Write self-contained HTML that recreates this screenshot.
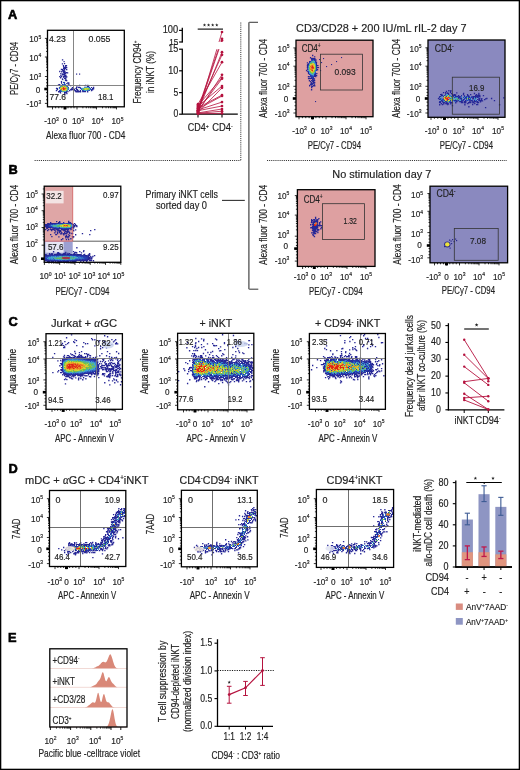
<!DOCTYPE html>
<html><head><meta charset="utf-8"><style>
html,body{margin:0;padding:0;background:#fff;overflow:hidden;width:520px;height:770px;}
svg{display:block;will-change:transform;}
</style></head><body>
<svg width="520" height="770" viewBox="0 0 520 770" font-family="'Liberation Sans', sans-serif" fill="#222">
<style>text{stroke:#222;stroke-width:0.15px;}</style>
<defs><filter id="bl" x="-50%" y="-50%" width="200%" height="200%"><feGaussianBlur stdDeviation="0.7"/></filter>
<filter id="pb" x="-5%" y="-5%" width="110%" height="110%"><feGaussianBlur stdDeviation="0.4"/></filter>
<filter id="bl2" x="-50%" y="-50%" width="200%" height="200%"><feGaussianBlur stdDeviation="1.2"/></filter></defs>
<rect width="520" height="770" fill="#fff"/>
<rect x="0.60" y="0.60" width="518.80" height="768.80" fill="none" stroke="#000" stroke-width="1.4"/>
<text x="8.00" y="18.80" font-size="12.8" font-weight="bold" fill="#000" style="stroke:#000;stroke-width:0.6px">A</text>
<text x="8.50" y="174.20" font-size="12.8" font-weight="bold" fill="#000" style="stroke:#000;stroke-width:0.6px">B</text>
<text x="8.50" y="325.60" font-size="12.8" font-weight="bold" fill="#000" style="stroke:#000;stroke-width:0.6px">C</text>
<text x="8.50" y="472.60" font-size="12.8" font-weight="bold" fill="#000" style="stroke:#000;stroke-width:0.6px">D</text>
<text x="8.00" y="641.60" font-size="12.8" font-weight="bold" fill="#000" style="stroke:#000;stroke-width:0.6px">E</text>
<g filter="url(#pb)"><path fill="#282896" d="M61.9 59.2h1.35v1.35h-1.35zM61.8 63.2h1.35v1.35h-1.35zM62.8 65.0h1.35v1.35h-1.35zM65.0 64.9h1.35v1.35h-1.35zM65.8 64.9h1.35v1.35h-1.35zM63.0 65.9h1.35v1.35h-1.35zM65.1 66.2h1.35v1.35h-1.35zM63.2 67.0h1.35v1.35h-1.35zM64.2 66.9h1.35v1.35h-1.35zM65.0 67.1h1.35v1.35h-1.35zM66.0 66.9h1.35v1.35h-1.35zM62.9 68.0h1.35v1.35h-1.35zM63.8 68.2h1.35v1.35h-1.35zM64.8 67.8h1.35v1.35h-1.35zM60.8 68.8h1.35v1.35h-1.35zM61.8 69.0h1.35v1.35h-1.35zM63.8 69.2h1.35v1.35h-1.35zM66.0 69.0h1.35v1.35h-1.35zM62.1 70.1h1.35v1.35h-1.35zM63.2 69.8h1.35v1.35h-1.35zM59.1 70.8h1.35v1.35h-1.35zM61.1 71.1h1.35v1.35h-1.35zM63.0 71.1h1.35v1.35h-1.35zM64.2 70.8h1.35v1.35h-1.35zM63.1 71.8h1.35v1.35h-1.35zM63.8 72.2h1.35v1.35h-1.35zM65.1 72.2h1.35v1.35h-1.35zM66.0 71.9h1.35v1.35h-1.35zM66.9 72.2h1.35v1.35h-1.35zM60.2 73.1h1.35v1.35h-1.35zM62.1 73.2h1.35v1.35h-1.35zM63.8 73.1h1.35v1.35h-1.35zM64.8 73.0h1.35v1.35h-1.35zM61.8 74.2h1.35v1.35h-1.35zM62.8 74.1h1.35v1.35h-1.35zM63.9 73.8h1.35v1.35h-1.35zM60.2 75.0h1.35v1.35h-1.35zM64.1 74.9h1.35v1.35h-1.35zM65.2 74.8h1.35v1.35h-1.35zM59.1 76.0h1.35v1.35h-1.35zM61.0 76.0h1.35v1.35h-1.35zM63.0 76.1h1.35v1.35h-1.35zM64.2 75.9h1.35v1.35h-1.35zM64.8 75.8h1.35v1.35h-1.35zM66.1 76.2h1.35v1.35h-1.35zM60.0 77.1h1.35v1.35h-1.35zM63.2 77.1h1.35v1.35h-1.35zM65.2 77.0h1.35v1.35h-1.35zM62.1 78.2h1.35v1.35h-1.35zM63.8 78.0h1.35v1.35h-1.35zM64.9 77.9h1.35v1.35h-1.35zM61.8 79.2h1.35v1.35h-1.35zM65.2 78.8h1.35v1.35h-1.35zM65.0 80.1h1.35v1.35h-1.35zM66.0 79.9h1.35v1.35h-1.35zM60.8 80.9h1.35v1.35h-1.35zM60.9 81.8h1.35v1.35h-1.35zM67.1 82.2h1.35v1.35h-1.35zM68.1 82.2h1.35v1.35h-1.35zM61.2 82.8h1.35v1.35h-1.35zM66.2 83.1h1.35v1.35h-1.35zM68.1 82.8h1.35v1.35h-1.35zM57.9 84.2h1.35v1.35h-1.35zM59.0 84.0h1.35v1.35h-1.35zM68.2 83.9h1.35v1.35h-1.35zM59.2 85.2h1.35v1.35h-1.35zM69.9 85.0h1.35v1.35h-1.35zM78.9 84.8h1.35v1.35h-1.35zM84.1 84.9h1.35v1.35h-1.35zM84.9 84.8h1.35v1.35h-1.35zM87.2 84.8h1.35v1.35h-1.35zM76.2 86.2h1.35v1.35h-1.35zM86.8 86.1h1.35v1.35h-1.35zM87.9 85.9h1.35v1.35h-1.35zM71.8 87.0h1.35v1.35h-1.35zM75.9 87.1h1.35v1.35h-1.35zM77.9 86.8h1.35v1.35h-1.35zM79.0 87.0h1.35v1.35h-1.35zM80.0 87.2h1.35v1.35h-1.35zM90.8 87.0h1.35v1.35h-1.35zM92.9 86.8h1.35v1.35h-1.35zM55.9 87.8h1.35v1.35h-1.35zM57.0 88.1h1.35v1.35h-1.35zM71.2 88.0h1.35v1.35h-1.35zM72.8 88.0h1.35v1.35h-1.35zM75.1 88.2h1.35v1.35h-1.35zM75.9 87.9h1.35v1.35h-1.35zM92.0 87.9h1.35v1.35h-1.35zM92.9 88.2h1.35v1.35h-1.35zM56.8 89.0h1.35v1.35h-1.35zM70.1 88.8h1.35v1.35h-1.35zM70.8 89.2h1.35v1.35h-1.35zM72.0 89.0h1.35v1.35h-1.35zM73.0 88.8h1.35v1.35h-1.35zM74.1 88.8h1.35v1.35h-1.35zM75.8 89.0h1.35v1.35h-1.35zM76.9 88.8h1.35v1.35h-1.35zM91.9 89.1h1.35v1.35h-1.35zM55.8 90.0h1.35v1.35h-1.35zM69.0 89.8h1.35v1.35h-1.35zM74.2 89.9h1.35v1.35h-1.35zM75.1 89.9h1.35v1.35h-1.35zM76.9 90.2h1.35v1.35h-1.35zM77.8 90.2h1.35v1.35h-1.35zM79.8 89.8h1.35v1.35h-1.35zM90.8 89.8h1.35v1.35h-1.35zM58.0 91.1h1.35v1.35h-1.35zM58.9 91.1h1.35v1.35h-1.35zM67.2 91.0h1.35v1.35h-1.35zM75.1 90.8h1.35v1.35h-1.35zM75.8 91.1h1.35v1.35h-1.35zM77.0 91.1h1.35v1.35h-1.35zM78.1 91.2h1.35v1.35h-1.35zM79.2 91.0h1.35v1.35h-1.35zM79.9 91.1h1.35v1.35h-1.35zM82.1 91.0h1.35v1.35h-1.35zM83.1 90.8h1.35v1.35h-1.35zM84.2 90.8h1.35v1.35h-1.35zM84.8 91.0h1.35v1.35h-1.35zM87.0 91.1h1.35v1.35h-1.35zM59.9 92.1h1.35v1.35h-1.35zM64.0 91.8h1.35v1.35h-1.35zM64.9 91.8h1.35v1.35h-1.35zM65.8 92.0h1.35v1.35h-1.35zM64.1 92.9h1.35v1.35h-1.35zM66.2 93.0h1.35v1.35h-1.35zM64.1 93.8h1.35v1.35h-1.35z"/><path fill="#e0e8f0" d="M63 78h1v1h-1zM64 79h1v1h-1zM62 80h3v1h-3zM62 81h4v1h-4zM62 82h1v1h-1zM65 82h1v1h-1zM62 83h2v1h-2zM65 83h1v1h-1zM61 84h1v1h-1zM66 84h1v1h-1zM60 85h1v1h-1zM67 85h1v1h-1zM59 86h1v1h-1zM68 86h1v1h-1zM58 87h1v1h-1zM81 87h3v1h-3zM90 87h1v1h-1zM58 88h1v1h-1zM69 88h2v1h-2zM77 88h3v1h-3zM91 88h1v1h-1zM58 89h2v1h-2zM69 89h1v1h-1zM75 89h1v1h-1zM78 89h3v1h-3zM68 90h1v1h-1zM81 90h1v1h-1zM90 90h1v1h-1zM61 92h3v1h-3z"/><path fill="#2840b0" d="M63 82h2v1h-2zM62 84h1v1h-1zM65 85h1v1h-1zM80 88h1v1h-1zM91 89h1v1h-1zM82 90h1v1h-1zM66 91h1v1h-1z"/><path fill="#3058b8" d="M64 83h1v1h-1zM90 88h1v1h-1zM89 90h1v1h-1z"/><path fill="#3880c8" d="M63 84h1v1h-1zM81 88h1v1h-1zM68 89h1v1h-1z"/><path fill="#2840b8" d="M64 84h1v1h-1zM60 91h1v1h-1z"/><path fill="#3878c8" d="M65 84h1v1h-1zM59 88h1v1h-1zM68 88h1v1h-1zM87 90h1v1h-1z"/><path fill="#3058c0" d="M61 85h1v1h-1zM67 86h1v1h-1zM81 89h1v1h-1z"/><path fill="#48a8d0" d="M62 85h1v1h-1z"/><path fill="#50b0a0" d="M63 85h2v1h-2zM61 90h1v1h-1z"/><path fill="#3060c0" d="M66 85h1v1h-1zM83 90h1v1h-1z"/><path fill="#3888d0" d="M60 86h1v1h-1z"/><path fill="#60b878" d="M61 86h1v1h-1zM60 89h1v1h-1z"/><path fill="#68b860" d="M62 86h1v1h-1z"/><path fill="#e0c830" d="M63 86h1v1h-1z"/><path fill="#80c048" d="M64 86h1v1h-1zM88 89h1v1h-1z"/><path fill="#c0d038" d="M65 86h1v1h-1zM86 89h1v1h-1zM63 90h1v1h-1z"/><path fill="#4090d0" d="M66 86h1v1h-1z"/><path fill="#2848b8" d="M59 87h1v1h-1zM68 87h1v1h-1zM89 87h1v1h-1zM60 90h1v1h-1z"/><path fill="#70c048" d="M60 87h1v1h-1z"/><path fill="#d8d838" d="M61 87h1v1h-1zM60 88h1v1h-1z"/><path fill="#e0b830" d="M62 87h1v1h-1zM64 87h1v1h-1z"/><path fill="#e04020" d="M63 87h1v1h-1zM64 88h1v1h-1z"/><path fill="#e8b028" d="M65 87h1v1h-1zM65 89h1v1h-1z"/><path fill="#b0d040" d="M66 87h1v1h-1zM86 88h1v1h-1z"/><path fill="#58b880" d="M67 87h1v1h-1z"/><path fill="#4098d0" d="M84 87h2v1h-2zM88 87h1v1h-1zM64 91h1v1h-1z"/><path fill="#50b0b0" d="M86 87h2v1h-2zM83 88h1v1h-1zM62 91h1v1h-1z"/><path fill="#e8a028" d="M61 88h1v1h-1z"/><path fill="#e87820" d="M62 88h1v1h-1z"/><path fill="#e02018" d="M63 88h1v1h-1zM63 89h1v1h-1z"/><path fill="#e86020" d="M65 88h1v1h-1zM61 89h1v1h-1z"/><path fill="#98c840" d="M66 88h1v1h-1zM84 89h1v1h-1z"/><path fill="#58b088" d="M67 88h1v1h-1z"/><path fill="#48a8c8" d="M82 88h1v1h-1z"/><path fill="#b8d038" d="M84 88h1v1h-1z"/><path fill="#d8d830" d="M85 88h1v1h-1zM87 88h1v1h-1z"/><path fill="#90c840" d="M88 88h1v1h-1z"/><path fill="#58b888" d="M89 88h1v1h-1zM63 91h1v1h-1z"/><path fill="#e0d830" d="M62 89h1v1h-1z"/><path fill="#e85820" d="M64 89h1v1h-1z"/><path fill="#e0d030" d="M66 89h1v1h-1zM65 90h1v1h-1z"/><path fill="#48a8b8" d="M67 89h1v1h-1zM67 90h1v1h-1z"/><path fill="#58b090" d="M82 89h1v1h-1zM89 89h1v1h-1z"/><path fill="#68c050" d="M83 89h1v1h-1z"/><path fill="#d0d838" d="M85 89h1v1h-1z"/><path fill="#88c848" d="M87 89h1v1h-1z"/><path fill="#3068c0" d="M90 89h1v1h-1zM61 91h1v1h-1z"/><path fill="#3050b8" d="M59 90h1v1h-1z"/><path fill="#e0b030" d="M62 90h1v1h-1z"/><path fill="#e0c030" d="M64 90h1v1h-1z"/><path fill="#60b870" d="M66 90h1v1h-1z"/><path fill="#40a8d0" d="M84 90h1v1h-1z"/><path fill="#40a0d8" d="M85 90h1v1h-1z"/><path fill="#58b098" d="M86 90h1v1h-1z"/><path fill="#3870c8" d="M88 90h1v1h-1z"/><path fill="#50b0a8" d="M65 91h1v1h-1z"/></g>
<rect x="76" y="73.5" width="1.2" height="1.2" fill="#2b2a8e"/><rect x="79" y="73.5" width="1.2" height="1.2" fill="#2b2a8e"/><rect x="63.5" y="61" width="1.2" height="1.2" fill="#2b2a8e"/><rect x="64" y="63" width="1.2" height="1.2" fill="#2b2a8e"/>
<line x1="73.50" y1="30.90" x2="73.50" y2="106.80" stroke="#777" stroke-width="0.9"/>
<line x1="47.50" y1="85.50" x2="124.30" y2="85.50" stroke="#777" stroke-width="0.9"/>
<line x1="46.00" y1="70.63" x2="47.50" y2="70.63" stroke="#000" stroke-width="0.8"/>
<line x1="46.00" y1="67.20" x2="47.50" y2="67.20" stroke="#000" stroke-width="0.8"/>
<line x1="46.00" y1="64.76" x2="47.50" y2="64.76" stroke="#000" stroke-width="0.8"/>
<line x1="46.00" y1="62.87" x2="47.50" y2="62.87" stroke="#000" stroke-width="0.8"/>
<line x1="46.00" y1="61.33" x2="47.50" y2="61.33" stroke="#000" stroke-width="0.8"/>
<line x1="46.00" y1="60.02" x2="47.50" y2="60.02" stroke="#000" stroke-width="0.8"/>
<line x1="46.00" y1="58.89" x2="47.50" y2="58.89" stroke="#000" stroke-width="0.8"/>
<line x1="46.00" y1="57.89" x2="47.50" y2="57.89" stroke="#000" stroke-width="0.8"/>
<line x1="46.00" y1="51.40" x2="47.50" y2="51.40" stroke="#000" stroke-width="0.8"/>
<line x1="46.00" y1="48.13" x2="47.50" y2="48.13" stroke="#000" stroke-width="0.8"/>
<line x1="46.00" y1="45.80" x2="47.50" y2="45.80" stroke="#000" stroke-width="0.8"/>
<line x1="46.00" y1="44.00" x2="47.50" y2="44.00" stroke="#000" stroke-width="0.8"/>
<line x1="46.00" y1="42.53" x2="47.50" y2="42.53" stroke="#000" stroke-width="0.8"/>
<line x1="46.00" y1="41.28" x2="47.50" y2="41.28" stroke="#000" stroke-width="0.8"/>
<line x1="46.00" y1="40.20" x2="47.50" y2="40.20" stroke="#000" stroke-width="0.8"/>
<line x1="46.00" y1="39.25" x2="47.50" y2="39.25" stroke="#000" stroke-width="0.8"/>
<line x1="46.00" y1="85.88" x2="47.50" y2="85.88" stroke="#000" stroke-width="0.8"/>
<line x1="46.00" y1="92.60" x2="47.50" y2="92.60" stroke="#000" stroke-width="0.8"/>
<line x1="46.00" y1="82.75" x2="47.50" y2="82.75" stroke="#000" stroke-width="0.8"/>
<line x1="46.00" y1="96.20" x2="47.50" y2="96.20" stroke="#000" stroke-width="0.8"/>
<line x1="46.00" y1="79.62" x2="47.50" y2="79.62" stroke="#000" stroke-width="0.8"/>
<line x1="46.00" y1="99.80" x2="47.50" y2="99.80" stroke="#000" stroke-width="0.8"/>
<line x1="44.90" y1="38.40" x2="47.50" y2="38.40" stroke="#000" stroke-width="0.8"/>
<line x1="44.90" y1="57.00" x2="47.50" y2="57.00" stroke="#000" stroke-width="0.8"/>
<line x1="44.90" y1="76.50" x2="47.50" y2="76.50" stroke="#000" stroke-width="0.8"/>
<line x1="44.90" y1="89.00" x2="47.50" y2="89.00" stroke="#000" stroke-width="0.8"/>
<line x1="44.90" y1="103.40" x2="47.50" y2="103.40" stroke="#000" stroke-width="0.8"/>
<line x1="82.87" y1="106.80" x2="82.87" y2="108.30" stroke="#000" stroke-width="0.8"/>
<line x1="86.30" y1="106.80" x2="86.30" y2="108.30" stroke="#000" stroke-width="0.8"/>
<line x1="88.74" y1="106.80" x2="88.74" y2="108.30" stroke="#000" stroke-width="0.8"/>
<line x1="90.63" y1="106.80" x2="90.63" y2="108.30" stroke="#000" stroke-width="0.8"/>
<line x1="92.17" y1="106.80" x2="92.17" y2="108.30" stroke="#000" stroke-width="0.8"/>
<line x1="93.48" y1="106.80" x2="93.48" y2="108.30" stroke="#000" stroke-width="0.8"/>
<line x1="94.61" y1="106.80" x2="94.61" y2="108.30" stroke="#000" stroke-width="0.8"/>
<line x1="95.61" y1="106.80" x2="95.61" y2="108.30" stroke="#000" stroke-width="0.8"/>
<line x1="102.52" y1="106.80" x2="102.52" y2="108.30" stroke="#000" stroke-width="0.8"/>
<line x1="106.04" y1="106.80" x2="106.04" y2="108.30" stroke="#000" stroke-width="0.8"/>
<line x1="108.54" y1="106.80" x2="108.54" y2="108.30" stroke="#000" stroke-width="0.8"/>
<line x1="110.48" y1="106.80" x2="110.48" y2="108.30" stroke="#000" stroke-width="0.8"/>
<line x1="112.06" y1="106.80" x2="112.06" y2="108.30" stroke="#000" stroke-width="0.8"/>
<line x1="113.40" y1="106.80" x2="113.40" y2="108.30" stroke="#000" stroke-width="0.8"/>
<line x1="114.56" y1="106.80" x2="114.56" y2="108.30" stroke="#000" stroke-width="0.8"/>
<line x1="115.58" y1="106.80" x2="115.58" y2="108.30" stroke="#000" stroke-width="0.8"/>
<line x1="68.00" y1="106.80" x2="68.00" y2="108.30" stroke="#000" stroke-width="0.8"/>
<line x1="61.88" y1="106.80" x2="61.88" y2="108.30" stroke="#000" stroke-width="0.8"/>
<line x1="71.00" y1="106.80" x2="71.00" y2="108.30" stroke="#000" stroke-width="0.8"/>
<line x1="58.75" y1="106.80" x2="58.75" y2="108.30" stroke="#000" stroke-width="0.8"/>
<line x1="74.00" y1="106.80" x2="74.00" y2="108.30" stroke="#000" stroke-width="0.8"/>
<line x1="55.62" y1="106.80" x2="55.62" y2="108.30" stroke="#000" stroke-width="0.8"/>
<line x1="52.50" y1="106.80" x2="52.50" y2="109.40" stroke="#000" stroke-width="0.8"/>
<line x1="65.00" y1="106.80" x2="65.00" y2="109.40" stroke="#000" stroke-width="0.8"/>
<line x1="77.00" y1="106.80" x2="77.00" y2="109.40" stroke="#000" stroke-width="0.8"/>
<line x1="96.50" y1="106.80" x2="96.50" y2="109.40" stroke="#000" stroke-width="0.8"/>
<line x1="116.50" y1="106.80" x2="116.50" y2="109.40" stroke="#000" stroke-width="0.8"/>
<rect x="44.30" y="87.70" width="3.20" height="2.60" fill="#000"/>
<rect x="63.50" y="106.80" width="3.00" height="2.60" fill="#000"/>
<rect x="47.50" y="30.30" width="76.80" height="76.50" fill="none" stroke="#000" stroke-width="1.3"/>
<text x="41.20" y="42.20" font-size="8.2" text-anchor="end" transform="translate(41.20 42.20) scale(1 1.18) translate(-41.20 -42.20)">10<tspan dy="-3" font-size="5">5</tspan></text>
<text x="41.20" y="60.80" font-size="8.2" text-anchor="end" transform="translate(41.20 60.80) scale(1 1.18) translate(-41.20 -60.80)">10<tspan dy="-3" font-size="5">4</tspan></text>
<text x="41.20" y="80.30" font-size="8.2" text-anchor="end" transform="translate(41.20 80.30) scale(1 1.18) translate(-41.20 -80.30)">10<tspan dy="-3" font-size="5">3</tspan></text>
<text x="40.20" y="92.80" font-size="8.2" text-anchor="end" transform="translate(40.20 92.80) scale(1 1.18) translate(-40.20 -92.80)">0</text>
<text x="41.20" y="107.20" font-size="8.2" text-anchor="end" transform="translate(41.20 107.20) scale(1 1.18) translate(-41.20 -107.20)">-10<tspan dy="-3" font-size="5">3</tspan></text>
<text x="78.00" y="124.40" font-size="8.2" text-anchor="middle" transform="translate(78.00 124.40) scale(1 1.18) translate(-78.00 -124.40)">10<tspan dy="-3" font-size="5">3</tspan></text>
<text x="97.50" y="124.40" font-size="8.2" text-anchor="middle" transform="translate(97.50 124.40) scale(1 1.18) translate(-97.50 -124.40)">10<tspan dy="-3" font-size="5">4</tspan></text>
<text x="117.50" y="124.40" font-size="8.2" text-anchor="middle" transform="translate(117.50 124.40) scale(1 1.18) translate(-117.50 -124.40)">10<tspan dy="-3" font-size="5">5</tspan></text>
<text x="65.00" y="124.40" font-size="8.2" text-anchor="middle" transform="translate(65.00 124.40) scale(1 1.18) translate(-65.00 -124.40)">0</text>
<text x="51.50" y="124.40" font-size="8.2" text-anchor="middle" transform="translate(51.50 124.40) scale(1 1.18) translate(-51.50 -124.40)">-10<tspan dy="-3" font-size="5">3</tspan></text>
<text x="17.60" y="68.50" font-size="9.0" text-anchor="middle" textLength="53.00" lengthAdjust="spacingAndGlyphs" transform="rotate(-90 17.60 68.50) translate(17.60 68.50) scale(1 1.18) translate(-17.60 -68.50)">PE/Cy7 - CD94</text>
<text x="46.00" y="138.60" font-size="9.0" textLength="79.50" lengthAdjust="spacingAndGlyphs" transform="translate(46.00 138.60) scale(1 1.18) translate(-46.00 -138.60)">Alexa fluor 700 - CD4</text>
<text x="49.00" y="41.60" font-size="8.2" textLength="16.80" lengthAdjust="spacingAndGlyphs" transform="translate(49.00 41.60) scale(1 1.18) translate(-49.00 -41.60)">4.23</text>
<text x="88.50" y="41.60" font-size="8.2" textLength="22.00" lengthAdjust="spacingAndGlyphs" transform="translate(88.50 41.60) scale(1 1.18) translate(-88.50 -41.60)">0.055</text>
<text x="49.50" y="100.40" font-size="8.2" textLength="16.50" lengthAdjust="spacingAndGlyphs" transform="translate(49.50 100.40) scale(1 1.18) translate(-49.50 -100.40)">77.6</text>
<text x="98.00" y="100.40" font-size="8.2" textLength="15.40" lengthAdjust="spacingAndGlyphs" transform="translate(98.00 100.40) scale(1 1.18) translate(-98.00 -100.40)">18.1</text>
<line x1="182.30" y1="49.20" x2="182.30" y2="114.60" stroke="#000" stroke-width="1.3"/>
<line x1="182.30" y1="27.80" x2="182.30" y2="42.20" stroke="#000" stroke-width="1.3"/>
<line x1="179.10" y1="114.20" x2="182.30" y2="114.20" stroke="#000" stroke-width="1.2"/>
<line x1="179.10" y1="92.60" x2="182.30" y2="92.60" stroke="#000" stroke-width="1.2"/>
<line x1="179.10" y1="70.80" x2="182.30" y2="70.80" stroke="#000" stroke-width="1.2"/>
<line x1="179.10" y1="49.20" x2="182.90" y2="49.20" stroke="#000" stroke-width="1.2"/>
<line x1="179.10" y1="42.00" x2="182.90" y2="42.00" stroke="#000" stroke-width="1.2"/>
<line x1="179.10" y1="30.40" x2="182.30" y2="30.40" stroke="#000" stroke-width="1.2"/>
<line x1="182.30" y1="114.20" x2="237.80" y2="114.20" stroke="#000" stroke-width="1.3"/>
<line x1="198.00" y1="114.20" x2="198.00" y2="117.60" stroke="#000" stroke-width="1.1"/>
<line x1="222.00" y1="114.20" x2="222.00" y2="117.60" stroke="#000" stroke-width="1.1"/>
<text x="178.20" y="117.40" font-size="8.8" text-anchor="end" textLength="4.80" lengthAdjust="spacingAndGlyphs" transform="translate(178.20 117.40) scale(1 1.18) translate(-178.20 -117.40)">0</text>
<text x="178.20" y="95.80" font-size="8.8" text-anchor="end" textLength="4.80" lengthAdjust="spacingAndGlyphs" transform="translate(178.20 95.80) scale(1 1.18) translate(-178.20 -95.80)">5</text>
<text x="178.20" y="74.00" font-size="8.8" text-anchor="end" textLength="10.00" lengthAdjust="spacingAndGlyphs" transform="translate(178.20 74.00) scale(1 1.18) translate(-178.20 -74.00)">10</text>
<text x="178.20" y="52.40" font-size="8.8" text-anchor="end" textLength="10.00" lengthAdjust="spacingAndGlyphs" transform="translate(178.20 52.40) scale(1 1.18) translate(-178.20 -52.40)">15</text>
<text x="178.20" y="44.80" font-size="8.2" text-anchor="end" textLength="9.00" lengthAdjust="spacingAndGlyphs" transform="translate(178.20 44.80) scale(1 1.18) translate(-178.20 -44.80)">15</text>
<text x="178.20" y="33.40" font-size="8.8" text-anchor="end" textLength="15.50" lengthAdjust="spacingAndGlyphs" transform="translate(178.20 33.40) scale(1 1.18) translate(-178.20 -33.40)">100</text>
<path d="M198 113.8L222 113.3M198 112.9L222 109.0M198 110.7L222 106.0M198 109.9L222 102.1M198 109.0L222 96.0M198 107.7L222 95.1M198 112.5L222 87.8M198 106.4L222 86.0M198 110.3L222 78.7M198 105.5L222 77.8M198 111.6L222 74.8M198 104.2L222 62.2M198 108.1L222 54.8M198 111.2L222 52.2M198 113.3L222 111.2M198 112.9L216.9 49.2M219.0 42L222 32.0M198 108.6L218.4 49.2M220.9 42L222 38.8M198 110.7L219.0 49.2M221.5 42L222 40.4" stroke="#b5123e" stroke-width="0.8" fill="none"/>
<g fill="#b5123e"><circle cx="198.0" cy="113.8" r="1.35"/><circle cx="222.0" cy="113.3" r="1.35"/><circle cx="198.0" cy="112.9" r="1.35"/><circle cx="222.0" cy="109.0" r="1.35"/><circle cx="198.0" cy="110.7" r="1.35"/><circle cx="222.0" cy="106.0" r="1.35"/><circle cx="198.0" cy="109.9" r="1.35"/><circle cx="222.0" cy="102.1" r="1.35"/><circle cx="198.0" cy="109.0" r="1.35"/><circle cx="222.0" cy="96.0" r="1.35"/><circle cx="198.0" cy="107.7" r="1.35"/><circle cx="222.0" cy="95.1" r="1.35"/><circle cx="198.0" cy="112.5" r="1.35"/><circle cx="222.0" cy="87.8" r="1.35"/><circle cx="198.0" cy="106.4" r="1.35"/><circle cx="222.0" cy="86.0" r="1.35"/><circle cx="198.0" cy="110.3" r="1.35"/><circle cx="222.0" cy="78.7" r="1.35"/><circle cx="198.0" cy="105.5" r="1.35"/><circle cx="222.0" cy="77.8" r="1.35"/><circle cx="198.0" cy="111.6" r="1.35"/><circle cx="222.0" cy="74.8" r="1.35"/><circle cx="198.0" cy="104.2" r="1.35"/><circle cx="222.0" cy="62.2" r="1.35"/><circle cx="198.0" cy="108.1" r="1.35"/><circle cx="222.0" cy="54.8" r="1.35"/><circle cx="198.0" cy="111.2" r="1.35"/><circle cx="222.0" cy="52.2" r="1.35"/><circle cx="198.0" cy="113.3" r="1.35"/><circle cx="222.0" cy="111.2" r="1.35"/><circle cx="198.0" cy="112.9" r="1.35"/><circle cx="222.0" cy="32.0" r="1.35"/><circle cx="198.0" cy="108.6" r="1.35"/><circle cx="222.0" cy="38.8" r="1.35"/><circle cx="198.0" cy="110.7" r="1.35"/><circle cx="222.0" cy="40.4" r="1.35"/></g>
<line x1="197.70" y1="29.10" x2="223.00" y2="29.10" stroke="#000" stroke-width="1.1"/>
<polygon points="204.50,23.30 204.94,24.39 206.12,24.47 205.21,25.23 205.50,26.38 204.50,25.75 203.50,26.38 203.79,25.23 202.88,24.47 204.06,24.39" fill="#222"/>
<polygon points="208.60,23.30 209.04,24.39 210.22,24.47 209.31,25.23 209.60,26.38 208.60,25.75 207.60,26.38 207.89,25.23 206.98,24.47 208.16,24.39" fill="#222"/>
<polygon points="212.70,23.30 213.14,24.39 214.32,24.47 213.41,25.23 213.70,26.38 212.70,25.75 211.70,26.38 211.99,25.23 211.08,24.47 212.26,24.39" fill="#222"/>
<polygon points="216.80,23.30 217.24,24.39 218.42,24.47 217.51,25.23 217.80,26.38 216.80,25.75 215.80,26.38 216.09,25.23 215.18,24.47 216.36,24.39" fill="#222"/>
<text x="141.00" y="72.00" font-size="9.0" text-anchor="middle" textLength="63.00" lengthAdjust="spacingAndGlyphs" transform="rotate(-90 141.00 72.00) translate(141.00 72.00) scale(1 1.18) translate(-141.00 -72.00)">Frequency CD94<tspan dy="-3.2" font-size="5.2">+</tspan><tspan dy="3.2"></tspan></text>
<text x="154.00" y="72.00" font-size="9.0" text-anchor="middle" textLength="42.00" lengthAdjust="spacingAndGlyphs" transform="rotate(-90 154.00 72.00) translate(154.00 72.00) scale(1 1.18) translate(-154.00 -72.00)">in iNKT (%)</text>
<text x="187.70" y="131.50" font-size="8.8" textLength="21.00" lengthAdjust="spacingAndGlyphs" transform="translate(187.70 131.50) scale(1 1.18) translate(-187.70 -131.50)">CD4<tspan dy="-3.2" font-size="5">+</tspan></text>
<text x="212.30" y="131.50" font-size="8.8" textLength="20.50" lengthAdjust="spacingAndGlyphs" transform="translate(212.30 131.50) scale(1 1.18) translate(-212.30 -131.50)">CD4<tspan dy="-3.2" font-size="5">-</tspan></text>
<line x1="240.80" y1="22.50" x2="240.80" y2="160.50" stroke="#222" stroke-width="0.9" stroke-dasharray="1.1 1"/>
<line x1="34.60" y1="160.50" x2="240.80" y2="160.50" stroke="#222" stroke-width="0.9" stroke-dasharray="1.1 1"/>
<line x1="267.00" y1="160.50" x2="507.00" y2="160.50" stroke="#222" stroke-width="0.9" stroke-dasharray="1.1 1"/>
<line x1="248.90" y1="22.30" x2="248.90" y2="289.20" stroke="#444" stroke-width="1.2"/>
<line x1="249.20" y1="22.30" x2="258.00" y2="22.30" stroke="#444" stroke-width="1.1"/>
<line x1="249.20" y1="289.20" x2="258.30" y2="289.20" stroke="#444" stroke-width="1.1"/>
<line x1="222.00" y1="200.40" x2="244.80" y2="200.40" stroke="#333" stroke-width="1.1"/>
<text x="296.00" y="32.30" font-size="10.0" textLength="170.50" lengthAdjust="spacingAndGlyphs" transform="translate(296.00 32.30) scale(1 1.18) translate(-296.00 -32.30)">CD3/CD28 + 200 IU/mL rIL-2 day 7</text>
<text x="332.30" y="178.20" font-size="10.0" textLength="99.00" lengthAdjust="spacingAndGlyphs" transform="translate(332.30 178.20) scale(1 1.18) translate(-332.30 -178.20)">No stimulation day 7</text>
<rect x="296.00" y="40.20" width="77.00" height="76.50" fill="#dea0a1"/>
<g filter="url(#pb)"><path fill="#282896" d="M312.0 54.8h1.35v1.35h-1.35zM314.0 56.2h1.35v1.35h-1.35zM309.9 57.1h1.35v1.35h-1.35zM311.0 58.1h1.35v1.35h-1.35zM312.2 57.8h1.35v1.35h-1.35zM313.1 58.1h1.35v1.35h-1.35zM314.2 57.9h1.35v1.35h-1.35zM313.9 59.0h1.35v1.35h-1.35zM315.2 59.2h1.35v1.35h-1.35zM315.1 60.2h1.35v1.35h-1.35zM306.8 62.2h1.35v1.35h-1.35zM315.8 61.8h1.35v1.35h-1.35zM307.9 63.2h1.35v1.35h-1.35zM307.1 64.0h1.35v1.35h-1.35zM308.1 63.8h1.35v1.35h-1.35zM306.8 64.8h1.35v1.35h-1.35zM315.9 64.8h1.35v1.35h-1.35zM317.2 65.0h1.35v1.35h-1.35zM306.9 65.8h1.35v1.35h-1.35zM306.8 67.0h1.35v1.35h-1.35zM316.8 66.9h1.35v1.35h-1.35zM307.2 68.0h1.35v1.35h-1.35zM307.1 68.9h1.35v1.35h-1.35zM316.9 69.1h1.35v1.35h-1.35zM305.9 69.8h1.35v1.35h-1.35zM307.2 71.0h1.35v1.35h-1.35zM307.9 72.8h1.35v1.35h-1.35zM316.1 73.0h1.35v1.35h-1.35zM314.8 74.0h1.35v1.35h-1.35zM313.8 74.9h1.35v1.35h-1.35zM314.8 75.1h1.35v1.35h-1.35zM315.9 75.0h1.35v1.35h-1.35zM307.8 76.1h1.35v1.35h-1.35zM308.9 76.2h1.35v1.35h-1.35zM315.0 76.0h1.35v1.35h-1.35zM307.9 78.0h1.35v1.35h-1.35zM309.0 78.0h1.35v1.35h-1.35zM310.2 77.8h1.35v1.35h-1.35zM313.8 78.2h1.35v1.35h-1.35zM313.2 79.0h1.35v1.35h-1.35zM308.8 80.1h1.35v1.35h-1.35zM312.1 79.8h1.35v1.35h-1.35zM313.9 79.9h1.35v1.35h-1.35zM310.0 81.1h1.35v1.35h-1.35zM313.0 80.9h1.35v1.35h-1.35zM311.2 82.0h1.35v1.35h-1.35zM313.0 81.9h1.35v1.35h-1.35zM314.0 82.1h1.35v1.35h-1.35zM310.2 83.2h1.35v1.35h-1.35zM311.0 82.8h1.35v1.35h-1.35zM313.1 82.8h1.35v1.35h-1.35zM309.8 83.9h1.35v1.35h-1.35zM311.1 84.1h1.35v1.35h-1.35zM313.8 84.2h1.35v1.35h-1.35zM309.0 85.1h1.35v1.35h-1.35zM312.9 85.1h1.35v1.35h-1.35zM314.1 85.2h1.35v1.35h-1.35zM311.1 85.8h1.35v1.35h-1.35zM311.0 86.9h1.35v1.35h-1.35zM310.9 89.1h1.35v1.35h-1.35z"/><path fill="#2830a0" d="M311 59h2v1h-2zM315 61h1v1h-1zM315 73h1v1h-1zM309 74h1v1h-1zM311 77h1v1h-1zM311 80h1v1h-1zM312 81h1v1h-1zM312 83h1v1h-1z"/><path fill="#2838a8" d="M313 59h1v1h-1zM310 61h1v1h-1zM309 62h1v1h-1zM314 74h1v1h-1zM310 76h2v1h-2zM312 78h1v1h-1zM312 84h1v1h-1z"/><path fill="#3050b8" d="M311 60h1v1h-1z"/><path fill="#2848b8" d="M312 60h1v1h-1zM308 65h1v1h-1zM308 71h1v1h-1zM311 75h1v1h-1z"/><path fill="#3878c8" d="M313 60h1v1h-1zM309 63h1v1h-1zM315 63h1v1h-1zM308 66h1v1h-1zM308 67h1v1h-1zM308 69h1v1h-1zM309 73h1v1h-1z"/><path fill="#2838b0" d="M314 60h1v1h-1zM310 75h1v1h-1z"/><path fill="#282898" d="M309 61h1v1h-1zM316 63h1v1h-1zM316 64h1v1h-1zM314 76h1v1h-1zM311 78h1v1h-1zM313 78h1v1h-1zM312 79h1v1h-1zM312 86h1v1h-1z"/><path fill="#3880c8" d="M311 61h1v1h-1zM310 62h1v1h-1zM315 71h1v1h-1zM314 73h1v1h-1zM313 75h1v1h-1z"/><path fill="#58b880" d="M312 61h1v1h-1zM315 68h1v1h-1z"/><path fill="#58b098" d="M313 61h1v1h-1z"/><path fill="#48a8c8" d="M314 61h1v1h-1zM309 72h1v1h-1z"/><path fill="#68c058" d="M311 62h1v1h-1zM310 72h1v1h-1z"/><path fill="#48a8c0" d="M312 62h1v1h-1z"/><path fill="#50b0a8" d="M313 62h1v1h-1zM314 63h1v1h-1z"/><path fill="#4090d0" d="M314 62h1v1h-1zM309 71h1v1h-1zM311 74h1v1h-1z"/><path fill="#2840b0" d="M315 62h1v1h-1zM316 66h1v1h-1zM316 67h1v1h-1zM316 68h1v1h-1zM316 69h1v1h-1zM316 70h1v1h-1zM312 77h1v1h-1z"/><path fill="#70c048" d="M310 63h1v1h-1zM312 73h1v1h-1z"/><path fill="#78c048" d="M311 63h1v1h-1zM314 70h1v1h-1z"/><path fill="#e0c030" d="M312 63h1v1h-1zM311 64h1v1h-1zM310 65h1v1h-1zM314 67h1v1h-1z"/><path fill="#d0d838" d="M313 63h1v1h-1zM314 65h1v1h-1z"/><path fill="#50b0b0" d="M309 64h1v1h-1zM313 74h1v1h-1z"/><path fill="#d8d830" d="M310 64h1v1h-1z"/><path fill="#e0b830" d="M312 64h2v1h-2zM313 65h1v1h-1zM314 68h1v1h-1z"/><path fill="#c8d038" d="M314 64h1v1h-1z"/><path fill="#3890d0" d="M315 64h1v1h-1z"/><path fill="#80c048" d="M309 65h1v1h-1zM309 67h1v1h-1zM310 71h1v1h-1z"/><path fill="#e88020" d="M311 65h1v1h-1zM311 68h1v1h-1zM310 69h1v1h-1zM312 69h1v1h-1z"/><path fill="#e85820" d="M312 65h1v1h-1z"/><path fill="#50b098" d="M315 65h1v1h-1z"/><path fill="#a8d040" d="M309 66h1v1h-1zM312 72h1v1h-1z"/><path fill="#e86820" d="M310 66h1v1h-1z"/><path fill="#e87820" d="M311 66h1v1h-1zM311 69h1v1h-1z"/><path fill="#e02018" d="M312 66h1v1h-1zM312 67h1v1h-1z"/><path fill="#e89028" d="M313 66h1v1h-1z"/><path fill="#e0d030" d="M314 66h1v1h-1zM310 70h1v1h-1zM311 71h1v1h-1z"/><path fill="#60b860" d="M315 66h1v1h-1z"/><path fill="#e8a828" d="M310 67h1v1h-1zM313 71h1v1h-1z"/><path fill="#e04020" d="M311 67h1v1h-1z"/><path fill="#e03820" d="M313 67h1v1h-1z"/><path fill="#68c050" d="M315 67h1v1h-1z"/><path fill="#4098d0" d="M308 68h1v1h-1zM314 72h1v1h-1z"/><path fill="#60b870" d="M309 68h1v1h-1zM315 69h1v1h-1z"/><path fill="#e89828" d="M310 68h1v1h-1z"/><path fill="#e05020" d="M312 68h1v1h-1z"/><path fill="#e85020" d="M313 68h1v1h-1z"/><path fill="#88c848" d="M309 69h1v1h-1zM309 70h1v1h-1z"/><path fill="#e0d830" d="M313 69h1v1h-1zM313 70h1v1h-1z"/><path fill="#e0c830" d="M314 69h1v1h-1z"/><path fill="#40a0d8" d="M308 70h1v1h-1zM310 73h1v1h-1z"/><path fill="#e87020" d="M311 70h1v1h-1z"/><path fill="#e03018" d="M312 70h1v1h-1z"/><path fill="#3870c8" d="M315 70h1v1h-1z"/><path fill="#e8a028" d="M312 71h1v1h-1z"/><path fill="#68c048" d="M314 71h1v1h-1z"/><path fill="#282890" d="M308 72h1v1h-1zM313 80h1v1h-1z"/><path fill="#98c840" d="M311 72h1v1h-1z"/><path fill="#a0c840" d="M313 72h1v1h-1z"/><path fill="#3058b8" d="M315 72h1v1h-1z"/><path fill="#58b888" d="M311 73h1v1h-1z"/><path fill="#40a8d0" d="M313 73h1v1h-1z"/><path fill="#3068c0" d="M310 74h1v1h-1z"/><path fill="#50b0b8" d="M312 74h1v1h-1z"/><path fill="#3058c0" d="M312 75h1v1h-1z"/><path fill="#2840b8" d="M312 76h2v1h-2z"/><path fill="#2830a8" d="M313 77h1v1h-1z"/></g>
<rect x="319" y="59" width="1.1" height="1.1" fill="#2b2a8e"/><rect x="321" y="62" width="1.1" height="1.1" fill="#2b2a8e"/><rect x="323" y="58" width="1.1" height="1.1" fill="#2b2a8e"/><rect x="326" y="66" width="1.1" height="1.1" fill="#2b2a8e"/><rect x="331" y="64" width="1.1" height="1.1" fill="#2b2a8e"/><rect x="336" y="61" width="1.1" height="1.1" fill="#2b2a8e"/><rect x="341" y="57" width="1.1" height="1.1" fill="#2b2a8e"/><rect x="318" y="67" width="1.1" height="1.1" fill="#2b2a8e"/><rect x="320" y="70" width="1.1" height="1.1" fill="#2b2a8e"/><rect x="315" y="101" width="1.1" height="1.1" fill="#2b2a8e"/>
<rect x="320.40" y="54.20" width="42.10" height="35.80" fill="none" stroke="#333" stroke-width="0.8"/>
<line x1="294.50" y1="80.25" x2="296.00" y2="80.25" stroke="#000" stroke-width="0.8"/>
<line x1="294.50" y1="76.71" x2="296.00" y2="76.71" stroke="#000" stroke-width="0.8"/>
<line x1="294.50" y1="74.20" x2="296.00" y2="74.20" stroke="#000" stroke-width="0.8"/>
<line x1="294.50" y1="72.25" x2="296.00" y2="72.25" stroke="#000" stroke-width="0.8"/>
<line x1="294.50" y1="70.66" x2="296.00" y2="70.66" stroke="#000" stroke-width="0.8"/>
<line x1="294.50" y1="69.31" x2="296.00" y2="69.31" stroke="#000" stroke-width="0.8"/>
<line x1="294.50" y1="68.15" x2="296.00" y2="68.15" stroke="#000" stroke-width="0.8"/>
<line x1="294.50" y1="67.12" x2="296.00" y2="67.12" stroke="#000" stroke-width="0.8"/>
<line x1="294.50" y1="60.69" x2="296.00" y2="60.69" stroke="#000" stroke-width="0.8"/>
<line x1="294.50" y1="57.47" x2="296.00" y2="57.47" stroke="#000" stroke-width="0.8"/>
<line x1="294.50" y1="55.18" x2="296.00" y2="55.18" stroke="#000" stroke-width="0.8"/>
<line x1="294.50" y1="53.41" x2="296.00" y2="53.41" stroke="#000" stroke-width="0.8"/>
<line x1="294.50" y1="51.96" x2="296.00" y2="51.96" stroke="#000" stroke-width="0.8"/>
<line x1="294.50" y1="50.73" x2="296.00" y2="50.73" stroke="#000" stroke-width="0.8"/>
<line x1="294.50" y1="49.67" x2="296.00" y2="49.67" stroke="#000" stroke-width="0.8"/>
<line x1="294.50" y1="48.74" x2="296.00" y2="48.74" stroke="#000" stroke-width="0.8"/>
<line x1="294.50" y1="95.45" x2="296.00" y2="95.45" stroke="#000" stroke-width="0.8"/>
<line x1="294.50" y1="102.12" x2="296.00" y2="102.12" stroke="#000" stroke-width="0.8"/>
<line x1="294.50" y1="92.40" x2="296.00" y2="92.40" stroke="#000" stroke-width="0.8"/>
<line x1="294.50" y1="105.75" x2="296.00" y2="105.75" stroke="#000" stroke-width="0.8"/>
<line x1="294.50" y1="89.35" x2="296.00" y2="89.35" stroke="#000" stroke-width="0.8"/>
<line x1="294.50" y1="109.38" x2="296.00" y2="109.38" stroke="#000" stroke-width="0.8"/>
<line x1="293.40" y1="47.90" x2="296.00" y2="47.90" stroke="#000" stroke-width="0.8"/>
<line x1="293.40" y1="66.20" x2="296.00" y2="66.20" stroke="#000" stroke-width="0.8"/>
<line x1="293.40" y1="86.30" x2="296.00" y2="86.30" stroke="#000" stroke-width="0.8"/>
<line x1="293.40" y1="98.50" x2="296.00" y2="98.50" stroke="#000" stroke-width="0.8"/>
<line x1="293.40" y1="113.00" x2="296.00" y2="113.00" stroke="#000" stroke-width="0.8"/>
<line x1="332.02" y1="116.70" x2="332.02" y2="118.20" stroke="#000" stroke-width="0.8"/>
<line x1="335.54" y1="116.70" x2="335.54" y2="118.20" stroke="#000" stroke-width="0.8"/>
<line x1="338.04" y1="116.70" x2="338.04" y2="118.20" stroke="#000" stroke-width="0.8"/>
<line x1="339.98" y1="116.70" x2="339.98" y2="118.20" stroke="#000" stroke-width="0.8"/>
<line x1="341.56" y1="116.70" x2="341.56" y2="118.20" stroke="#000" stroke-width="0.8"/>
<line x1="342.90" y1="116.70" x2="342.90" y2="118.20" stroke="#000" stroke-width="0.8"/>
<line x1="344.06" y1="116.70" x2="344.06" y2="118.20" stroke="#000" stroke-width="0.8"/>
<line x1="345.08" y1="116.70" x2="345.08" y2="118.20" stroke="#000" stroke-width="0.8"/>
<line x1="352.02" y1="116.70" x2="352.02" y2="118.20" stroke="#000" stroke-width="0.8"/>
<line x1="355.54" y1="116.70" x2="355.54" y2="118.20" stroke="#000" stroke-width="0.8"/>
<line x1="358.04" y1="116.70" x2="358.04" y2="118.20" stroke="#000" stroke-width="0.8"/>
<line x1="359.98" y1="116.70" x2="359.98" y2="118.20" stroke="#000" stroke-width="0.8"/>
<line x1="361.56" y1="116.70" x2="361.56" y2="118.20" stroke="#000" stroke-width="0.8"/>
<line x1="362.90" y1="116.70" x2="362.90" y2="118.20" stroke="#000" stroke-width="0.8"/>
<line x1="364.06" y1="116.70" x2="364.06" y2="118.20" stroke="#000" stroke-width="0.8"/>
<line x1="365.08" y1="116.70" x2="365.08" y2="118.20" stroke="#000" stroke-width="0.8"/>
<line x1="315.88" y1="116.70" x2="315.88" y2="118.20" stroke="#000" stroke-width="0.8"/>
<line x1="309.12" y1="116.70" x2="309.12" y2="118.20" stroke="#000" stroke-width="0.8"/>
<line x1="319.25" y1="116.70" x2="319.25" y2="118.20" stroke="#000" stroke-width="0.8"/>
<line x1="305.75" y1="116.70" x2="305.75" y2="118.20" stroke="#000" stroke-width="0.8"/>
<line x1="322.62" y1="116.70" x2="322.62" y2="118.20" stroke="#000" stroke-width="0.8"/>
<line x1="302.38" y1="116.70" x2="302.38" y2="118.20" stroke="#000" stroke-width="0.8"/>
<line x1="299.00" y1="116.70" x2="299.00" y2="119.30" stroke="#000" stroke-width="0.8"/>
<line x1="312.50" y1="116.70" x2="312.50" y2="119.30" stroke="#000" stroke-width="0.8"/>
<line x1="326.00" y1="116.70" x2="326.00" y2="119.30" stroke="#000" stroke-width="0.8"/>
<line x1="346.00" y1="116.70" x2="346.00" y2="119.30" stroke="#000" stroke-width="0.8"/>
<line x1="366.00" y1="116.70" x2="366.00" y2="119.30" stroke="#000" stroke-width="0.8"/>
<rect x="292.80" y="97.20" width="3.20" height="2.60" fill="#000"/>
<rect x="311.00" y="116.70" width="3.00" height="2.60" fill="#000"/>
<rect x="296.00" y="40.20" width="77.00" height="76.50" fill="none" stroke="#000" stroke-width="1.3"/>
<text x="267.20" y="78.40" font-size="9.0" text-anchor="middle" textLength="79.30" lengthAdjust="spacingAndGlyphs" transform="rotate(-90 267.20 78.40) translate(267.20 78.40) scale(1 1.18) translate(-267.20 -78.40)">Alexa fluor 700 - CD4</text>
<text x="307.70" y="149.40" font-size="9.0" textLength="53.30" lengthAdjust="spacingAndGlyphs" transform="translate(307.70 149.40) scale(1 1.18) translate(-307.70 -149.40)">PE/Cy7 - CD94</text>
<text x="301.70" y="52.30" font-size="9.2" textLength="19.00" lengthAdjust="spacingAndGlyphs" transform="translate(301.70 52.30) scale(1 1.18) translate(-301.70 -52.30)">CD4<tspan dy="-3.4" font-size="5.5">+</tspan></text>
<text x="334.60" y="75.40" font-size="8.0" textLength="21.00" lengthAdjust="spacingAndGlyphs" transform="translate(334.60 75.40) scale(1 1.18) translate(-334.60 -75.40)">0.093</text>
<text x="289.50" y="51.70" font-size="8.2" text-anchor="end" transform="translate(289.50 51.70) scale(1 1.18) translate(-289.50 -51.70)">10<tspan dy="-3" font-size="5">5</tspan></text>
<text x="289.50" y="70.00" font-size="8.2" text-anchor="end" transform="translate(289.50 70.00) scale(1 1.18) translate(-289.50 -70.00)">10<tspan dy="-3" font-size="5">4</tspan></text>
<text x="289.50" y="90.20" font-size="8.2" text-anchor="end" transform="translate(289.50 90.20) scale(1 1.18) translate(-289.50 -90.20)">10<tspan dy="-3" font-size="5">3</tspan></text>
<text x="288.30" y="102.40" font-size="8.2" text-anchor="end" transform="translate(288.30 102.40) scale(1 1.18) translate(-288.30 -102.40)">0</text>
<text x="289.50" y="117.00" font-size="8.2" text-anchor="end" transform="translate(289.50 117.00) scale(1 1.18) translate(-289.50 -117.00)">-10<tspan dy="-3" font-size="5">3</tspan></text>
<text x="299.50" y="134.00" font-size="8.2" text-anchor="middle" transform="translate(299.50 134.00) scale(1 1.18) translate(-299.50 -134.00)">-10<tspan dy="-3" font-size="5">3</tspan></text>
<text x="313.00" y="134.00" font-size="8.2" text-anchor="middle" transform="translate(313.00 134.00) scale(1 1.18) translate(-313.00 -134.00)">0</text>
<text x="326.50" y="134.00" font-size="8.2" text-anchor="middle" transform="translate(326.50 134.00) scale(1 1.18) translate(-326.50 -134.00)">10<tspan dy="-3" font-size="5">3</tspan></text>
<text x="346.00" y="134.00" font-size="8.2" text-anchor="middle" transform="translate(346.00 134.00) scale(1 1.18) translate(-346.00 -134.00)">10<tspan dy="-3" font-size="5">4</tspan></text>
<text x="366.00" y="134.00" font-size="8.2" text-anchor="middle" transform="translate(366.00 134.00) scale(1 1.18) translate(-366.00 -134.00)">10<tspan dy="-3" font-size="5">5</tspan></text>
<rect x="428.00" y="40.00" width="77.00" height="77.30" fill="#8a89bf"/>
<g filter="url(#pb)"><path fill="#282896" d="M448.2 90.1h1.35v1.35h-1.35zM450.2 89.9h1.35v1.35h-1.35zM445.8 90.8h1.35v1.35h-1.35zM450.0 90.9h1.35v1.35h-1.35zM442.9 92.0h1.35v1.35h-1.35zM445.0 92.0h1.35v1.35h-1.35zM447.1 92.2h1.35v1.35h-1.35zM449.8 92.0h1.35v1.35h-1.35zM456.1 92.2h1.35v1.35h-1.35zM445.2 93.1h1.35v1.35h-1.35zM447.0 93.2h1.35v1.35h-1.35zM447.8 92.9h1.35v1.35h-1.35zM451.0 93.0h1.35v1.35h-1.35zM462.9 92.8h1.35v1.35h-1.35zM473.8 92.8h1.35v1.35h-1.35zM478.2 92.8h1.35v1.35h-1.35zM440.0 93.9h1.35v1.35h-1.35zM441.2 93.8h1.35v1.35h-1.35zM445.2 94.1h1.35v1.35h-1.35zM448.0 93.9h1.35v1.35h-1.35zM452.1 94.0h1.35v1.35h-1.35zM453.8 94.0h1.35v1.35h-1.35zM454.9 94.2h1.35v1.35h-1.35zM462.8 93.8h1.35v1.35h-1.35zM466.9 93.9h1.35v1.35h-1.35zM470.0 93.9h1.35v1.35h-1.35zM475.9 94.1h1.35v1.35h-1.35zM478.1 94.2h1.35v1.35h-1.35zM441.0 95.1h1.35v1.35h-1.35zM452.9 95.1h1.35v1.35h-1.35zM454.2 94.8h1.35v1.35h-1.35zM454.9 95.1h1.35v1.35h-1.35zM457.9 94.9h1.35v1.35h-1.35zM463.8 95.2h1.35v1.35h-1.35zM467.0 95.1h1.35v1.35h-1.35zM468.0 95.2h1.35v1.35h-1.35zM475.0 94.8h1.35v1.35h-1.35zM477.2 94.9h1.35v1.35h-1.35zM477.8 95.1h1.35v1.35h-1.35zM479.1 94.8h1.35v1.35h-1.35zM482.8 95.0h1.35v1.35h-1.35zM439.8 96.1h1.35v1.35h-1.35zM446.2 95.8h1.35v1.35h-1.35zM453.2 95.8h1.35v1.35h-1.35zM456.1 96.0h1.35v1.35h-1.35zM457.1 96.0h1.35v1.35h-1.35zM458.8 95.9h1.35v1.35h-1.35zM460.1 96.2h1.35v1.35h-1.35zM464.1 96.2h1.35v1.35h-1.35zM467.8 96.1h1.35v1.35h-1.35zM472.2 96.1h1.35v1.35h-1.35zM473.2 95.9h1.35v1.35h-1.35zM473.8 96.0h1.35v1.35h-1.35zM475.2 96.1h1.35v1.35h-1.35zM476.2 95.8h1.35v1.35h-1.35zM478.1 95.9h1.35v1.35h-1.35zM479.2 96.1h1.35v1.35h-1.35zM439.1 97.0h1.35v1.35h-1.35zM457.8 96.9h1.35v1.35h-1.35zM459.1 97.2h1.35v1.35h-1.35zM464.9 96.8h1.35v1.35h-1.35zM472.2 97.0h1.35v1.35h-1.35zM472.8 97.1h1.35v1.35h-1.35zM475.0 97.0h1.35v1.35h-1.35zM503.0 97.2h1.35v1.35h-1.35zM437.9 97.8h1.35v1.35h-1.35zM459.8 98.0h1.35v1.35h-1.35zM461.1 98.1h1.35v1.35h-1.35zM472.2 98.1h1.35v1.35h-1.35zM473.2 98.0h1.35v1.35h-1.35zM478.2 98.2h1.35v1.35h-1.35zM479.1 97.9h1.35v1.35h-1.35zM481.1 98.0h1.35v1.35h-1.35zM485.0 98.2h1.35v1.35h-1.35zM486.2 97.8h1.35v1.35h-1.35zM490.9 97.8h1.35v1.35h-1.35zM440.2 98.8h1.35v1.35h-1.35zM462.9 99.0h1.35v1.35h-1.35zM466.1 99.2h1.35v1.35h-1.35zM478.2 99.1h1.35v1.35h-1.35zM478.8 99.2h1.35v1.35h-1.35zM480.9 99.2h1.35v1.35h-1.35zM483.9 99.0h1.35v1.35h-1.35zM441.0 100.1h1.35v1.35h-1.35zM444.2 100.0h1.35v1.35h-1.35zM455.0 100.0h1.35v1.35h-1.35zM457.1 100.2h1.35v1.35h-1.35zM461.1 100.1h1.35v1.35h-1.35zM469.2 100.0h1.35v1.35h-1.35zM470.1 100.2h1.35v1.35h-1.35zM471.1 100.1h1.35v1.35h-1.35zM473.9 100.0h1.35v1.35h-1.35zM478.9 99.9h1.35v1.35h-1.35zM479.9 100.1h1.35v1.35h-1.35zM480.9 100.1h1.35v1.35h-1.35zM481.8 100.2h1.35v1.35h-1.35zM493.8 99.9h1.35v1.35h-1.35zM439.8 101.0h1.35v1.35h-1.35zM442.0 101.1h1.35v1.35h-1.35zM456.0 100.9h1.35v1.35h-1.35zM459.1 100.9h1.35v1.35h-1.35zM460.2 100.9h1.35v1.35h-1.35zM460.8 101.2h1.35v1.35h-1.35zM462.1 101.2h1.35v1.35h-1.35zM464.0 100.9h1.35v1.35h-1.35zM465.2 101.0h1.35v1.35h-1.35zM469.2 100.9h1.35v1.35h-1.35zM472.2 100.8h1.35v1.35h-1.35zM473.8 100.8h1.35v1.35h-1.35zM474.8 100.9h1.35v1.35h-1.35zM475.8 101.2h1.35v1.35h-1.35zM477.0 101.0h1.35v1.35h-1.35zM479.8 101.1h1.35v1.35h-1.35zM438.9 101.9h1.35v1.35h-1.35zM439.8 101.9h1.35v1.35h-1.35zM442.8 102.0h1.35v1.35h-1.35zM444.2 102.0h1.35v1.35h-1.35zM446.9 102.2h1.35v1.35h-1.35zM449.9 102.0h1.35v1.35h-1.35zM451.1 101.9h1.35v1.35h-1.35zM455.1 102.1h1.35v1.35h-1.35zM460.8 101.9h1.35v1.35h-1.35zM461.9 102.0h1.35v1.35h-1.35zM463.8 102.2h1.35v1.35h-1.35zM465.0 102.1h1.35v1.35h-1.35zM467.9 102.1h1.35v1.35h-1.35zM468.9 101.9h1.35v1.35h-1.35zM470.1 101.9h1.35v1.35h-1.35zM472.2 102.2h1.35v1.35h-1.35zM473.2 101.9h1.35v1.35h-1.35zM476.9 102.2h1.35v1.35h-1.35zM477.8 101.9h1.35v1.35h-1.35zM440.8 102.9h1.35v1.35h-1.35zM443.1 103.2h1.35v1.35h-1.35zM445.2 102.9h1.35v1.35h-1.35zM445.9 103.1h1.35v1.35h-1.35zM446.8 103.1h1.35v1.35h-1.35zM447.8 103.2h1.35v1.35h-1.35zM450.1 103.1h1.35v1.35h-1.35zM467.1 103.0h1.35v1.35h-1.35zM474.1 103.0h1.35v1.35h-1.35zM439.0 104.1h1.35v1.35h-1.35zM441.8 103.9h1.35v1.35h-1.35zM447.1 104.0h1.35v1.35h-1.35zM464.2 104.1h1.35v1.35h-1.35zM472.0 103.9h1.35v1.35h-1.35zM476.0 103.9h1.35v1.35h-1.35zM477.0 103.9h1.35v1.35h-1.35zM498.9 104.1h1.35v1.35h-1.35zM451.8 104.9h1.35v1.35h-1.35zM468.2 106.1h1.35v1.35h-1.35zM484.9 106.9h1.35v1.35h-1.35z"/><path fill="#4098d0" d="M446 94h1v1h-1zM449 96h1v1h-1zM454 96h1v1h-1zM440 100h1v1h-1zM459 100h1v1h-1z"/><path fill="#40a8d8" d="M447 94h1v1h-1zM467 97h1v1h-1zM455 98h1v1h-1z"/><path fill="#282898" d="M442 95h1v1h-1zM477 96h1v1h-1zM469 97h1v1h-1zM469 99h1v1h-1zM465 100h1v1h-1z"/><path fill="#3890d0" d="M443 95h1v1h-1zM464 97h1v1h-1z"/><path fill="#2838b0" d="M444 95h1v1h-1zM458 98h1v1h-1zM464 98h1v1h-1zM472 100h1v1h-1z"/><path fill="#58b888" d="M446 95h1v1h-1z"/><path fill="#3888d0" d="M447 95h1v1h-1zM465 96h1v1h-1z"/><path fill="#c8d038" d="M448 95h1v1h-1z"/><path fill="#3870c8" d="M449 95h1v1h-1zM461 97h1v1h-1zM455 99h1v1h-1zM457 99h1v1h-1zM468 100h1v1h-1z"/><path fill="#3880c8" d="M450 95h1v1h-1zM456 97h2v1h-2zM441 98h1v1h-1zM474 99h1v1h-1zM452 100h1v1h-1zM475 100h1v1h-1zM454 101h1v1h-1z"/><path fill="#2830a0" d="M452 95h1v1h-1zM461 95h1v1h-1zM455 96h1v1h-1zM477 97h1v1h-1zM468 98h1v1h-1zM439 99h1v1h-1zM477 99h1v1h-1zM445 101h1v1h-1zM446 102h1v1h-1z"/><path fill="#2838a8" d="M439 96h1v1h-1zM458 96h1v1h-1zM466 96h1v1h-1zM471 97h1v1h-1zM466 98h1v1h-1zM461 99h1v1h-1zM450 100h1v1h-1zM456 100h1v1h-1zM458 100h1v1h-1zM462 100h1v1h-1zM439 101h1v1h-1z"/><path fill="#3878c8" d="M441 96h1v1h-1zM474 97h1v1h-1zM441 99h1v1h-1zM459 99h2v1h-2z"/><path fill="#2840b0" d="M443 96h1v1h-1zM451 96h1v1h-1zM469 96h1v1h-1zM454 97h1v1h-1zM466 97h1v1h-1zM442 100h1v1h-1zM463 100h1v1h-1zM476 100h1v1h-1z"/><path fill="#e0d030" d="M444 96h1v1h-1zM448 100h1v1h-1z"/><path fill="#60b870" d="M445 96h1v1h-1z"/><path fill="#d8d830" d="M447 96h1v1h-1z"/><path fill="#88c848" d="M448 96h1v1h-1zM444 97h1v1h-1z"/><path fill="#4090d0" d="M450 96h1v1h-1zM442 98h1v1h-1zM475 99h1v1h-1z"/><path fill="#60b878" d="M452 96h1v1h-1z"/><path fill="#3068c0" d="M461 96h1v1h-1zM450 98h1v1h-1zM443 100h1v1h-1zM443 101h1v1h-1z"/><path fill="#3050b8" d="M471 96h1v1h-1zM475 98h1v1h-1zM447 100h1v1h-1zM449 101h2v1h-2z"/><path fill="#50b0b0" d="M440 97h1v1h-1z"/><path fill="#e02018" d="M445 97h1v1h-1zM447 98h1v1h-1zM447 99h2v1h-2z"/><path fill="#e88820" d="M446 97h1v1h-1z"/><path fill="#e87020" d="M447 97h1v1h-1z"/><path fill="#e03820" d="M448 97h1v1h-1zM443 98h1v1h-1z"/><path fill="#e86020" d="M449 97h1v1h-1zM446 99h1v1h-1z"/><path fill="#a8d040" d="M450 97h1v1h-1z"/><path fill="#58b098" d="M451 97h1v1h-1zM454 98h1v1h-1zM467 99h1v1h-1z"/><path fill="#78c048" d="M452 97h1v1h-1zM452 98h1v1h-1zM450 99h1v1h-1z"/><path fill="#3060c0" d="M455 97h1v1h-1zM453 100h1v1h-1zM455 101h1v1h-1z"/><path fill="#2848b8" d="M463 97h1v1h-1zM440 98h1v1h-1zM470 98h1v1h-1zM442 99h2v1h-2zM478 100h1v1h-1z"/><path fill="#2840b8" d="M468 97h1v1h-1zM478 97h1v1h-1zM468 99h1v1h-1zM467 100h1v1h-1zM446 101h1v1h-1z"/><path fill="#3070c8" d="M470 97h1v1h-1z"/><path fill="#e0d830" d="M444 98h1v1h-1z"/><path fill="#e04020" d="M445 98h1v1h-1z"/><path fill="#e03018" d="M446 98h1v1h-1z"/><path fill="#e87820" d="M449 98h1v1h-1z"/><path fill="#50b0a0" d="M451 98h1v1h-1zM453 99h1v1h-1zM456 99h1v1h-1z"/><path fill="#40a0d8" d="M453 98h1v1h-1zM449 99h1v1h-1z"/><path fill="#50b098" d="M456 98h1v1h-1z"/><path fill="#60b868" d="M457 98h1v1h-1z"/><path fill="#48a8b8" d="M462 98h1v1h-1zM474 98h1v1h-1z"/><path fill="#3058b8" d="M465 98h1v1h-1z"/><path fill="#98c840" d="M467 98h1v1h-1z"/><path fill="#68c060" d="M469 98h1v1h-1z"/><path fill="#48a8c8" d="M476 98h1v1h-1zM460 100h1v1h-1z"/><path fill="#90c840" d="M444 99h1v1h-1z"/><path fill="#e0b830" d="M445 99h1v1h-1z"/><path fill="#90c848" d="M451 99h1v1h-1z"/><path fill="#e0c030" d="M452 99h1v1h-1z"/><path fill="#70c048" d="M458 99h1v1h-1z"/><path fill="#2850b8" d="M464 99h1v1h-1zM470 99h1v1h-1z"/><path fill="#48a8d0" d="M471 99h1v1h-1z"/><path fill="#e0c830" d="M445 100h1v1h-1z"/><path fill="#e89828" d="M446 100h1v1h-1z"/><path fill="#c0d038" d="M449 100h1v1h-1z"/><path fill="#b0d040" d="M451 100h1v1h-1z"/><path fill="#283098" d="M454 100h1v1h-1z"/><path fill="#3058c0" d="M466 100h1v1h-1zM449 102h1v1h-1z"/><path fill="#58b090" d="M444 101h1v1h-1z"/><path fill="#68b860" d="M447 101h1v1h-1z"/><path fill="#58b880" d="M448 101h1v1h-1z"/></g>
<rect x="452.30" y="77.20" width="47.10" height="37.00" fill="none" stroke="#333" stroke-width="0.8"/>
<line x1="426.50" y1="80.25" x2="428.00" y2="80.25" stroke="#000" stroke-width="0.8"/>
<line x1="426.50" y1="76.71" x2="428.00" y2="76.71" stroke="#000" stroke-width="0.8"/>
<line x1="426.50" y1="74.20" x2="428.00" y2="74.20" stroke="#000" stroke-width="0.8"/>
<line x1="426.50" y1="72.25" x2="428.00" y2="72.25" stroke="#000" stroke-width="0.8"/>
<line x1="426.50" y1="70.66" x2="428.00" y2="70.66" stroke="#000" stroke-width="0.8"/>
<line x1="426.50" y1="69.31" x2="428.00" y2="69.31" stroke="#000" stroke-width="0.8"/>
<line x1="426.50" y1="68.15" x2="428.00" y2="68.15" stroke="#000" stroke-width="0.8"/>
<line x1="426.50" y1="67.12" x2="428.00" y2="67.12" stroke="#000" stroke-width="0.8"/>
<line x1="426.50" y1="60.66" x2="428.00" y2="60.66" stroke="#000" stroke-width="0.8"/>
<line x1="426.50" y1="57.42" x2="428.00" y2="57.42" stroke="#000" stroke-width="0.8"/>
<line x1="426.50" y1="55.12" x2="428.00" y2="55.12" stroke="#000" stroke-width="0.8"/>
<line x1="426.50" y1="53.34" x2="428.00" y2="53.34" stroke="#000" stroke-width="0.8"/>
<line x1="426.50" y1="51.88" x2="428.00" y2="51.88" stroke="#000" stroke-width="0.8"/>
<line x1="426.50" y1="50.65" x2="428.00" y2="50.65" stroke="#000" stroke-width="0.8"/>
<line x1="426.50" y1="49.58" x2="428.00" y2="49.58" stroke="#000" stroke-width="0.8"/>
<line x1="426.50" y1="48.64" x2="428.00" y2="48.64" stroke="#000" stroke-width="0.8"/>
<line x1="426.50" y1="95.45" x2="428.00" y2="95.45" stroke="#000" stroke-width="0.8"/>
<line x1="426.50" y1="102.12" x2="428.00" y2="102.12" stroke="#000" stroke-width="0.8"/>
<line x1="426.50" y1="92.40" x2="428.00" y2="92.40" stroke="#000" stroke-width="0.8"/>
<line x1="426.50" y1="105.75" x2="428.00" y2="105.75" stroke="#000" stroke-width="0.8"/>
<line x1="426.50" y1="89.35" x2="428.00" y2="89.35" stroke="#000" stroke-width="0.8"/>
<line x1="426.50" y1="109.38" x2="428.00" y2="109.38" stroke="#000" stroke-width="0.8"/>
<line x1="425.40" y1="47.80" x2="428.00" y2="47.80" stroke="#000" stroke-width="0.8"/>
<line x1="425.40" y1="66.20" x2="428.00" y2="66.20" stroke="#000" stroke-width="0.8"/>
<line x1="425.40" y1="86.30" x2="428.00" y2="86.30" stroke="#000" stroke-width="0.8"/>
<line x1="425.40" y1="98.50" x2="428.00" y2="98.50" stroke="#000" stroke-width="0.8"/>
<line x1="425.40" y1="113.00" x2="428.00" y2="113.00" stroke="#000" stroke-width="0.8"/>
<line x1="464.02" y1="117.30" x2="464.02" y2="118.80" stroke="#000" stroke-width="0.8"/>
<line x1="467.54" y1="117.30" x2="467.54" y2="118.80" stroke="#000" stroke-width="0.8"/>
<line x1="470.04" y1="117.30" x2="470.04" y2="118.80" stroke="#000" stroke-width="0.8"/>
<line x1="471.98" y1="117.30" x2="471.98" y2="118.80" stroke="#000" stroke-width="0.8"/>
<line x1="473.56" y1="117.30" x2="473.56" y2="118.80" stroke="#000" stroke-width="0.8"/>
<line x1="474.90" y1="117.30" x2="474.90" y2="118.80" stroke="#000" stroke-width="0.8"/>
<line x1="476.06" y1="117.30" x2="476.06" y2="118.80" stroke="#000" stroke-width="0.8"/>
<line x1="477.08" y1="117.30" x2="477.08" y2="118.80" stroke="#000" stroke-width="0.8"/>
<line x1="484.02" y1="117.30" x2="484.02" y2="118.80" stroke="#000" stroke-width="0.8"/>
<line x1="487.54" y1="117.30" x2="487.54" y2="118.80" stroke="#000" stroke-width="0.8"/>
<line x1="490.04" y1="117.30" x2="490.04" y2="118.80" stroke="#000" stroke-width="0.8"/>
<line x1="491.98" y1="117.30" x2="491.98" y2="118.80" stroke="#000" stroke-width="0.8"/>
<line x1="493.56" y1="117.30" x2="493.56" y2="118.80" stroke="#000" stroke-width="0.8"/>
<line x1="494.90" y1="117.30" x2="494.90" y2="118.80" stroke="#000" stroke-width="0.8"/>
<line x1="496.06" y1="117.30" x2="496.06" y2="118.80" stroke="#000" stroke-width="0.8"/>
<line x1="497.08" y1="117.30" x2="497.08" y2="118.80" stroke="#000" stroke-width="0.8"/>
<line x1="447.88" y1="117.30" x2="447.88" y2="118.80" stroke="#000" stroke-width="0.8"/>
<line x1="441.12" y1="117.30" x2="441.12" y2="118.80" stroke="#000" stroke-width="0.8"/>
<line x1="451.25" y1="117.30" x2="451.25" y2="118.80" stroke="#000" stroke-width="0.8"/>
<line x1="437.75" y1="117.30" x2="437.75" y2="118.80" stroke="#000" stroke-width="0.8"/>
<line x1="454.62" y1="117.30" x2="454.62" y2="118.80" stroke="#000" stroke-width="0.8"/>
<line x1="434.38" y1="117.30" x2="434.38" y2="118.80" stroke="#000" stroke-width="0.8"/>
<line x1="431.00" y1="117.30" x2="431.00" y2="119.90" stroke="#000" stroke-width="0.8"/>
<line x1="444.50" y1="117.30" x2="444.50" y2="119.90" stroke="#000" stroke-width="0.8"/>
<line x1="458.00" y1="117.30" x2="458.00" y2="119.90" stroke="#000" stroke-width="0.8"/>
<line x1="478.00" y1="117.30" x2="478.00" y2="119.90" stroke="#000" stroke-width="0.8"/>
<line x1="498.00" y1="117.30" x2="498.00" y2="119.90" stroke="#000" stroke-width="0.8"/>
<rect x="424.80" y="97.20" width="3.20" height="2.60" fill="#000"/>
<rect x="443.00" y="117.30" width="3.00" height="2.60" fill="#000"/>
<rect x="428.00" y="40.00" width="77.00" height="77.30" fill="none" stroke="#000" stroke-width="1.3"/>
<text x="400.00" y="78.40" font-size="9.0" text-anchor="middle" textLength="79.30" lengthAdjust="spacingAndGlyphs" transform="rotate(-90 400.00 78.40) translate(400.00 78.40) scale(1 1.18) translate(-400.00 -78.40)">Alexa fluor 700 - CD4</text>
<text x="439.70" y="149.40" font-size="9.0" textLength="53.30" lengthAdjust="spacingAndGlyphs" transform="translate(439.70 149.40) scale(1 1.18) translate(-439.70 -149.40)">PE/Cy7 - CD94</text>
<text x="434.80" y="52.00" font-size="9.2" textLength="19.00" lengthAdjust="spacingAndGlyphs" transform="translate(434.80 52.00) scale(1 1.18) translate(-434.80 -52.00)">CD4<tspan dy="-3.4" font-size="5.5">-</tspan></text>
<text x="469.00" y="90.80" font-size="8.0" textLength="15.40" lengthAdjust="spacingAndGlyphs" transform="translate(469.00 90.80) scale(1 1.18) translate(-469.00 -90.80)">16.9</text>
<text x="421.50" y="51.70" font-size="8.2" text-anchor="end" transform="translate(421.50 51.70) scale(1 1.18) translate(-421.50 -51.70)">10<tspan dy="-3" font-size="5">5</tspan></text>
<text x="421.50" y="70.00" font-size="8.2" text-anchor="end" transform="translate(421.50 70.00) scale(1 1.18) translate(-421.50 -70.00)">10<tspan dy="-3" font-size="5">4</tspan></text>
<text x="421.50" y="90.20" font-size="8.2" text-anchor="end" transform="translate(421.50 90.20) scale(1 1.18) translate(-421.50 -90.20)">10<tspan dy="-3" font-size="5">3</tspan></text>
<text x="420.30" y="102.40" font-size="8.2" text-anchor="end" transform="translate(420.30 102.40) scale(1 1.18) translate(-420.30 -102.40)">0</text>
<text x="421.50" y="117.00" font-size="8.2" text-anchor="end" transform="translate(421.50 117.00) scale(1 1.18) translate(-421.50 -117.00)">-10<tspan dy="-3" font-size="5">3</tspan></text>
<text x="432.00" y="134.00" font-size="8.2" text-anchor="middle" transform="translate(432.00 134.00) scale(1 1.18) translate(-432.00 -134.00)">-10<tspan dy="-3" font-size="5">3</tspan></text>
<text x="445.00" y="134.00" font-size="8.2" text-anchor="middle" transform="translate(445.00 134.00) scale(1 1.18) translate(-445.00 -134.00)">0</text>
<text x="458.50" y="134.00" font-size="8.2" text-anchor="middle" transform="translate(458.50 134.00) scale(1 1.18) translate(-458.50 -134.00)">10<tspan dy="-3" font-size="5">3</tspan></text>
<text x="478.00" y="134.00" font-size="8.2" text-anchor="middle" transform="translate(478.00 134.00) scale(1 1.18) translate(-478.00 -134.00)">10<tspan dy="-3" font-size="5">4</tspan></text>
<text x="498.00" y="134.00" font-size="8.2" text-anchor="middle" transform="translate(498.00 134.00) scale(1 1.18) translate(-498.00 -134.00)">10<tspan dy="-3" font-size="5">5</tspan></text>
<rect x="297.40" y="189.70" width="77.60" height="76.70" fill="#dea0a1"/>
<g filter="url(#pb)"><path fill="#282896" d="M314.9 216.8h1.35v1.35h-1.35zM315.0 218.2h1.35v1.35h-1.35zM318.2 218.0h1.35v1.35h-1.35zM311.0 219.0h1.35v1.35h-1.35zM313.1 219.0h1.35v1.35h-1.35zM313.8 218.9h1.35v1.35h-1.35zM316.1 219.2h1.35v1.35h-1.35zM317.2 218.9h1.35v1.35h-1.35zM311.0 219.9h1.35v1.35h-1.35zM312.2 220.1h1.35v1.35h-1.35zM314.1 220.2h1.35v1.35h-1.35zM315.1 220.2h1.35v1.35h-1.35zM316.2 220.1h1.35v1.35h-1.35zM316.8 220.0h1.35v1.35h-1.35zM311.0 221.0h1.35v1.35h-1.35zM313.2 221.0h1.35v1.35h-1.35zM313.8 221.1h1.35v1.35h-1.35zM314.9 221.1h1.35v1.35h-1.35zM315.9 221.2h1.35v1.35h-1.35zM316.9 221.1h1.35v1.35h-1.35zM320.0 221.2h1.35v1.35h-1.35zM310.8 222.0h1.35v1.35h-1.35zM312.0 222.2h1.35v1.35h-1.35zM313.0 222.0h1.35v1.35h-1.35zM313.8 222.1h1.35v1.35h-1.35zM314.9 222.0h1.35v1.35h-1.35zM316.0 222.0h1.35v1.35h-1.35zM316.9 222.2h1.35v1.35h-1.35zM319.0 222.1h1.35v1.35h-1.35zM312.8 223.0h1.35v1.35h-1.35zM316.2 222.9h1.35v1.35h-1.35zM316.9 223.0h1.35v1.35h-1.35zM319.0 223.1h1.35v1.35h-1.35zM310.0 224.1h1.35v1.35h-1.35zM311.9 224.1h1.35v1.35h-1.35zM313.0 224.1h1.35v1.35h-1.35zM315.8 224.0h1.35v1.35h-1.35zM317.1 224.2h1.35v1.35h-1.35zM319.1 223.9h1.35v1.35h-1.35zM312.8 225.1h1.35v1.35h-1.35zM316.2 225.2h1.35v1.35h-1.35zM316.8 225.1h1.35v1.35h-1.35zM317.8 224.9h1.35v1.35h-1.35zM318.9 225.1h1.35v1.35h-1.35zM319.8 224.9h1.35v1.35h-1.35zM320.9 224.9h1.35v1.35h-1.35zM311.9 225.9h1.35v1.35h-1.35zM313.0 226.1h1.35v1.35h-1.35zM314.0 226.0h1.35v1.35h-1.35zM314.9 225.8h1.35v1.35h-1.35zM315.8 226.0h1.35v1.35h-1.35zM316.9 225.8h1.35v1.35h-1.35zM310.2 227.1h1.35v1.35h-1.35zM310.8 226.9h1.35v1.35h-1.35zM312.0 226.9h1.35v1.35h-1.35zM313.1 227.2h1.35v1.35h-1.35zM313.9 226.9h1.35v1.35h-1.35zM314.8 227.1h1.35v1.35h-1.35zM315.9 226.8h1.35v1.35h-1.35zM317.0 227.1h1.35v1.35h-1.35zM320.8 226.8h1.35v1.35h-1.35zM311.9 228.1h1.35v1.35h-1.35zM312.8 227.8h1.35v1.35h-1.35zM314.0 228.2h1.35v1.35h-1.35zM315.2 228.0h1.35v1.35h-1.35zM316.2 227.8h1.35v1.35h-1.35zM320.2 228.1h1.35v1.35h-1.35zM313.1 229.2h1.35v1.35h-1.35zM314.2 229.0h1.35v1.35h-1.35zM315.2 229.0h1.35v1.35h-1.35zM317.0 228.9h1.35v1.35h-1.35zM318.1 229.1h1.35v1.35h-1.35zM311.9 229.8h1.35v1.35h-1.35zM313.1 229.9h1.35v1.35h-1.35zM314.0 230.0h1.35v1.35h-1.35zM314.8 229.9h1.35v1.35h-1.35zM317.2 229.9h1.35v1.35h-1.35zM313.1 231.2h1.35v1.35h-1.35zM313.9 230.8h1.35v1.35h-1.35zM315.1 231.2h1.35v1.35h-1.35zM315.9 230.8h1.35v1.35h-1.35zM311.0 232.2h1.35v1.35h-1.35zM311.8 232.2h1.35v1.35h-1.35zM313.1 232.2h1.35v1.35h-1.35zM313.9 232.0h1.35v1.35h-1.35zM317.2 231.8h1.35v1.35h-1.35zM313.2 233.2h1.35v1.35h-1.35zM313.8 232.9h1.35v1.35h-1.35zM314.9 232.9h1.35v1.35h-1.35zM312.2 234.1h1.35v1.35h-1.35zM312.9 235.0h1.35v1.35h-1.35zM313.8 236.0h1.35v1.35h-1.35z"/><path fill="#40a8d8" d="M314 223h1v1h-1z"/><path fill="#e02018" d="M315 223h1v1h-1zM314 224h2v1h-2zM314 225h2v1h-2z"/></g>
<ellipse cx="316.00" cy="223.50" rx="1.30" ry="1.30" fill="#e86a30" opacity="1" filter="url(#bl)"/>
<rect x="322.40" y="203.70" width="42.00" height="35.70" fill="none" stroke="#333" stroke-width="0.8"/>
<line x1="295.90" y1="229.85" x2="297.40" y2="229.85" stroke="#000" stroke-width="0.8"/>
<line x1="295.90" y1="226.13" x2="297.40" y2="226.13" stroke="#000" stroke-width="0.8"/>
<line x1="295.90" y1="223.50" x2="297.40" y2="223.50" stroke="#000" stroke-width="0.8"/>
<line x1="295.90" y1="221.45" x2="297.40" y2="221.45" stroke="#000" stroke-width="0.8"/>
<line x1="295.90" y1="219.78" x2="297.40" y2="219.78" stroke="#000" stroke-width="0.8"/>
<line x1="295.90" y1="218.37" x2="297.40" y2="218.37" stroke="#000" stroke-width="0.8"/>
<line x1="295.90" y1="217.14" x2="297.40" y2="217.14" stroke="#000" stroke-width="0.8"/>
<line x1="295.90" y1="216.07" x2="297.40" y2="216.07" stroke="#000" stroke-width="0.8"/>
<line x1="295.90" y1="209.23" x2="297.40" y2="209.23" stroke="#000" stroke-width="0.8"/>
<line x1="295.90" y1="205.80" x2="297.40" y2="205.80" stroke="#000" stroke-width="0.8"/>
<line x1="295.90" y1="203.36" x2="297.40" y2="203.36" stroke="#000" stroke-width="0.8"/>
<line x1="295.90" y1="201.47" x2="297.40" y2="201.47" stroke="#000" stroke-width="0.8"/>
<line x1="295.90" y1="199.93" x2="297.40" y2="199.93" stroke="#000" stroke-width="0.8"/>
<line x1="295.90" y1="198.62" x2="297.40" y2="198.62" stroke="#000" stroke-width="0.8"/>
<line x1="295.90" y1="197.49" x2="297.40" y2="197.49" stroke="#000" stroke-width="0.8"/>
<line x1="295.90" y1="196.49" x2="297.40" y2="196.49" stroke="#000" stroke-width="0.8"/>
<line x1="295.90" y1="245.50" x2="297.40" y2="245.50" stroke="#000" stroke-width="0.8"/>
<line x1="295.90" y1="251.72" x2="297.40" y2="251.72" stroke="#000" stroke-width="0.8"/>
<line x1="295.90" y1="242.40" x2="297.40" y2="242.40" stroke="#000" stroke-width="0.8"/>
<line x1="295.90" y1="254.85" x2="297.40" y2="254.85" stroke="#000" stroke-width="0.8"/>
<line x1="295.90" y1="239.30" x2="297.40" y2="239.30" stroke="#000" stroke-width="0.8"/>
<line x1="295.90" y1="257.98" x2="297.40" y2="257.98" stroke="#000" stroke-width="0.8"/>
<line x1="294.80" y1="195.60" x2="297.40" y2="195.60" stroke="#000" stroke-width="0.8"/>
<line x1="294.80" y1="215.10" x2="297.40" y2="215.10" stroke="#000" stroke-width="0.8"/>
<line x1="294.80" y1="236.20" x2="297.40" y2="236.20" stroke="#000" stroke-width="0.8"/>
<line x1="294.80" y1="248.60" x2="297.40" y2="248.60" stroke="#000" stroke-width="0.8"/>
<line x1="294.80" y1="261.10" x2="297.40" y2="261.10" stroke="#000" stroke-width="0.8"/>
<line x1="333.37" y1="266.40" x2="333.37" y2="267.90" stroke="#000" stroke-width="0.8"/>
<line x1="336.80" y1="266.40" x2="336.80" y2="267.90" stroke="#000" stroke-width="0.8"/>
<line x1="339.24" y1="266.40" x2="339.24" y2="267.90" stroke="#000" stroke-width="0.8"/>
<line x1="341.13" y1="266.40" x2="341.13" y2="267.90" stroke="#000" stroke-width="0.8"/>
<line x1="342.67" y1="266.40" x2="342.67" y2="267.90" stroke="#000" stroke-width="0.8"/>
<line x1="343.98" y1="266.40" x2="343.98" y2="267.90" stroke="#000" stroke-width="0.8"/>
<line x1="345.11" y1="266.40" x2="345.11" y2="267.90" stroke="#000" stroke-width="0.8"/>
<line x1="346.11" y1="266.40" x2="346.11" y2="267.90" stroke="#000" stroke-width="0.8"/>
<line x1="352.72" y1="266.40" x2="352.72" y2="267.90" stroke="#000" stroke-width="0.8"/>
<line x1="356.07" y1="266.40" x2="356.07" y2="267.90" stroke="#000" stroke-width="0.8"/>
<line x1="358.44" y1="266.40" x2="358.44" y2="267.90" stroke="#000" stroke-width="0.8"/>
<line x1="360.28" y1="266.40" x2="360.28" y2="267.90" stroke="#000" stroke-width="0.8"/>
<line x1="361.78" y1="266.40" x2="361.78" y2="267.90" stroke="#000" stroke-width="0.8"/>
<line x1="363.06" y1="266.40" x2="363.06" y2="267.90" stroke="#000" stroke-width="0.8"/>
<line x1="364.16" y1="266.40" x2="364.16" y2="267.90" stroke="#000" stroke-width="0.8"/>
<line x1="365.13" y1="266.40" x2="365.13" y2="267.90" stroke="#000" stroke-width="0.8"/>
<line x1="317.60" y1="266.40" x2="317.60" y2="267.90" stroke="#000" stroke-width="0.8"/>
<line x1="311.38" y1="266.40" x2="311.38" y2="267.90" stroke="#000" stroke-width="0.8"/>
<line x1="320.90" y1="266.40" x2="320.90" y2="267.90" stroke="#000" stroke-width="0.8"/>
<line x1="308.45" y1="266.40" x2="308.45" y2="267.90" stroke="#000" stroke-width="0.8"/>
<line x1="324.20" y1="266.40" x2="324.20" y2="267.90" stroke="#000" stroke-width="0.8"/>
<line x1="305.53" y1="266.40" x2="305.53" y2="267.90" stroke="#000" stroke-width="0.8"/>
<line x1="302.60" y1="266.40" x2="302.60" y2="269.00" stroke="#000" stroke-width="0.8"/>
<line x1="314.30" y1="266.40" x2="314.30" y2="269.00" stroke="#000" stroke-width="0.8"/>
<line x1="327.50" y1="266.40" x2="327.50" y2="269.00" stroke="#000" stroke-width="0.8"/>
<line x1="347.00" y1="266.40" x2="347.00" y2="269.00" stroke="#000" stroke-width="0.8"/>
<line x1="366.00" y1="266.40" x2="366.00" y2="269.00" stroke="#000" stroke-width="0.8"/>
<rect x="294.20" y="247.30" width="3.20" height="2.60" fill="#000"/>
<rect x="312.80" y="266.40" width="3.00" height="2.60" fill="#000"/>
<rect x="297.40" y="189.70" width="77.60" height="76.70" fill="none" stroke="#000" stroke-width="1.3"/>
<text x="266.70" y="224.90" font-size="9.0" text-anchor="middle" textLength="80.30" lengthAdjust="spacingAndGlyphs" transform="rotate(-90 266.70 224.90) translate(266.70 224.90) scale(1 1.18) translate(-266.70 -224.90)">Alexa fluor 700 - CD4</text>
<text x="309.00" y="294.70" font-size="9.0" textLength="53.50" lengthAdjust="spacingAndGlyphs" transform="translate(309.00 294.70) scale(1 1.18) translate(-309.00 -294.70)">PE/Cy7 - CD94</text>
<text x="303.70" y="202.60" font-size="9.2" textLength="19.00" lengthAdjust="spacingAndGlyphs" transform="translate(303.70 202.60) scale(1 1.18) translate(-303.70 -202.60)">CD4<tspan dy="-3.4" font-size="5.5">+</tspan></text>
<text x="343.50" y="224.40" font-size="8.0" textLength="13.20" lengthAdjust="spacingAndGlyphs" transform="translate(343.50 224.40) scale(1 1.18) translate(-343.50 -224.40)">1.32</text>
<text x="289.30" y="199.00" font-size="8.2" text-anchor="end" transform="translate(289.30 199.00) scale(1 1.18) translate(-289.30 -199.00)">10<tspan dy="-3" font-size="5">5</tspan></text>
<text x="289.30" y="218.20" font-size="8.2" text-anchor="end" transform="translate(289.30 218.20) scale(1 1.18) translate(-289.30 -218.20)">10<tspan dy="-3" font-size="5">4</tspan></text>
<text x="289.30" y="238.00" font-size="8.2" text-anchor="end" transform="translate(289.30 238.00) scale(1 1.18) translate(-289.30 -238.00)">10<tspan dy="-3" font-size="5">3</tspan></text>
<text x="288.10" y="248.90" font-size="8.2" text-anchor="end" transform="translate(288.10 248.90) scale(1 1.18) translate(-288.10 -248.90)">0</text>
<text x="289.30" y="263.80" font-size="8.2" text-anchor="end" transform="translate(289.30 263.80) scale(1 1.18) translate(-289.30 -263.80)">-10<tspan dy="-3" font-size="5">3</tspan></text>
<text x="301.00" y="279.80" font-size="8.2" text-anchor="middle" transform="translate(301.00 279.80) scale(1 1.18) translate(-301.00 -279.80)">-10<tspan dy="-3" font-size="5">3</tspan></text>
<text x="313.20" y="279.80" font-size="8.2" text-anchor="middle" transform="translate(313.20 279.80) scale(1 1.18) translate(-313.20 -279.80)">0</text>
<text x="326.00" y="279.80" font-size="8.2" text-anchor="middle" transform="translate(326.00 279.80) scale(1 1.18) translate(-326.00 -279.80)">10<tspan dy="-3" font-size="5">3</tspan></text>
<text x="346.00" y="279.80" font-size="8.2" text-anchor="middle" transform="translate(346.00 279.80) scale(1 1.18) translate(-346.00 -279.80)">10<tspan dy="-3" font-size="5">4</tspan></text>
<text x="366.00" y="279.80" font-size="8.2" text-anchor="middle" transform="translate(366.00 279.80) scale(1 1.18) translate(-366.00 -279.80)">10<tspan dy="-3" font-size="5">5</tspan></text>
<rect x="430.00" y="186.20" width="77.60" height="76.60" fill="#8a89bf"/>
<ellipse cx="447.3" cy="244.6" rx="3.2" ry="3.0" fill="#2a2a8e" filter="url(#bl)"/>
<ellipse cx="447.3" cy="244.4" rx="2.3" ry="2.1" fill="#ece23a" filter="url(#bl)"/>
<rect x="450.5" y="240.5" width="1.2" height="1.2" fill="#2a2a8e"/><rect x="452" y="239" width="1.2" height="1.2" fill="#2a2a8e"/><rect x="453.5" y="241" width="1.2" height="1.2" fill="#2a2a8e"/><rect x="455" y="238.5" width="1.2" height="1.2" fill="#2a2a8e"/><rect x="451" y="243" width="1.2" height="1.2" fill="#2a2a8e"/><rect x="449" y="239.5" width="1.2" height="1.2" fill="#2a2a8e"/><rect x="456" y="240" width="1.2" height="1.2" fill="#2a2a8e"/><rect x="444" y="246" width="1.2" height="1.2" fill="#2a2a8e"/><rect x="449.5" y="247.5" width="1.2" height="1.2" fill="#2a2a8e"/>
<rect x="454.30" y="228.50" width="43.90" height="31.80" fill="none" stroke="#333" stroke-width="0.8"/>
<line x1="428.50" y1="226.19" x2="430.00" y2="226.19" stroke="#000" stroke-width="0.8"/>
<line x1="428.50" y1="222.44" x2="430.00" y2="222.44" stroke="#000" stroke-width="0.8"/>
<line x1="428.50" y1="219.78" x2="430.00" y2="219.78" stroke="#000" stroke-width="0.8"/>
<line x1="428.50" y1="217.71" x2="430.00" y2="217.71" stroke="#000" stroke-width="0.8"/>
<line x1="428.50" y1="216.03" x2="430.00" y2="216.03" stroke="#000" stroke-width="0.8"/>
<line x1="428.50" y1="214.60" x2="430.00" y2="214.60" stroke="#000" stroke-width="0.8"/>
<line x1="428.50" y1="213.36" x2="430.00" y2="213.36" stroke="#000" stroke-width="0.8"/>
<line x1="428.50" y1="212.27" x2="430.00" y2="212.27" stroke="#000" stroke-width="0.8"/>
<line x1="428.50" y1="205.94" x2="430.00" y2="205.94" stroke="#000" stroke-width="0.8"/>
<line x1="428.50" y1="202.81" x2="430.00" y2="202.81" stroke="#000" stroke-width="0.8"/>
<line x1="428.50" y1="200.58" x2="430.00" y2="200.58" stroke="#000" stroke-width="0.8"/>
<line x1="428.50" y1="198.86" x2="430.00" y2="198.86" stroke="#000" stroke-width="0.8"/>
<line x1="428.50" y1="197.45" x2="430.00" y2="197.45" stroke="#000" stroke-width="0.8"/>
<line x1="428.50" y1="196.26" x2="430.00" y2="196.26" stroke="#000" stroke-width="0.8"/>
<line x1="428.50" y1="195.22" x2="430.00" y2="195.22" stroke="#000" stroke-width="0.8"/>
<line x1="428.50" y1="194.31" x2="430.00" y2="194.31" stroke="#000" stroke-width="0.8"/>
<line x1="428.50" y1="242.28" x2="430.00" y2="242.28" stroke="#000" stroke-width="0.8"/>
<line x1="428.50" y1="248.57" x2="430.00" y2="248.57" stroke="#000" stroke-width="0.8"/>
<line x1="428.50" y1="239.05" x2="430.00" y2="239.05" stroke="#000" stroke-width="0.8"/>
<line x1="428.50" y1="251.65" x2="430.00" y2="251.65" stroke="#000" stroke-width="0.8"/>
<line x1="428.50" y1="235.82" x2="430.00" y2="235.82" stroke="#000" stroke-width="0.8"/>
<line x1="428.50" y1="254.73" x2="430.00" y2="254.73" stroke="#000" stroke-width="0.8"/>
<line x1="427.40" y1="193.50" x2="430.00" y2="193.50" stroke="#000" stroke-width="0.8"/>
<line x1="427.40" y1="211.30" x2="430.00" y2="211.30" stroke="#000" stroke-width="0.8"/>
<line x1="427.40" y1="232.60" x2="430.00" y2="232.60" stroke="#000" stroke-width="0.8"/>
<line x1="427.40" y1="245.50" x2="430.00" y2="245.50" stroke="#000" stroke-width="0.8"/>
<line x1="427.40" y1="257.80" x2="430.00" y2="257.80" stroke="#000" stroke-width="0.8"/>
<line x1="465.37" y1="262.80" x2="465.37" y2="264.30" stroke="#000" stroke-width="0.8"/>
<line x1="468.80" y1="262.80" x2="468.80" y2="264.30" stroke="#000" stroke-width="0.8"/>
<line x1="471.24" y1="262.80" x2="471.24" y2="264.30" stroke="#000" stroke-width="0.8"/>
<line x1="473.13" y1="262.80" x2="473.13" y2="264.30" stroke="#000" stroke-width="0.8"/>
<line x1="474.67" y1="262.80" x2="474.67" y2="264.30" stroke="#000" stroke-width="0.8"/>
<line x1="475.98" y1="262.80" x2="475.98" y2="264.30" stroke="#000" stroke-width="0.8"/>
<line x1="477.11" y1="262.80" x2="477.11" y2="264.30" stroke="#000" stroke-width="0.8"/>
<line x1="478.11" y1="262.80" x2="478.11" y2="264.30" stroke="#000" stroke-width="0.8"/>
<line x1="485.02" y1="262.80" x2="485.02" y2="264.30" stroke="#000" stroke-width="0.8"/>
<line x1="488.54" y1="262.80" x2="488.54" y2="264.30" stroke="#000" stroke-width="0.8"/>
<line x1="491.04" y1="262.80" x2="491.04" y2="264.30" stroke="#000" stroke-width="0.8"/>
<line x1="492.98" y1="262.80" x2="492.98" y2="264.30" stroke="#000" stroke-width="0.8"/>
<line x1="494.56" y1="262.80" x2="494.56" y2="264.30" stroke="#000" stroke-width="0.8"/>
<line x1="495.90" y1="262.80" x2="495.90" y2="264.30" stroke="#000" stroke-width="0.8"/>
<line x1="497.06" y1="262.80" x2="497.06" y2="264.30" stroke="#000" stroke-width="0.8"/>
<line x1="498.08" y1="262.80" x2="498.08" y2="264.30" stroke="#000" stroke-width="0.8"/>
<line x1="449.75" y1="262.80" x2="449.75" y2="264.30" stroke="#000" stroke-width="0.8"/>
<line x1="443.50" y1="262.80" x2="443.50" y2="264.30" stroke="#000" stroke-width="0.8"/>
<line x1="453.00" y1="262.80" x2="453.00" y2="264.30" stroke="#000" stroke-width="0.8"/>
<line x1="440.50" y1="262.80" x2="440.50" y2="264.30" stroke="#000" stroke-width="0.8"/>
<line x1="456.25" y1="262.80" x2="456.25" y2="264.30" stroke="#000" stroke-width="0.8"/>
<line x1="437.50" y1="262.80" x2="437.50" y2="264.30" stroke="#000" stroke-width="0.8"/>
<line x1="434.50" y1="262.80" x2="434.50" y2="265.40" stroke="#000" stroke-width="0.8"/>
<line x1="446.50" y1="262.80" x2="446.50" y2="265.40" stroke="#000" stroke-width="0.8"/>
<line x1="459.50" y1="262.80" x2="459.50" y2="265.40" stroke="#000" stroke-width="0.8"/>
<line x1="479.00" y1="262.80" x2="479.00" y2="265.40" stroke="#000" stroke-width="0.8"/>
<line x1="499.00" y1="262.80" x2="499.00" y2="265.40" stroke="#000" stroke-width="0.8"/>
<rect x="426.80" y="244.20" width="3.20" height="2.60" fill="#000"/>
<rect x="445.00" y="262.80" width="3.00" height="2.60" fill="#000"/>
<rect x="430.00" y="186.20" width="77.60" height="76.60" fill="none" stroke="#000" stroke-width="1.3"/>
<text x="401.20" y="224.50" font-size="9.0" text-anchor="middle" textLength="80.30" lengthAdjust="spacingAndGlyphs" transform="rotate(-90 401.20 224.50) translate(401.20 224.50) scale(1 1.18) translate(-401.20 -224.50)">Alexa fluor 700 - CD4</text>
<text x="441.80" y="294.00" font-size="9.0" textLength="53.20" lengthAdjust="spacingAndGlyphs" transform="translate(441.80 294.00) scale(1 1.18) translate(-441.80 -294.00)">PE/Cy7 - CD94</text>
<text x="436.50" y="197.00" font-size="9.2" textLength="19.00" lengthAdjust="spacingAndGlyphs" transform="translate(436.50 197.00) scale(1 1.18) translate(-436.50 -197.00)">CD4<tspan dy="-3.4" font-size="5.5">-</tspan></text>
<text x="470.00" y="243.80" font-size="8.0" textLength="16.00" lengthAdjust="spacingAndGlyphs" transform="translate(470.00 243.80) scale(1 1.18) translate(-470.00 -243.80)">7.08</text>
<text x="423.00" y="198.10" font-size="8.2" text-anchor="end" transform="translate(423.00 198.10) scale(1 1.18) translate(-423.00 -198.10)">10<tspan dy="-3" font-size="5">5</tspan></text>
<text x="423.00" y="217.40" font-size="8.2" text-anchor="end" transform="translate(423.00 217.40) scale(1 1.18) translate(-423.00 -217.40)">10<tspan dy="-3" font-size="5">4</tspan></text>
<text x="423.00" y="236.70" font-size="8.2" text-anchor="end" transform="translate(423.00 236.70) scale(1 1.18) translate(-423.00 -236.70)">10<tspan dy="-3" font-size="5">3</tspan></text>
<text x="421.80" y="248.40" font-size="8.2" text-anchor="end" transform="translate(421.80 248.40) scale(1 1.18) translate(-421.80 -248.40)">0</text>
<text x="423.00" y="263.00" font-size="8.2" text-anchor="end" transform="translate(423.00 263.00) scale(1 1.18) translate(-423.00 -263.00)">-10<tspan dy="-3" font-size="5">3</tspan></text>
<text x="433.50" y="280.00" font-size="8.2" text-anchor="middle" transform="translate(433.50 280.00) scale(1 1.18) translate(-433.50 -280.00)">-10<tspan dy="-3" font-size="5">3</tspan></text>
<text x="446.50" y="280.00" font-size="8.2" text-anchor="middle" transform="translate(446.50 280.00) scale(1 1.18) translate(-446.50 -280.00)">0</text>
<text x="459.50" y="280.00" font-size="8.2" text-anchor="middle" transform="translate(459.50 280.00) scale(1 1.18) translate(-459.50 -280.00)">10<tspan dy="-3" font-size="5">3</tspan></text>
<text x="479.00" y="280.00" font-size="8.2" text-anchor="middle" transform="translate(479.00 280.00) scale(1 1.18) translate(-479.00 -280.00)">10<tspan dy="-3" font-size="5">4</tspan></text>
<text x="499.00" y="280.00" font-size="8.2" text-anchor="middle" transform="translate(499.00 280.00) scale(1 1.18) translate(-499.00 -280.00)">10<tspan dy="-3" font-size="5">5</tspan></text>
<rect x="44.20" y="186.20" width="28.50" height="55.00" fill="#dfa6a6"/>
<rect x="44.20" y="241.20" width="28.50" height="21.10" fill="#9ca0d2"/>
<rect x="45.50" y="241.80" width="18.10" height="10.90" fill="#e6e6f4"/>
<rect x="45.60" y="190.80" width="18.00" height="12.60" fill="#f3e3e3"/>
<g filter="url(#pb)"><path fill="#282896" d="M56.0 220.9h1.35v1.35h-1.35zM59.0 220.9h1.35v1.35h-1.35zM68.0 220.8h1.35v1.35h-1.35zM50.0 221.9h1.35v1.35h-1.35zM58.0 222.1h1.35v1.35h-1.35zM59.2 222.0h1.35v1.35h-1.35zM63.0 222.0h1.35v1.35h-1.35zM68.0 221.8h1.35v1.35h-1.35zM68.9 221.9h1.35v1.35h-1.35zM69.8 221.9h1.35v1.35h-1.35zM47.1 223.0h1.35v1.35h-1.35zM47.8 223.1h1.35v1.35h-1.35zM48.8 223.2h1.35v1.35h-1.35zM49.9 223.0h1.35v1.35h-1.35zM52.8 222.9h1.35v1.35h-1.35zM71.9 223.2h1.35v1.35h-1.35zM74.0 223.0h1.35v1.35h-1.35zM44.8 223.9h1.35v1.35h-1.35zM74.8 224.1h1.35v1.35h-1.35zM75.2 224.9h1.35v1.35h-1.35zM76.0 225.1h1.35v1.35h-1.35zM44.9 225.8h1.35v1.35h-1.35zM73.9 226.1h1.35v1.35h-1.35zM76.2 225.9h1.35v1.35h-1.35zM45.8 227.1h1.35v1.35h-1.35zM46.9 226.9h1.35v1.35h-1.35zM46.2 227.8h1.35v1.35h-1.35zM46.9 228.0h1.35v1.35h-1.35zM49.8 228.2h1.35v1.35h-1.35zM51.8 228.2h1.35v1.35h-1.35zM53.2 227.9h1.35v1.35h-1.35zM70.9 228.2h1.35v1.35h-1.35zM72.9 228.2h1.35v1.35h-1.35zM44.8 229.0h1.35v1.35h-1.35zM48.0 229.0h1.35v1.35h-1.35zM50.1 229.0h1.35v1.35h-1.35zM50.8 229.0h1.35v1.35h-1.35zM51.8 228.8h1.35v1.35h-1.35zM53.0 229.0h1.35v1.35h-1.35zM54.0 229.2h1.35v1.35h-1.35zM54.9 229.2h1.35v1.35h-1.35zM56.2 228.9h1.35v1.35h-1.35zM56.8 229.0h1.35v1.35h-1.35zM58.2 228.8h1.35v1.35h-1.35zM60.8 229.0h1.35v1.35h-1.35zM62.1 229.1h1.35v1.35h-1.35zM63.0 228.8h1.35v1.35h-1.35zM63.9 229.1h1.35v1.35h-1.35zM65.9 228.8h1.35v1.35h-1.35zM66.9 229.1h1.35v1.35h-1.35zM68.0 228.8h1.35v1.35h-1.35zM70.2 229.0h1.35v1.35h-1.35zM75.0 229.2h1.35v1.35h-1.35zM94.1 229.0h1.35v1.35h-1.35zM47.0 230.0h1.35v1.35h-1.35zM51.0 230.0h1.35v1.35h-1.35zM54.2 229.8h1.35v1.35h-1.35zM57.1 230.1h1.35v1.35h-1.35zM58.0 230.1h1.35v1.35h-1.35zM59.2 230.1h1.35v1.35h-1.35zM59.8 229.9h1.35v1.35h-1.35zM63.2 230.0h1.35v1.35h-1.35zM63.8 230.1h1.35v1.35h-1.35zM64.8 230.2h1.35v1.35h-1.35zM67.0 229.8h1.35v1.35h-1.35zM73.0 230.1h1.35v1.35h-1.35zM90.0 229.9h1.35v1.35h-1.35zM55.1 231.2h1.35v1.35h-1.35zM59.0 231.1h1.35v1.35h-1.35zM60.2 230.8h1.35v1.35h-1.35zM64.8 230.9h1.35v1.35h-1.35zM66.2 231.1h1.35v1.35h-1.35zM67.2 230.8h1.35v1.35h-1.35zM68.2 230.8h1.35v1.35h-1.35zM53.9 232.2h1.35v1.35h-1.35zM57.0 231.8h1.35v1.35h-1.35zM58.9 232.0h1.35v1.35h-1.35zM61.1 232.0h1.35v1.35h-1.35zM64.0 231.9h1.35v1.35h-1.35zM66.2 231.8h1.35v1.35h-1.35zM67.2 232.0h1.35v1.35h-1.35zM69.0 231.9h1.35v1.35h-1.35zM56.9 233.0h1.35v1.35h-1.35zM59.9 233.2h1.35v1.35h-1.35zM61.0 233.1h1.35v1.35h-1.35zM62.8 233.1h1.35v1.35h-1.35zM64.2 233.1h1.35v1.35h-1.35zM64.9 232.9h1.35v1.35h-1.35zM66.0 233.1h1.35v1.35h-1.35zM69.1 232.8h1.35v1.35h-1.35zM71.2 232.8h1.35v1.35h-1.35zM71.9 232.8h1.35v1.35h-1.35zM81.8 233.0h1.35v1.35h-1.35zM50.0 233.9h1.35v1.35h-1.35zM55.1 233.8h1.35v1.35h-1.35zM55.8 234.0h1.35v1.35h-1.35zM63.1 234.1h1.35v1.35h-1.35zM67.9 234.2h1.35v1.35h-1.35zM75.0 234.1h1.35v1.35h-1.35zM89.1 233.9h1.35v1.35h-1.35zM65.8 235.1h1.35v1.35h-1.35zM68.9 235.0h1.35v1.35h-1.35zM51.2 235.9h1.35v1.35h-1.35zM58.2 236.2h1.35v1.35h-1.35zM64.9 235.8h1.35v1.35h-1.35zM66.1 235.9h1.35v1.35h-1.35zM67.1 236.2h1.35v1.35h-1.35zM68.1 236.1h1.35v1.35h-1.35zM71.8 236.0h1.35v1.35h-1.35zM73.0 236.1h1.35v1.35h-1.35zM65.2 237.2h1.35v1.35h-1.35zM67.2 237.2h1.35v1.35h-1.35zM72.2 237.0h1.35v1.35h-1.35zM62.1 238.1h1.35v1.35h-1.35zM70.2 238.1h1.35v1.35h-1.35zM60.8 239.1h1.35v1.35h-1.35zM65.8 238.9h1.35v1.35h-1.35zM68.0 238.8h1.35v1.35h-1.35z"/><path fill="#282898" d="M51 223h1v1h-1zM54 223h2v1h-2zM57 223h2v1h-2zM46 224h4v1h-4zM45 225h3v1h-3zM46 226h2v1h-2zM49 227h2v1h-2zM54 228h1v1h-1zM70 228h1v1h-1z"/><path fill="#282890" d="M52 223h1v1h-1zM74 225h1v1h-1zM48 227h1v1h-1zM73 227h1v1h-1zM65 229h1v1h-1z"/><path fill="#2830a0" d="M56 223h1v1h-1zM70 223h2v1h-2zM73 224h1v1h-1zM48 225h1v1h-1zM48 226h1v1h-1zM73 226h1v1h-1zM56 228h4v1h-4z"/><path fill="#2838a8" d="M59 223h2v1h-2zM72 224h1v1h-1zM73 225h1v1h-1zM61 228h1v1h-1zM66 228h1v1h-1zM68 228h2v1h-2z"/><path fill="#2838b0" d="M61 223h2v1h-2zM67 223h1v1h-1zM69 223h1v1h-1zM50 224h1v1h-1zM67 228h1v1h-1z"/><path fill="#2848b8" d="M63 223h2v1h-2zM51 224h1v1h-1zM49 225h1v1h-1zM50 226h2v1h-2zM53 227h1v1h-1zM71 227h1v1h-1zM63 228h1v1h-1z"/><path fill="#3060c0" d="M65 223h1v1h-1zM55 224h1v1h-1z"/><path fill="#2840b0" d="M66 223h1v1h-1zM68 223h1v1h-1zM52 224h1v1h-1zM49 226h1v1h-1zM52 227h1v1h-1zM59 227h1v1h-1zM60 228h1v1h-1zM62 228h1v1h-1zM64 228h2v1h-2z"/><path fill="#3068c0" d="M53 224h1v1h-1zM56 227h1v1h-1z"/><path fill="#3050b8" d="M54 224h1v1h-1zM50 225h1v1h-1zM55 227h1v1h-1z"/><path fill="#3880c8" d="M56 224h1v1h-1zM57 227h2v1h-2zM70 227h1v1h-1z"/><path fill="#48a8b8" d="M57 224h1v1h-1z"/><path fill="#48a8c8" d="M58 224h1v1h-1z"/><path fill="#3888d0" d="M59 224h1v1h-1z"/><path fill="#58b090" d="M60 224h1v1h-1zM70 224h1v1h-1zM53 226h1v1h-1z"/><path fill="#48a8c0" d="M61 224h1v1h-1zM55 226h1v1h-1zM67 227h1v1h-1z"/><path fill="#78c048" d="M62 224h1v1h-1z"/><path fill="#98c840" d="M63 224h1v1h-1z"/><path fill="#e0d030" d="M64 224h1v1h-1zM69 226h1v1h-1z"/><path fill="#e0c030" d="M65 224h1v1h-1zM68 226h1v1h-1z"/><path fill="#d0d838" d="M66 224h1v1h-1z"/><path fill="#90c848" d="M67 224h1v1h-1z"/><path fill="#70c048" d="M68 224h1v1h-1z"/><path fill="#50b0b0" d="M69 224h1v1h-1zM56 225h1v1h-1z"/><path fill="#3878c8" d="M71 224h1v1h-1zM52 226h1v1h-1zM72 226h1v1h-1z"/><path fill="#4098d8" d="M51 225h1v1h-1z"/><path fill="#4090d0" d="M52 225h1v1h-1zM71 226h1v1h-1z"/><path fill="#50b0a8" d="M53 225h1v1h-1zM62 227h1v1h-1zM69 227h1v1h-1z"/><path fill="#58b888" d="M54 225h1v1h-1zM57 225h1v1h-1zM59 226h1v1h-1zM64 227h1v1h-1z"/><path fill="#58b098" d="M55 225h1v1h-1z"/><path fill="#60b878" d="M58 225h1v1h-1zM70 226h1v1h-1z"/><path fill="#80c048" d="M59 225h1v1h-1z"/><path fill="#b0d040" d="M60 225h1v1h-1z"/><path fill="#c8d038" d="M61 225h1v1h-1z"/><path fill="#d8d838" d="M62 225h1v1h-1z"/><path fill="#e89828" d="M63 225h1v1h-1z"/><path fill="#e03820" d="M64 225h1v1h-1z"/><path fill="#e88828" d="M65 225h1v1h-1z"/><path fill="#e04020" d="M66 225h1v1h-1z"/><path fill="#e85820" d="M67 225h1v1h-1z"/><path fill="#e0b830" d="M68 225h1v1h-1z"/><path fill="#c0d038" d="M69 225h1v1h-1zM60 226h1v1h-1z"/><path fill="#80c848" d="M70 225h1v1h-1z"/><path fill="#40a8d0" d="M71 225h1v1h-1zM54 226h1v1h-1z"/><path fill="#40a8d8" d="M72 225h1v1h-1z"/><path fill="#50b0a0" d="M56 226h1v1h-1zM68 227h1v1h-1z"/><path fill="#60b868" d="M57 226h1v1h-1z"/><path fill="#68b860" d="M58 226h1v1h-1zM67 226h1v1h-1z"/><path fill="#88c848" d="M61 226h1v1h-1zM63 226h1v1h-1z"/><path fill="#e0d830" d="M62 226h1v1h-1z"/><path fill="#e8a828" d="M64 226h1v1h-1z"/><path fill="#e8a028" d="M65 226h1v1h-1z"/><path fill="#e8b028" d="M66 226h1v1h-1z"/><path fill="#2830a8" d="M51 227h1v1h-1z"/><path fill="#3058c0" d="M54 227h1v1h-1z"/><path fill="#4098d0" d="M60 227h2v1h-2z"/><path fill="#58b880" d="M63 227h1v1h-1z"/><path fill="#48a8d0" d="M65 227h1v1h-1z"/><path fill="#68c050" d="M66 227h1v1h-1z"/><path fill="#283098" d="M72 227h1v1h-1zM55 228h1v1h-1z"/></g>
<g filter="url(#pb)"><path fill="#282896" d="M76.2 247.1h1.35v1.35h-1.35zM83.2 249.9h1.35v1.35h-1.35zM52.9 251.1h1.35v1.35h-1.35zM72.9 250.9h1.35v1.35h-1.35zM79.1 251.0h1.35v1.35h-1.35zM82.9 250.8h1.35v1.35h-1.35zM57.2 251.9h1.35v1.35h-1.35zM57.9 252.0h1.35v1.35h-1.35zM65.1 251.8h1.35v1.35h-1.35zM74.1 251.9h1.35v1.35h-1.35zM75.0 251.8h1.35v1.35h-1.35zM76.0 252.1h1.35v1.35h-1.35zM80.8 252.2h1.35v1.35h-1.35zM49.0 252.9h1.35v1.35h-1.35zM51.1 253.1h1.35v1.35h-1.35zM51.8 253.2h1.35v1.35h-1.35zM56.9 252.8h1.35v1.35h-1.35zM57.9 252.9h1.35v1.35h-1.35zM59.1 252.9h1.35v1.35h-1.35zM63.1 253.0h1.35v1.35h-1.35zM63.8 252.8h1.35v1.35h-1.35zM65.2 253.0h1.35v1.35h-1.35zM67.2 252.8h1.35v1.35h-1.35zM68.8 253.0h1.35v1.35h-1.35zM73.1 253.2h1.35v1.35h-1.35zM74.1 252.9h1.35v1.35h-1.35zM89.0 253.0h1.35v1.35h-1.35zM44.8 254.0h1.35v1.35h-1.35zM45.8 254.2h1.35v1.35h-1.35zM48.8 254.1h1.35v1.35h-1.35zM49.8 254.2h1.35v1.35h-1.35zM50.8 254.1h1.35v1.35h-1.35zM51.8 254.1h1.35v1.35h-1.35zM53.8 254.0h1.35v1.35h-1.35zM55.1 253.9h1.35v1.35h-1.35zM55.9 253.8h1.35v1.35h-1.35zM57.2 253.8h1.35v1.35h-1.35zM58.0 254.2h1.35v1.35h-1.35zM58.9 254.2h1.35v1.35h-1.35zM60.2 253.8h1.35v1.35h-1.35zM61.0 254.2h1.35v1.35h-1.35zM62.0 253.8h1.35v1.35h-1.35zM66.2 254.0h1.35v1.35h-1.35zM66.8 254.1h1.35v1.35h-1.35zM69.2 253.8h1.35v1.35h-1.35zM71.0 254.1h1.35v1.35h-1.35zM72.2 254.2h1.35v1.35h-1.35zM74.8 254.1h1.35v1.35h-1.35zM76.2 253.8h1.35v1.35h-1.35zM77.0 254.0h1.35v1.35h-1.35zM78.0 254.1h1.35v1.35h-1.35zM78.9 254.0h1.35v1.35h-1.35zM79.9 254.1h1.35v1.35h-1.35zM80.8 254.2h1.35v1.35h-1.35zM83.0 254.2h1.35v1.35h-1.35zM84.0 253.8h1.35v1.35h-1.35zM88.2 253.8h1.35v1.35h-1.35zM89.0 254.2h1.35v1.35h-1.35zM87.1 254.8h1.35v1.35h-1.35zM88.0 255.0h1.35v1.35h-1.35zM89.0 255.1h1.35v1.35h-1.35zM93.9 255.0h1.35v1.35h-1.35zM90.1 256.1h1.35v1.35h-1.35zM92.2 255.8h1.35v1.35h-1.35zM90.2 257.1h1.35v1.35h-1.35zM91.2 257.2h1.35v1.35h-1.35zM90.1 258.1h1.35v1.35h-1.35zM91.0 258.1h1.35v1.35h-1.35zM89.1 259.1h1.35v1.35h-1.35zM87.0 259.9h1.35v1.35h-1.35zM89.0 259.9h1.35v1.35h-1.35zM89.8 259.9h1.35v1.35h-1.35zM90.8 259.8h1.35v1.35h-1.35zM92.8 260.1h1.35v1.35h-1.35zM46.9 260.6h1.35v1.35h-1.35zM47.9 260.6h1.35v1.35h-1.35zM48.9 260.6h1.35v1.35h-1.35zM50.8 260.6h1.35v1.35h-1.35zM52.1 260.6h1.35v1.35h-1.35zM52.9 260.6h1.35v1.35h-1.35zM55.0 260.6h1.35v1.35h-1.35zM57.1 260.6h1.35v1.35h-1.35zM57.9 260.6h1.35v1.35h-1.35zM58.8 260.6h1.35v1.35h-1.35zM59.9 260.6h1.35v1.35h-1.35zM62.2 260.6h1.35v1.35h-1.35zM64.1 260.6h1.35v1.35h-1.35zM65.8 260.6h1.35v1.35h-1.35zM68.0 260.6h1.35v1.35h-1.35zM70.1 260.6h1.35v1.35h-1.35zM71.8 260.6h1.35v1.35h-1.35zM73.0 260.6h1.35v1.35h-1.35zM74.2 260.6h1.35v1.35h-1.35zM75.2 260.6h1.35v1.35h-1.35zM80.1 260.6h1.35v1.35h-1.35zM82.8 260.6h1.35v1.35h-1.35zM85.9 260.6h1.35v1.35h-1.35z"/><path fill="#282890" d="M63 254h1v1h-1zM65 254h1v1h-1zM68 254h1v1h-1zM70 254h1v1h-1zM73 254h2v1h-2zM45 255h1v1h-1zM85 255h1v1h-1zM89 258h1v1h-1zM45 260h1v1h-1zM84 260h1v1h-1zM86 260h1v1h-1zM61 261h1v1h-1zM63 261h1v1h-1zM67 261h1v1h-1z"/><path fill="#282898" d="M64 254h1v1h-1zM46 255h1v1h-1zM86 255h1v1h-1zM88 256h1v1h-1zM88 257h2v1h-2zM88 258h1v1h-1zM87 259h2v1h-2zM46 260h1v1h-1zM48 260h1v1h-1zM76 260h1v1h-1zM79 260h1v1h-1zM81 260h3v1h-3zM85 260h1v1h-1zM65 261h1v1h-1z"/><path fill="#2830a0" d="M47 255h4v1h-4zM52 255h1v1h-1zM56 255h2v1h-2zM76 255h2v1h-2zM79 255h6v1h-6zM45 256h1v1h-1zM86 256h2v1h-2zM82 259h1v1h-1zM85 259h2v1h-2zM47 260h1v1h-1zM49 260h3v1h-3zM54 260h1v1h-1zM74 260h1v1h-1zM77 260h2v1h-2z"/><path fill="#2838a8" d="M51 255h1v1h-1zM53 255h2v1h-2zM58 255h1v1h-1zM62 255h1v1h-1zM74 255h1v1h-1zM46 256h1v1h-1zM85 256h1v1h-1zM87 257h1v1h-1zM87 258h1v1h-1zM45 259h2v1h-2zM79 259h1v1h-1zM52 260h2v1h-2zM55 260h1v1h-1zM57 260h1v1h-1zM67 260h1v1h-1zM71 260h3v1h-3z"/><path fill="#2840b0" d="M55 255h1v1h-1zM59 255h3v1h-3zM63 255h1v1h-1zM66 255h2v1h-2zM70 255h3v1h-3zM75 255h1v1h-1zM47 256h1v1h-1zM81 256h2v1h-2zM84 257h2v1h-2zM85 258h2v1h-2zM80 259h1v1h-1zM58 260h1v1h-1zM60 260h1v1h-1zM62 260h2v1h-2zM68 260h3v1h-3z"/><path fill="#2840b8" d="M64 255h1v1h-1zM68 255h1v1h-1zM80 256h1v1h-1zM46 258h1v1h-1zM47 259h1v1h-1zM77 259h1v1h-1z"/><path fill="#2848b8" d="M65 255h1v1h-1zM48 256h1v1h-1zM77 256h1v1h-1zM45 257h1v1h-1zM83 257h1v1h-1zM84 258h1v1h-1zM76 259h1v1h-1zM66 260h1v1h-1z"/><path fill="#2838b0" d="M69 255h1v1h-1zM73 255h1v1h-1zM83 256h2v1h-2zM86 257h1v1h-1zM45 258h1v1h-1zM83 259h2v1h-2zM56 260h1v1h-1zM64 260h1v1h-1z"/><path fill="#283098" d="M78 255h1v1h-1zM75 260h1v1h-1zM80 260h1v1h-1z"/><path fill="#3058c0" d="M49 256h1v1h-1zM46 257h1v1h-1zM50 259h1v1h-1zM54 259h1v1h-1z"/><path fill="#3058b8" d="M50 256h1v1h-1zM47 257h1v1h-1zM75 259h1v1h-1zM65 260h1v1h-1z"/><path fill="#4090d0" d="M51 256h1v1h-1zM73 256h1v1h-1zM48 257h1v1h-1zM57 259h1v1h-1zM61 259h1v1h-1z"/><path fill="#3880c8" d="M52 256h1v1h-1zM69 256h1v1h-1zM80 257h1v1h-1zM76 258h2v1h-2zM51 259h1v1h-1zM53 259h1v1h-1zM69 259h1v1h-1z"/><path fill="#3880d0" d="M53 256h1v1h-1z"/><path fill="#3878c8" d="M54 256h1v1h-1zM58 256h1v1h-1zM79 257h1v1h-1zM78 258h1v1h-1zM80 258h1v1h-1zM49 259h1v1h-1zM72 259h1v1h-1zM74 259h1v1h-1z"/><path fill="#4098d8" d="M55 256h1v1h-1zM72 256h1v1h-1zM56 259h1v1h-1z"/><path fill="#3068c0" d="M56 256h1v1h-1zM76 256h1v1h-1zM78 257h1v1h-1zM82 257h1v1h-1zM53 258h1v1h-1zM82 258h1v1h-1z"/><path fill="#3888d0" d="M57 256h1v1h-1zM62 256h1v1h-1zM75 256h1v1h-1zM73 257h1v1h-1zM48 258h1v1h-1zM50 258h1v1h-1zM75 258h1v1h-1zM59 259h1v1h-1zM68 259h1v1h-1z"/><path fill="#48b0b8" d="M59 256h1v1h-1z"/><path fill="#48a8d0" d="M60 256h1v1h-1zM67 256h1v1h-1zM77 257h1v1h-1z"/><path fill="#58b090" d="M61 256h1v1h-1zM54 257h1v1h-1zM61 257h1v1h-1zM65 259h1v1h-1z"/><path fill="#50b0b0" d="M63 256h1v1h-1zM74 258h1v1h-1zM71 259h1v1h-1z"/><path fill="#50b0a0" d="M64 256h1v1h-1zM66 256h1v1h-1zM59 257h1v1h-1zM66 257h1v1h-1zM55 258h1v1h-1zM66 259h1v1h-1z"/><path fill="#40a8d8" d="M65 256h1v1h-1zM51 257h1v1h-1z"/><path fill="#40a0d8" d="M68 256h1v1h-1zM74 256h1v1h-1zM70 259h1v1h-1z"/><path fill="#50b0a8" d="M70 256h1v1h-1zM75 257h1v1h-1zM49 258h1v1h-1zM70 258h2v1h-2z"/><path fill="#58b098" d="M71 256h1v1h-1zM58 257h1v1h-1zM54 258h1v1h-1zM63 258h1v1h-1zM63 259h1v1h-1zM67 259h1v1h-1z"/><path fill="#3060c0" d="M78 256h2v1h-2zM81 257h1v1h-1zM83 258h1v1h-1zM48 259h1v1h-1zM61 260h1v1h-1z"/><path fill="#48a8b8" d="M49 257h1v1h-1zM55 257h1v1h-1z"/><path fill="#4098d0" d="M50 257h1v1h-1zM52 257h1v1h-1zM56 257h1v1h-1zM71 257h1v1h-1zM47 258h1v1h-1zM51 258h1v1h-1zM55 259h1v1h-1zM60 259h1v1h-1zM64 259h1v1h-1z"/><path fill="#48a8c0" d="M53 257h1v1h-1zM76 257h1v1h-1z"/><path fill="#60b880" d="M57 257h1v1h-1z"/><path fill="#58b088" d="M60 257h1v1h-1zM62 257h1v1h-1zM69 258h1v1h-1z"/><path fill="#c0d038" d="M63 257h1v1h-1z"/><path fill="#58b880" d="M64 257h1v1h-1zM74 257h1v1h-1z"/><path fill="#70c048" d="M65 257h1v1h-1zM59 258h1v1h-1zM61 258h1v1h-1zM68 258h1v1h-1z"/><path fill="#88c848" d="M67 257h1v1h-1zM66 258h1v1h-1z"/><path fill="#90c840" d="M68 257h1v1h-1z"/><path fill="#68c048" d="M69 257h1v1h-1z"/><path fill="#58b888" d="M70 257h1v1h-1zM72 257h1v1h-1zM60 258h1v1h-1zM62 259h1v1h-1z"/><path fill="#48a8c8" d="M52 258h1v1h-1zM58 259h1v1h-1z"/><path fill="#60b860" d="M56 258h2v1h-2z"/><path fill="#60b868" d="M58 258h1v1h-1z"/><path fill="#a0c840" d="M62 258h1v1h-1z"/><path fill="#68c050" d="M64 258h1v1h-1z"/><path fill="#78c048" d="M65 258h1v1h-1z"/><path fill="#60b878" d="M67 258h1v1h-1zM72 258h2v1h-2z"/><path fill="#3870c8" d="M79 258h1v1h-1zM81 258h1v1h-1z"/><path fill="#3070c8" d="M52 259h1v1h-1z"/><path fill="#3890d0" d="M73 259h1v1h-1z"/><path fill="#3050b8" d="M78 259h1v1h-1zM59 260h1v1h-1z"/><path fill="#2850b8" d="M81 259h1v1h-1z"/></g>
<ellipse cx="66.00" cy="258.00" rx="4.20" ry="1.20" fill="#a82848" opacity="0.9" filter="url(#bl)"/>
<line x1="72.70" y1="186.20" x2="72.70" y2="241.20" stroke="#d05a5a" stroke-width="0.8"/>
<line x1="44.20" y1="241.20" x2="72.70" y2="241.20" stroke="#d05a5a" stroke-width="0.8"/>
<line x1="72.70" y1="241.20" x2="120.80" y2="241.20" stroke="#333" stroke-width="0.8"/>
<line x1="41.60" y1="194.00" x2="44.20" y2="194.00" stroke="#000" stroke-width="0.8"/>
<line x1="42.80" y1="205.67" x2="44.20" y2="205.67" stroke="#000" stroke-width="0.7"/>
<line x1="42.80" y1="202.73" x2="44.20" y2="202.73" stroke="#000" stroke-width="0.7"/>
<line x1="42.80" y1="200.65" x2="44.20" y2="200.65" stroke="#000" stroke-width="0.7"/>
<line x1="42.80" y1="199.03" x2="44.20" y2="199.03" stroke="#000" stroke-width="0.7"/>
<line x1="42.80" y1="197.70" x2="44.20" y2="197.70" stroke="#000" stroke-width="0.7"/>
<line x1="42.80" y1="196.59" x2="44.20" y2="196.59" stroke="#000" stroke-width="0.7"/>
<line x1="42.80" y1="195.62" x2="44.20" y2="195.62" stroke="#000" stroke-width="0.7"/>
<line x1="42.80" y1="194.76" x2="44.20" y2="194.76" stroke="#000" stroke-width="0.7"/>
<line x1="41.60" y1="210.70" x2="44.20" y2="210.70" stroke="#000" stroke-width="0.8"/>
<line x1="42.80" y1="222.44" x2="44.20" y2="222.44" stroke="#000" stroke-width="0.7"/>
<line x1="42.80" y1="219.48" x2="44.20" y2="219.48" stroke="#000" stroke-width="0.7"/>
<line x1="42.80" y1="217.39" x2="44.20" y2="217.39" stroke="#000" stroke-width="0.7"/>
<line x1="42.80" y1="215.76" x2="44.20" y2="215.76" stroke="#000" stroke-width="0.7"/>
<line x1="42.80" y1="214.43" x2="44.20" y2="214.43" stroke="#000" stroke-width="0.7"/>
<line x1="42.80" y1="213.30" x2="44.20" y2="213.30" stroke="#000" stroke-width="0.7"/>
<line x1="42.80" y1="212.33" x2="44.20" y2="212.33" stroke="#000" stroke-width="0.7"/>
<line x1="42.80" y1="211.47" x2="44.20" y2="211.47" stroke="#000" stroke-width="0.7"/>
<line x1="41.60" y1="227.50" x2="44.20" y2="227.50" stroke="#000" stroke-width="0.8"/>
<line x1="42.80" y1="239.87" x2="44.20" y2="239.87" stroke="#000" stroke-width="0.7"/>
<line x1="42.80" y1="236.75" x2="44.20" y2="236.75" stroke="#000" stroke-width="0.7"/>
<line x1="42.80" y1="234.54" x2="44.20" y2="234.54" stroke="#000" stroke-width="0.7"/>
<line x1="42.80" y1="232.83" x2="44.20" y2="232.83" stroke="#000" stroke-width="0.7"/>
<line x1="42.80" y1="231.43" x2="44.20" y2="231.43" stroke="#000" stroke-width="0.7"/>
<line x1="42.80" y1="230.24" x2="44.20" y2="230.24" stroke="#000" stroke-width="0.7"/>
<line x1="42.80" y1="229.22" x2="44.20" y2="229.22" stroke="#000" stroke-width="0.7"/>
<line x1="42.80" y1="228.31" x2="44.20" y2="228.31" stroke="#000" stroke-width="0.7"/>
<line x1="41.60" y1="245.20" x2="44.20" y2="245.20" stroke="#000" stroke-width="0.8"/>
<line x1="42.80" y1="188.97" x2="44.20" y2="188.97" stroke="#000" stroke-width="0.7"/>
<rect x="41.00" y="257.40" width="3.20" height="2.60" fill="#000"/>
<line x1="44.40" y1="262.30" x2="44.40" y2="264.90" stroke="#000" stroke-width="0.8"/>
<line x1="49.00" y1="262.30" x2="49.00" y2="263.70" stroke="#000" stroke-width="0.7"/>
<line x1="51.69" y1="262.30" x2="51.69" y2="263.70" stroke="#000" stroke-width="0.7"/>
<line x1="53.60" y1="262.30" x2="53.60" y2="263.70" stroke="#000" stroke-width="0.7"/>
<line x1="55.08" y1="262.30" x2="55.08" y2="263.70" stroke="#000" stroke-width="0.7"/>
<line x1="56.29" y1="262.30" x2="56.29" y2="263.70" stroke="#000" stroke-width="0.7"/>
<line x1="57.31" y1="262.30" x2="57.31" y2="263.70" stroke="#000" stroke-width="0.7"/>
<line x1="58.20" y1="262.30" x2="58.20" y2="263.70" stroke="#000" stroke-width="0.7"/>
<line x1="58.98" y1="262.30" x2="58.98" y2="263.70" stroke="#000" stroke-width="0.7"/>
<line x1="59.68" y1="262.30" x2="59.68" y2="264.90" stroke="#000" stroke-width="0.8"/>
<line x1="64.28" y1="262.30" x2="64.28" y2="263.70" stroke="#000" stroke-width="0.7"/>
<line x1="66.97" y1="262.30" x2="66.97" y2="263.70" stroke="#000" stroke-width="0.7"/>
<line x1="68.88" y1="262.30" x2="68.88" y2="263.70" stroke="#000" stroke-width="0.7"/>
<line x1="70.36" y1="262.30" x2="70.36" y2="263.70" stroke="#000" stroke-width="0.7"/>
<line x1="71.57" y1="262.30" x2="71.57" y2="263.70" stroke="#000" stroke-width="0.7"/>
<line x1="72.59" y1="262.30" x2="72.59" y2="263.70" stroke="#000" stroke-width="0.7"/>
<line x1="73.48" y1="262.30" x2="73.48" y2="263.70" stroke="#000" stroke-width="0.7"/>
<line x1="74.26" y1="262.30" x2="74.26" y2="263.70" stroke="#000" stroke-width="0.7"/>
<line x1="74.96" y1="262.30" x2="74.96" y2="264.90" stroke="#000" stroke-width="0.8"/>
<line x1="79.56" y1="262.30" x2="79.56" y2="263.70" stroke="#000" stroke-width="0.7"/>
<line x1="82.25" y1="262.30" x2="82.25" y2="263.70" stroke="#000" stroke-width="0.7"/>
<line x1="84.16" y1="262.30" x2="84.16" y2="263.70" stroke="#000" stroke-width="0.7"/>
<line x1="85.64" y1="262.30" x2="85.64" y2="263.70" stroke="#000" stroke-width="0.7"/>
<line x1="86.85" y1="262.30" x2="86.85" y2="263.70" stroke="#000" stroke-width="0.7"/>
<line x1="87.87" y1="262.30" x2="87.87" y2="263.70" stroke="#000" stroke-width="0.7"/>
<line x1="88.76" y1="262.30" x2="88.76" y2="263.70" stroke="#000" stroke-width="0.7"/>
<line x1="89.54" y1="262.30" x2="89.54" y2="263.70" stroke="#000" stroke-width="0.7"/>
<line x1="90.24" y1="262.30" x2="90.24" y2="264.90" stroke="#000" stroke-width="0.8"/>
<line x1="94.84" y1="262.30" x2="94.84" y2="263.70" stroke="#000" stroke-width="0.7"/>
<line x1="97.53" y1="262.30" x2="97.53" y2="263.70" stroke="#000" stroke-width="0.7"/>
<line x1="99.44" y1="262.30" x2="99.44" y2="263.70" stroke="#000" stroke-width="0.7"/>
<line x1="100.92" y1="262.30" x2="100.92" y2="263.70" stroke="#000" stroke-width="0.7"/>
<line x1="102.13" y1="262.30" x2="102.13" y2="263.70" stroke="#000" stroke-width="0.7"/>
<line x1="103.15" y1="262.30" x2="103.15" y2="263.70" stroke="#000" stroke-width="0.7"/>
<line x1="104.04" y1="262.30" x2="104.04" y2="263.70" stroke="#000" stroke-width="0.7"/>
<line x1="104.82" y1="262.30" x2="104.82" y2="263.70" stroke="#000" stroke-width="0.7"/>
<line x1="105.52" y1="262.30" x2="105.52" y2="264.90" stroke="#000" stroke-width="0.8"/>
<line x1="110.12" y1="262.30" x2="110.12" y2="263.70" stroke="#000" stroke-width="0.7"/>
<line x1="112.81" y1="262.30" x2="112.81" y2="263.70" stroke="#000" stroke-width="0.7"/>
<line x1="114.72" y1="262.30" x2="114.72" y2="263.70" stroke="#000" stroke-width="0.7"/>
<line x1="116.20" y1="262.30" x2="116.20" y2="263.70" stroke="#000" stroke-width="0.7"/>
<line x1="117.41" y1="262.30" x2="117.41" y2="263.70" stroke="#000" stroke-width="0.7"/>
<line x1="118.43" y1="262.30" x2="118.43" y2="263.70" stroke="#000" stroke-width="0.7"/>
<line x1="119.32" y1="262.30" x2="119.32" y2="263.70" stroke="#000" stroke-width="0.7"/>
<line x1="120.10" y1="262.30" x2="120.10" y2="263.70" stroke="#000" stroke-width="0.7"/>
<line x1="120.80" y1="262.30" x2="120.80" y2="264.90" stroke="#000" stroke-width="0.8"/>
<rect x="44.20" y="186.20" width="76.60" height="76.10" fill="none" stroke="#000" stroke-width="1.3"/>
<text x="37.90" y="197.70" font-size="8.2" text-anchor="end" transform="translate(37.90 197.70) scale(1 1.18) translate(-37.90 -197.70)">10<tspan dy="-3" font-size="5">5</tspan></text>
<text x="37.90" y="213.30" font-size="8.2" text-anchor="end" transform="translate(37.90 213.30) scale(1 1.18) translate(-37.90 -213.30)">10<tspan dy="-3" font-size="5">4</tspan></text>
<text x="37.90" y="230.40" font-size="8.2" text-anchor="end" transform="translate(37.90 230.40) scale(1 1.18) translate(-37.90 -230.40)">10<tspan dy="-3" font-size="5">3</tspan></text>
<text x="37.90" y="246.80" font-size="8.2" text-anchor="end" transform="translate(37.90 246.80) scale(1 1.18) translate(-37.90 -246.80)">10<tspan dy="-3" font-size="5">2</tspan></text>
<text x="36.90" y="261.60" font-size="8.2" text-anchor="end" transform="translate(36.90 261.60) scale(1 1.18) translate(-36.90 -261.60)">0</text>
<text x="45.50" y="279.20" font-size="8.2" text-anchor="middle" textLength="12.20" lengthAdjust="spacingAndGlyphs" transform="translate(45.50 279.20) scale(1 1.18) translate(-45.50 -279.20)">10<tspan dy="-3" font-size="5">0</tspan></text>
<text x="60.05" y="279.20" font-size="8.2" text-anchor="middle" textLength="12.20" lengthAdjust="spacingAndGlyphs" transform="translate(60.05 279.20) scale(1 1.18) translate(-60.05 -279.20)">10<tspan dy="-3" font-size="5">1</tspan></text>
<text x="74.60" y="279.20" font-size="8.2" text-anchor="middle" textLength="12.20" lengthAdjust="spacingAndGlyphs" transform="translate(74.60 279.20) scale(1 1.18) translate(-74.60 -279.20)">10<tspan dy="-3" font-size="5">2</tspan></text>
<text x="89.15" y="279.20" font-size="8.2" text-anchor="middle" textLength="12.20" lengthAdjust="spacingAndGlyphs" transform="translate(89.15 279.20) scale(1 1.18) translate(-89.15 -279.20)">10<tspan dy="-3" font-size="5">3</tspan></text>
<text x="103.70" y="279.20" font-size="8.2" text-anchor="middle" textLength="12.20" lengthAdjust="spacingAndGlyphs" transform="translate(103.70 279.20) scale(1 1.18) translate(-103.70 -279.20)">10<tspan dy="-3" font-size="5">4</tspan></text>
<text x="118.25" y="279.20" font-size="8.2" text-anchor="middle" textLength="12.20" lengthAdjust="spacingAndGlyphs" transform="translate(118.25 279.20) scale(1 1.18) translate(-118.25 -279.20)">10<tspan dy="-3" font-size="5">5</tspan></text>
<text x="18.20" y="224.50" font-size="9.0" text-anchor="middle" textLength="79.50" lengthAdjust="spacingAndGlyphs" transform="rotate(-90 18.20 224.50) translate(18.20 224.50) scale(1 1.18) translate(-18.20 -224.50)">Alexa fluor 700 - CD4</text>
<text x="55.50" y="295.00" font-size="9.0" textLength="54.00" lengthAdjust="spacingAndGlyphs" transform="translate(55.50 295.00) scale(1 1.18) translate(-55.50 -295.00)">PE/Cy7 - CD94</text>
<text x="46.30" y="198.70" font-size="8.0" textLength="15.50" lengthAdjust="spacingAndGlyphs" transform="translate(46.30 198.70) scale(1 1.18) translate(-46.30 -198.70)">32.2</text>
<text x="47.90" y="249.60" font-size="8.0" textLength="15.50" lengthAdjust="spacingAndGlyphs" transform="translate(47.90 249.60) scale(1 1.18) translate(-47.90 -249.60)">57.6</text>
<text x="118.60" y="198.30" font-size="8.0" text-anchor="end" textLength="15.50" lengthAdjust="spacingAndGlyphs" transform="translate(118.60 198.30) scale(1 1.18) translate(-118.60 -198.30)">0.97</text>
<text x="118.60" y="249.60" font-size="8.0" text-anchor="end" textLength="15.50" lengthAdjust="spacingAndGlyphs" transform="translate(118.60 249.60) scale(1 1.18) translate(-118.60 -249.60)">9.25</text>
<text x="145.50" y="198.00" font-size="9.0" textLength="72.50" lengthAdjust="spacingAndGlyphs" transform="translate(145.50 198.00) scale(1 1.18) translate(-145.50 -198.00)">Primary iNKT cells</text>
<text x="156.00" y="208.80" font-size="9.0" textLength="51.00" lengthAdjust="spacingAndGlyphs" transform="translate(156.00 208.80) scale(1 1.18) translate(-156.00 -208.80)">sorted day 0</text>
<g filter="url(#pb)"><path fill="#282896" d="M70.9 334.2h1.35v1.35h-1.35zM104.0 335.1h1.35v1.35h-1.35zM106.9 336.1h1.35v1.35h-1.35zM65.9 337.1h1.35v1.35h-1.35zM91.0 338.0h1.35v1.35h-1.35zM74.2 339.2h1.35v1.35h-1.35zM91.9 339.1h1.35v1.35h-1.35zM94.2 339.1h1.35v1.35h-1.35zM111.2 339.0h1.35v1.35h-1.35zM115.0 339.1h1.35v1.35h-1.35zM75.8 340.0h1.35v1.35h-1.35zM99.1 340.0h1.35v1.35h-1.35zM102.2 340.2h1.35v1.35h-1.35zM113.8 340.2h1.35v1.35h-1.35zM64.2 341.0h1.35v1.35h-1.35zM73.0 341.1h1.35v1.35h-1.35zM97.9 341.1h1.35v1.35h-1.35zM104.0 340.9h1.35v1.35h-1.35zM112.8 341.2h1.35v1.35h-1.35zM67.9 341.9h1.35v1.35h-1.35zM73.9 342.0h1.35v1.35h-1.35zM83.1 342.0h1.35v1.35h-1.35zM103.0 342.0h1.35v1.35h-1.35zM104.9 342.2h1.35v1.35h-1.35zM115.8 342.0h1.35v1.35h-1.35zM61.8 342.8h1.35v1.35h-1.35zM66.9 343.0h1.35v1.35h-1.35zM84.9 343.1h1.35v1.35h-1.35zM87.0 343.0h1.35v1.35h-1.35zM101.8 343.2h1.35v1.35h-1.35zM108.0 343.1h1.35v1.35h-1.35zM114.9 343.1h1.35v1.35h-1.35zM115.9 343.2h1.35v1.35h-1.35zM117.0 343.2h1.35v1.35h-1.35zM61.0 344.0h1.35v1.35h-1.35zM65.2 344.0h1.35v1.35h-1.35zM107.8 343.9h1.35v1.35h-1.35zM108.8 343.9h1.35v1.35h-1.35zM111.2 343.9h1.35v1.35h-1.35zM63.0 344.9h1.35v1.35h-1.35zM76.1 345.0h1.35v1.35h-1.35zM94.2 345.2h1.35v1.35h-1.35zM64.0 346.2h1.35v1.35h-1.35zM82.2 346.1h1.35v1.35h-1.35zM100.0 345.9h1.35v1.35h-1.35zM63.0 346.9h1.35v1.35h-1.35zM64.0 346.9h1.35v1.35h-1.35zM102.0 347.0h1.35v1.35h-1.35zM105.8 347.2h1.35v1.35h-1.35zM99.9 348.1h1.35v1.35h-1.35zM74.1 350.8h1.35v1.35h-1.35zM80.9 351.0h1.35v1.35h-1.35zM106.8 350.9h1.35v1.35h-1.35zM115.9 351.1h1.35v1.35h-1.35zM78.8 352.0h1.35v1.35h-1.35zM53.9 352.9h1.35v1.35h-1.35zM70.0 353.2h1.35v1.35h-1.35zM74.8 352.8h1.35v1.35h-1.35zM84.0 352.9h1.35v1.35h-1.35zM85.8 353.1h1.35v1.35h-1.35zM101.2 353.0h1.35v1.35h-1.35zM109.1 353.0h1.35v1.35h-1.35zM118.0 352.8h1.35v1.35h-1.35zM71.1 354.2h1.35v1.35h-1.35zM71.9 354.1h1.35v1.35h-1.35zM78.8 354.1h1.35v1.35h-1.35zM87.0 353.8h1.35v1.35h-1.35zM88.0 353.8h1.35v1.35h-1.35zM63.8 354.8h1.35v1.35h-1.35zM66.8 354.9h1.35v1.35h-1.35zM68.0 354.9h1.35v1.35h-1.35zM73.2 354.9h1.35v1.35h-1.35zM74.0 355.2h1.35v1.35h-1.35zM78.0 355.2h1.35v1.35h-1.35zM80.1 354.9h1.35v1.35h-1.35zM80.8 354.8h1.35v1.35h-1.35zM86.9 354.9h1.35v1.35h-1.35zM89.2 354.9h1.35v1.35h-1.35zM89.8 355.1h1.35v1.35h-1.35zM99.1 355.1h1.35v1.35h-1.35zM105.9 355.1h1.35v1.35h-1.35zM62.9 356.2h1.35v1.35h-1.35zM69.1 356.0h1.35v1.35h-1.35zM74.2 356.1h1.35v1.35h-1.35zM75.0 356.1h1.35v1.35h-1.35zM76.9 355.9h1.35v1.35h-1.35zM78.0 356.1h1.35v1.35h-1.35zM79.2 356.1h1.35v1.35h-1.35zM80.8 356.1h1.35v1.35h-1.35zM82.1 356.2h1.35v1.35h-1.35zM84.8 356.1h1.35v1.35h-1.35zM86.8 356.2h1.35v1.35h-1.35zM95.9 355.9h1.35v1.35h-1.35zM108.8 356.1h1.35v1.35h-1.35zM52.1 356.8h1.35v1.35h-1.35zM63.8 356.8h1.35v1.35h-1.35zM65.8 356.8h1.35v1.35h-1.35zM67.1 357.1h1.35v1.35h-1.35zM67.9 356.8h1.35v1.35h-1.35zM69.0 357.0h1.35v1.35h-1.35zM70.2 357.0h1.35v1.35h-1.35zM72.2 356.8h1.35v1.35h-1.35zM72.9 357.1h1.35v1.35h-1.35zM73.8 357.2h1.35v1.35h-1.35zM75.9 357.2h1.35v1.35h-1.35zM76.9 356.8h1.35v1.35h-1.35zM77.9 356.9h1.35v1.35h-1.35zM79.1 357.1h1.35v1.35h-1.35zM80.0 357.2h1.35v1.35h-1.35zM81.2 356.9h1.35v1.35h-1.35zM82.0 357.0h1.35v1.35h-1.35zM83.2 357.1h1.35v1.35h-1.35zM83.9 357.0h1.35v1.35h-1.35zM85.1 357.0h1.35v1.35h-1.35zM89.1 357.2h1.35v1.35h-1.35zM89.8 357.2h1.35v1.35h-1.35zM92.8 357.0h1.35v1.35h-1.35zM94.9 356.8h1.35v1.35h-1.35zM111.0 356.8h1.35v1.35h-1.35zM114.1 357.0h1.35v1.35h-1.35zM115.8 356.8h1.35v1.35h-1.35zM62.2 358.1h1.35v1.35h-1.35zM63.9 358.1h1.35v1.35h-1.35zM65.1 357.9h1.35v1.35h-1.35zM84.9 357.8h1.35v1.35h-1.35zM86.0 358.2h1.35v1.35h-1.35zM87.0 358.1h1.35v1.35h-1.35zM88.0 357.9h1.35v1.35h-1.35zM89.2 357.9h1.35v1.35h-1.35zM90.0 358.0h1.35v1.35h-1.35zM90.9 357.9h1.35v1.35h-1.35zM91.8 357.8h1.35v1.35h-1.35zM93.1 358.1h1.35v1.35h-1.35zM94.1 357.9h1.35v1.35h-1.35zM95.1 358.0h1.35v1.35h-1.35zM103.8 358.0h1.35v1.35h-1.35zM109.1 358.1h1.35v1.35h-1.35zM111.0 357.9h1.35v1.35h-1.35zM112.2 357.8h1.35v1.35h-1.35zM115.2 358.2h1.35v1.35h-1.35zM116.9 358.0h1.35v1.35h-1.35zM62.0 359.0h1.35v1.35h-1.35zM94.9 359.0h1.35v1.35h-1.35zM95.8 358.9h1.35v1.35h-1.35zM97.0 359.1h1.35v1.35h-1.35zM102.1 358.8h1.35v1.35h-1.35zM102.8 359.0h1.35v1.35h-1.35zM110.8 359.0h1.35v1.35h-1.35zM117.1 359.2h1.35v1.35h-1.35zM120.0 359.0h1.35v1.35h-1.35zM57.2 360.2h1.35v1.35h-1.35zM60.1 359.8h1.35v1.35h-1.35zM62.0 360.2h1.35v1.35h-1.35zM96.0 360.1h1.35v1.35h-1.35zM102.9 360.0h1.35v1.35h-1.35zM107.9 360.2h1.35v1.35h-1.35zM110.0 359.8h1.35v1.35h-1.35zM112.1 359.8h1.35v1.35h-1.35zM116.9 360.0h1.35v1.35h-1.35zM119.2 360.0h1.35v1.35h-1.35zM61.8 361.1h1.35v1.35h-1.35zM97.1 361.2h1.35v1.35h-1.35zM99.8 360.8h1.35v1.35h-1.35zM101.8 361.0h1.35v1.35h-1.35zM104.8 361.0h1.35v1.35h-1.35zM117.8 361.1h1.35v1.35h-1.35zM61.9 362.1h1.35v1.35h-1.35zM97.0 362.0h1.35v1.35h-1.35zM104.1 362.1h1.35v1.35h-1.35zM109.2 362.2h1.35v1.35h-1.35zM110.8 361.9h1.35v1.35h-1.35zM117.1 362.1h1.35v1.35h-1.35zM59.9 363.0h1.35v1.35h-1.35zM61.2 362.9h1.35v1.35h-1.35zM98.9 362.9h1.35v1.35h-1.35zM100.8 363.2h1.35v1.35h-1.35zM105.2 362.9h1.35v1.35h-1.35zM105.8 363.1h1.35v1.35h-1.35zM108.1 363.0h1.35v1.35h-1.35zM109.8 362.8h1.35v1.35h-1.35zM112.1 362.8h1.35v1.35h-1.35zM113.2 362.9h1.35v1.35h-1.35zM113.9 362.8h1.35v1.35h-1.35zM117.0 362.9h1.35v1.35h-1.35zM118.0 362.8h1.35v1.35h-1.35zM60.9 364.1h1.35v1.35h-1.35zM98.1 363.9h1.35v1.35h-1.35zM104.8 364.0h1.35v1.35h-1.35zM106.1 364.1h1.35v1.35h-1.35zM108.1 364.0h1.35v1.35h-1.35zM110.1 364.1h1.35v1.35h-1.35zM114.9 363.9h1.35v1.35h-1.35zM117.2 364.1h1.35v1.35h-1.35zM119.2 363.9h1.35v1.35h-1.35zM59.2 365.1h1.35v1.35h-1.35zM97.9 364.8h1.35v1.35h-1.35zM101.1 365.1h1.35v1.35h-1.35zM102.0 364.8h1.35v1.35h-1.35zM103.0 365.0h1.35v1.35h-1.35zM103.9 364.9h1.35v1.35h-1.35zM106.0 365.2h1.35v1.35h-1.35zM107.2 365.0h1.35v1.35h-1.35zM108.1 364.8h1.35v1.35h-1.35zM108.9 364.9h1.35v1.35h-1.35zM110.9 364.9h1.35v1.35h-1.35zM114.0 365.2h1.35v1.35h-1.35zM115.9 365.0h1.35v1.35h-1.35zM116.9 364.8h1.35v1.35h-1.35zM117.8 365.2h1.35v1.35h-1.35zM119.0 364.9h1.35v1.35h-1.35zM97.9 365.9h1.35v1.35h-1.35zM100.0 366.1h1.35v1.35h-1.35zM106.2 366.1h1.35v1.35h-1.35zM106.9 366.0h1.35v1.35h-1.35zM111.0 366.0h1.35v1.35h-1.35zM112.2 365.9h1.35v1.35h-1.35zM112.9 366.2h1.35v1.35h-1.35zM115.1 366.1h1.35v1.35h-1.35zM116.0 366.0h1.35v1.35h-1.35zM117.1 365.9h1.35v1.35h-1.35zM118.0 365.9h1.35v1.35h-1.35zM60.9 366.9h1.35v1.35h-1.35zM101.0 366.8h1.35v1.35h-1.35zM102.0 366.9h1.35v1.35h-1.35zM102.8 367.2h1.35v1.35h-1.35zM103.9 367.2h1.35v1.35h-1.35zM104.8 367.1h1.35v1.35h-1.35zM107.1 367.2h1.35v1.35h-1.35zM112.2 367.1h1.35v1.35h-1.35zM113.2 367.1h1.35v1.35h-1.35zM115.2 367.0h1.35v1.35h-1.35zM115.9 366.9h1.35v1.35h-1.35zM118.9 367.0h1.35v1.35h-1.35zM98.2 368.1h1.35v1.35h-1.35zM99.2 367.9h1.35v1.35h-1.35zM101.1 368.0h1.35v1.35h-1.35zM105.1 368.1h1.35v1.35h-1.35zM105.9 367.9h1.35v1.35h-1.35zM107.2 368.1h1.35v1.35h-1.35zM108.8 368.0h1.35v1.35h-1.35zM110.0 368.2h1.35v1.35h-1.35zM111.1 368.0h1.35v1.35h-1.35zM112.0 368.0h1.35v1.35h-1.35zM113.0 367.9h1.35v1.35h-1.35zM117.1 367.8h1.35v1.35h-1.35zM118.0 367.9h1.35v1.35h-1.35zM120.0 367.9h1.35v1.35h-1.35zM60.2 369.1h1.35v1.35h-1.35zM61.1 369.0h1.35v1.35h-1.35zM98.0 369.1h1.35v1.35h-1.35zM102.0 369.1h1.35v1.35h-1.35zM103.2 368.9h1.35v1.35h-1.35zM104.9 369.1h1.35v1.35h-1.35zM106.2 369.0h1.35v1.35h-1.35zM108.1 368.8h1.35v1.35h-1.35zM108.9 369.2h1.35v1.35h-1.35zM109.9 369.2h1.35v1.35h-1.35zM110.8 368.9h1.35v1.35h-1.35zM111.9 369.0h1.35v1.35h-1.35zM112.8 369.0h1.35v1.35h-1.35zM114.9 369.2h1.35v1.35h-1.35zM116.0 368.9h1.35v1.35h-1.35zM119.0 368.8h1.35v1.35h-1.35zM58.0 369.9h1.35v1.35h-1.35zM60.8 369.9h1.35v1.35h-1.35zM62.0 370.0h1.35v1.35h-1.35zM97.1 370.1h1.35v1.35h-1.35zM98.1 370.2h1.35v1.35h-1.35zM105.9 370.2h1.35v1.35h-1.35zM108.0 369.9h1.35v1.35h-1.35zM110.2 370.0h1.35v1.35h-1.35zM112.9 370.0h1.35v1.35h-1.35zM113.8 369.9h1.35v1.35h-1.35zM115.2 369.9h1.35v1.35h-1.35zM116.0 369.9h1.35v1.35h-1.35zM117.8 370.2h1.35v1.35h-1.35zM57.1 371.2h1.35v1.35h-1.35zM62.1 371.1h1.35v1.35h-1.35zM96.2 370.9h1.35v1.35h-1.35zM96.8 371.2h1.35v1.35h-1.35zM98.1 371.0h1.35v1.35h-1.35zM105.8 370.9h1.35v1.35h-1.35zM107.0 370.9h1.35v1.35h-1.35zM109.2 370.9h1.35v1.35h-1.35zM109.8 370.8h1.35v1.35h-1.35zM112.1 370.9h1.35v1.35h-1.35zM115.0 371.2h1.35v1.35h-1.35zM117.1 371.1h1.35v1.35h-1.35zM118.2 371.1h1.35v1.35h-1.35zM120.1 371.2h1.35v1.35h-1.35zM52.2 371.9h1.35v1.35h-1.35zM60.0 372.0h1.35v1.35h-1.35zM60.8 372.0h1.35v1.35h-1.35zM62.9 372.2h1.35v1.35h-1.35zM94.9 371.9h1.35v1.35h-1.35zM96.9 371.9h1.35v1.35h-1.35zM112.1 372.0h1.35v1.35h-1.35zM114.9 371.9h1.35v1.35h-1.35zM115.9 371.9h1.35v1.35h-1.35zM117.2 372.0h1.35v1.35h-1.35zM118.0 371.9h1.35v1.35h-1.35zM63.0 373.2h1.35v1.35h-1.35zM88.0 373.1h1.35v1.35h-1.35zM89.8 372.9h1.35v1.35h-1.35zM90.8 373.0h1.35v1.35h-1.35zM91.9 373.2h1.35v1.35h-1.35zM93.0 372.8h1.35v1.35h-1.35zM93.8 372.8h1.35v1.35h-1.35zM95.1 373.1h1.35v1.35h-1.35zM96.0 373.0h1.35v1.35h-1.35zM96.8 373.1h1.35v1.35h-1.35zM97.8 372.8h1.35v1.35h-1.35zM102.0 373.0h1.35v1.35h-1.35zM103.2 373.0h1.35v1.35h-1.35zM104.1 373.2h1.35v1.35h-1.35zM109.2 372.8h1.35v1.35h-1.35zM110.0 372.8h1.35v1.35h-1.35zM112.2 373.0h1.35v1.35h-1.35zM115.1 373.1h1.35v1.35h-1.35zM119.2 373.2h1.35v1.35h-1.35zM62.1 374.1h1.35v1.35h-1.35zM64.1 373.9h1.35v1.35h-1.35zM64.8 374.0h1.35v1.35h-1.35zM65.9 374.1h1.35v1.35h-1.35zM80.8 373.9h1.35v1.35h-1.35zM81.9 373.9h1.35v1.35h-1.35zM82.9 374.2h1.35v1.35h-1.35zM87.8 374.2h1.35v1.35h-1.35zM90.9 374.1h1.35v1.35h-1.35zM94.2 373.9h1.35v1.35h-1.35zM97.2 374.1h1.35v1.35h-1.35zM101.8 374.0h1.35v1.35h-1.35zM102.8 373.8h1.35v1.35h-1.35zM108.0 374.0h1.35v1.35h-1.35zM109.2 374.1h1.35v1.35h-1.35zM115.1 373.9h1.35v1.35h-1.35zM117.0 374.0h1.35v1.35h-1.35zM118.8 374.1h1.35v1.35h-1.35zM120.2 374.2h1.35v1.35h-1.35zM64.0 375.0h1.35v1.35h-1.35zM66.2 375.0h1.35v1.35h-1.35zM66.8 374.9h1.35v1.35h-1.35zM67.9 374.9h1.35v1.35h-1.35zM68.8 375.2h1.35v1.35h-1.35zM70.2 374.8h1.35v1.35h-1.35zM72.0 375.1h1.35v1.35h-1.35zM73.1 374.8h1.35v1.35h-1.35zM74.0 374.8h1.35v1.35h-1.35zM74.8 374.8h1.35v1.35h-1.35zM77.1 375.0h1.35v1.35h-1.35zM77.9 374.8h1.35v1.35h-1.35zM79.2 375.0h1.35v1.35h-1.35zM79.9 375.0h1.35v1.35h-1.35zM81.0 374.8h1.35v1.35h-1.35zM82.0 375.2h1.35v1.35h-1.35zM84.2 374.8h1.35v1.35h-1.35zM84.8 375.2h1.35v1.35h-1.35zM86.2 375.1h1.35v1.35h-1.35zM96.0 375.1h1.35v1.35h-1.35zM103.8 375.2h1.35v1.35h-1.35zM107.2 375.2h1.35v1.35h-1.35zM108.2 375.1h1.35v1.35h-1.35zM110.0 375.2h1.35v1.35h-1.35zM111.9 374.9h1.35v1.35h-1.35zM114.1 375.2h1.35v1.35h-1.35zM114.9 375.0h1.35v1.35h-1.35zM116.9 375.2h1.35v1.35h-1.35zM120.1 374.8h1.35v1.35h-1.35zM65.2 375.9h1.35v1.35h-1.35zM66.0 376.0h1.35v1.35h-1.35zM67.2 376.0h1.35v1.35h-1.35zM68.0 376.0h1.35v1.35h-1.35zM71.1 376.2h1.35v1.35h-1.35zM73.1 376.2h1.35v1.35h-1.35zM80.1 376.1h1.35v1.35h-1.35zM88.8 376.0h1.35v1.35h-1.35zM90.0 376.1h1.35v1.35h-1.35zM93.8 375.9h1.35v1.35h-1.35zM106.1 375.8h1.35v1.35h-1.35zM107.2 376.1h1.35v1.35h-1.35zM108.2 376.1h1.35v1.35h-1.35zM108.9 375.8h1.35v1.35h-1.35zM115.8 376.0h1.35v1.35h-1.35zM117.1 375.8h1.35v1.35h-1.35zM68.9 376.9h1.35v1.35h-1.35zM69.9 377.2h1.35v1.35h-1.35zM75.1 377.2h1.35v1.35h-1.35zM78.2 377.2h1.35v1.35h-1.35zM82.9 377.1h1.35v1.35h-1.35zM98.1 377.0h1.35v1.35h-1.35zM109.1 376.8h1.35v1.35h-1.35zM120.8 377.2h1.35v1.35h-1.35zM64.9 378.2h1.35v1.35h-1.35zM71.0 377.9h1.35v1.35h-1.35zM71.9 378.2h1.35v1.35h-1.35zM77.9 377.9h1.35v1.35h-1.35zM80.2 377.9h1.35v1.35h-1.35zM85.2 378.1h1.35v1.35h-1.35zM113.0 378.2h1.35v1.35h-1.35zM63.9 379.0h1.35v1.35h-1.35zM66.2 379.0h1.35v1.35h-1.35zM77.9 379.2h1.35v1.35h-1.35zM82.1 379.1h1.35v1.35h-1.35zM113.8 379.2h1.35v1.35h-1.35zM115.8 379.2h1.35v1.35h-1.35zM108.2 379.8h1.35v1.35h-1.35zM111.9 380.2h1.35v1.35h-1.35zM115.8 379.9h1.35v1.35h-1.35zM117.2 381.2h1.35v1.35h-1.35zM120.8 381.1h1.35v1.35h-1.35zM104.1 382.1h1.35v1.35h-1.35zM114.1 382.1h1.35v1.35h-1.35zM64.8 383.2h1.35v1.35h-1.35zM109.1 384.2h1.35v1.35h-1.35zM119.9 384.1h1.35v1.35h-1.35z"/><path fill="#282898" d="M71 357h1v1h-1zM77 358h2v1h-2zM83 358h2v1h-2zM88 359h2v1h-2zM91 359h2v1h-2zM94 360h2v1h-2zM96 361h1v1h-1zM62 364h1v1h-1zM98 367h1v1h-1zM62 369h1v1h-1zM95 371h1v1h-1zM93 372h1v1h-1zM64 373h1v1h-1zM84 373h1v1h-1zM86 373h1v1h-1zM89 373h1v1h-1zM75 374h3v1h-3zM80 374h1v1h-1z"/><path fill="#2830a0" d="M66 358h1v1h-1zM74 358h1v1h-1zM79 358h1v1h-1zM81 358h2v1h-2zM63 359h2v1h-2zM84 359h1v1h-1zM86 359h2v1h-2zM90 359h1v1h-1zM93 359h1v1h-1zM63 360h1v1h-1zM62 367h1v1h-1zM97 368h1v1h-1zM96 370h1v1h-1zM89 372h4v1h-4zM65 373h1v1h-1zM83 373h1v1h-1zM67 374h2v1h-2zM71 374h1v1h-1zM74 374h1v1h-1zM78 374h2v1h-2z"/><path fill="#2838b0" d="M67 358h1v1h-1zM65 359h1v1h-1zM62 365h1v1h-1zM97 366h1v1h-1zM97 367h1v1h-1zM63 371h1v1h-1zM87 372h1v1h-1zM71 373h1v1h-1zM70 374h1v1h-1z"/><path fill="#2840b0" d="M68 358h3v1h-3zM72 358h1v1h-1zM75 358h1v1h-1zM85 359h1v1h-1zM89 360h2v1h-2zM94 361h1v1h-1zM96 362h1v1h-1zM95 370h1v1h-1zM90 371h1v1h-1zM85 372h1v1h-1zM88 372h1v1h-1zM67 373h2v1h-2zM75 373h1v1h-1zM77 373h1v1h-1zM80 373h2v1h-2z"/><path fill="#2838a8" d="M71 358h1v1h-1zM66 359h1v1h-1zM93 360h1v1h-1zM62 363h1v1h-1zM97 363h1v1h-1zM97 364h1v1h-1zM97 365h1v1h-1zM62 366h1v1h-1zM62 368h1v1h-1zM96 369h1v1h-1zM92 371h1v1h-1zM94 371h1v1h-1zM66 373h1v1h-1zM82 373h1v1h-1zM85 373h1v1h-1z"/><path fill="#2840b8" d="M73 358h1v1h-1zM91 360h1v1h-1z"/><path fill="#282890" d="M76 358h1v1h-1zM69 374h1v1h-1z"/><path fill="#283098" d="M80 358h1v1h-1zM94 359h1v1h-1zM97 369h1v1h-1zM87 373h1v1h-1zM73 374h1v1h-1z"/><path fill="#3050b8" d="M67 359h1v1h-1zM64 360h1v1h-1zM96 368h1v1h-1zM92 370h1v1h-1zM86 372h1v1h-1zM70 373h1v1h-1zM76 373h1v1h-1zM78 373h1v1h-1z"/><path fill="#3878c8" d="M68 359h1v1h-1zM71 359h1v1h-1zM75 359h2v1h-2zM82 360h1v1h-1zM95 362h1v1h-1zM63 369h1v1h-1zM83 372h1v1h-1z"/><path fill="#3870c8" d="M69 359h1v1h-1zM74 359h1v1h-1zM96 367h1v1h-1zM95 369h1v1h-1zM90 370h2v1h-2z"/><path fill="#3880c8" d="M70 359h1v1h-1zM77 359h1v1h-1zM65 360h1v1h-1zM89 369h1v1h-1zM88 370h1v1h-1zM86 371h1v1h-1zM74 372h1v1h-1zM81 372h1v1h-1z"/><path fill="#40a0d8" d="M72 359h1v1h-1zM66 361h1v1h-1zM63 362h1v1h-1zM95 365h1v1h-1zM63 368h1v1h-1zM93 368h1v1h-1zM85 370h2v1h-2zM64 371h1v1h-1zM84 371h1v1h-1zM70 372h1v1h-1zM79 372h1v1h-1z"/><path fill="#3888d0" d="M73 359h1v1h-1zM78 360h1v1h-1zM80 360h1v1h-1zM84 360h1v1h-1zM64 361h1v1h-1zM94 362h1v1h-1zM95 363h1v1h-1zM93 369h1v1h-1zM85 371h1v1h-1zM80 372h1v1h-1zM72 373h1v1h-1z"/><path fill="#3068c0" d="M78 359h1v1h-1zM85 360h1v1h-1zM93 361h1v1h-1zM96 366h1v1h-1zM64 370h1v1h-1zM93 370h2v1h-2zM88 371h2v1h-2zM79 373h1v1h-1z"/><path fill="#3060c0" d="M79 359h2v1h-2zM82 359h1v1h-1zM92 361h1v1h-1zM96 363h1v1h-1zM96 365h1v1h-1zM95 368h1v1h-1zM91 371h1v1h-1zM74 373h1v1h-1z"/><path fill="#3058c0" d="M81 359h1v1h-1zM86 360h1v1h-1zM63 361h1v1h-1zM95 361h1v1h-1zM87 371h1v1h-1zM65 372h1v1h-1zM82 372h1v1h-1zM69 373h1v1h-1z"/><path fill="#2848b8" d="M83 359h1v1h-1zM87 360h2v1h-2zM92 360h1v1h-1zM96 364h1v1h-1zM93 371h1v1h-1zM64 372h1v1h-1zM73 373h1v1h-1z"/><path fill="#40a8d8" d="M66 360h1v1h-1zM89 362h1v1h-1zM94 364h1v1h-1zM87 370h1v1h-1zM71 372h1v1h-1z"/><path fill="#50b0a0" d="M67 360h1v1h-1zM79 360h1v1h-1zM82 361h1v1h-1zM92 363h1v1h-1zM87 369h1v1h-1zM81 371h1v1h-1zM83 371h1v1h-1z"/><path fill="#60b868" d="M68 360h1v1h-1zM71 361h1v1h-1zM88 367h1v1h-1zM90 367h1v1h-1zM65 369h1v1h-1z"/><path fill="#50b0b8" d="M69 360h1v1h-1zM82 371h1v1h-1z"/><path fill="#50b0a8" d="M70 360h1v1h-1zM88 362h1v1h-1zM92 365h1v1h-1zM92 368h1v1h-1zM64 369h1v1h-1zM69 372h1v1h-1zM72 372h1v1h-1z"/><path fill="#50b0b0" d="M71 360h1v1h-1zM73 360h1v1h-1zM86 361h1v1h-1zM89 363h1v1h-1zM91 363h1v1h-1zM92 366h1v1h-1zM90 369h1v1h-1zM79 371h1v1h-1z"/><path fill="#48a8c0" d="M72 360h1v1h-1zM74 360h1v1h-1zM90 362h1v1h-1zM92 362h1v1h-1zM92 369h1v1h-1zM67 372h1v1h-1z"/><path fill="#58b888" d="M75 360h1v1h-1zM84 362h1v1h-1zM93 364h1v1h-1zM63 365h1v1h-1zM94 365h1v1h-1zM86 369h1v1h-1z"/><path fill="#40a8d0" d="M76 360h1v1h-1zM63 364h1v1h-1zM94 368h1v1h-1zM91 369h1v1h-1zM89 370h1v1h-1z"/><path fill="#68c058" d="M77 360h1v1h-1zM88 364h1v1h-1zM75 371h1v1h-1z"/><path fill="#4098d8" d="M81 360h1v1h-1z"/><path fill="#3890d0" d="M83 360h1v1h-1zM95 367h1v1h-1zM66 372h1v1h-1z"/><path fill="#60b878" d="M65 361h1v1h-1zM83 361h1v1h-1zM85 362h1v1h-1zM87 362h1v1h-1zM91 365h1v1h-1zM63 366h1v1h-1zM92 367h1v1h-1zM84 370h1v1h-1zM66 371h1v1h-1z"/><path fill="#a8d040" d="M67 361h1v1h-1zM81 362h1v1h-1zM83 363h1v1h-1zM86 364h1v1h-1zM65 365h1v1h-1zM81 369h1v1h-1zM66 370h1v1h-1zM71 370h1v1h-1zM79 370h1v1h-1zM82 370h1v1h-1z"/><path fill="#c0d038" d="M68 361h1v1h-1zM72 361h1v1h-1zM69 362h1v1h-1zM85 365h1v1h-1zM88 366h1v1h-1zM84 367h1v1h-1zM85 368h1v1h-1z"/><path fill="#78c048" d="M69 361h1v1h-1zM78 361h1v1h-1zM92 364h1v1h-1zM64 365h1v1h-1zM89 365h1v1h-1zM89 366h2v1h-2zM93 366h1v1h-1zM87 367h1v1h-1zM90 368h1v1h-1zM85 369h1v1h-1zM69 371h3v1h-3zM76 371h1v1h-1z"/><path fill="#d0d838" d="M70 361h1v1h-1zM86 365h1v1h-1zM85 366h1v1h-1zM84 368h1v1h-1zM68 370h1v1h-1zM77 370h1v1h-1z"/><path fill="#88c848" d="M73 361h3v1h-3zM86 363h1v1h-1z"/><path fill="#70c048" d="M76 361h1v1h-1zM79 361h1v1h-1zM84 363h2v1h-2zM90 364h1v1h-1zM64 367h1v1h-1zM86 367h1v1h-1zM91 367h1v1h-1zM87 368h1v1h-1zM73 370h1v1h-1z"/><path fill="#98c840" d="M77 361h1v1h-1zM82 362h1v1h-1zM90 365h1v1h-1zM83 366h1v1h-1zM88 368h1v1h-1zM67 371h1v1h-1z"/><path fill="#68c048" d="M80 361h1v1h-1zM68 371h1v1h-1z"/><path fill="#60b870" d="M81 361h1v1h-1zM83 362h1v1h-1zM90 363h1v1h-1zM93 367h1v1h-1zM65 370h1v1h-1zM77 371h1v1h-1z"/><path fill="#58b088" d="M84 361h1v1h-1zM91 364h1v1h-1z"/><path fill="#4098d0" d="M85 361h1v1h-1zM88 361h1v1h-1zM91 361h1v1h-1zM93 362h1v1h-1zM77 372h1v1h-1z"/><path fill="#48a8b8" d="M87 361h1v1h-1zM91 362h1v1h-1zM93 365h1v1h-1zM95 366h1v1h-1zM94 367h1v1h-1z"/><path fill="#48a8d0" d="M89 361h1v1h-1zM63 363h1v1h-1zM94 363h1v1h-1zM65 371h1v1h-1z"/><path fill="#2850b8" d="M90 361h1v1h-1zM84 372h1v1h-1z"/><path fill="#58b880" d="M64 362h1v1h-1zM87 363h1v1h-1zM93 363h1v1h-1zM86 368h1v1h-1zM73 371h1v1h-1z"/><path fill="#68c050" d="M65 362h1v1h-1zM83 369h1v1h-1zM74 371h1v1h-1z"/><path fill="#d8d830" d="M66 362h1v1h-1zM84 364h1v1h-1z"/><path fill="#d8d838" d="M67 362h1v1h-1zM74 362h1v1h-1zM87 364h1v1h-1zM64 368h1v1h-1zM69 370h2v1h-2z"/><path fill="#a0c840" d="M68 362h1v1h-1zM85 364h1v1h-1zM87 365h1v1h-1z"/><path fill="#e0c030" d="M70 362h1v1h-1zM80 362h1v1h-1zM79 363h1v1h-1zM65 366h1v1h-1zM86 366h1v1h-1zM83 367h1v1h-1zM82 368h1v1h-1zM66 369h1v1h-1zM78 369h1v1h-1z"/><path fill="#e89828" d="M71 362h1v1h-1zM68 363h1v1h-1zM84 366h1v1h-1zM79 369h1v1h-1z"/><path fill="#e8b028" d="M72 362h1v1h-1zM78 363h1v1h-1zM74 369h1v1h-1zM80 369h1v1h-1zM74 370h1v1h-1z"/><path fill="#e8a028" d="M73 362h1v1h-1zM83 365h1v1h-1zM66 368h1v1h-1zM70 369h1v1h-1zM73 369h1v1h-1zM77 369h1v1h-1z"/><path fill="#b8d038" d="M75 362h1v1h-1zM83 368h1v1h-1zM67 370h1v1h-1zM72 370h1v1h-1z"/><path fill="#e0d030" d="M76 362h1v1h-1zM78 362h2v1h-2zM81 363h1v1h-1z"/><path fill="#c8d038" d="M77 362h1v1h-1zM66 363h1v1h-1zM65 364h1v1h-1zM75 370h2v1h-2zM78 370h1v1h-1z"/><path fill="#58b090" d="M86 362h1v1h-1zM89 364h1v1h-1zM91 368h1v1h-1zM73 372h1v1h-1zM75 372h1v1h-1z"/><path fill="#80c048" d="M64 363h1v1h-1zM64 364h1v1h-1zM88 365h1v1h-1zM89 367h1v1h-1z"/><path fill="#b0d038" d="M65 363h1v1h-1z"/><path fill="#e0b830" d="M67 363h1v1h-1zM76 363h1v1h-1zM81 366h1v1h-1zM75 368h1v1h-1zM72 369h1v1h-1zM75 369h2v1h-2z"/><path fill="#e88820" d="M69 363h1v1h-1zM81 364h1v1h-1zM68 365h1v1h-1zM81 367h2v1h-2zM71 368h1v1h-1z"/><path fill="#e8a828" d="M70 363h1v1h-1zM66 364h1v1h-1zM82 364h2v1h-2zM84 365h1v1h-1zM82 366h1v1h-1zM65 368h1v1h-1zM81 368h1v1h-1zM71 369h1v1h-1z"/><path fill="#e89028" d="M71 363h2v1h-2zM79 364h1v1h-1zM78 367h2v1h-2zM85 367h1v1h-1z"/><path fill="#e87020" d="M73 363h1v1h-1zM75 363h1v1h-1zM67 364h1v1h-1zM80 364h1v1h-1zM81 365h2v1h-2zM69 369h1v1h-1z"/><path fill="#e87820" d="M74 363h1v1h-1zM76 364h1v1h-1zM78 364h1v1h-1zM66 365h1v1h-1zM80 365h1v1h-1zM66 366h1v1h-1zM66 367h1v1h-1zM74 367h1v1h-1zM76 368h1v1h-1z"/><path fill="#e88020" d="M77 363h1v1h-1zM74 365h1v1h-1zM77 366h1v1h-1zM72 368h1v1h-1zM78 368h1v1h-1z"/><path fill="#e0c830" d="M80 363h1v1h-1zM87 366h1v1h-1zM67 369h2v1h-2z"/><path fill="#e0d830" d="M82 363h1v1h-1zM64 366h1v1h-1z"/><path fill="#b0d040" d="M88 363h1v1h-1zM65 367h1v1h-1zM72 371h1v1h-1z"/><path fill="#e04020" d="M68 364h1v1h-1zM73 364h1v1h-1zM75 366h1v1h-1zM79 366h1v1h-1zM67 368h1v1h-1z"/><path fill="#e02018" d="M69 364h1v1h-1zM71 364h2v1h-2zM69 365h1v1h-1zM72 365h1v1h-1zM69 366h1v1h-1zM74 366h1v1h-1zM68 367h3v1h-3zM75 367h1v1h-1zM77 367h1v1h-1zM73 368h1v1h-1z"/><path fill="#e03820" d="M70 364h1v1h-1zM67 365h1v1h-1zM76 365h1v1h-1zM79 365h1v1h-1zM71 366h1v1h-1zM73 366h1v1h-1zM78 366h1v1h-1zM69 368h1v1h-1z"/><path fill="#e86020" d="M74 364h1v1h-1zM73 367h1v1h-1zM68 368h1v1h-1z"/><path fill="#e02818" d="M75 364h1v1h-1zM68 366h1v1h-1zM72 366h1v1h-1z"/><path fill="#e04820" d="M77 364h1v1h-1zM71 365h1v1h-1zM77 365h1v1h-1zM67 366h1v1h-1zM80 366h1v1h-1z"/><path fill="#4090d0" d="M95 364h1v1h-1zM94 369h1v1h-1zM76 372h1v1h-1zM78 372h1v1h-1z"/><path fill="#e86820" d="M70 365h1v1h-1zM75 365h1v1h-1zM78 365h1v1h-1zM76 367h1v1h-1zM70 368h1v1h-1zM77 368h1v1h-1z"/><path fill="#e03018" d="M73 365h1v1h-1zM70 366h1v1h-1zM76 366h1v1h-1zM72 367h1v1h-1z"/><path fill="#90c848" d="M91 366h1v1h-1z"/><path fill="#68b860" d="M94 366h1v1h-1zM84 369h1v1h-1zM83 370h1v1h-1z"/><path fill="#48a8c8" d="M63 367h1v1h-1z"/><path fill="#e85820" d="M67 367h1v1h-1zM80 368h1v1h-1z"/><path fill="#e85020" d="M71 367h1v1h-1zM80 367h1v1h-1zM74 368h1v1h-1z"/><path fill="#e88828" d="M79 368h1v1h-1z"/><path fill="#58b098" d="M89 368h1v1h-1zM78 371h1v1h-1zM80 371h1v1h-1z"/><path fill="#90c840" d="M82 369h1v1h-1z"/><path fill="#50b098" d="M88 369h1v1h-1z"/><path fill="#3070c8" d="M63 370h1v1h-1z"/><path fill="#68c060" d="M80 370h1v1h-1z"/><path fill="#60b860" d="M81 370h1v1h-1z"/><path fill="#60b880" d="M68 372h1v1h-1z"/><path fill="#2830a8" d="M72 374h1v1h-1z"/></g>
<ellipse cx="108.00" cy="345.00" rx="6.00" ry="3.50" fill="#c9d3ef" opacity="0.8" filter="url(#bl)"/>
<line x1="96.50" y1="333.70" x2="96.50" y2="409.30" stroke="#777" stroke-width="0.9"/>
<line x1="46.00" y1="358.50" x2="122.40" y2="358.50" stroke="#777" stroke-width="0.9"/>
<line x1="44.50" y1="373.61" x2="46.00" y2="373.61" stroke="#000" stroke-width="0.8"/>
<line x1="44.50" y1="369.93" x2="46.00" y2="369.93" stroke="#000" stroke-width="0.8"/>
<line x1="44.50" y1="367.32" x2="46.00" y2="367.32" stroke="#000" stroke-width="0.8"/>
<line x1="44.50" y1="365.29" x2="46.00" y2="365.29" stroke="#000" stroke-width="0.8"/>
<line x1="44.50" y1="363.64" x2="46.00" y2="363.64" stroke="#000" stroke-width="0.8"/>
<line x1="44.50" y1="362.24" x2="46.00" y2="362.24" stroke="#000" stroke-width="0.8"/>
<line x1="44.50" y1="361.03" x2="46.00" y2="361.03" stroke="#000" stroke-width="0.8"/>
<line x1="44.50" y1="359.96" x2="46.00" y2="359.96" stroke="#000" stroke-width="0.8"/>
<line x1="44.50" y1="353.79" x2="46.00" y2="353.79" stroke="#000" stroke-width="0.8"/>
<line x1="44.50" y1="350.75" x2="46.00" y2="350.75" stroke="#000" stroke-width="0.8"/>
<line x1="44.50" y1="348.58" x2="46.00" y2="348.58" stroke="#000" stroke-width="0.8"/>
<line x1="44.50" y1="346.91" x2="46.00" y2="346.91" stroke="#000" stroke-width="0.8"/>
<line x1="44.50" y1="345.54" x2="46.00" y2="345.54" stroke="#000" stroke-width="0.8"/>
<line x1="44.50" y1="344.38" x2="46.00" y2="344.38" stroke="#000" stroke-width="0.8"/>
<line x1="44.50" y1="343.38" x2="46.00" y2="343.38" stroke="#000" stroke-width="0.8"/>
<line x1="44.50" y1="342.49" x2="46.00" y2="342.49" stroke="#000" stroke-width="0.8"/>
<line x1="44.50" y1="389.12" x2="46.00" y2="389.12" stroke="#000" stroke-width="0.8"/>
<line x1="44.50" y1="395.48" x2="46.00" y2="395.48" stroke="#000" stroke-width="0.8"/>
<line x1="44.50" y1="386.05" x2="46.00" y2="386.05" stroke="#000" stroke-width="0.8"/>
<line x1="44.50" y1="398.75" x2="46.00" y2="398.75" stroke="#000" stroke-width="0.8"/>
<line x1="44.50" y1="382.97" x2="46.00" y2="382.97" stroke="#000" stroke-width="0.8"/>
<line x1="44.50" y1="402.02" x2="46.00" y2="402.02" stroke="#000" stroke-width="0.8"/>
<line x1="43.40" y1="341.70" x2="46.00" y2="341.70" stroke="#000" stroke-width="0.8"/>
<line x1="43.40" y1="359.00" x2="46.00" y2="359.00" stroke="#000" stroke-width="0.8"/>
<line x1="43.40" y1="379.90" x2="46.00" y2="379.90" stroke="#000" stroke-width="0.8"/>
<line x1="43.40" y1="392.20" x2="46.00" y2="392.20" stroke="#000" stroke-width="0.8"/>
<line x1="43.40" y1="405.30" x2="46.00" y2="405.30" stroke="#000" stroke-width="0.8"/>
<line x1="82.08" y1="409.30" x2="82.08" y2="410.80" stroke="#000" stroke-width="0.8"/>
<line x1="85.64" y1="409.30" x2="85.64" y2="410.80" stroke="#000" stroke-width="0.8"/>
<line x1="88.16" y1="409.30" x2="88.16" y2="410.80" stroke="#000" stroke-width="0.8"/>
<line x1="90.12" y1="409.30" x2="90.12" y2="410.80" stroke="#000" stroke-width="0.8"/>
<line x1="91.72" y1="409.30" x2="91.72" y2="410.80" stroke="#000" stroke-width="0.8"/>
<line x1="93.07" y1="409.30" x2="93.07" y2="410.80" stroke="#000" stroke-width="0.8"/>
<line x1="94.24" y1="409.30" x2="94.24" y2="410.80" stroke="#000" stroke-width="0.8"/>
<line x1="95.28" y1="409.30" x2="95.28" y2="410.80" stroke="#000" stroke-width="0.8"/>
<line x1="101.92" y1="409.30" x2="101.92" y2="410.80" stroke="#000" stroke-width="0.8"/>
<line x1="105.27" y1="409.30" x2="105.27" y2="410.80" stroke="#000" stroke-width="0.8"/>
<line x1="107.64" y1="409.30" x2="107.64" y2="410.80" stroke="#000" stroke-width="0.8"/>
<line x1="109.48" y1="409.30" x2="109.48" y2="410.80" stroke="#000" stroke-width="0.8"/>
<line x1="110.98" y1="409.30" x2="110.98" y2="410.80" stroke="#000" stroke-width="0.8"/>
<line x1="112.26" y1="409.30" x2="112.26" y2="410.80" stroke="#000" stroke-width="0.8"/>
<line x1="113.36" y1="409.30" x2="113.36" y2="410.80" stroke="#000" stroke-width="0.8"/>
<line x1="114.33" y1="409.30" x2="114.33" y2="410.80" stroke="#000" stroke-width="0.8"/>
<line x1="66.40" y1="409.30" x2="66.40" y2="410.80" stroke="#000" stroke-width="0.8"/>
<line x1="60.40" y1="409.30" x2="60.40" y2="410.80" stroke="#000" stroke-width="0.8"/>
<line x1="69.60" y1="409.30" x2="69.60" y2="410.80" stroke="#000" stroke-width="0.8"/>
<line x1="57.60" y1="409.30" x2="57.60" y2="410.80" stroke="#000" stroke-width="0.8"/>
<line x1="72.80" y1="409.30" x2="72.80" y2="410.80" stroke="#000" stroke-width="0.8"/>
<line x1="54.80" y1="409.30" x2="54.80" y2="410.80" stroke="#000" stroke-width="0.8"/>
<line x1="52.00" y1="409.30" x2="52.00" y2="411.90" stroke="#000" stroke-width="0.8"/>
<line x1="63.20" y1="409.30" x2="63.20" y2="411.90" stroke="#000" stroke-width="0.8"/>
<line x1="76.00" y1="409.30" x2="76.00" y2="411.90" stroke="#000" stroke-width="0.8"/>
<line x1="96.20" y1="409.30" x2="96.20" y2="411.90" stroke="#000" stroke-width="0.8"/>
<line x1="115.20" y1="409.30" x2="115.20" y2="411.90" stroke="#000" stroke-width="0.8"/>
<rect x="42.80" y="390.90" width="3.20" height="2.60" fill="#000"/>
<rect x="61.70" y="409.30" width="3.00" height="2.60" fill="#000"/>
<rect x="46.00" y="333.70" width="76.40" height="75.60" fill="none" stroke="#000" stroke-width="1.3"/>
<text x="15.60" y="371.60" font-size="9.4" text-anchor="middle" textLength="45.50" lengthAdjust="spacingAndGlyphs" transform="rotate(-90 15.60 371.60) translate(15.60 371.60) scale(1 1.18) translate(-15.60 -371.60)">Aqua amine</text>
<text x="51.00" y="327.40" font-size="10.0" textLength="66.00" lengthAdjust="spacingAndGlyphs" transform="translate(51.00 327.40) scale(1 1.18) translate(-51.00 -327.40)">Jurkat + <tspan font-family="Liberation Serif" font-style="italic">α</tspan>GC</text>
<text x="48.30" y="345.90" font-size="8.2" textLength="14.50" lengthAdjust="spacingAndGlyphs" transform="translate(48.30 345.90) scale(1 1.18) translate(-48.30 -345.90)">1.21</text>
<text x="95.20" y="345.90" font-size="8.2" textLength="15.50" lengthAdjust="spacingAndGlyphs" transform="translate(95.20 345.90) scale(1 1.18) translate(-95.20 -345.90)">0.82</text>
<text x="48.00" y="402.90" font-size="8.2" textLength="15.50" lengthAdjust="spacingAndGlyphs" transform="translate(48.00 402.90) scale(1 1.18) translate(-48.00 -402.90)">94.5</text>
<text x="95.20" y="402.90" font-size="8.2" textLength="15.50" lengthAdjust="spacingAndGlyphs" transform="translate(95.20 402.90) scale(1 1.18) translate(-95.20 -402.90)">3.46</text>
<text x="39.30" y="345.90" font-size="8.2" text-anchor="end" transform="translate(39.30 345.90) scale(1 1.18) translate(-39.30 -345.90)">10<tspan dy="-3" font-size="5">5</tspan></text>
<text x="39.30" y="363.20" font-size="8.2" text-anchor="end" transform="translate(39.30 363.20) scale(1 1.18) translate(-39.30 -363.20)">10<tspan dy="-3" font-size="5">4</tspan></text>
<text x="39.30" y="384.10" font-size="8.2" text-anchor="end" transform="translate(39.30 384.10) scale(1 1.18) translate(-39.30 -384.10)">10<tspan dy="-3" font-size="5">3</tspan></text>
<text x="38.10" y="395.40" font-size="8.2" text-anchor="end" transform="translate(38.10 395.40) scale(1 1.18) translate(-38.10 -395.40)">0</text>
<text x="39.30" y="409.50" font-size="8.2" text-anchor="end" transform="translate(39.30 409.50) scale(1 1.18) translate(-39.30 -409.50)">-10<tspan dy="-3" font-size="5">3</tspan></text>
<text x="51.80" y="426.90" font-size="8.2" text-anchor="middle" transform="translate(51.80 426.90) scale(1 1.18) translate(-51.80 -426.90)">-10<tspan dy="-3" font-size="5">3</tspan></text>
<text x="63.60" y="426.90" font-size="8.2" text-anchor="middle" transform="translate(63.60 426.90) scale(1 1.18) translate(-63.60 -426.90)">0</text>
<text x="76.00" y="426.90" font-size="8.2" text-anchor="middle" transform="translate(76.00 426.90) scale(1 1.18) translate(-76.00 -426.90)">10<tspan dy="-3" font-size="5">3</tspan></text>
<text x="96.00" y="426.90" font-size="8.2" text-anchor="middle" transform="translate(96.00 426.90) scale(1 1.18) translate(-96.00 -426.90)">10<tspan dy="-3" font-size="5">4</tspan></text>
<text x="115.20" y="426.90" font-size="8.2" text-anchor="middle" transform="translate(115.20 426.90) scale(1 1.18) translate(-115.20 -426.90)">10<tspan dy="-3" font-size="5">5</tspan></text>
<text x="55.00" y="441.90" font-size="9.6" textLength="59.00" lengthAdjust="spacingAndGlyphs" transform="translate(55.00 441.90) scale(1 1.18) translate(-55.00 -441.90)">APC - Annexin V</text>
<g filter="url(#pb)"><path fill="#282896" d="M221.9 334.1h1.35v1.35h-1.35zM232.8 334.8h1.35v1.35h-1.35zM195.1 337.8h1.35v1.35h-1.35zM200.9 338.2h1.35v1.35h-1.35zM214.9 338.2h1.35v1.35h-1.35zM203.2 338.8h1.35v1.35h-1.35zM216.0 339.1h1.35v1.35h-1.35zM234.9 339.0h1.35v1.35h-1.35zM203.0 340.1h1.35v1.35h-1.35zM248.2 339.9h1.35v1.35h-1.35zM248.8 340.0h1.35v1.35h-1.35zM198.0 340.8h1.35v1.35h-1.35zM236.8 341.1h1.35v1.35h-1.35zM238.9 341.1h1.35v1.35h-1.35zM186.8 342.1h1.35v1.35h-1.35zM195.2 342.1h1.35v1.35h-1.35zM223.8 341.9h1.35v1.35h-1.35zM239.8 342.0h1.35v1.35h-1.35zM194.9 343.2h1.35v1.35h-1.35zM206.8 343.2h1.35v1.35h-1.35zM212.0 342.9h1.35v1.35h-1.35zM223.8 343.0h1.35v1.35h-1.35zM244.2 342.8h1.35v1.35h-1.35zM245.9 343.2h1.35v1.35h-1.35zM200.8 343.9h1.35v1.35h-1.35zM248.2 344.2h1.35v1.35h-1.35zM251.2 344.0h1.35v1.35h-1.35zM194.8 345.1h1.35v1.35h-1.35zM213.0 344.8h1.35v1.35h-1.35zM214.2 345.1h1.35v1.35h-1.35zM215.8 345.0h1.35v1.35h-1.35zM227.1 344.8h1.35v1.35h-1.35zM235.2 345.2h1.35v1.35h-1.35zM238.2 344.9h1.35v1.35h-1.35zM191.9 345.9h1.35v1.35h-1.35zM194.9 345.9h1.35v1.35h-1.35zM203.2 345.9h1.35v1.35h-1.35zM219.9 346.2h1.35v1.35h-1.35zM235.0 345.8h1.35v1.35h-1.35zM186.2 347.1h1.35v1.35h-1.35zM194.0 346.8h1.35v1.35h-1.35zM197.9 346.8h1.35v1.35h-1.35zM201.1 346.8h1.35v1.35h-1.35zM232.2 346.8h1.35v1.35h-1.35zM247.9 346.9h1.35v1.35h-1.35zM196.2 347.8h1.35v1.35h-1.35zM218.0 347.9h1.35v1.35h-1.35zM237.1 347.8h1.35v1.35h-1.35zM204.8 349.1h1.35v1.35h-1.35zM224.1 348.9h1.35v1.35h-1.35zM188.9 350.1h1.35v1.35h-1.35zM193.2 349.9h1.35v1.35h-1.35zM195.1 349.8h1.35v1.35h-1.35zM196.8 350.0h1.35v1.35h-1.35zM218.9 350.2h1.35v1.35h-1.35zM220.1 350.0h1.35v1.35h-1.35zM238.0 350.2h1.35v1.35h-1.35zM211.9 350.8h1.35v1.35h-1.35zM235.1 351.0h1.35v1.35h-1.35zM207.2 351.8h1.35v1.35h-1.35zM210.2 351.8h1.35v1.35h-1.35zM238.8 351.8h1.35v1.35h-1.35zM242.0 352.2h1.35v1.35h-1.35zM191.9 352.9h1.35v1.35h-1.35zM193.8 353.1h1.35v1.35h-1.35zM202.8 352.8h1.35v1.35h-1.35zM222.1 353.1h1.35v1.35h-1.35zM243.2 353.0h1.35v1.35h-1.35zM193.9 353.9h1.35v1.35h-1.35zM208.9 354.0h1.35v1.35h-1.35zM223.1 353.9h1.35v1.35h-1.35zM232.2 354.0h1.35v1.35h-1.35zM191.0 355.2h1.35v1.35h-1.35zM193.0 355.2h1.35v1.35h-1.35zM194.2 355.1h1.35v1.35h-1.35zM195.2 354.9h1.35v1.35h-1.35zM200.0 354.9h1.35v1.35h-1.35zM200.9 355.1h1.35v1.35h-1.35zM205.0 355.2h1.35v1.35h-1.35zM212.2 355.0h1.35v1.35h-1.35zM215.8 354.9h1.35v1.35h-1.35zM221.1 355.1h1.35v1.35h-1.35zM235.1 355.2h1.35v1.35h-1.35zM192.8 356.2h1.35v1.35h-1.35zM195.9 356.0h1.35v1.35h-1.35zM198.1 355.8h1.35v1.35h-1.35zM200.2 356.0h1.35v1.35h-1.35zM201.1 355.8h1.35v1.35h-1.35zM216.8 355.9h1.35v1.35h-1.35zM194.9 356.9h1.35v1.35h-1.35zM199.8 356.8h1.35v1.35h-1.35zM200.8 357.1h1.35v1.35h-1.35zM201.8 357.0h1.35v1.35h-1.35zM207.9 356.8h1.35v1.35h-1.35zM209.8 357.2h1.35v1.35h-1.35zM211.9 356.9h1.35v1.35h-1.35zM213.1 356.8h1.35v1.35h-1.35zM218.0 357.1h1.35v1.35h-1.35zM225.9 357.1h1.35v1.35h-1.35zM231.1 356.8h1.35v1.35h-1.35zM234.9 357.2h1.35v1.35h-1.35zM250.9 357.2h1.35v1.35h-1.35zM194.8 358.1h1.35v1.35h-1.35zM196.2 358.2h1.35v1.35h-1.35zM197.0 357.8h1.35v1.35h-1.35zM197.8 357.8h1.35v1.35h-1.35zM199.0 357.8h1.35v1.35h-1.35zM201.2 358.0h1.35v1.35h-1.35zM201.8 357.9h1.35v1.35h-1.35zM203.2 358.1h1.35v1.35h-1.35zM204.2 358.0h1.35v1.35h-1.35zM204.9 358.0h1.35v1.35h-1.35zM206.9 358.0h1.35v1.35h-1.35zM208.1 358.2h1.35v1.35h-1.35zM212.1 357.8h1.35v1.35h-1.35zM212.8 358.0h1.35v1.35h-1.35zM216.1 357.9h1.35v1.35h-1.35zM219.9 358.1h1.35v1.35h-1.35zM220.8 358.2h1.35v1.35h-1.35zM221.8 358.2h1.35v1.35h-1.35zM225.2 358.1h1.35v1.35h-1.35zM234.1 358.1h1.35v1.35h-1.35zM192.2 359.2h1.35v1.35h-1.35zM193.1 358.9h1.35v1.35h-1.35zM208.2 359.1h1.35v1.35h-1.35zM209.9 359.1h1.35v1.35h-1.35zM211.0 358.9h1.35v1.35h-1.35zM214.0 358.8h1.35v1.35h-1.35zM215.0 358.8h1.35v1.35h-1.35zM217.0 359.2h1.35v1.35h-1.35zM218.1 358.8h1.35v1.35h-1.35zM219.8 358.9h1.35v1.35h-1.35zM222.1 358.9h1.35v1.35h-1.35zM223.0 359.2h1.35v1.35h-1.35zM226.0 359.1h1.35v1.35h-1.35zM232.2 358.8h1.35v1.35h-1.35zM233.1 358.9h1.35v1.35h-1.35zM236.2 358.9h1.35v1.35h-1.35zM238.1 359.2h1.35v1.35h-1.35zM241.0 359.2h1.35v1.35h-1.35zM242.1 358.9h1.35v1.35h-1.35zM248.1 359.0h1.35v1.35h-1.35zM189.0 360.1h1.35v1.35h-1.35zM192.2 360.2h1.35v1.35h-1.35zM210.8 359.8h1.35v1.35h-1.35zM211.8 359.9h1.35v1.35h-1.35zM215.8 359.8h1.35v1.35h-1.35zM216.8 360.2h1.35v1.35h-1.35zM217.9 360.1h1.35v1.35h-1.35zM218.8 359.9h1.35v1.35h-1.35zM220.2 360.1h1.35v1.35h-1.35zM221.2 360.1h1.35v1.35h-1.35zM223.2 359.9h1.35v1.35h-1.35zM224.1 359.8h1.35v1.35h-1.35zM225.2 360.0h1.35v1.35h-1.35zM226.0 360.1h1.35v1.35h-1.35zM227.1 359.9h1.35v1.35h-1.35zM231.2 360.1h1.35v1.35h-1.35zM236.2 359.8h1.35v1.35h-1.35zM237.2 360.2h1.35v1.35h-1.35zM239.1 359.8h1.35v1.35h-1.35zM242.2 359.9h1.35v1.35h-1.35zM242.9 360.0h1.35v1.35h-1.35zM243.8 360.2h1.35v1.35h-1.35zM245.0 360.1h1.35v1.35h-1.35zM247.2 360.1h1.35v1.35h-1.35zM202.0 361.2h1.35v1.35h-1.35zM207.9 360.9h1.35v1.35h-1.35zM211.2 360.8h1.35v1.35h-1.35zM212.0 361.0h1.35v1.35h-1.35zM216.2 361.1h1.35v1.35h-1.35zM220.1 361.0h1.35v1.35h-1.35zM221.8 360.9h1.35v1.35h-1.35zM224.0 360.9h1.35v1.35h-1.35zM224.9 360.9h1.35v1.35h-1.35zM228.0 361.1h1.35v1.35h-1.35zM228.8 360.9h1.35v1.35h-1.35zM230.1 361.2h1.35v1.35h-1.35zM231.0 361.0h1.35v1.35h-1.35zM235.2 361.2h1.35v1.35h-1.35zM235.8 361.2h1.35v1.35h-1.35zM238.0 360.9h1.35v1.35h-1.35zM241.0 361.0h1.35v1.35h-1.35zM242.8 361.0h1.35v1.35h-1.35zM244.0 360.9h1.35v1.35h-1.35zM245.1 360.9h1.35v1.35h-1.35zM247.8 361.1h1.35v1.35h-1.35zM249.2 361.0h1.35v1.35h-1.35zM251.2 360.9h1.35v1.35h-1.35zM185.1 362.0h1.35v1.35h-1.35zM192.0 362.0h1.35v1.35h-1.35zM225.9 362.2h1.35v1.35h-1.35zM229.0 362.1h1.35v1.35h-1.35zM231.1 361.9h1.35v1.35h-1.35zM233.1 362.0h1.35v1.35h-1.35zM236.0 362.1h1.35v1.35h-1.35zM236.9 362.2h1.35v1.35h-1.35zM241.1 362.1h1.35v1.35h-1.35zM243.9 361.8h1.35v1.35h-1.35zM245.1 362.2h1.35v1.35h-1.35zM246.0 362.0h1.35v1.35h-1.35zM247.2 361.9h1.35v1.35h-1.35zM247.9 362.0h1.35v1.35h-1.35zM250.0 362.1h1.35v1.35h-1.35zM251.2 362.1h1.35v1.35h-1.35zM252.0 361.9h1.35v1.35h-1.35zM187.0 362.9h1.35v1.35h-1.35zM226.9 363.2h1.35v1.35h-1.35zM229.0 363.2h1.35v1.35h-1.35zM230.2 363.1h1.35v1.35h-1.35zM231.0 362.9h1.35v1.35h-1.35zM233.9 363.2h1.35v1.35h-1.35zM239.0 363.2h1.35v1.35h-1.35zM245.9 363.2h1.35v1.35h-1.35zM248.1 363.2h1.35v1.35h-1.35zM251.1 363.2h1.35v1.35h-1.35zM192.1 363.9h1.35v1.35h-1.35zM238.9 363.9h1.35v1.35h-1.35zM246.1 364.0h1.35v1.35h-1.35zM247.0 364.2h1.35v1.35h-1.35zM248.2 364.1h1.35v1.35h-1.35zM249.2 364.2h1.35v1.35h-1.35zM250.8 364.2h1.35v1.35h-1.35zM212.2 364.9h1.35v1.35h-1.35zM213.2 365.1h1.35v1.35h-1.35zM232.0 365.1h1.35v1.35h-1.35zM238.8 365.2h1.35v1.35h-1.35zM243.8 364.9h1.35v1.35h-1.35zM248.2 364.9h1.35v1.35h-1.35zM249.8 364.9h1.35v1.35h-1.35zM251.2 365.1h1.35v1.35h-1.35zM192.0 366.2h1.35v1.35h-1.35zM245.9 366.1h1.35v1.35h-1.35zM250.0 365.9h1.35v1.35h-1.35zM251.0 366.0h1.35v1.35h-1.35zM189.0 367.1h1.35v1.35h-1.35zM190.1 366.8h1.35v1.35h-1.35zM191.2 367.1h1.35v1.35h-1.35zM251.1 367.2h1.35v1.35h-1.35zM251.9 367.1h1.35v1.35h-1.35zM183.2 368.1h1.35v1.35h-1.35zM189.0 368.1h1.35v1.35h-1.35zM251.8 368.0h1.35v1.35h-1.35zM188.0 368.8h1.35v1.35h-1.35zM251.0 368.9h1.35v1.35h-1.35zM184.1 369.8h1.35v1.35h-1.35zM189.9 369.9h1.35v1.35h-1.35zM191.1 370.1h1.35v1.35h-1.35zM191.8 370.2h1.35v1.35h-1.35zM251.0 370.1h1.35v1.35h-1.35zM252.1 370.0h1.35v1.35h-1.35zM178.0 370.9h1.35v1.35h-1.35zM188.0 371.0h1.35v1.35h-1.35zM192.1 371.1h1.35v1.35h-1.35zM249.8 371.1h1.35v1.35h-1.35zM250.9 371.0h1.35v1.35h-1.35zM192.1 372.2h1.35v1.35h-1.35zM251.1 372.0h1.35v1.35h-1.35zM186.9 373.1h1.35v1.35h-1.35zM195.8 373.2h1.35v1.35h-1.35zM251.1 372.9h1.35v1.35h-1.35zM191.8 373.8h1.35v1.35h-1.35zM193.1 374.1h1.35v1.35h-1.35zM237.2 374.0h1.35v1.35h-1.35zM248.9 374.0h1.35v1.35h-1.35zM192.2 374.9h1.35v1.35h-1.35zM209.9 375.1h1.35v1.35h-1.35zM210.9 375.0h1.35v1.35h-1.35zM213.9 375.0h1.35v1.35h-1.35zM215.8 374.8h1.35v1.35h-1.35zM222.9 375.1h1.35v1.35h-1.35zM232.8 375.0h1.35v1.35h-1.35zM237.0 375.0h1.35v1.35h-1.35zM242.1 375.0h1.35v1.35h-1.35zM243.9 375.2h1.35v1.35h-1.35zM250.9 375.1h1.35v1.35h-1.35zM251.8 375.1h1.35v1.35h-1.35zM193.1 376.0h1.35v1.35h-1.35zM194.2 376.1h1.35v1.35h-1.35zM197.9 375.8h1.35v1.35h-1.35zM199.1 376.1h1.35v1.35h-1.35zM216.8 375.9h1.35v1.35h-1.35zM226.2 375.9h1.35v1.35h-1.35zM230.0 376.2h1.35v1.35h-1.35zM235.0 375.9h1.35v1.35h-1.35zM245.9 376.0h1.35v1.35h-1.35zM246.9 376.0h1.35v1.35h-1.35zM249.1 376.0h1.35v1.35h-1.35zM193.8 376.8h1.35v1.35h-1.35zM194.8 376.9h1.35v1.35h-1.35zM196.1 377.1h1.35v1.35h-1.35zM198.9 376.9h1.35v1.35h-1.35zM200.8 377.1h1.35v1.35h-1.35zM203.8 377.2h1.35v1.35h-1.35zM205.0 377.0h1.35v1.35h-1.35zM206.1 376.8h1.35v1.35h-1.35zM209.2 376.9h1.35v1.35h-1.35zM209.8 377.2h1.35v1.35h-1.35zM210.8 376.9h1.35v1.35h-1.35zM212.2 377.1h1.35v1.35h-1.35zM213.0 377.0h1.35v1.35h-1.35zM215.2 377.1h1.35v1.35h-1.35zM218.2 377.1h1.35v1.35h-1.35zM219.2 376.8h1.35v1.35h-1.35zM220.2 377.1h1.35v1.35h-1.35zM221.1 376.9h1.35v1.35h-1.35zM222.8 376.9h1.35v1.35h-1.35zM226.0 377.2h1.35v1.35h-1.35zM227.8 376.8h1.35v1.35h-1.35zM230.9 376.9h1.35v1.35h-1.35zM236.1 377.0h1.35v1.35h-1.35zM236.8 377.1h1.35v1.35h-1.35zM238.2 377.1h1.35v1.35h-1.35zM239.2 376.9h1.35v1.35h-1.35zM240.8 376.9h1.35v1.35h-1.35zM242.1 376.9h1.35v1.35h-1.35zM245.2 376.8h1.35v1.35h-1.35zM246.2 376.8h1.35v1.35h-1.35zM247.0 376.8h1.35v1.35h-1.35zM248.2 377.0h1.35v1.35h-1.35zM250.8 376.8h1.35v1.35h-1.35zM193.9 378.2h1.35v1.35h-1.35zM195.1 378.2h1.35v1.35h-1.35zM195.9 377.9h1.35v1.35h-1.35zM199.0 377.9h1.35v1.35h-1.35zM202.9 377.9h1.35v1.35h-1.35zM206.0 378.1h1.35v1.35h-1.35zM209.9 377.9h1.35v1.35h-1.35zM211.1 377.8h1.35v1.35h-1.35zM211.9 378.2h1.35v1.35h-1.35zM213.0 378.2h1.35v1.35h-1.35zM214.1 378.1h1.35v1.35h-1.35zM215.9 377.8h1.35v1.35h-1.35zM216.8 378.1h1.35v1.35h-1.35zM219.1 377.8h1.35v1.35h-1.35zM223.1 378.0h1.35v1.35h-1.35zM224.1 378.1h1.35v1.35h-1.35zM225.2 377.9h1.35v1.35h-1.35zM226.0 377.9h1.35v1.35h-1.35zM227.1 377.8h1.35v1.35h-1.35zM229.1 378.0h1.35v1.35h-1.35zM231.2 377.9h1.35v1.35h-1.35zM233.2 378.1h1.35v1.35h-1.35zM233.8 378.1h1.35v1.35h-1.35zM236.8 378.1h1.35v1.35h-1.35zM239.1 377.9h1.35v1.35h-1.35zM240.1 377.8h1.35v1.35h-1.35zM243.1 378.2h1.35v1.35h-1.35zM245.2 377.9h1.35v1.35h-1.35zM248.8 377.8h1.35v1.35h-1.35zM189.1 379.1h1.35v1.35h-1.35zM197.8 379.2h1.35v1.35h-1.35zM199.0 379.1h1.35v1.35h-1.35zM200.9 378.9h1.35v1.35h-1.35zM204.8 379.1h1.35v1.35h-1.35zM211.1 379.1h1.35v1.35h-1.35zM216.0 379.0h1.35v1.35h-1.35zM216.8 378.8h1.35v1.35h-1.35zM217.8 378.9h1.35v1.35h-1.35zM219.8 378.9h1.35v1.35h-1.35zM221.1 379.2h1.35v1.35h-1.35zM221.8 378.9h1.35v1.35h-1.35zM224.0 379.2h1.35v1.35h-1.35zM226.2 379.0h1.35v1.35h-1.35zM230.9 379.0h1.35v1.35h-1.35zM232.2 379.1h1.35v1.35h-1.35zM236.1 379.1h1.35v1.35h-1.35zM238.2 379.1h1.35v1.35h-1.35zM243.1 379.2h1.35v1.35h-1.35zM252.0 378.8h1.35v1.35h-1.35zM177.9 379.9h1.35v1.35h-1.35zM196.1 380.0h1.35v1.35h-1.35zM197.8 380.2h1.35v1.35h-1.35zM212.0 379.9h1.35v1.35h-1.35zM215.1 379.8h1.35v1.35h-1.35zM220.2 380.0h1.35v1.35h-1.35zM221.9 379.8h1.35v1.35h-1.35zM225.2 380.2h1.35v1.35h-1.35zM235.8 380.0h1.35v1.35h-1.35zM236.8 379.8h1.35v1.35h-1.35zM238.1 380.2h1.35v1.35h-1.35zM241.8 380.2h1.35v1.35h-1.35zM249.9 380.2h1.35v1.35h-1.35zM195.8 381.0h1.35v1.35h-1.35zM207.9 381.1h1.35v1.35h-1.35zM214.2 381.0h1.35v1.35h-1.35zM226.2 380.9h1.35v1.35h-1.35zM230.1 381.0h1.35v1.35h-1.35zM233.8 380.9h1.35v1.35h-1.35zM238.0 381.1h1.35v1.35h-1.35zM245.8 380.9h1.35v1.35h-1.35zM249.2 380.8h1.35v1.35h-1.35zM221.9 381.9h1.35v1.35h-1.35zM227.1 382.1h1.35v1.35h-1.35zM229.1 381.8h1.35v1.35h-1.35zM186.9 382.8h1.35v1.35h-1.35zM218.1 383.0h1.35v1.35h-1.35zM227.9 384.2h1.35v1.35h-1.35zM204.1 386.1h1.35v1.35h-1.35zM250.0 386.2h1.35v1.35h-1.35z"/><path fill="#282898" d="M200 358h1v1h-1zM194 359h1v1h-1zM207 360h1v1h-1zM210 360h1v1h-1zM222 360h1v1h-1zM213 361h1v1h-1zM240 361h1v1h-1zM217 362h1v1h-1zM234 362h1v1h-1zM242 362h1v1h-1zM194 363h1v1h-1zM208 363h1v1h-1zM210 363h1v1h-1zM228 363h1v1h-1zM242 363h1v1h-1zM244 363h1v1h-1zM249 366h1v1h-1zM245 369h1v1h-1zM231 373h1v1h-1zM226 375h1v1h-1zM248 375h1v1h-1zM204 376h1v1h-1zM214 376h1v1h-1zM237 376h1v1h-1zM229 377h1v1h-1zM235 377h1v1h-1zM228 378h1v1h-1z"/><path fill="#2838a8" d="M195 359h1v1h-1zM197 359h1v1h-1zM203 359h1v1h-1zM206 359h1v1h-1zM204 360h1v1h-1zM207 361h1v1h-1zM214 361h1v1h-1zM202 362h1v1h-1zM209 362h1v1h-1zM220 362h1v1h-1zM223 362h1v1h-1zM228 362h1v1h-1zM232 362h1v1h-1zM239 362h1v1h-1zM217 363h1v1h-1zM222 363h1v1h-1zM232 363h1v1h-1zM227 364h1v1h-1zM246 365h1v1h-1zM219 366h1v1h-1zM230 366h1v1h-1zM245 366h1v1h-1zM248 366h1v1h-1zM250 368h1v1h-1zM249 369h1v1h-1zM231 372h1v1h-1zM232 373h1v1h-1zM240 373h1v1h-1zM210 374h2v1h-2zM248 374h1v1h-1zM215 375h1v1h-1zM230 375h1v1h-1zM216 376h1v1h-1zM229 376h1v1h-1zM233 376h1v1h-1zM239 376h1v1h-1zM244 376h1v1h-1zM225 377h1v1h-1zM232 377h1v1h-1z"/><path fill="#2838b0" d="M196 359h1v1h-1zM223 363h1v1h-1zM241 363h1v1h-1zM234 364h1v1h-1zM245 365h1v1h-1zM195 369h1v1h-1zM240 371h1v1h-1zM229 375h1v1h-1zM206 376h1v1h-1zM234 376h1v1h-1z"/><path fill="#4090d0" d="M198 359h1v1h-1zM195 360h1v1h-1zM195 364h1v1h-1zM200 364h1v1h-1zM224 364h1v1h-1zM224 367h1v1h-1zM195 368h1v1h-1zM228 371h1v1h-1zM239 371h1v1h-1zM228 373h1v1h-1zM207 374h1v1h-1zM218 374h1v1h-1zM203 375h1v1h-1zM246 375h1v1h-1z"/><path fill="#2830a0" d="M199 359h1v1h-1zM202 359h1v1h-1zM204 359h1v1h-1zM213 360h1v1h-1zM215 360h1v1h-1zM205 361h1v1h-1zM217 361h1v1h-1zM223 361h1v1h-1zM219 362h1v1h-1zM224 362h1v1h-1zM230 362h1v1h-1zM235 362h1v1h-1zM193 363h1v1h-1zM213 363h1v1h-1zM224 363h1v1h-1zM226 363h1v1h-1zM240 363h1v1h-1zM247 363h1v1h-1zM228 364h1v1h-1zM236 365h1v1h-1zM243 366h1v1h-1zM249 367h1v1h-1zM249 368h1v1h-1zM234 371h1v1h-1zM249 371h1v1h-1zM250 372h1v1h-1zM249 373h1v1h-1zM235 374h1v1h-1zM243 374h1v1h-1zM198 375h1v1h-1zM222 375h1v1h-1zM239 375h1v1h-1zM197 376h1v1h-1zM203 376h1v1h-1zM208 376h2v1h-2zM212 376h1v1h-1zM218 376h1v1h-1zM220 376h2v1h-2zM231 376h2v1h-2zM236 376h1v1h-1zM240 376h1v1h-1zM243 376h1v1h-1zM216 377h2v1h-2zM222 377h1v1h-1zM227 377h1v1h-1zM230 377h1v1h-1zM244 377h1v1h-1z"/><path fill="#2840b8" d="M200 359h1v1h-1zM194 362h1v1h-1zM238 364h1v1h-1zM243 365h1v1h-1zM247 365h1v1h-1zM240 374h1v1h-1zM227 376h1v1h-1z"/><path fill="#2840b0" d="M207 359h1v1h-1zM194 360h1v1h-1zM202 360h1v1h-1zM207 362h1v1h-1zM214 362h2v1h-2zM236 363h3v1h-3zM229 364h1v1h-1zM192 365h1v1h-1zM225 365h2v1h-2zM229 365h1v1h-1zM228 366h1v1h-1zM238 366h1v1h-1zM230 367h1v1h-1zM192 368h1v1h-1zM227 369h1v1h-1zM215 371h1v1h-1zM193 373h1v1h-1zM241 373h1v1h-1zM245 373h1v1h-1zM194 374h1v1h-1zM233 374h2v1h-2zM224 375h1v1h-1zM238 375h1v1h-1zM195 376h1v1h-1zM200 376h1v1h-1zM202 376h1v1h-1zM207 376h1v1h-1zM228 376h1v1h-1zM242 376h1v1h-1z"/><path fill="#3870c8" d="M196 360h1v1h-1zM201 360h1v1h-1zM199 361h1v1h-1zM209 361h1v1h-1zM232 364h1v1h-1zM243 364h1v1h-1zM193 365h1v1h-1zM238 365h1v1h-1zM193 366h1v1h-1zM227 367h1v1h-1zM232 367h1v1h-1zM234 367h1v1h-1zM209 373h1v1h-1zM203 374h1v1h-1zM206 375h1v1h-1z"/><path fill="#60b878" d="M197 360h1v1h-1zM206 363h2v1h-2zM223 364h1v1h-1zM232 366h1v1h-1zM219 367h1v1h-1zM243 368h1v1h-1zM194 371h1v1h-1zM223 371h1v1h-1zM237 372h1v1h-1zM202 373h1v1h-1zM218 373h1v1h-1zM239 373h1v1h-1zM224 374h1v1h-1z"/><path fill="#50b0b0" d="M198 360h1v1h-1zM193 364h2v1h-2zM212 364h1v1h-1zM237 365h1v1h-1zM235 367h1v1h-1zM223 373h1v1h-1zM245 375h1v1h-1z"/><path fill="#4098d0" d="M199 360h1v1h-1zM194 361h1v1h-1zM218 362h1v1h-1zM211 364h1v1h-1zM227 365h1v1h-1zM234 366h1v1h-1zM244 368h1v1h-1zM242 371h1v1h-1zM225 373h1v1h-1zM205 374h1v1h-1z"/><path fill="#3880c8" d="M200 360h1v1h-1zM195 361h1v1h-1zM211 362h1v1h-1zM211 363h1v1h-1zM215 363h1v1h-1zM230 365h1v1h-1zM234 368h1v1h-1zM193 369h1v1h-1zM241 369h1v1h-1zM247 371h1v1h-1zM193 372h1v1h-1zM233 372h1v1h-1zM235 372h1v1h-1zM195 373h1v1h-1zM222 374h1v1h-1zM196 375h1v1h-1zM200 375h1v1h-1zM212 375h1v1h-1zM222 376h1v1h-1z"/><path fill="#3058b8" d="M203 360h1v1h-1zM212 362h1v1h-1zM235 369h1v1h-1zM208 373h1v1h-1zM224 376h1v1h-1z"/><path fill="#4098d8" d="M206 360h1v1h-1zM242 366h1v1h-1z"/><path fill="#2830a8" d="M208 360h1v1h-1zM193 362h1v1h-1zM230 364h1v1h-1zM250 369h1v1h-1zM207 375h1v1h-1z"/><path fill="#282890" d="M193 361h1v1h-1zM221 361h1v1h-1zM227 362h1v1h-1zM243 363h1v1h-1zM192 369h1v1h-1zM219 375h1v1h-1zM225 375h1v1h-1zM247 375h1v1h-1zM215 376h1v1h-1zM245 376h1v1h-1zM207 378h1v1h-1z"/><path fill="#50b0a0" d="M196 361h1v1h-1zM242 365h1v1h-1zM244 366h1v1h-1zM244 367h1v1h-1zM233 368h1v1h-1zM247 368h1v1h-1zM228 370h1v1h-1zM222 371h1v1h-1zM204 374h1v1h-1zM230 374h1v1h-1zM236 374h1v1h-1z"/><path fill="#3888d0" d="M197 361h1v1h-1zM208 362h1v1h-1zM221 362h1v1h-1zM235 364h1v1h-1zM220 365h1v1h-1zM240 366h1v1h-1zM220 368h1v1h-1zM243 370h1v1h-1zM245 370h1v1h-1zM211 372h1v1h-1zM219 373h1v1h-1zM195 374h1v1h-1zM199 374h1v1h-1zM229 374h1v1h-1zM231 374h1v1h-1zM242 374h1v1h-1z"/><path fill="#2848b8" d="M198 361h1v1h-1zM218 361h2v1h-2zM244 364h2v1h-2zM224 365h1v1h-1zM240 365h1v1h-1zM248 372h1v1h-1zM198 373h1v1h-1zM236 373h1v1h-1zM204 375h1v1h-1zM218 375h1v1h-1zM227 375h1v1h-1zM232 375h1v1h-1zM236 375h1v1h-1zM196 376h1v1h-1zM213 376h1v1h-1zM223 376h1v1h-1z"/><path fill="#70c048" d="M200 361h1v1h-1zM198 364h1v1h-1zM206 364h1v1h-1zM235 366h1v1h-1zM206 367h1v1h-1zM239 369h1v1h-1zM248 369h1v1h-1zM217 371h1v1h-1zM236 371h1v1h-1zM221 373h1v1h-1zM226 373h1v1h-1z"/><path fill="#c8d038" d="M201 361h1v1h-1zM220 366h1v1h-1zM197 367h1v1h-1zM220 367h1v1h-1zM231 369h1v1h-1zM194 372h1v1h-1zM216 372h1v1h-1z"/><path fill="#68b860" d="M203 361h1v1h-1zM198 362h2v1h-2zM215 364h1v1h-1zM227 368h1v1h-1zM226 372h1v1h-1z"/><path fill="#3050b8" d="M204 361h1v1h-1zM210 361h1v1h-1zM201 363h1v1h-1zM210 364h1v1h-1zM224 366h1v1h-1zM222 369h1v1h-1zM225 369h1v1h-1zM247 372h1v1h-1zM225 374h1v1h-1zM199 375h1v1h-1zM234 375h1v1h-1zM197 377h1v1h-1z"/><path fill="#58b098" d="M206 361h1v1h-1zM239 368h1v1h-1zM246 369h1v1h-1zM212 373h1v1h-1zM208 374h1v1h-1z"/><path fill="#a8c840" d="M195 362h1v1h-1zM242 370h1v1h-1zM244 370h1v1h-1zM224 372h1v1h-1z"/><path fill="#3068c0" d="M196 362h1v1h-1zM237 364h1v1h-1zM216 365h1v1h-1zM231 366h1v1h-1zM245 367h1v1h-1zM246 368h1v1h-1zM232 369h1v1h-1zM246 372h1v1h-1zM246 373h1v1h-1zM217 374h1v1h-1zM205 375h1v1h-1zM209 375h1v1h-1zM220 375h1v1h-1zM211 376h1v1h-1zM225 376h1v1h-1z"/><path fill="#2850b8" d="M200 362h1v1h-1zM216 373h1v1h-1z"/><path fill="#40a0d8" d="M201 362h1v1h-1zM204 362h1v1h-1zM206 362h1v1h-1zM202 364h1v1h-1zM205 364h1v1h-1zM226 364h1v1h-1zM231 364h1v1h-1zM231 365h1v1h-1zM194 367h1v1h-1zM236 368h1v1h-1zM243 369h1v1h-1zM223 370h1v1h-1zM248 370h1v1h-1zM246 371h1v1h-1zM213 374h1v1h-1zM213 375h1v1h-1z"/><path fill="#e8a028" d="M203 362h1v1h-1zM196 370h1v1h-1zM202 370h1v1h-1zM237 370h1v1h-1zM204 371h1v1h-1zM197 372h1v1h-1z"/><path fill="#68c050" d="M205 362h1v1h-1zM203 364h1v1h-1zM225 367h1v1h-1zM214 368h1v1h-1zM195 371h1v1h-1zM205 373h1v1h-1zM210 373h1v1h-1zM213 373h2v1h-2zM230 373h1v1h-1zM233 373h1v1h-1z"/><path fill="#48a8b8" d="M210 362h1v1h-1zM220 363h1v1h-1zM210 366h1v1h-1z"/><path fill="#3060c0" d="M213 362h1v1h-1zM225 363h1v1h-1zM235 363h1v1h-1zM223 365h1v1h-1zM237 368h1v1h-1zM249 370h1v1h-1zM248 371h1v1h-1zM241 372h1v1h-1zM247 373h1v1h-1zM238 374h1v1h-1zM241 374h1v1h-1zM244 374h1v1h-1zM231 375h1v1h-1zM205 376h1v1h-1z"/><path fill="#3878c8" d="M216 362h1v1h-1zM222 362h1v1h-1zM212 363h1v1h-1zM225 364h1v1h-1zM240 364h1v1h-1zM242 364h1v1h-1zM214 366h1v1h-1zM209 372h1v1h-1zM237 373h1v1h-1zM198 374h1v1h-1zM216 374h1v1h-1zM221 374h1v1h-1zM194 375h1v1h-1zM228 375h1v1h-1zM235 375h1v1h-1zM240 375h1v1h-1zM210 376h1v1h-1z"/><path fill="#283098" d="M225 362h1v1h-1zM250 367h1v1h-1z"/><path fill="#58b090" d="M195 363h1v1h-1zM233 364h1v1h-1zM228 367h1v1h-1zM237 367h1v1h-1zM248 368h1v1h-1zM225 372h1v1h-1zM219 374h1v1h-1z"/><path fill="#b0d040" d="M196 363h1v1h-1zM221 366h1v1h-1zM223 367h1v1h-1zM226 367h1v1h-1zM226 368h1v1h-1zM228 369h1v1h-1zM240 369h1v1h-1zM213 371h1v1h-1zM219 372h1v1h-1z"/><path fill="#50b0a8" d="M197 363h1v1h-1zM218 364h1v1h-1zM236 366h1v1h-1zM193 368h1v1h-1zM235 368h1v1h-1zM241 368h1v1h-1zM218 370h1v1h-1zM229 370h1v1h-1zM241 371h1v1h-1zM204 373h1v1h-1zM211 373h1v1h-1zM220 374h1v1h-1z"/><path fill="#a0c840" d="M198 363h1v1h-1zM202 365h1v1h-1zM210 365h1v1h-1zM218 365h1v1h-1zM222 365h1v1h-1zM195 367h1v1h-1zM218 368h1v1h-1zM224 368h1v1h-1zM232 368h1v1h-1zM233 369h1v1h-1zM217 370h1v1h-1zM206 372h1v1h-1zM217 372h1v1h-1zM197 373h1v1h-1zM235 373h1v1h-1zM201 374h1v1h-1zM206 374h1v1h-1z"/><path fill="#e86820" d="M199 363h1v1h-1zM207 367h2v1h-2zM211 367h1v1h-1zM196 371h1v1h-1zM221 371h1v1h-1z"/><path fill="#e89828" d="M200 363h1v1h-1zM203 363h1v1h-1zM218 366h1v1h-1zM206 369h1v1h-1zM211 369h1v1h-1zM201 372h1v1h-1z"/><path fill="#e88020" d="M202 363h1v1h-1zM205 365h1v1h-1z"/><path fill="#e0d030" d="M204 363h1v1h-1zM195 365h1v1h-1zM198 365h1v1h-1zM231 368h1v1h-1zM220 369h1v1h-1zM237 369h1v1h-1zM232 370h1v1h-1zM195 372h1v1h-1z"/><path fill="#98c840" d="M205 363h1v1h-1zM197 364h1v1h-1zM208 366h1v1h-1zM246 367h1v1h-1zM222 368h1v1h-1zM229 368h1v1h-1zM229 371h1v1h-1zM200 372h1v1h-1zM222 372h1v1h-1zM242 372h1v1h-1z"/><path fill="#68c058" d="M209 363h1v1h-1zM218 363h1v1h-1zM210 369h1v1h-1zM214 369h1v1h-1zM229 369h1v1h-1zM212 370h1v1h-1zM227 370h1v1h-1zM230 370h2v1h-2zM233 370h1v1h-1zM214 371h1v1h-1zM228 372h1v1h-1zM229 373h1v1h-1zM202 374h1v1h-1z"/><path fill="#60b870" d="M214 363h1v1h-1zM221 365h1v1h-1zM237 366h1v1h-1zM229 367h1v1h-1zM224 369h1v1h-1zM230 369h1v1h-1zM208 371h1v1h-1zM243 371h1v1h-1zM243 372h2v1h-2zM206 373h1v1h-1zM221 375h1v1h-1z"/><path fill="#3058c0" d="M216 363h1v1h-1zM221 363h1v1h-1zM213 364h1v1h-1zM236 364h1v1h-1zM227 366h1v1h-1zM193 367h1v1h-1zM234 373h1v1h-1zM248 373h1v1h-1zM209 374h1v1h-1zM217 375h1v1h-1z"/><path fill="#90c840" d="M219 363h1v1h-1zM209 369h1v1h-1zM193 370h1v1h-1zM227 371h1v1h-1zM237 371h1v1h-1zM238 372h1v1h-1z"/><path fill="#58b880" d="M196 364h1v1h-1zM205 370h1v1h-1zM219 370h1v1h-1zM247 370h1v1h-1zM193 371h1v1h-1zM235 371h1v1h-1zM239 372h1v1h-1z"/><path fill="#e03820" d="M199 364h1v1h-1zM204 366h1v1h-1zM213 367h1v1h-1zM217 367h1v1h-1zM196 369h1v1h-1z"/><path fill="#e04020" d="M201 364h1v1h-1zM208 364h1v1h-1zM196 365h1v1h-1zM207 369h1v1h-1zM206 370h1v1h-1z"/><path fill="#e0d830" d="M204 364h1v1h-1zM217 364h1v1h-1zM206 366h1v1h-1zM209 367h1v1h-1zM206 368h1v1h-1zM223 369h1v1h-1zM239 370h1v1h-1zM210 371h1v1h-1zM214 372h1v1h-1z"/><path fill="#78c048" d="M207 364h1v1h-1zM209 364h1v1h-1zM239 367h1v1h-1zM231 371h1v1h-1zM245 372h1v1h-1zM196 374h1v1h-1z"/><path fill="#80c048" d="M214 364h1v1h-1zM212 367h1v1h-1zM238 367h1v1h-1zM230 368h1v1h-1zM205 371h1v1h-1zM212 371h1v1h-1zM240 372h1v1h-1zM220 373h1v1h-1z"/><path fill="#40a8d8" d="M216 364h1v1h-1zM220 364h1v1h-1zM228 365h1v1h-1zM235 365h1v1h-1zM241 365h1v1h-1zM226 366h1v1h-1zM241 366h1v1h-1zM241 367h1v1h-1zM245 371h1v1h-1zM208 375h1v1h-1zM243 375h1v1h-1z"/><path fill="#50b098" d="M219 364h1v1h-1zM215 365h1v1h-1zM222 366h1v1h-1zM247 369h1v1h-1zM207 373h1v1h-1zM227 374h1v1h-1z"/><path fill="#48a8c0" d="M221 364h1v1h-1zM247 366h1v1h-1zM238 368h1v1h-1zM215 372h1v1h-1zM227 372h1v1h-1zM194 373h1v1h-1zM200 374h1v1h-1zM232 374h1v1h-1zM245 374h1v1h-1zM201 375h1v1h-1z"/><path fill="#40a8d0" d="M222 364h1v1h-1zM245 368h1v1h-1zM218 369h1v1h-1zM238 370h1v1h-1zM223 372h1v1h-1zM239 374h1v1h-1z"/><path fill="#e0c830" d="M194 365h1v1h-1zM197 365h1v1h-1zM201 368h1v1h-1zM201 373h1v1h-1z"/><path fill="#e0c030" d="M199 365h1v1h-1zM214 365h1v1h-1zM200 367h1v1h-1zM194 368h1v1h-1zM225 368h1v1h-1zM212 369h1v1h-1zM215 369h2v1h-2zM221 369h1v1h-1zM194 370h2v1h-2zM199 370h1v1h-1zM213 372h1v1h-1z"/><path fill="#e87820" d="M200 365h1v1h-1zM202 366h2v1h-2zM216 366h1v1h-1zM209 368h1v1h-1zM226 369h1v1h-1zM214 370h1v1h-1zM200 371h1v1h-1zM207 371h1v1h-1zM204 372h1v1h-1z"/><path fill="#e02018" d="M201 365h1v1h-1zM198 366h4v1h-4zM205 366h1v1h-1zM199 367h1v1h-1zM198 368h1v1h-1zM200 368h1v1h-1zM204 368h1v1h-1zM197 369h2v1h-2zM201 369h2v1h-2zM204 369h1v1h-1zM197 370h2v1h-2zM200 370h1v1h-1zM203 370h2v1h-2zM216 370h1v1h-1zM198 371h2v1h-2zM201 371h1v1h-1z"/><path fill="#e8a828" d="M203 365h2v1h-2zM205 368h1v1h-1zM217 368h1v1h-1zM205 369h1v1h-1zM213 369h1v1h-1zM201 370h1v1h-1zM211 370h1v1h-1zM218 371h1v1h-1z"/><path fill="#e02818" d="M206 365h1v1h-1zM204 367h1v1h-1zM199 368h1v1h-1zM202 371h1v1h-1z"/><path fill="#a8d040" d="M207 365h1v1h-1zM236 370h1v1h-1zM225 371h1v1h-1z"/><path fill="#c8d838" d="M208 365h1v1h-1zM203 373h1v1h-1z"/><path fill="#60b868" d="M209 365h1v1h-1zM222 367h1v1h-1zM194 369h1v1h-1zM246 370h1v1h-1zM233 371h1v1h-1z"/><path fill="#d8d830" d="M211 365h1v1h-1zM198 367h1v1h-1zM221 370h1v1h-1zM203 372h1v1h-1z"/><path fill="#b8d038" d="M217 365h1v1h-1zM231 367h1v1h-1zM203 368h1v1h-1zM210 368h1v1h-1zM221 368h1v1h-1zM240 368h1v1h-1zM238 369h1v1h-1zM207 370h1v1h-1zM209 371h1v1h-1zM216 371h1v1h-1zM219 371h1v1h-1zM224 373h1v1h-1z"/><path fill="#3890d0" d="M219 365h1v1h-1zM242 368h1v1h-1zM244 369h1v1h-1zM229 372h1v1h-1zM242 373h1v1h-1zM197 374h1v1h-1z"/><path fill="#48a8c8" d="M233 365h1v1h-1zM243 367h1v1h-1zM248 367h1v1h-1zM238 373h1v1h-1zM223 374h1v1h-1zM226 374h1v1h-1zM228 374h1v1h-1zM197 375h1v1h-1z"/><path fill="#68c048" d="M234 365h1v1h-1zM223 366h1v1h-1z"/><path fill="#d0d838" d="M194 366h1v1h-1zM202 367h1v1h-1zM221 367h1v1h-1zM215 368h1v1h-1zM238 371h1v1h-1zM230 372h1v1h-1zM199 373h1v1h-1z"/><path fill="#60b860" d="M195 366h1v1h-1zM224 371h1v1h-1z"/><path fill="#e0b030" d="M196 366h1v1h-1zM217 366h1v1h-1zM196 368h1v1h-1zM216 368h1v1h-1zM208 369h1v1h-1zM206 371h1v1h-1zM220 372h1v1h-1z"/><path fill="#e88828" d="M197 366h1v1h-1zM200 369h1v1h-1zM235 370h1v1h-1z"/><path fill="#e0b830" d="M207 366h1v1h-1zM211 366h1v1h-1zM215 366h1v1h-1zM207 368h1v1h-1zM203 369h1v1h-1zM208 370h1v1h-1zM213 370h1v1h-1zM226 371h1v1h-1zM202 372h1v1h-1z"/><path fill="#e85020" d="M209 366h1v1h-1z"/><path fill="#88c848" d="M212 366h2v1h-2zM215 367h1v1h-1zM211 368h1v1h-1zM228 368h1v1h-1zM211 371h1v1h-1zM244 371h1v1h-1zM210 372h1v1h-1zM234 372h1v1h-1zM217 373h1v1h-1z"/><path fill="#58b888" d="M225 366h1v1h-1zM233 366h1v1h-1zM236 369h1v1h-1zM241 370h1v1h-1zM220 371h1v1h-1zM236 372h1v1h-1z"/><path fill="#68c060" d="M229 366h1v1h-1z"/><path fill="#48a8d0" d="M239 366h1v1h-1zM227 373h1v1h-1zM214 374h2v1h-2zM195 375h1v1h-1z"/><path fill="#e05020" d="M196 367h1v1h-1zM210 367h1v1h-1z"/><path fill="#c0d038" d="M201 367h1v1h-1zM214 367h1v1h-1zM216 367h1v1h-1zM233 367h1v1h-1zM236 367h1v1h-1zM242 367h1v1h-1zM219 368h1v1h-1zM242 369h1v1h-1zM215 370h1v1h-1zM226 370h1v1h-1zM234 370h1v1h-1zM230 371h1v1h-1zM198 372h1v1h-1zM218 372h1v1h-1zM232 372h1v1h-1zM200 373h1v1h-1zM243 373h1v1h-1z"/><path fill="#e85820" d="M203 367h1v1h-1zM210 370h1v1h-1zM203 371h1v1h-1z"/><path fill="#80c848" d="M218 367h1v1h-1zM199 369h1v1h-1zM212 372h1v1h-1zM215 373h1v1h-1z"/><path fill="#3070c0" d="M240 367h1v1h-1zM247 374h1v1h-1z"/><path fill="#90c848" d="M247 367h1v1h-1zM232 371h1v1h-1zM222 373h1v1h-1z"/><path fill="#e86020" d="M197 368h1v1h-1zM212 368h1v1h-1zM222 370h1v1h-1zM197 371h1v1h-1z"/><path fill="#e04820" d="M202 368h1v1h-1zM213 368h1v1h-1zM217 369h1v1h-1z"/><path fill="#e03018" d="M208 368h1v1h-1z"/><path fill="#d8d838" d="M223 368h1v1h-1zM234 369h1v1h-1zM220 370h1v1h-1zM224 370h1v1h-1zM196 372h1v1h-1z"/><path fill="#e8b028" d="M219 369h1v1h-1zM199 372h1v1h-1zM205 372h1v1h-1zM207 372h1v1h-1z"/><path fill="#e88820" d="M209 370h1v1h-1z"/><path fill="#3070c8" d="M225 370h1v1h-1z"/><path fill="#48b0b8" d="M208 372h1v1h-1z"/></g>
<ellipse cx="241.00" cy="344.00" rx="7.00" ry="3.00" fill="#c9d3ef" opacity="0.8" filter="url(#bl)"/>
<line x1="228.50" y1="333.30" x2="228.50" y2="409.80" stroke="#777" stroke-width="0.9"/>
<line x1="177.60" y1="358.50" x2="253.80" y2="358.50" stroke="#777" stroke-width="0.9"/>
<line x1="176.10" y1="373.61" x2="177.60" y2="373.61" stroke="#000" stroke-width="0.8"/>
<line x1="176.10" y1="369.93" x2="177.60" y2="369.93" stroke="#000" stroke-width="0.8"/>
<line x1="176.10" y1="367.32" x2="177.60" y2="367.32" stroke="#000" stroke-width="0.8"/>
<line x1="176.10" y1="365.29" x2="177.60" y2="365.29" stroke="#000" stroke-width="0.8"/>
<line x1="176.10" y1="363.64" x2="177.60" y2="363.64" stroke="#000" stroke-width="0.8"/>
<line x1="176.10" y1="362.24" x2="177.60" y2="362.24" stroke="#000" stroke-width="0.8"/>
<line x1="176.10" y1="361.03" x2="177.60" y2="361.03" stroke="#000" stroke-width="0.8"/>
<line x1="176.10" y1="359.96" x2="177.60" y2="359.96" stroke="#000" stroke-width="0.8"/>
<line x1="176.10" y1="353.79" x2="177.60" y2="353.79" stroke="#000" stroke-width="0.8"/>
<line x1="176.10" y1="350.75" x2="177.60" y2="350.75" stroke="#000" stroke-width="0.8"/>
<line x1="176.10" y1="348.58" x2="177.60" y2="348.58" stroke="#000" stroke-width="0.8"/>
<line x1="176.10" y1="346.91" x2="177.60" y2="346.91" stroke="#000" stroke-width="0.8"/>
<line x1="176.10" y1="345.54" x2="177.60" y2="345.54" stroke="#000" stroke-width="0.8"/>
<line x1="176.10" y1="344.38" x2="177.60" y2="344.38" stroke="#000" stroke-width="0.8"/>
<line x1="176.10" y1="343.38" x2="177.60" y2="343.38" stroke="#000" stroke-width="0.8"/>
<line x1="176.10" y1="342.49" x2="177.60" y2="342.49" stroke="#000" stroke-width="0.8"/>
<line x1="176.10" y1="389.12" x2="177.60" y2="389.12" stroke="#000" stroke-width="0.8"/>
<line x1="176.10" y1="395.48" x2="177.60" y2="395.48" stroke="#000" stroke-width="0.8"/>
<line x1="176.10" y1="386.05" x2="177.60" y2="386.05" stroke="#000" stroke-width="0.8"/>
<line x1="176.10" y1="398.75" x2="177.60" y2="398.75" stroke="#000" stroke-width="0.8"/>
<line x1="176.10" y1="382.97" x2="177.60" y2="382.97" stroke="#000" stroke-width="0.8"/>
<line x1="176.10" y1="402.02" x2="177.60" y2="402.02" stroke="#000" stroke-width="0.8"/>
<line x1="175.00" y1="341.70" x2="177.60" y2="341.70" stroke="#000" stroke-width="0.8"/>
<line x1="175.00" y1="359.00" x2="177.60" y2="359.00" stroke="#000" stroke-width="0.8"/>
<line x1="175.00" y1="379.90" x2="177.60" y2="379.90" stroke="#000" stroke-width="0.8"/>
<line x1="175.00" y1="392.20" x2="177.60" y2="392.20" stroke="#000" stroke-width="0.8"/>
<line x1="175.00" y1="405.30" x2="177.60" y2="405.30" stroke="#000" stroke-width="0.8"/>
<line x1="214.02" y1="409.80" x2="214.02" y2="411.30" stroke="#000" stroke-width="0.8"/>
<line x1="217.54" y1="409.80" x2="217.54" y2="411.30" stroke="#000" stroke-width="0.8"/>
<line x1="220.04" y1="409.80" x2="220.04" y2="411.30" stroke="#000" stroke-width="0.8"/>
<line x1="221.98" y1="409.80" x2="221.98" y2="411.30" stroke="#000" stroke-width="0.8"/>
<line x1="223.56" y1="409.80" x2="223.56" y2="411.30" stroke="#000" stroke-width="0.8"/>
<line x1="224.90" y1="409.80" x2="224.90" y2="411.30" stroke="#000" stroke-width="0.8"/>
<line x1="226.06" y1="409.80" x2="226.06" y2="411.30" stroke="#000" stroke-width="0.8"/>
<line x1="227.08" y1="409.80" x2="227.08" y2="411.30" stroke="#000" stroke-width="0.8"/>
<line x1="233.72" y1="409.80" x2="233.72" y2="411.30" stroke="#000" stroke-width="0.8"/>
<line x1="237.07" y1="409.80" x2="237.07" y2="411.30" stroke="#000" stroke-width="0.8"/>
<line x1="239.44" y1="409.80" x2="239.44" y2="411.30" stroke="#000" stroke-width="0.8"/>
<line x1="241.28" y1="409.80" x2="241.28" y2="411.30" stroke="#000" stroke-width="0.8"/>
<line x1="242.78" y1="409.80" x2="242.78" y2="411.30" stroke="#000" stroke-width="0.8"/>
<line x1="244.06" y1="409.80" x2="244.06" y2="411.30" stroke="#000" stroke-width="0.8"/>
<line x1="245.16" y1="409.80" x2="245.16" y2="411.30" stroke="#000" stroke-width="0.8"/>
<line x1="246.13" y1="409.80" x2="246.13" y2="411.30" stroke="#000" stroke-width="0.8"/>
<line x1="198.25" y1="409.80" x2="198.25" y2="411.30" stroke="#000" stroke-width="0.8"/>
<line x1="192.12" y1="409.80" x2="192.12" y2="411.30" stroke="#000" stroke-width="0.8"/>
<line x1="201.50" y1="409.80" x2="201.50" y2="411.30" stroke="#000" stroke-width="0.8"/>
<line x1="189.25" y1="409.80" x2="189.25" y2="411.30" stroke="#000" stroke-width="0.8"/>
<line x1="204.75" y1="409.80" x2="204.75" y2="411.30" stroke="#000" stroke-width="0.8"/>
<line x1="186.38" y1="409.80" x2="186.38" y2="411.30" stroke="#000" stroke-width="0.8"/>
<line x1="183.50" y1="409.80" x2="183.50" y2="412.40" stroke="#000" stroke-width="0.8"/>
<line x1="195.00" y1="409.80" x2="195.00" y2="412.40" stroke="#000" stroke-width="0.8"/>
<line x1="208.00" y1="409.80" x2="208.00" y2="412.40" stroke="#000" stroke-width="0.8"/>
<line x1="228.00" y1="409.80" x2="228.00" y2="412.40" stroke="#000" stroke-width="0.8"/>
<line x1="247.00" y1="409.80" x2="247.00" y2="412.40" stroke="#000" stroke-width="0.8"/>
<rect x="174.40" y="390.90" width="3.20" height="2.60" fill="#000"/>
<rect x="193.50" y="409.80" width="3.00" height="2.60" fill="#000"/>
<rect x="177.60" y="333.30" width="76.20" height="76.50" fill="none" stroke="#000" stroke-width="1.3"/>
<text x="147.60" y="371.60" font-size="9.4" text-anchor="middle" textLength="45.50" lengthAdjust="spacingAndGlyphs" transform="rotate(-90 147.60 371.60) translate(147.60 371.60) scale(1 1.18) translate(-147.60 -371.60)">Aqua amine</text>
<text x="199.50" y="327.40" font-size="10.0" textLength="32.80" lengthAdjust="spacingAndGlyphs" transform="translate(199.50 327.40) scale(1 1.18) translate(-199.50 -327.40)">+ iNKT</text>
<text x="178.80" y="344.60" font-size="8.2" textLength="14.50" lengthAdjust="spacingAndGlyphs" transform="translate(178.80 344.60) scale(1 1.18) translate(-178.80 -344.60)">1.32</text>
<text x="226.80" y="344.60" font-size="8.2" textLength="15.00" lengthAdjust="spacingAndGlyphs" transform="translate(226.80 344.60) scale(1 1.18) translate(-226.80 -344.60)">1.86</text>
<text x="178.30" y="402.30" font-size="8.2" textLength="15.00" lengthAdjust="spacingAndGlyphs" transform="translate(178.30 402.30) scale(1 1.18) translate(-178.30 -402.30)">77.6</text>
<text x="227.80" y="402.30" font-size="8.2" textLength="14.50" lengthAdjust="spacingAndGlyphs" transform="translate(227.80 402.30) scale(1 1.18) translate(-227.80 -402.30)">19.2</text>
<text x="170.80" y="345.90" font-size="8.2" text-anchor="end" transform="translate(170.80 345.90) scale(1 1.18) translate(-170.80 -345.90)">10<tspan dy="-3" font-size="5">5</tspan></text>
<text x="170.80" y="363.20" font-size="8.2" text-anchor="end" transform="translate(170.80 363.20) scale(1 1.18) translate(-170.80 -363.20)">10<tspan dy="-3" font-size="5">4</tspan></text>
<text x="170.80" y="384.10" font-size="8.2" text-anchor="end" transform="translate(170.80 384.10) scale(1 1.18) translate(-170.80 -384.10)">10<tspan dy="-3" font-size="5">3</tspan></text>
<text x="169.60" y="395.40" font-size="8.2" text-anchor="end" transform="translate(169.60 395.40) scale(1 1.18) translate(-169.60 -395.40)">0</text>
<text x="170.80" y="409.50" font-size="8.2" text-anchor="end" transform="translate(170.80 409.50) scale(1 1.18) translate(-170.80 -409.50)">-10<tspan dy="-3" font-size="5">3</tspan></text>
<text x="183.30" y="426.90" font-size="8.2" text-anchor="middle" transform="translate(183.30 426.90) scale(1 1.18) translate(-183.30 -426.90)">-10<tspan dy="-3" font-size="5">3</tspan></text>
<text x="195.00" y="426.90" font-size="8.2" text-anchor="middle" transform="translate(195.00 426.90) scale(1 1.18) translate(-195.00 -426.90)">0</text>
<text x="207.50" y="426.90" font-size="8.2" text-anchor="middle" transform="translate(207.50 426.90) scale(1 1.18) translate(-207.50 -426.90)">10<tspan dy="-3" font-size="5">3</tspan></text>
<text x="227.50" y="426.90" font-size="8.2" text-anchor="middle" transform="translate(227.50 426.90) scale(1 1.18) translate(-227.50 -426.90)">10<tspan dy="-3" font-size="5">4</tspan></text>
<text x="246.70" y="426.90" font-size="8.2" text-anchor="middle" transform="translate(246.70 426.90) scale(1 1.18) translate(-246.70 -426.90)">10<tspan dy="-3" font-size="5">5</tspan></text>
<text x="186.50" y="441.90" font-size="9.6" textLength="59.00" lengthAdjust="spacingAndGlyphs" transform="translate(186.50 441.90) scale(1 1.18) translate(-186.50 -441.90)">APC - Annexin V</text>
<g filter="url(#pb)"><path fill="#282896" d="M360.2 333.8h1.35v1.35h-1.35zM363.9 334.0h1.35v1.35h-1.35zM377.1 333.8h1.35v1.35h-1.35zM339.8 334.9h1.35v1.35h-1.35zM363.0 335.1h1.35v1.35h-1.35zM350.0 335.9h1.35v1.35h-1.35zM349.1 337.0h1.35v1.35h-1.35zM378.2 336.8h1.35v1.35h-1.35zM364.9 337.8h1.35v1.35h-1.35zM367.0 337.8h1.35v1.35h-1.35zM325.8 339.2h1.35v1.35h-1.35zM352.0 338.9h1.35v1.35h-1.35zM344.2 340.0h1.35v1.35h-1.35zM370.9 340.0h1.35v1.35h-1.35zM349.2 340.8h1.35v1.35h-1.35zM367.9 340.9h1.35v1.35h-1.35zM344.1 342.1h1.35v1.35h-1.35zM354.2 342.0h1.35v1.35h-1.35zM380.8 342.1h1.35v1.35h-1.35zM381.9 341.9h1.35v1.35h-1.35zM371.0 342.9h1.35v1.35h-1.35zM362.8 344.0h1.35v1.35h-1.35zM325.9 345.2h1.35v1.35h-1.35zM363.1 345.0h1.35v1.35h-1.35zM371.8 344.8h1.35v1.35h-1.35zM354.8 346.0h1.35v1.35h-1.35zM362.0 345.9h1.35v1.35h-1.35zM369.9 345.9h1.35v1.35h-1.35zM374.8 346.0h1.35v1.35h-1.35zM352.1 347.1h1.35v1.35h-1.35zM324.1 347.8h1.35v1.35h-1.35zM341.1 348.2h1.35v1.35h-1.35zM342.1 347.8h1.35v1.35h-1.35zM354.2 348.1h1.35v1.35h-1.35zM366.9 347.8h1.35v1.35h-1.35zM325.8 348.9h1.35v1.35h-1.35zM349.0 349.2h1.35v1.35h-1.35zM352.2 348.8h1.35v1.35h-1.35zM355.2 349.1h1.35v1.35h-1.35zM329.9 350.1h1.35v1.35h-1.35zM336.2 349.9h1.35v1.35h-1.35zM356.0 349.9h1.35v1.35h-1.35zM340.8 350.9h1.35v1.35h-1.35zM345.1 351.0h1.35v1.35h-1.35zM345.0 352.0h1.35v1.35h-1.35zM332.2 353.2h1.35v1.35h-1.35zM340.9 353.1h1.35v1.35h-1.35zM348.9 352.8h1.35v1.35h-1.35zM332.1 353.9h1.35v1.35h-1.35zM350.1 353.9h1.35v1.35h-1.35zM339.8 355.0h1.35v1.35h-1.35zM341.2 354.8h1.35v1.35h-1.35zM344.8 355.0h1.35v1.35h-1.35zM348.0 354.8h1.35v1.35h-1.35zM348.8 355.2h1.35v1.35h-1.35zM322.9 355.9h1.35v1.35h-1.35zM331.0 355.9h1.35v1.35h-1.35zM334.2 356.2h1.35v1.35h-1.35zM340.1 355.8h1.35v1.35h-1.35zM343.8 356.0h1.35v1.35h-1.35zM345.9 356.1h1.35v1.35h-1.35zM346.8 356.0h1.35v1.35h-1.35zM348.2 356.2h1.35v1.35h-1.35zM351.1 355.9h1.35v1.35h-1.35zM354.8 356.0h1.35v1.35h-1.35zM356.0 355.9h1.35v1.35h-1.35zM324.2 357.0h1.35v1.35h-1.35zM327.0 357.1h1.35v1.35h-1.35zM328.2 356.9h1.35v1.35h-1.35zM329.2 356.8h1.35v1.35h-1.35zM329.8 357.2h1.35v1.35h-1.35zM331.9 357.2h1.35v1.35h-1.35zM335.1 356.8h1.35v1.35h-1.35zM337.0 357.0h1.35v1.35h-1.35zM339.9 356.8h1.35v1.35h-1.35zM341.9 357.0h1.35v1.35h-1.35zM350.9 357.2h1.35v1.35h-1.35zM354.9 357.0h1.35v1.35h-1.35zM356.0 357.2h1.35v1.35h-1.35zM376.0 357.0h1.35v1.35h-1.35zM324.2 358.2h1.35v1.35h-1.35zM326.9 357.9h1.35v1.35h-1.35zM331.1 358.0h1.35v1.35h-1.35zM332.9 358.0h1.35v1.35h-1.35zM334.1 357.8h1.35v1.35h-1.35zM334.9 358.2h1.35v1.35h-1.35zM339.0 357.9h1.35v1.35h-1.35zM340.2 358.0h1.35v1.35h-1.35zM341.1 358.0h1.35v1.35h-1.35zM342.2 358.2h1.35v1.35h-1.35zM343.0 358.0h1.35v1.35h-1.35zM343.9 358.2h1.35v1.35h-1.35zM349.1 357.8h1.35v1.35h-1.35zM350.2 357.9h1.35v1.35h-1.35zM352.0 358.0h1.35v1.35h-1.35zM353.1 358.0h1.35v1.35h-1.35zM355.9 358.1h1.35v1.35h-1.35zM357.0 358.0h1.35v1.35h-1.35zM359.2 357.8h1.35v1.35h-1.35zM360.0 357.8h1.35v1.35h-1.35zM316.8 359.1h1.35v1.35h-1.35zM325.9 358.9h1.35v1.35h-1.35zM327.1 359.2h1.35v1.35h-1.35zM341.8 359.0h1.35v1.35h-1.35zM347.2 359.0h1.35v1.35h-1.35zM348.8 359.0h1.35v1.35h-1.35zM352.0 359.1h1.35v1.35h-1.35zM355.1 359.2h1.35v1.35h-1.35zM356.1 358.9h1.35v1.35h-1.35zM356.9 359.1h1.35v1.35h-1.35zM359.2 358.8h1.35v1.35h-1.35zM362.2 358.8h1.35v1.35h-1.35zM364.1 359.2h1.35v1.35h-1.35zM367.8 359.1h1.35v1.35h-1.35zM369.1 358.9h1.35v1.35h-1.35zM374.9 359.0h1.35v1.35h-1.35zM380.9 359.1h1.35v1.35h-1.35zM319.9 360.0h1.35v1.35h-1.35zM324.0 359.9h1.35v1.35h-1.35zM324.8 359.9h1.35v1.35h-1.35zM326.2 360.2h1.35v1.35h-1.35zM327.2 359.8h1.35v1.35h-1.35zM340.0 360.1h1.35v1.35h-1.35zM351.0 360.1h1.35v1.35h-1.35zM359.2 360.0h1.35v1.35h-1.35zM360.0 360.2h1.35v1.35h-1.35zM361.1 360.0h1.35v1.35h-1.35zM364.2 360.2h1.35v1.35h-1.35zM366.2 360.1h1.35v1.35h-1.35zM369.1 359.9h1.35v1.35h-1.35zM378.1 360.1h1.35v1.35h-1.35zM362.2 360.9h1.35v1.35h-1.35zM362.9 361.1h1.35v1.35h-1.35zM367.2 361.1h1.35v1.35h-1.35zM367.9 360.8h1.35v1.35h-1.35zM368.8 361.1h1.35v1.35h-1.35zM369.9 361.0h1.35v1.35h-1.35zM374.9 361.1h1.35v1.35h-1.35zM376.8 360.9h1.35v1.35h-1.35zM359.0 361.8h1.35v1.35h-1.35zM365.0 361.9h1.35v1.35h-1.35zM369.0 361.8h1.35v1.35h-1.35zM369.8 362.0h1.35v1.35h-1.35zM323.1 362.8h1.35v1.35h-1.35zM360.0 363.0h1.35v1.35h-1.35zM371.2 362.8h1.35v1.35h-1.35zM371.8 363.1h1.35v1.35h-1.35zM376.1 362.9h1.35v1.35h-1.35zM381.9 363.1h1.35v1.35h-1.35zM320.8 363.9h1.35v1.35h-1.35zM321.9 364.0h1.35v1.35h-1.35zM323.2 363.8h1.35v1.35h-1.35zM358.0 363.9h1.35v1.35h-1.35zM365.0 364.1h1.35v1.35h-1.35zM367.8 364.2h1.35v1.35h-1.35zM371.0 364.2h1.35v1.35h-1.35zM372.1 364.0h1.35v1.35h-1.35zM372.8 364.1h1.35v1.35h-1.35zM375.8 364.0h1.35v1.35h-1.35zM379.1 364.1h1.35v1.35h-1.35zM312.0 364.8h1.35v1.35h-1.35zM370.8 365.1h1.35v1.35h-1.35zM377.1 364.9h1.35v1.35h-1.35zM378.8 365.2h1.35v1.35h-1.35zM322.8 366.2h1.35v1.35h-1.35zM365.0 366.1h1.35v1.35h-1.35zM371.9 365.8h1.35v1.35h-1.35zM316.1 367.0h1.35v1.35h-1.35zM323.2 366.9h1.35v1.35h-1.35zM372.2 366.8h1.35v1.35h-1.35zM322.9 367.9h1.35v1.35h-1.35zM370.8 367.8h1.35v1.35h-1.35zM377.0 368.2h1.35v1.35h-1.35zM380.9 367.9h1.35v1.35h-1.35zM310.9 369.1h1.35v1.35h-1.35zM369.0 369.1h1.35v1.35h-1.35zM371.2 369.2h1.35v1.35h-1.35zM371.9 369.2h1.35v1.35h-1.35zM375.1 368.9h1.35v1.35h-1.35zM375.8 369.1h1.35v1.35h-1.35zM323.1 369.8h1.35v1.35h-1.35zM324.2 370.1h1.35v1.35h-1.35zM364.0 369.9h1.35v1.35h-1.35zM367.9 370.1h1.35v1.35h-1.35zM370.9 370.1h1.35v1.35h-1.35zM372.8 370.1h1.35v1.35h-1.35zM378.1 370.2h1.35v1.35h-1.35zM380.9 370.2h1.35v1.35h-1.35zM323.1 371.1h1.35v1.35h-1.35zM371.0 371.0h1.35v1.35h-1.35zM371.8 370.9h1.35v1.35h-1.35zM377.0 371.1h1.35v1.35h-1.35zM379.1 370.8h1.35v1.35h-1.35zM325.0 372.2h1.35v1.35h-1.35zM360.2 371.8h1.35v1.35h-1.35zM362.0 372.2h1.35v1.35h-1.35zM363.2 372.1h1.35v1.35h-1.35zM368.9 371.8h1.35v1.35h-1.35zM370.8 372.1h1.35v1.35h-1.35zM376.0 371.8h1.35v1.35h-1.35zM324.9 373.0h1.35v1.35h-1.35zM328.9 373.1h1.35v1.35h-1.35zM333.8 373.1h1.35v1.35h-1.35zM341.0 372.9h1.35v1.35h-1.35zM349.2 372.9h1.35v1.35h-1.35zM357.2 373.1h1.35v1.35h-1.35zM358.0 372.8h1.35v1.35h-1.35zM358.9 373.1h1.35v1.35h-1.35zM360.8 372.9h1.35v1.35h-1.35zM361.8 373.0h1.35v1.35h-1.35zM367.0 372.9h1.35v1.35h-1.35zM368.8 372.8h1.35v1.35h-1.35zM370.2 372.8h1.35v1.35h-1.35zM372.0 373.0h1.35v1.35h-1.35zM374.9 373.0h1.35v1.35h-1.35zM326.1 374.2h1.35v1.35h-1.35zM336.2 374.0h1.35v1.35h-1.35zM338.2 374.1h1.35v1.35h-1.35zM344.8 374.0h1.35v1.35h-1.35zM345.9 374.0h1.35v1.35h-1.35zM347.1 374.0h1.35v1.35h-1.35zM348.1 374.2h1.35v1.35h-1.35zM351.2 374.2h1.35v1.35h-1.35zM351.9 373.9h1.35v1.35h-1.35zM355.9 374.0h1.35v1.35h-1.35zM359.9 373.9h1.35v1.35h-1.35zM361.0 374.2h1.35v1.35h-1.35zM364.1 373.9h1.35v1.35h-1.35zM365.1 373.8h1.35v1.35h-1.35zM367.2 373.9h1.35v1.35h-1.35zM369.8 374.2h1.35v1.35h-1.35zM373.8 373.9h1.35v1.35h-1.35zM329.2 374.8h1.35v1.35h-1.35zM330.2 375.1h1.35v1.35h-1.35zM331.1 374.9h1.35v1.35h-1.35zM332.2 374.9h1.35v1.35h-1.35zM333.2 374.8h1.35v1.35h-1.35zM334.1 374.8h1.35v1.35h-1.35zM335.9 374.9h1.35v1.35h-1.35zM336.8 374.9h1.35v1.35h-1.35zM337.8 374.9h1.35v1.35h-1.35zM338.9 374.8h1.35v1.35h-1.35zM339.8 374.9h1.35v1.35h-1.35zM342.0 374.8h1.35v1.35h-1.35zM344.9 375.0h1.35v1.35h-1.35zM345.9 375.1h1.35v1.35h-1.35zM348.1 375.1h1.35v1.35h-1.35zM353.9 375.0h1.35v1.35h-1.35zM355.9 375.1h1.35v1.35h-1.35zM357.2 374.9h1.35v1.35h-1.35zM359.2 375.1h1.35v1.35h-1.35zM373.2 375.2h1.35v1.35h-1.35zM375.2 375.0h1.35v1.35h-1.35zM383.2 375.1h1.35v1.35h-1.35zM327.0 376.2h1.35v1.35h-1.35zM328.1 376.0h1.35v1.35h-1.35zM332.2 376.1h1.35v1.35h-1.35zM333.1 375.9h1.35v1.35h-1.35zM334.1 375.8h1.35v1.35h-1.35zM337.2 376.2h1.35v1.35h-1.35zM337.8 375.9h1.35v1.35h-1.35zM339.9 375.8h1.35v1.35h-1.35zM340.9 375.9h1.35v1.35h-1.35zM343.0 376.2h1.35v1.35h-1.35zM349.9 375.8h1.35v1.35h-1.35zM354.0 376.1h1.35v1.35h-1.35zM355.1 375.9h1.35v1.35h-1.35zM357.0 375.9h1.35v1.35h-1.35zM358.1 376.0h1.35v1.35h-1.35zM362.8 376.0h1.35v1.35h-1.35zM368.2 376.2h1.35v1.35h-1.35zM373.9 375.8h1.35v1.35h-1.35zM324.9 377.0h1.35v1.35h-1.35zM329.0 376.8h1.35v1.35h-1.35zM334.8 377.1h1.35v1.35h-1.35zM339.2 376.9h1.35v1.35h-1.35zM346.1 377.1h1.35v1.35h-1.35zM348.8 376.8h1.35v1.35h-1.35zM351.0 377.2h1.35v1.35h-1.35zM356.9 377.2h1.35v1.35h-1.35zM368.1 377.2h1.35v1.35h-1.35zM328.0 378.1h1.35v1.35h-1.35zM335.2 377.8h1.35v1.35h-1.35zM368.2 378.2h1.35v1.35h-1.35zM352.8 378.8h1.35v1.35h-1.35zM353.9 379.2h1.35v1.35h-1.35zM357.1 379.0h1.35v1.35h-1.35zM340.0 380.2h1.35v1.35h-1.35zM340.8 381.1h1.35v1.35h-1.35zM339.9 382.2h1.35v1.35h-1.35z"/><path fill="#282898" d="M336 358h1v1h-1zM328 359h1v1h-1zM331 359h1v1h-1zM333 359h1v1h-1zM336 359h1v1h-1zM340 359h2v1h-2zM345 359h1v1h-1zM330 360h1v1h-1zM358 360h1v1h-1zM350 361h1v1h-1zM352 361h1v1h-1zM360 362h1v1h-1zM366 362h1v1h-1zM324 363h1v1h-1zM324 366h1v1h-1zM362 368h1v1h-1zM324 369h1v1h-1zM370 369h1v1h-1zM365 370h1v1h-1zM369 370h1v1h-1zM367 371h2v1h-2zM370 371h1v1h-1zM346 372h1v1h-1zM354 372h1v1h-1zM361 372h1v1h-1zM326 373h1v1h-1zM330 373h1v1h-1zM352 373h2v1h-2zM330 374h1v1h-1zM332 374h1v1h-1zM335 374h1v1h-1zM343 374h2v1h-2zM349 374h2v1h-2zM354 374h2v1h-2z"/><path fill="#2830a0" d="M330 359h1v1h-1zM332 359h1v1h-1zM338 359h2v1h-2zM343 359h1v1h-1zM346 359h1v1h-1zM348 359h1v1h-1zM328 360h1v1h-1zM341 360h2v1h-2zM347 360h3v1h-3zM352 360h2v1h-2zM356 360h1v1h-1zM325 361h1v1h-1zM351 361h1v1h-1zM358 361h1v1h-1zM366 361h1v1h-1zM325 362h1v1h-1zM364 362h1v1h-1zM370 364h1v1h-1zM324 365h1v1h-1zM348 367h1v1h-1zM368 367h1v1h-1zM370 367h1v1h-1zM324 368h1v1h-1zM368 368h1v1h-1zM370 368h1v1h-1zM359 371h1v1h-1zM364 371h1v1h-1zM366 371h1v1h-1zM353 372h1v1h-1zM357 372h1v1h-1zM365 372h1v1h-1zM328 373h1v1h-1zM339 373h1v1h-1zM350 373h1v1h-1zM327 374h3v1h-3zM334 374h1v1h-1zM337 374h1v1h-1zM339 374h1v1h-1zM342 374h1v1h-1z"/><path fill="#2840b0" d="M334 359h1v1h-1zM339 360h1v1h-1zM354 360h1v1h-1zM326 361h1v1h-1zM334 361h1v1h-1zM349 361h1v1h-1zM357 361h1v1h-1zM340 362h1v1h-1zM352 362h1v1h-1zM363 363h1v1h-1zM352 365h1v1h-1zM366 365h1v1h-1zM364 366h1v1h-1zM363 368h1v1h-1zM367 368h1v1h-1zM325 369h1v1h-1zM356 369h1v1h-1zM366 369h1v1h-1zM325 370h1v1h-1zM370 370h1v1h-1zM345 371h1v1h-1zM362 371h1v1h-1zM369 371h1v1h-1zM341 372h1v1h-1zM344 373h1v1h-1zM347 373h1v1h-1z"/><path fill="#3878c8" d="M335 359h1v1h-1zM363 362h1v1h-1zM359 363h1v1h-1zM364 363h1v1h-1zM368 363h1v1h-1zM325 364h1v1h-1zM357 364h1v1h-1zM366 367h1v1h-1zM363 370h1v1h-1zM360 371h1v1h-1zM332 373h1v1h-1zM346 373h1v1h-1z"/><path fill="#282890" d="M344 359h1v1h-1zM361 362h1v1h-1zM366 368h1v1h-1z"/><path fill="#4090d0" d="M329 360h1v1h-1zM362 362h1v1h-1zM338 363h1v1h-1zM365 367h1v1h-1zM334 372h1v1h-1zM348 372h1v1h-1zM333 373h1v1h-1z"/><path fill="#2838a8" d="M331 360h1v1h-1zM343 360h1v1h-1zM350 360h1v1h-1zM337 361h1v1h-1zM346 361h1v1h-1zM355 361h2v1h-2zM360 361h2v1h-2zM364 361h2v1h-2zM325 363h1v1h-1zM357 363h1v1h-1zM367 363h1v1h-1zM370 366h2v1h-2zM324 367h1v1h-1zM331 370h1v1h-1zM366 370h2v1h-2zM327 372h1v1h-1zM347 372h1v1h-1zM356 372h1v1h-1zM364 372h1v1h-1zM367 372h1v1h-1zM342 373h1v1h-1zM345 373h1v1h-1zM348 373h1v1h-1zM354 373h1v1h-1zM356 373h1v1h-1zM341 374h1v1h-1z"/><path fill="#3070c8" d="M332 360h1v1h-1z"/><path fill="#2848b8" d="M333 360h2v1h-2zM335 361h1v1h-1zM354 361h1v1h-1zM351 362h1v1h-1zM362 363h1v1h-1zM369 364h1v1h-1zM366 366h1v1h-1zM364 367h1v1h-1zM359 369h1v1h-1zM356 371h1v1h-1zM361 371h1v1h-1zM333 374h1v1h-1z"/><path fill="#3068c0" d="M335 360h1v1h-1zM367 362h1v1h-1zM344 365h1v1h-1zM359 365h1v1h-1zM362 365h1v1h-1zM325 366h1v1h-1zM362 367h1v1h-1zM331 372h1v1h-1zM351 372h1v1h-1z"/><path fill="#48a8d0" d="M336 360h1v1h-1zM328 362h1v1h-1zM336 362h1v1h-1zM364 364h1v1h-1zM365 369h1v1h-1z"/><path fill="#3060c0" d="M338 360h1v1h-1zM363 364h1v1h-1zM365 371h1v1h-1zM326 372h1v1h-1zM328 372h1v1h-1zM338 372h1v1h-1zM349 372h1v1h-1zM327 373h1v1h-1z"/><path fill="#3050b8" d="M344 360h1v1h-1zM353 361h1v1h-1zM368 362h1v1h-1zM354 363h1v1h-1zM367 369h1v1h-1zM331 373h1v1h-1zM337 373h1v1h-1z"/><path fill="#3888d0" d="M345 360h1v1h-1zM329 361h1v1h-1zM366 363h1v1h-1zM365 365h1v1h-1zM369 367h1v1h-1zM355 368h1v1h-1zM369 368h1v1h-1zM347 370h1v1h-1zM357 371h1v1h-1z"/><path fill="#3870c8" d="M346 360h1v1h-1zM347 361h1v1h-1zM355 365h1v1h-1zM367 367h1v1h-1zM337 372h1v1h-1zM336 373h1v1h-1z"/><path fill="#2838b0" d="M355 360h1v1h-1zM329 362h1v1h-1zM355 362h1v1h-1zM370 363h1v1h-1zM369 365h1v1h-1zM349 366h1v1h-1zM367 366h1v1h-1zM369 366h1v1h-1zM344 372h1v1h-1zM351 373h1v1h-1zM340 374h1v1h-1z"/><path fill="#283098" d="M357 360h1v1h-1zM359 361h1v1h-1zM355 373h1v1h-1z"/><path fill="#50b0b0" d="M327 361h1v1h-1zM326 363h1v1h-1zM349 369h1v1h-1zM350 370h1v1h-1zM336 372h1v1h-1z"/><path fill="#60b870" d="M328 361h1v1h-1zM345 362h1v1h-1zM337 364h1v1h-1zM350 366h1v1h-1zM353 367h1v1h-1zM326 370h1v1h-1zM329 371h1v1h-1z"/><path fill="#2850b8" d="M330 361h1v1h-1zM358 372h1v1h-1zM343 373h1v1h-1z"/><path fill="#58b090" d="M331 361h1v1h-1zM349 362h1v1h-1zM352 363h1v1h-1zM358 367h1v1h-1zM353 369h1v1h-1zM341 371h1v1h-1z"/><path fill="#68b860" d="M332 361h1v1h-1zM356 364h1v1h-1zM351 365h1v1h-1zM359 366h1v1h-1zM360 367h1v1h-1z"/><path fill="#98c840" d="M333 361h1v1h-1zM342 361h1v1h-1zM348 363h1v1h-1zM352 364h1v1h-1zM353 365h1v1h-1z"/><path fill="#48a8c8" d="M336 361h1v1h-1zM344 363h1v1h-1zM361 363h1v1h-1zM345 364h1v1h-1zM361 369h1v1h-1zM363 369h1v1h-1zM356 370h1v1h-1zM359 370h1v1h-1zM363 371h1v1h-1zM332 372h1v1h-1z"/><path fill="#60b878" d="M338 361h1v1h-1zM326 362h1v1h-1zM368 366h1v1h-1z"/><path fill="#50b0b8" d="M339 361h1v1h-1zM356 362h1v1h-1zM355 363h1v1h-1z"/><path fill="#40a8d8" d="M340 361h2v1h-2zM345 369h1v1h-1zM340 372h1v1h-1z"/><path fill="#40a0d8" d="M343 361h1v1h-1zM350 363h1v1h-1zM356 363h1v1h-1zM345 367h1v1h-1zM359 367h1v1h-1zM353 368h1v1h-1zM351 371h1v1h-1zM345 372h1v1h-1z"/><path fill="#3890d0" d="M344 361h1v1h-1zM335 362h1v1h-1zM325 365h1v1h-1zM325 367h1v1h-1zM360 370h1v1h-1zM350 371h1v1h-1zM358 371h1v1h-1zM342 372h1v1h-1zM350 372h1v1h-1z"/><path fill="#3880c8" d="M345 361h1v1h-1zM332 362h1v1h-1zM357 362h2v1h-2zM349 363h1v1h-1zM366 364h1v1h-1zM367 365h1v1h-1zM351 366h1v1h-1zM359 368h1v1h-1zM355 370h1v1h-1zM325 371h1v1h-1zM343 371h1v1h-1zM348 371h1v1h-1z"/><path fill="#2840b8" d="M348 361h1v1h-1zM361 364h1v1h-1zM370 365h1v1h-1zM371 367h1v1h-1zM355 371h1v1h-1zM331 374h1v1h-1z"/><path fill="#58b098" d="M327 362h1v1h-1zM360 364h1v1h-1zM338 370h1v1h-1zM349 370h1v1h-1zM327 371h1v1h-1zM343 372h1v1h-1z"/><path fill="#d0d838" d="M330 362h1v1h-1zM339 366h1v1h-1zM346 368h1v1h-1zM326 369h1v1h-1zM358 369h1v1h-1z"/><path fill="#b8d038" d="M331 362h1v1h-1zM343 365h1v1h-1zM329 370h1v1h-1zM346 370h1v1h-1zM348 370h1v1h-1z"/><path fill="#e89028" d="M333 362h1v1h-1zM345 365h1v1h-1zM353 366h1v1h-1zM328 369h1v1h-1zM337 371h1v1h-1z"/><path fill="#78c048" d="M334 362h1v1h-1zM360 365h1v1h-1zM362 366h1v1h-1zM325 368h1v1h-1zM352 370h1v1h-1z"/><path fill="#3058c0" d="M337 362h1v1h-1zM329 368h1v1h-1zM361 370h1v1h-1zM354 371h1v1h-1zM355 372h1v1h-1zM359 372h1v1h-1zM338 373h1v1h-1z"/><path fill="#90c840" d="M338 362h1v1h-1zM331 363h1v1h-1zM365 368h1v1h-1zM352 369h1v1h-1zM344 370h1v1h-1z"/><path fill="#60b868" d="M339 362h1v1h-1zM347 362h1v1h-1zM363 367h1v1h-1zM353 370h1v1h-1zM339 372h1v1h-1z"/><path fill="#a8d040" d="M341 362h1v1h-1zM336 363h1v1h-1zM342 368h1v1h-1z"/><path fill="#c0d038" d="M342 362h1v1h-1zM327 363h1v1h-1zM353 364h1v1h-1zM349 365h1v1h-1zM328 366h1v1h-1zM355 366h1v1h-1zM357 369h1v1h-1zM340 370h1v1h-1zM342 371h1v1h-1z"/><path fill="#68c058" d="M343 362h1v1h-1zM332 364h1v1h-1zM357 365h1v1h-1zM361 367h1v1h-1zM347 371h1v1h-1z"/><path fill="#48a8b8" d="M344 362h1v1h-1zM364 369h1v1h-1z"/><path fill="#88c848" d="M346 362h1v1h-1zM333 363h1v1h-1zM326 365h1v1h-1zM354 365h1v1h-1zM351 368h1v1h-1zM334 369h1v1h-1zM354 369h1v1h-1zM343 370h1v1h-1z"/><path fill="#a0c840" d="M348 362h1v1h-1zM358 365h1v1h-1zM354 367h1v1h-1zM354 368h1v1h-1zM342 370h1v1h-1zM331 371h1v1h-1zM340 371h1v1h-1z"/><path fill="#80c048" d="M350 362h1v1h-1zM347 369h1v1h-1zM354 370h1v1h-1zM336 371h1v1h-1zM344 371h1v1h-1z"/><path fill="#3058b8" d="M353 362h1v1h-1zM365 363h1v1h-1zM354 364h1v1h-1zM349 371h1v1h-1z"/><path fill="#3070c0" d="M354 362h1v1h-1zM368 365h1v1h-1z"/><path fill="#e04820" d="M328 363h1v1h-1zM337 363h1v1h-1zM343 364h1v1h-1zM338 369h1v1h-1zM334 370h1v1h-1z"/><path fill="#90c848" d="M329 363h1v1h-1zM359 364h1v1h-1zM338 371h1v1h-1z"/><path fill="#e05020" d="M330 363h1v1h-1zM342 364h1v1h-1zM338 365h1v1h-1zM340 365h1v1h-1zM351 367h1v1h-1z"/><path fill="#e02018" d="M332 363h1v1h-1zM334 364h1v1h-1zM336 364h1v1h-1zM328 365h1v1h-1zM334 365h1v1h-1zM337 365h1v1h-1zM329 366h4v1h-4zM336 366h3v1h-3zM340 366h1v1h-1zM328 367h2v1h-2zM331 367h2v1h-2zM335 367h3v1h-3zM340 367h2v1h-2zM343 367h1v1h-1zM347 367h1v1h-1zM327 368h1v1h-1zM332 368h1v1h-1zM335 368h3v1h-3zM343 368h1v1h-1zM349 368h1v1h-1zM337 369h1v1h-1z"/><path fill="#e0c030" d="M334 363h1v1h-1zM348 364h1v1h-1zM355 364h1v1h-1zM349 367h1v1h-1zM356 367h1v1h-1zM333 368h1v1h-1zM339 368h1v1h-1zM358 368h1v1h-1zM336 369h1v1h-1zM342 369h1v1h-1z"/><path fill="#e8a828" d="M335 363h1v1h-1zM341 363h2v1h-2zM326 366h1v1h-1zM343 366h2v1h-2zM338 367h1v1h-1zM357 367h1v1h-1z"/><path fill="#e0b030" d="M339 363h1v1h-1zM330 371h1v1h-1z"/><path fill="#d8d830" d="M340 363h1v1h-1zM333 370h1v1h-1z"/><path fill="#48a8c0" d="M343 363h1v1h-1zM364 365h1v1h-1z"/><path fill="#80c848" d="M345 363h1v1h-1zM352 367h1v1h-1zM358 370h1v1h-1zM330 372h1v1h-1zM335 372h1v1h-1z"/><path fill="#e89828" d="M346 363h1v1h-1zM330 364h2v1h-2zM349 364h1v1h-1zM333 365h1v1h-1zM356 366h1v1h-1zM358 366h1v1h-1zM328 368h1v1h-1zM346 369h1v1h-1zM335 370h1v1h-1z"/><path fill="#70c048" d="M347 363h1v1h-1zM335 364h1v1h-1zM348 365h1v1h-1zM361 366h1v1h-1zM348 369h1v1h-1zM357 370h1v1h-1zM352 371h1v1h-1z"/><path fill="#e0c830" d="M351 363h1v1h-1zM341 366h1v1h-1zM330 368h1v1h-1zM331 369h1v1h-1zM340 369h1v1h-1zM355 369h1v1h-1z"/><path fill="#50b0a0" d="M353 363h1v1h-1zM358 363h1v1h-1zM333 364h1v1h-1zM351 364h1v1h-1zM362 364h1v1h-1zM335 371h1v1h-1zM353 371h1v1h-1z"/><path fill="#4098d0" d="M326 364h1v1h-1zM368 369h1v1h-1zM362 370h1v1h-1zM335 373h1v1h-1z"/><path fill="#e8b028" d="M327 364h1v1h-1zM339 364h1v1h-1zM334 366h1v1h-1zM326 367h1v1h-1zM345 370h1v1h-1zM332 371h1v1h-1z"/><path fill="#e0b830" d="M328 364h1v1h-1zM352 366h1v1h-1zM338 368h1v1h-1zM341 368h1v1h-1z"/><path fill="#e85820" d="M329 364h1v1h-1zM339 365h1v1h-1zM333 366h1v1h-1zM333 369h1v1h-1zM343 369h1v1h-1z"/><path fill="#e87820" d="M338 364h1v1h-1zM347 364h1v1h-1zM354 366h1v1h-1zM350 367h1v1h-1zM330 369h1v1h-1zM332 369h1v1h-1zM327 370h1v1h-1z"/><path fill="#e0d830" d="M340 364h1v1h-1zM344 364h1v1h-1zM345 366h1v1h-1zM356 368h1v1h-1z"/><path fill="#e8a028" d="M341 364h1v1h-1zM346 364h1v1h-1zM335 365h1v1h-1zM347 366h1v1h-1zM344 367h1v1h-1zM355 367h1v1h-1z"/><path fill="#e88020" d="M350 364h1v1h-1zM330 367h1v1h-1zM334 367h1v1h-1zM329 369h1v1h-1zM339 369h1v1h-1z"/><path fill="#40a8d0" d="M367 364h1v1h-1zM360 369h1v1h-1zM328 371h1v1h-1zM352 372h1v1h-1z"/><path fill="#e88820" d="M327 365h1v1h-1z"/><path fill="#e86020" d="M329 365h1v1h-1zM339 367h1v1h-1zM346 367h1v1h-1z"/><path fill="#e03820" d="M330 365h3v1h-3zM331 368h1v1h-1zM351 369h1v1h-1z"/><path fill="#e85020" d="M336 365h1v1h-1zM342 365h1v1h-1z"/><path fill="#e03018" d="M341 365h1v1h-1zM327 367h1v1h-1zM333 367h1v1h-1zM334 368h1v1h-1z"/><path fill="#e87020" d="M346 365h1v1h-1zM346 366h1v1h-1z"/><path fill="#b0d040" d="M347 365h1v1h-1zM341 370h1v1h-1z"/><path fill="#e88828" d="M350 365h1v1h-1zM327 369h1v1h-1zM332 370h1v1h-1z"/><path fill="#50b0a8" d="M356 365h1v1h-1zM363 365h1v1h-1zM363 366h1v1h-1z"/><path fill="#48b0b8" d="M361 365h1v1h-1z"/><path fill="#68c048" d="M327 366h1v1h-1zM333 371h1v1h-1z"/><path fill="#e86820" d="M335 366h1v1h-1z"/><path fill="#a8c840" d="M342 366h1v1h-1zM326 368h1v1h-1z"/><path fill="#50b098" d="M348 366h1v1h-1zM348 368h1v1h-1z"/><path fill="#e0d030" d="M357 366h1v1h-1zM360 366h1v1h-1zM344 368h1v1h-1zM341 369h1v1h-1zM344 369h1v1h-1zM328 370h1v1h-1zM337 370h1v1h-1z"/><path fill="#e02818" d="M342 367h1v1h-1z"/><path fill="#e04020" d="M340 368h1v1h-1zM335 369h1v1h-1z"/><path fill="#d8d838" d="M345 368h1v1h-1zM350 368h1v1h-1zM336 370h1v1h-1zM339 370h1v1h-1z"/><path fill="#c8d038" d="M347 368h1v1h-1zM357 368h1v1h-1zM330 370h1v1h-1z"/><path fill="#4098d8" d="M352 368h1v1h-1z"/><path fill="#b0d038" d="M360 368h1v1h-1z"/><path fill="#68c050" d="M361 368h1v1h-1zM364 368h1v1h-1zM350 369h1v1h-1zM339 371h1v1h-1z"/><path fill="#58b888" d="M362 369h1v1h-1zM351 370h1v1h-1z"/><path fill="#58b880" d="M326 371h1v1h-1zM334 371h1v1h-1zM333 372h1v1h-1z"/><path fill="#60b860" d="M329 372h1v1h-1z"/><path fill="#3880d0" d="M340 373h1v1h-1z"/></g>
<line x1="360.50" y1="333.50" x2="360.50" y2="409.30" stroke="#777" stroke-width="0.9"/>
<line x1="309.40" y1="358.50" x2="385.40" y2="358.50" stroke="#777" stroke-width="0.9"/>
<line x1="307.90" y1="373.61" x2="309.40" y2="373.61" stroke="#000" stroke-width="0.8"/>
<line x1="307.90" y1="369.93" x2="309.40" y2="369.93" stroke="#000" stroke-width="0.8"/>
<line x1="307.90" y1="367.32" x2="309.40" y2="367.32" stroke="#000" stroke-width="0.8"/>
<line x1="307.90" y1="365.29" x2="309.40" y2="365.29" stroke="#000" stroke-width="0.8"/>
<line x1="307.90" y1="363.64" x2="309.40" y2="363.64" stroke="#000" stroke-width="0.8"/>
<line x1="307.90" y1="362.24" x2="309.40" y2="362.24" stroke="#000" stroke-width="0.8"/>
<line x1="307.90" y1="361.03" x2="309.40" y2="361.03" stroke="#000" stroke-width="0.8"/>
<line x1="307.90" y1="359.96" x2="309.40" y2="359.96" stroke="#000" stroke-width="0.8"/>
<line x1="307.90" y1="353.79" x2="309.40" y2="353.79" stroke="#000" stroke-width="0.8"/>
<line x1="307.90" y1="350.75" x2="309.40" y2="350.75" stroke="#000" stroke-width="0.8"/>
<line x1="307.90" y1="348.58" x2="309.40" y2="348.58" stroke="#000" stroke-width="0.8"/>
<line x1="307.90" y1="346.91" x2="309.40" y2="346.91" stroke="#000" stroke-width="0.8"/>
<line x1="307.90" y1="345.54" x2="309.40" y2="345.54" stroke="#000" stroke-width="0.8"/>
<line x1="307.90" y1="344.38" x2="309.40" y2="344.38" stroke="#000" stroke-width="0.8"/>
<line x1="307.90" y1="343.38" x2="309.40" y2="343.38" stroke="#000" stroke-width="0.8"/>
<line x1="307.90" y1="342.49" x2="309.40" y2="342.49" stroke="#000" stroke-width="0.8"/>
<line x1="307.90" y1="389.12" x2="309.40" y2="389.12" stroke="#000" stroke-width="0.8"/>
<line x1="307.90" y1="395.48" x2="309.40" y2="395.48" stroke="#000" stroke-width="0.8"/>
<line x1="307.90" y1="386.05" x2="309.40" y2="386.05" stroke="#000" stroke-width="0.8"/>
<line x1="307.90" y1="398.75" x2="309.40" y2="398.75" stroke="#000" stroke-width="0.8"/>
<line x1="307.90" y1="382.97" x2="309.40" y2="382.97" stroke="#000" stroke-width="0.8"/>
<line x1="307.90" y1="402.02" x2="309.40" y2="402.02" stroke="#000" stroke-width="0.8"/>
<line x1="306.80" y1="341.70" x2="309.40" y2="341.70" stroke="#000" stroke-width="0.8"/>
<line x1="306.80" y1="359.00" x2="309.40" y2="359.00" stroke="#000" stroke-width="0.8"/>
<line x1="306.80" y1="379.90" x2="309.40" y2="379.90" stroke="#000" stroke-width="0.8"/>
<line x1="306.80" y1="392.20" x2="309.40" y2="392.20" stroke="#000" stroke-width="0.8"/>
<line x1="306.80" y1="405.30" x2="309.40" y2="405.30" stroke="#000" stroke-width="0.8"/>
<line x1="346.02" y1="409.30" x2="346.02" y2="410.80" stroke="#000" stroke-width="0.8"/>
<line x1="349.54" y1="409.30" x2="349.54" y2="410.80" stroke="#000" stroke-width="0.8"/>
<line x1="352.04" y1="409.30" x2="352.04" y2="410.80" stroke="#000" stroke-width="0.8"/>
<line x1="353.98" y1="409.30" x2="353.98" y2="410.80" stroke="#000" stroke-width="0.8"/>
<line x1="355.56" y1="409.30" x2="355.56" y2="410.80" stroke="#000" stroke-width="0.8"/>
<line x1="356.90" y1="409.30" x2="356.90" y2="410.80" stroke="#000" stroke-width="0.8"/>
<line x1="358.06" y1="409.30" x2="358.06" y2="410.80" stroke="#000" stroke-width="0.8"/>
<line x1="359.08" y1="409.30" x2="359.08" y2="410.80" stroke="#000" stroke-width="0.8"/>
<line x1="365.72" y1="409.30" x2="365.72" y2="410.80" stroke="#000" stroke-width="0.8"/>
<line x1="369.07" y1="409.30" x2="369.07" y2="410.80" stroke="#000" stroke-width="0.8"/>
<line x1="371.44" y1="409.30" x2="371.44" y2="410.80" stroke="#000" stroke-width="0.8"/>
<line x1="373.28" y1="409.30" x2="373.28" y2="410.80" stroke="#000" stroke-width="0.8"/>
<line x1="374.78" y1="409.30" x2="374.78" y2="410.80" stroke="#000" stroke-width="0.8"/>
<line x1="376.06" y1="409.30" x2="376.06" y2="410.80" stroke="#000" stroke-width="0.8"/>
<line x1="377.16" y1="409.30" x2="377.16" y2="410.80" stroke="#000" stroke-width="0.8"/>
<line x1="378.13" y1="409.30" x2="378.13" y2="410.80" stroke="#000" stroke-width="0.8"/>
<line x1="330.25" y1="409.30" x2="330.25" y2="410.80" stroke="#000" stroke-width="0.8"/>
<line x1="324.12" y1="409.30" x2="324.12" y2="410.80" stroke="#000" stroke-width="0.8"/>
<line x1="333.50" y1="409.30" x2="333.50" y2="410.80" stroke="#000" stroke-width="0.8"/>
<line x1="321.25" y1="409.30" x2="321.25" y2="410.80" stroke="#000" stroke-width="0.8"/>
<line x1="336.75" y1="409.30" x2="336.75" y2="410.80" stroke="#000" stroke-width="0.8"/>
<line x1="318.38" y1="409.30" x2="318.38" y2="410.80" stroke="#000" stroke-width="0.8"/>
<line x1="315.50" y1="409.30" x2="315.50" y2="411.90" stroke="#000" stroke-width="0.8"/>
<line x1="327.00" y1="409.30" x2="327.00" y2="411.90" stroke="#000" stroke-width="0.8"/>
<line x1="340.00" y1="409.30" x2="340.00" y2="411.90" stroke="#000" stroke-width="0.8"/>
<line x1="360.00" y1="409.30" x2="360.00" y2="411.90" stroke="#000" stroke-width="0.8"/>
<line x1="379.00" y1="409.30" x2="379.00" y2="411.90" stroke="#000" stroke-width="0.8"/>
<rect x="306.20" y="390.90" width="3.20" height="2.60" fill="#000"/>
<rect x="325.50" y="409.30" width="3.00" height="2.60" fill="#000"/>
<rect x="309.40" y="333.50" width="76.00" height="75.80" fill="none" stroke="#000" stroke-width="1.3"/>
<text x="279.40" y="371.60" font-size="9.4" text-anchor="middle" textLength="45.50" lengthAdjust="spacingAndGlyphs" transform="rotate(-90 279.40 371.60) translate(279.40 371.60) scale(1 1.18) translate(-279.40 -371.60)">Aqua amine</text>
<text x="315.00" y="327.40" font-size="10.0" textLength="65.30" lengthAdjust="spacingAndGlyphs" transform="translate(315.00 327.40) scale(1 1.18) translate(-315.00 -327.40)">+ CD94<tspan dy="-3.3" font-size="5.5">-</tspan><tspan dy="3.3"> iNKT</tspan></text>
<text x="312.00" y="344.60" font-size="8.2" textLength="15.50" lengthAdjust="spacingAndGlyphs" transform="translate(312.00 344.60) scale(1 1.18) translate(-312.00 -344.60)">2.35</text>
<text x="358.80" y="344.60" font-size="8.2" textLength="15.00" lengthAdjust="spacingAndGlyphs" transform="translate(358.80 344.60) scale(1 1.18) translate(-358.80 -344.60)">0.71</text>
<text x="311.50" y="402.30" font-size="8.2" textLength="15.50" lengthAdjust="spacingAndGlyphs" transform="translate(311.50 402.30) scale(1 1.18) translate(-311.50 -402.30)">93.5</text>
<text x="358.80" y="402.30" font-size="8.2" textLength="15.50" lengthAdjust="spacingAndGlyphs" transform="translate(358.80 402.30) scale(1 1.18) translate(-358.80 -402.30)">3.44</text>
<text x="302.40" y="345.90" font-size="8.2" text-anchor="end" transform="translate(302.40 345.90) scale(1 1.18) translate(-302.40 -345.90)">10<tspan dy="-3" font-size="5">5</tspan></text>
<text x="302.40" y="363.20" font-size="8.2" text-anchor="end" transform="translate(302.40 363.20) scale(1 1.18) translate(-302.40 -363.20)">10<tspan dy="-3" font-size="5">4</tspan></text>
<text x="302.40" y="384.10" font-size="8.2" text-anchor="end" transform="translate(302.40 384.10) scale(1 1.18) translate(-302.40 -384.10)">10<tspan dy="-3" font-size="5">3</tspan></text>
<text x="301.20" y="395.40" font-size="8.2" text-anchor="end" transform="translate(301.20 395.40) scale(1 1.18) translate(-301.20 -395.40)">0</text>
<text x="302.40" y="409.50" font-size="8.2" text-anchor="end" transform="translate(302.40 409.50) scale(1 1.18) translate(-302.40 -409.50)">-10<tspan dy="-3" font-size="5">3</tspan></text>
<text x="315.00" y="426.90" font-size="8.2" text-anchor="middle" transform="translate(315.00 426.90) scale(1 1.18) translate(-315.00 -426.90)">-10<tspan dy="-3" font-size="5">3</tspan></text>
<text x="327.00" y="426.90" font-size="8.2" text-anchor="middle" transform="translate(327.00 426.90) scale(1 1.18) translate(-327.00 -426.90)">0</text>
<text x="339.50" y="426.90" font-size="8.2" text-anchor="middle" transform="translate(339.50 426.90) scale(1 1.18) translate(-339.50 -426.90)">10<tspan dy="-3" font-size="5">3</tspan></text>
<text x="359.50" y="426.90" font-size="8.2" text-anchor="middle" transform="translate(359.50 426.90) scale(1 1.18) translate(-359.50 -426.90)">10<tspan dy="-3" font-size="5">4</tspan></text>
<text x="378.70" y="426.90" font-size="8.2" text-anchor="middle" transform="translate(378.70 426.90) scale(1 1.18) translate(-378.70 -426.90)">10<tspan dy="-3" font-size="5">5</tspan></text>
<text x="318.40" y="441.90" font-size="9.6" textLength="59.00" lengthAdjust="spacingAndGlyphs" transform="translate(318.40 441.90) scale(1 1.18) translate(-318.40 -441.90)">APC - Annexin V</text>
<line x1="448.40" y1="323.20" x2="448.40" y2="410.40" stroke="#000" stroke-width="1.3"/>
<line x1="447.80" y1="409.80" x2="504.40" y2="409.80" stroke="#000" stroke-width="1.3"/>
<line x1="445.40" y1="409.80" x2="448.40" y2="409.80" stroke="#000" stroke-width="1.1"/>
<text x="440.80" y="412.80" font-size="8.8" text-anchor="end" transform="translate(440.80 412.80) scale(1 1.18) translate(-440.80 -412.80)">0</text>
<line x1="445.40" y1="392.96" x2="448.40" y2="392.96" stroke="#000" stroke-width="1.1"/>
<text x="440.80" y="395.96" font-size="8.8" text-anchor="end" transform="translate(440.80 395.96) scale(1 1.18) translate(-440.80 -395.96)">10</text>
<line x1="445.40" y1="376.12" x2="448.40" y2="376.12" stroke="#000" stroke-width="1.1"/>
<text x="440.80" y="379.12" font-size="8.8" text-anchor="end" transform="translate(440.80 379.12) scale(1 1.18) translate(-440.80 -379.12)">20</text>
<line x1="445.40" y1="359.28" x2="448.40" y2="359.28" stroke="#000" stroke-width="1.1"/>
<text x="440.80" y="362.28" font-size="8.8" text-anchor="end" transform="translate(440.80 362.28) scale(1 1.18) translate(-440.80 -362.28)">30</text>
<line x1="445.40" y1="342.44" x2="448.40" y2="342.44" stroke="#000" stroke-width="1.1"/>
<text x="440.80" y="345.44" font-size="8.8" text-anchor="end" transform="translate(440.80 345.44) scale(1 1.18) translate(-440.80 -345.44)">40</text>
<line x1="445.40" y1="325.60" x2="448.40" y2="325.60" stroke="#000" stroke-width="1.1"/>
<text x="440.80" y="328.60" font-size="8.8" text-anchor="end" transform="translate(440.80 328.60) scale(1 1.18) translate(-440.80 -328.60)">50</text>
<line x1="464.20" y1="409.80" x2="464.20" y2="413.00" stroke="#000" stroke-width="1"/>
<line x1="488.30" y1="409.80" x2="488.30" y2="413.00" stroke="#000" stroke-width="1"/>
<path d="M464.2 339.7L488.3 378.2M464.2 354.8L488.3 378.6M464.2 366.6L488.3 384.9M464.2 381.7L488.3 378.4M464.2 382.8L488.3 401.2M464.2 393.8L488.3 409.5M464.2 397.9L488.3 396.2M464.2 400.0L488.3 409.5" stroke="#b5123e" stroke-width="0.9" fill="none"/>
<g fill="#b5123e"><circle cx="464.2" cy="339.7" r="1.2"/><circle cx="464.2" cy="354.8" r="1.2"/><circle cx="464.2" cy="366.6" r="1.2"/><circle cx="464.2" cy="381.7" r="1.2"/><circle cx="464.2" cy="382.8" r="1.2"/><circle cx="464.2" cy="393.8" r="1.2"/><circle cx="464.2" cy="397.9" r="1.2"/><circle cx="464.2" cy="400.0" r="1.2"/><circle cx="488.3" cy="378.2" r="1.2"/><circle cx="488.3" cy="378.6" r="1.2"/><circle cx="488.3" cy="384.9" r="1.2"/><circle cx="488.3" cy="378.4" r="1.2"/><circle cx="488.3" cy="401.2" r="1.2"/><circle cx="488.3" cy="409.5" r="1.2"/><circle cx="488.3" cy="396.2" r="1.2"/><circle cx="488.3" cy="409.5" r="1.2"/><circle cx="488.3" cy="381.3" r="1.2"/></g>
<line x1="464.20" y1="329.00" x2="488.80" y2="329.00" stroke="#000" stroke-width="1.1"/>
<polygon points="476.60,323.00 477.10,324.21 478.41,324.31 477.41,325.16 477.72,326.44 476.60,325.75 475.48,326.44 475.79,325.16 474.79,324.31 476.10,324.21" fill="#222"/>
<text x="413.00" y="366.00" font-size="9.4" text-anchor="middle" textLength="102.00" lengthAdjust="spacingAndGlyphs" transform="rotate(-90 413.00 366.00) translate(413.00 366.00) scale(1 1.18) translate(-413.00 -366.00)">Frequency dead jurkat cells</text>
<text x="424.60" y="365.50" font-size="9.4" text-anchor="middle" textLength="91.00" lengthAdjust="spacingAndGlyphs" transform="rotate(-90 424.60 365.50) translate(424.60 365.50) scale(1 1.18) translate(-424.60 -365.50)">after iNKT co-culture (%)</text>
<text x="454.60" y="424.20" font-size="9.0" textLength="19.50" lengthAdjust="spacingAndGlyphs" transform="translate(454.60 424.20) scale(1 1.18) translate(-454.60 -424.20)">iNKT</text>
<text x="475.60" y="424.20" font-size="9.0" textLength="25.00" lengthAdjust="spacingAndGlyphs" transform="translate(475.60 424.20) scale(1 1.18) translate(-475.60 -424.20)">CD94<tspan dy="-3.2" font-size="5">-</tspan></text>
<g filter="url(#pb)"><path fill="#282896" d="M118.2 507.9h1.35v1.35h-1.35zM121.0 508.0h1.35v1.35h-1.35zM123.2 508.1h1.35v1.35h-1.35zM123.9 508.0h1.35v1.35h-1.35zM120.0 509.0h1.35v1.35h-1.35zM120.9 509.2h1.35v1.35h-1.35zM123.8 508.9h1.35v1.35h-1.35zM118.0 509.8h1.35v1.35h-1.35zM123.0 510.0h1.35v1.35h-1.35zM117.0 510.9h1.35v1.35h-1.35zM118.0 511.2h1.35v1.35h-1.35zM118.9 510.9h1.35v1.35h-1.35zM124.0 511.0h1.35v1.35h-1.35zM115.8 511.8h1.35v1.35h-1.35zM116.8 511.8h1.35v1.35h-1.35zM118.2 511.8h1.35v1.35h-1.35zM119.1 512.0h1.35v1.35h-1.35zM121.9 511.9h1.35v1.35h-1.35zM124.0 512.2h1.35v1.35h-1.35zM115.8 513.0h1.35v1.35h-1.35zM112.9 513.9h1.35v1.35h-1.35zM115.0 513.8h1.35v1.35h-1.35zM119.2 514.0h1.35v1.35h-1.35zM121.9 513.8h1.35v1.35h-1.35zM115.0 515.2h1.35v1.35h-1.35zM116.0 515.2h1.35v1.35h-1.35zM123.9 515.1h1.35v1.35h-1.35zM114.0 516.2h1.35v1.35h-1.35zM115.1 515.9h1.35v1.35h-1.35zM121.2 516.1h1.35v1.35h-1.35zM123.1 515.8h1.35v1.35h-1.35zM124.1 515.8h1.35v1.35h-1.35zM112.0 517.0h1.35v1.35h-1.35zM113.2 516.9h1.35v1.35h-1.35zM114.0 516.8h1.35v1.35h-1.35zM120.2 517.0h1.35v1.35h-1.35zM112.2 517.9h1.35v1.35h-1.35zM115.8 518.2h1.35v1.35h-1.35zM119.1 517.8h1.35v1.35h-1.35zM122.9 517.9h1.35v1.35h-1.35zM110.9 518.9h1.35v1.35h-1.35zM113.1 518.9h1.35v1.35h-1.35zM115.2 518.9h1.35v1.35h-1.35zM119.1 518.9h1.35v1.35h-1.35zM120.1 519.0h1.35v1.35h-1.35zM121.2 519.2h1.35v1.35h-1.35zM116.0 519.9h1.35v1.35h-1.35zM118.9 519.8h1.35v1.35h-1.35zM121.8 520.1h1.35v1.35h-1.35zM110.8 521.2h1.35v1.35h-1.35zM111.9 521.1h1.35v1.35h-1.35zM112.8 520.9h1.35v1.35h-1.35zM115.0 521.2h1.35v1.35h-1.35zM116.9 520.9h1.35v1.35h-1.35zM117.9 520.8h1.35v1.35h-1.35zM119.2 520.8h1.35v1.35h-1.35zM111.0 522.0h1.35v1.35h-1.35zM111.8 521.8h1.35v1.35h-1.35zM114.9 522.0h1.35v1.35h-1.35zM118.1 521.8h1.35v1.35h-1.35zM119.2 522.2h1.35v1.35h-1.35zM114.8 523.0h1.35v1.35h-1.35zM116.0 523.2h1.35v1.35h-1.35zM110.9 524.1h1.35v1.35h-1.35zM117.2 524.0h1.35v1.35h-1.35zM118.2 523.9h1.35v1.35h-1.35zM113.9 525.1h1.35v1.35h-1.35zM116.2 524.9h1.35v1.35h-1.35zM118.1 525.1h1.35v1.35h-1.35zM114.1 526.2h1.35v1.35h-1.35zM114.9 526.1h1.35v1.35h-1.35zM117.2 526.2h1.35v1.35h-1.35zM110.2 526.9h1.35v1.35h-1.35zM115.2 526.8h1.35v1.35h-1.35zM116.2 526.8h1.35v1.35h-1.35zM103.2 527.8h1.35v1.35h-1.35zM106.9 528.1h1.35v1.35h-1.35zM108.0 528.0h1.35v1.35h-1.35zM108.9 527.8h1.35v1.35h-1.35zM109.9 528.2h1.35v1.35h-1.35zM114.8 528.2h1.35v1.35h-1.35zM107.9 529.2h1.35v1.35h-1.35zM110.2 529.1h1.35v1.35h-1.35zM111.0 529.0h1.35v1.35h-1.35zM113.0 529.1h1.35v1.35h-1.35zM114.0 529.0h1.35v1.35h-1.35zM114.9 529.0h1.35v1.35h-1.35zM118.1 529.2h1.35v1.35h-1.35zM119.9 528.9h1.35v1.35h-1.35zM107.2 530.1h1.35v1.35h-1.35zM108.8 530.2h1.35v1.35h-1.35zM111.0 530.0h1.35v1.35h-1.35zM111.8 530.0h1.35v1.35h-1.35zM115.0 530.2h1.35v1.35h-1.35zM116.2 529.8h1.35v1.35h-1.35zM105.9 531.1h1.35v1.35h-1.35zM107.1 531.1h1.35v1.35h-1.35zM108.9 531.2h1.35v1.35h-1.35zM109.9 531.2h1.35v1.35h-1.35zM114.2 531.1h1.35v1.35h-1.35zM116.8 531.0h1.35v1.35h-1.35zM107.2 532.1h1.35v1.35h-1.35zM112.0 532.0h1.35v1.35h-1.35zM114.0 532.0h1.35v1.35h-1.35zM116.2 532.2h1.35v1.35h-1.35zM107.2 533.1h1.35v1.35h-1.35zM105.0 533.9h1.35v1.35h-1.35zM112.8 534.2h1.35v1.35h-1.35zM114.0 533.8h1.35v1.35h-1.35zM114.9 533.8h1.35v1.35h-1.35zM104.8 535.1h1.35v1.35h-1.35zM108.9 534.9h1.35v1.35h-1.35zM111.8 535.2h1.35v1.35h-1.35zM103.1 536.1h1.35v1.35h-1.35zM104.0 536.2h1.35v1.35h-1.35zM106.9 536.2h1.35v1.35h-1.35zM112.9 536.0h1.35v1.35h-1.35zM115.1 535.8h1.35v1.35h-1.35zM105.0 536.9h1.35v1.35h-1.35zM105.9 536.9h1.35v1.35h-1.35zM107.0 537.1h1.35v1.35h-1.35zM111.9 536.9h1.35v1.35h-1.35zM114.9 537.1h1.35v1.35h-1.35zM122.2 537.1h1.35v1.35h-1.35zM100.8 538.2h1.35v1.35h-1.35zM103.1 537.8h1.35v1.35h-1.35zM103.8 537.8h1.35v1.35h-1.35zM105.2 538.0h1.35v1.35h-1.35zM105.8 538.0h1.35v1.35h-1.35zM109.0 537.8h1.35v1.35h-1.35zM111.8 537.9h1.35v1.35h-1.35zM117.8 538.1h1.35v1.35h-1.35zM101.9 539.2h1.35v1.35h-1.35zM103.0 538.8h1.35v1.35h-1.35zM105.1 539.0h1.35v1.35h-1.35zM107.0 538.8h1.35v1.35h-1.35zM108.0 539.0h1.35v1.35h-1.35zM112.2 538.9h1.35v1.35h-1.35zM101.0 540.0h1.35v1.35h-1.35zM101.9 539.8h1.35v1.35h-1.35zM103.8 539.9h1.35v1.35h-1.35zM104.9 539.9h1.35v1.35h-1.35zM107.0 540.1h1.35v1.35h-1.35zM109.9 539.9h1.35v1.35h-1.35zM111.1 539.9h1.35v1.35h-1.35zM101.9 541.2h1.35v1.35h-1.35zM104.1 541.1h1.35v1.35h-1.35zM110.0 541.2h1.35v1.35h-1.35zM111.0 541.1h1.35v1.35h-1.35zM68.8 542.0h1.35v1.35h-1.35zM73.9 541.9h1.35v1.35h-1.35zM75.8 542.2h1.35v1.35h-1.35zM80.1 542.2h1.35v1.35h-1.35zM84.9 542.0h1.35v1.35h-1.35zM86.0 542.0h1.35v1.35h-1.35zM90.1 541.9h1.35v1.35h-1.35zM92.0 541.8h1.35v1.35h-1.35zM95.1 542.1h1.35v1.35h-1.35zM100.2 541.8h1.35v1.35h-1.35zM100.8 541.8h1.35v1.35h-1.35zM104.8 541.8h1.35v1.35h-1.35zM106.2 541.8h1.35v1.35h-1.35zM111.2 542.2h1.35v1.35h-1.35zM112.9 541.8h1.35v1.35h-1.35zM68.1 543.0h1.35v1.35h-1.35zM69.1 542.8h1.35v1.35h-1.35zM71.2 543.0h1.35v1.35h-1.35zM74.0 542.8h1.35v1.35h-1.35zM79.0 543.2h1.35v1.35h-1.35zM83.2 543.2h1.35v1.35h-1.35zM89.0 543.1h1.35v1.35h-1.35zM91.1 543.1h1.35v1.35h-1.35zM95.1 543.2h1.35v1.35h-1.35zM96.2 543.2h1.35v1.35h-1.35zM97.9 543.0h1.35v1.35h-1.35zM100.1 542.9h1.35v1.35h-1.35zM101.2 543.0h1.35v1.35h-1.35zM103.0 543.2h1.35v1.35h-1.35zM106.9 543.0h1.35v1.35h-1.35zM112.2 542.9h1.35v1.35h-1.35zM68.1 543.8h1.35v1.35h-1.35zM69.9 543.8h1.35v1.35h-1.35zM70.9 544.2h1.35v1.35h-1.35zM71.8 544.0h1.35v1.35h-1.35zM73.1 543.9h1.35v1.35h-1.35zM74.0 544.0h1.35v1.35h-1.35zM79.0 544.0h1.35v1.35h-1.35zM79.8 543.8h1.35v1.35h-1.35zM80.8 544.1h1.35v1.35h-1.35zM82.1 543.9h1.35v1.35h-1.35zM84.1 543.9h1.35v1.35h-1.35zM85.1 544.1h1.35v1.35h-1.35zM86.0 543.9h1.35v1.35h-1.35zM86.9 544.0h1.35v1.35h-1.35zM88.2 543.9h1.35v1.35h-1.35zM88.8 543.8h1.35v1.35h-1.35zM91.2 543.9h1.35v1.35h-1.35zM96.1 544.2h1.35v1.35h-1.35zM97.8 543.8h1.35v1.35h-1.35zM100.8 544.0h1.35v1.35h-1.35zM102.1 544.1h1.35v1.35h-1.35zM108.0 544.2h1.35v1.35h-1.35zM109.1 544.1h1.35v1.35h-1.35zM111.0 544.2h1.35v1.35h-1.35zM111.9 543.9h1.35v1.35h-1.35zM68.1 544.9h1.35v1.35h-1.35zM68.8 545.2h1.35v1.35h-1.35zM69.9 545.0h1.35v1.35h-1.35zM73.2 544.9h1.35v1.35h-1.35zM73.8 545.1h1.35v1.35h-1.35zM78.2 545.1h1.35v1.35h-1.35zM79.1 545.2h1.35v1.35h-1.35zM81.1 545.1h1.35v1.35h-1.35zM86.0 544.9h1.35v1.35h-1.35zM88.2 545.2h1.35v1.35h-1.35zM89.2 545.0h1.35v1.35h-1.35zM91.1 545.0h1.35v1.35h-1.35zM94.2 544.9h1.35v1.35h-1.35zM95.9 545.1h1.35v1.35h-1.35zM99.8 544.9h1.35v1.35h-1.35zM103.2 545.0h1.35v1.35h-1.35zM107.8 545.1h1.35v1.35h-1.35zM109.2 545.1h1.35v1.35h-1.35zM68.8 546.1h1.35v1.35h-1.35zM69.8 546.0h1.35v1.35h-1.35zM71.0 545.8h1.35v1.35h-1.35zM73.2 546.2h1.35v1.35h-1.35zM78.2 545.9h1.35v1.35h-1.35zM82.1 546.2h1.35v1.35h-1.35zM83.8 546.1h1.35v1.35h-1.35zM94.8 546.0h1.35v1.35h-1.35zM95.8 546.2h1.35v1.35h-1.35zM99.0 545.8h1.35v1.35h-1.35zM101.2 545.9h1.35v1.35h-1.35zM105.1 546.2h1.35v1.35h-1.35zM63.0 546.8h1.35v1.35h-1.35zM66.0 547.2h1.35v1.35h-1.35zM67.1 547.0h1.35v1.35h-1.35zM69.2 546.8h1.35v1.35h-1.35zM80.2 547.2h1.35v1.35h-1.35zM93.8 547.2h1.35v1.35h-1.35zM99.2 546.8h1.35v1.35h-1.35zM105.0 546.9h1.35v1.35h-1.35zM107.0 547.0h1.35v1.35h-1.35zM58.1 547.9h1.35v1.35h-1.35zM65.8 547.8h1.35v1.35h-1.35zM68.1 548.2h1.35v1.35h-1.35zM76.2 548.0h1.35v1.35h-1.35zM94.2 548.0h1.35v1.35h-1.35zM97.8 548.2h1.35v1.35h-1.35zM100.9 548.0h1.35v1.35h-1.35zM102.9 548.2h1.35v1.35h-1.35zM104.8 548.0h1.35v1.35h-1.35zM106.2 548.2h1.35v1.35h-1.35zM61.0 549.2h1.35v1.35h-1.35zM65.0 549.0h1.35v1.35h-1.35zM66.1 549.0h1.35v1.35h-1.35zM66.9 548.9h1.35v1.35h-1.35zM81.9 549.2h1.35v1.35h-1.35zM86.1 548.9h1.35v1.35h-1.35zM94.1 549.2h1.35v1.35h-1.35zM100.1 549.0h1.35v1.35h-1.35zM100.9 548.9h1.35v1.35h-1.35zM101.8 548.8h1.35v1.35h-1.35zM63.8 549.9h1.35v1.35h-1.35zM66.9 550.1h1.35v1.35h-1.35zM68.0 550.1h1.35v1.35h-1.35zM69.1 550.2h1.35v1.35h-1.35zM72.8 550.0h1.35v1.35h-1.35zM84.9 550.0h1.35v1.35h-1.35zM88.9 549.9h1.35v1.35h-1.35zM90.0 550.2h1.35v1.35h-1.35zM92.1 550.2h1.35v1.35h-1.35zM93.1 549.9h1.35v1.35h-1.35zM95.2 550.0h1.35v1.35h-1.35zM98.8 550.0h1.35v1.35h-1.35zM101.9 549.9h1.35v1.35h-1.35zM104.2 549.9h1.35v1.35h-1.35zM67.2 550.9h1.35v1.35h-1.35zM68.1 550.8h1.35v1.35h-1.35zM68.8 551.1h1.35v1.35h-1.35zM72.1 551.0h1.35v1.35h-1.35zM76.9 551.1h1.35v1.35h-1.35zM78.1 551.0h1.35v1.35h-1.35zM78.9 550.9h1.35v1.35h-1.35zM81.1 551.0h1.35v1.35h-1.35zM81.9 551.1h1.35v1.35h-1.35zM83.2 550.9h1.35v1.35h-1.35zM84.0 551.2h1.35v1.35h-1.35zM85.1 551.2h1.35v1.35h-1.35zM86.9 551.2h1.35v1.35h-1.35zM64.0 551.8h1.35v1.35h-1.35zM67.2 552.1h1.35v1.35h-1.35zM70.1 552.0h1.35v1.35h-1.35zM74.1 552.2h1.35v1.35h-1.35zM74.9 551.8h1.35v1.35h-1.35zM76.2 552.2h1.35v1.35h-1.35zM77.1 552.0h1.35v1.35h-1.35zM77.9 552.1h1.35v1.35h-1.35zM84.1 551.9h1.35v1.35h-1.35zM85.1 551.9h1.35v1.35h-1.35zM86.1 552.2h1.35v1.35h-1.35zM88.9 551.9h1.35v1.35h-1.35zM91.2 552.0h1.35v1.35h-1.35zM92.8 551.9h1.35v1.35h-1.35zM94.1 551.8h1.35v1.35h-1.35zM68.1 553.0h1.35v1.35h-1.35zM73.2 553.1h1.35v1.35h-1.35zM73.8 553.2h1.35v1.35h-1.35zM75.1 553.1h1.35v1.35h-1.35zM82.1 552.8h1.35v1.35h-1.35zM101.8 553.2h1.35v1.35h-1.35zM65.9 554.0h1.35v1.35h-1.35zM74.8 554.2h1.35v1.35h-1.35zM92.2 556.9h1.35v1.35h-1.35z"/><path fill="#2840b0" d="M124 510h1v1h-1zM118 514h1v1h-1zM118 516h1v1h-1zM119 517h1v1h-1zM114 528h1v1h-1zM111 531h1v1h-1zM111 532h1v1h-1zM106 539h1v1h-1zM105 544h1v1h-1zM72 545h1v1h-1zM104 545h1v1h-1zM86 546h1v1h-1zM98 546h1v1h-1zM104 546h1v1h-1zM97 547h1v1h-1zM96 548h1v1h-1zM76 550h1v1h-1z"/><path fill="#2840b8" d="M120 511h1v1h-1zM121 514h1v1h-1zM68 546h1v1h-1zM95 548h1v1h-1zM88 549h1v1h-1zM91 550h1v1h-1z"/><path fill="#58b888" d="M121 511h1v1h-1z"/><path fill="#3058c0" d="M122 511h1v1h-1zM124 513h1v1h-1zM110 536h1v1h-1zM93 544h1v1h-1zM76 547h1v1h-1z"/><path fill="#3880c8" d="M120 512h1v1h-1zM120 515h1v1h-1zM117 519h1v1h-1zM111 534h1v1h-1zM109 536h1v1h-1zM80 545h1v1h-1zM99 545h1v1h-1zM74 546h1v1h-1zM89 546h1v1h-1z"/><path fill="#40a0d8" d="M121 512h1v1h-1zM118 515h1v1h-1zM109 537h1v1h-1zM95 545h1v1h-1zM80 546h1v1h-1zM75 548h1v1h-1zM95 549h1v1h-1z"/><path fill="#282898" d="M123 512h1v1h-1zM122 513h1v1h-1zM117 516h1v1h-1zM116 517h1v1h-1zM114 520h2v1h-2zM113 522h1v1h-1zM116 524h1v1h-1zM113 525h1v1h-1zM110 526h1v1h-1zM113 528h1v1h-1zM113 533h1v1h-1zM110 538h1v1h-1zM76 544h1v1h-1zM78 544h1v1h-1zM100 544h1v1h-1zM85 545h1v1h-1zM94 546h1v1h-1zM84 548h1v1h-1zM73 549h1v1h-1zM89 549h1v1h-1zM78 550h1v1h-1z"/><path fill="#3050b8" d="M118 513h1v1h-1zM110 533h1v1h-1zM110 537h1v1h-1zM93 545h1v1h-1z"/><path fill="#2838a8" d="M119 513h1v1h-1zM117 514h1v1h-1zM122 516h1v1h-1zM114 518h2v1h-2zM116 522h1v1h-1zM113 524h1v1h-1zM115 524h1v1h-1zM110 534h1v1h-1zM108 537h1v1h-1zM76 545h1v1h-1zM83 545h1v1h-1zM72 546h1v1h-1zM77 546h1v1h-1zM91 546h1v1h-1zM70 548h1v1h-1zM100 548h1v1h-1zM75 549h1v1h-1zM93 549h1v1h-1zM96 549h1v1h-1zM81 550h1v1h-1zM83 550h1v1h-1zM87 550h2v1h-2z"/><path fill="#2830a0" d="M120 513h1v1h-1zM117 517h1v1h-1zM121 517h1v1h-1zM120 518h1v1h-1zM118 520h1v1h-1zM112 525h1v1h-1zM112 526h1v1h-1zM114 527h1v1h-1zM111 533h1v1h-1zM108 534h1v1h-1zM108 538h1v1h-1zM109 539h1v1h-1zM107 541h1v1h-1zM108 542h1v1h-1zM104 543h1v1h-1zM95 544h1v1h-1zM99 544h1v1h-1zM84 545h1v1h-1zM75 546h2v1h-2zM88 546h1v1h-1zM69 548h1v1h-1zM86 548h1v1h-1zM68 549h1v1h-1zM81 549h1v1h-1zM86 550h1v1h-1zM96 550h1v1h-1zM88 551h1v1h-1z"/><path fill="#d0d838" d="M121 513h1v1h-1z"/><path fill="#3060c0" d="M123 513h1v1h-1zM114 521h1v1h-1zM87 546h1v1h-1zM103 547h1v1h-1zM77 548h1v1h-1z"/><path fill="#3068c0" d="M120 514h1v1h-1zM113 526h1v1h-1zM111 535h1v1h-1zM111 536h1v1h-1zM90 546h1v1h-1zM90 548h1v1h-1zM71 550h1v1h-1z"/><path fill="#40a8d8" d="M117 515h1v1h-1zM93 547h1v1h-1z"/><path fill="#68c048" d="M122 515h1v1h-1zM104 544h1v1h-1z"/><path fill="#2848b8" d="M120 516h1v1h-1zM113 531h1v1h-1zM68 547h1v1h-1z"/><path fill="#282890" d="M115 517h1v1h-1zM112 531h1v1h-1zM113 532h1v1h-1zM108 535h1v1h-1zM108 541h1v1h-1zM102 542h1v1h-1zM77 544h1v1h-1zM75 550h1v1h-1zM86 551h1v1h-1z"/><path fill="#68c050" d="M118 517h1v1h-1zM110 530h1v1h-1zM79 549h1v1h-1z"/><path fill="#48a8b8" d="M118 518h1v1h-1zM84 549h1v1h-1z"/><path fill="#3878c8" d="M116 519h1v1h-1zM112 523h1v1h-1zM113 530h1v1h-1zM108 540h1v1h-1zM91 549h1v1h-1z"/><path fill="#48a8c0" d="M118 519h1v1h-1zM74 549h1v1h-1zM87 549h1v1h-1zM98 549h1v1h-1z"/><path fill="#3870c8" d="M114 522h1v1h-1zM98 547h1v1h-1z"/><path fill="#60b880" d="M112 524h1v1h-1z"/><path fill="#e89828" d="M114 524h1v1h-1z"/><path fill="#50b0a0" d="M115 525h1v1h-1zM113 527h1v1h-1zM83 547h1v1h-1zM92 548h1v1h-1z"/><path fill="#3070c8" d="M111 526h1v1h-1z"/><path fill="#68c058" d="M111 528h1v1h-1zM82 547h1v1h-1zM79 550h1v1h-1z"/><path fill="#50b0b0" d="M112 528h1v1h-1zM77 547h1v1h-1zM84 547h1v1h-1z"/><path fill="#2850b8" d="M109 532h1v1h-1zM89 548h1v1h-1z"/><path fill="#2838b0" d="M107 534h1v1h-1zM105 543h1v1h-1zM90 549h1v1h-1z"/><path fill="#58b090" d="M106 541h1v1h-1zM70 549h1v1h-1z"/><path fill="#3888d0" d="M104 542h1v1h-1zM88 547h1v1h-1zM78 548h1v1h-1z"/><path fill="#4098d8" d="M107 542h1v1h-1z"/><path fill="#50b0a8" d="M106 543h1v1h-1zM90 545h1v1h-1zM81 546h1v1h-1z"/><path fill="#2830a8" d="M97 544h1v1h-1zM102 546h1v1h-1zM97 550h1v1h-1z"/><path fill="#60b870" d="M103 544h1v1h-1z"/><path fill="#48a8c8" d="M106 544h1v1h-1zM89 547h1v1h-1z"/><path fill="#88c848" d="M82 545h1v1h-1zM103 546h1v1h-1zM76 549h1v1h-1z"/><path fill="#58b880" d="M87 545h1v1h-1zM97 546h1v1h-1z"/><path fill="#4090d0" d="M92 545h1v1h-1zM102 545h1v1h-1z"/><path fill="#60b878" d="M101 545h1v1h-1zM74 548h1v1h-1z"/><path fill="#3058b8" d="M105 545h1v1h-1zM80 548h1v1h-1zM97 548h1v1h-1z"/><path fill="#b8d038" d="M79 546h1v1h-1zM85 547h1v1h-1zM72 548h1v1h-1z"/><path fill="#60b868" d="M83 546h1v1h-1z"/><path fill="#e0b830" d="M85 546h1v1h-1zM79 547h1v1h-1zM87 548h1v1h-1z"/><path fill="#48a8d0" d="M92 546h1v1h-1z"/><path fill="#4098d0" d="M93 546h1v1h-1zM95 547h1v1h-1zM69 549h1v1h-1z"/><path fill="#3890d0" d="M100 546h1v1h-1z"/><path fill="#e0d030" d="M73 547h1v1h-1zM84 550h1v1h-1z"/><path fill="#e02018" d="M74 547h1v1h-1zM79 548h1v1h-1zM82 548h1v1h-1zM85 548h1v1h-1zM88 548h1v1h-1zM85 549h1v1h-1z"/><path fill="#68b860" d="M75 547h1v1h-1z"/><path fill="#e0c830" d="M78 547h1v1h-1z"/><path fill="#b0d040" d="M81 547h1v1h-1z"/><path fill="#e0d830" d="M87 547h1v1h-1z"/><path fill="#e8a028" d="M91 547h1v1h-1zM72 549h1v1h-1z"/><path fill="#60b860" d="M92 547h1v1h-1z"/><path fill="#98c840" d="M96 547h1v1h-1zM71 549h1v1h-1zM92 549h1v1h-1z"/><path fill="#c0d038" d="M100 547h1v1h-1z"/><path fill="#80c048" d="M71 548h1v1h-1z"/><path fill="#70c048" d="M83 548h1v1h-1z"/><path fill="#e8a828" d="M91 548h1v1h-1z"/><path fill="#58b098" d="M93 548h1v1h-1z"/><path fill="#c8d038" d="M78 549h1v1h-1z"/><path fill="#78c048" d="M80 549h1v1h-1z"/><path fill="#40a8d0" d="M83 549h1v1h-1z"/></g>
<ellipse cx="70" cy="548.5" rx="5" ry="2.6" fill="#f2ebe0" opacity="0.85" filter="url(#bl)"/>
<ellipse cx="77.50" cy="548.50" rx="1.60" ry="1.10" fill="#e2301f" opacity="1" filter="url(#bl)"/>
<line x1="80.50" y1="490.50" x2="80.50" y2="566.50" stroke="#555" stroke-width="0.85"/>
<line x1="49.50" y1="527.50" x2="125.80" y2="527.50" stroke="#555" stroke-width="0.85"/>
<line x1="48.00" y1="531.48" x2="49.50" y2="531.48" stroke="#000" stroke-width="0.8"/>
<line x1="48.00" y1="527.96" x2="49.50" y2="527.96" stroke="#000" stroke-width="0.8"/>
<line x1="48.00" y1="525.46" x2="49.50" y2="525.46" stroke="#000" stroke-width="0.8"/>
<line x1="48.00" y1="523.52" x2="49.50" y2="523.52" stroke="#000" stroke-width="0.8"/>
<line x1="48.00" y1="521.94" x2="49.50" y2="521.94" stroke="#000" stroke-width="0.8"/>
<line x1="48.00" y1="520.60" x2="49.50" y2="520.60" stroke="#000" stroke-width="0.8"/>
<line x1="48.00" y1="519.44" x2="49.50" y2="519.44" stroke="#000" stroke-width="0.8"/>
<line x1="48.00" y1="518.42" x2="49.50" y2="518.42" stroke="#000" stroke-width="0.8"/>
<line x1="48.00" y1="511.84" x2="49.50" y2="511.84" stroke="#000" stroke-width="0.8"/>
<line x1="48.00" y1="508.53" x2="49.50" y2="508.53" stroke="#000" stroke-width="0.8"/>
<line x1="48.00" y1="506.18" x2="49.50" y2="506.18" stroke="#000" stroke-width="0.8"/>
<line x1="48.00" y1="504.36" x2="49.50" y2="504.36" stroke="#000" stroke-width="0.8"/>
<line x1="48.00" y1="502.87" x2="49.50" y2="502.87" stroke="#000" stroke-width="0.8"/>
<line x1="48.00" y1="501.61" x2="49.50" y2="501.61" stroke="#000" stroke-width="0.8"/>
<line x1="48.00" y1="500.52" x2="49.50" y2="500.52" stroke="#000" stroke-width="0.8"/>
<line x1="48.00" y1="499.56" x2="49.50" y2="499.56" stroke="#000" stroke-width="0.8"/>
<line x1="48.00" y1="545.97" x2="49.50" y2="545.97" stroke="#000" stroke-width="0.8"/>
<line x1="48.00" y1="552.50" x2="49.50" y2="552.50" stroke="#000" stroke-width="0.8"/>
<line x1="48.00" y1="543.15" x2="49.50" y2="543.15" stroke="#000" stroke-width="0.8"/>
<line x1="48.00" y1="556.20" x2="49.50" y2="556.20" stroke="#000" stroke-width="0.8"/>
<line x1="48.00" y1="540.33" x2="49.50" y2="540.33" stroke="#000" stroke-width="0.8"/>
<line x1="48.00" y1="559.90" x2="49.50" y2="559.90" stroke="#000" stroke-width="0.8"/>
<line x1="46.90" y1="498.70" x2="49.50" y2="498.70" stroke="#000" stroke-width="0.8"/>
<line x1="46.90" y1="517.50" x2="49.50" y2="517.50" stroke="#000" stroke-width="0.8"/>
<line x1="46.90" y1="537.50" x2="49.50" y2="537.50" stroke="#000" stroke-width="0.8"/>
<line x1="46.90" y1="548.80" x2="49.50" y2="548.80" stroke="#000" stroke-width="0.8"/>
<line x1="46.90" y1="563.60" x2="49.50" y2="563.60" stroke="#000" stroke-width="0.8"/>
<line x1="85.02" y1="566.50" x2="85.02" y2="568.00" stroke="#000" stroke-width="0.8"/>
<line x1="88.54" y1="566.50" x2="88.54" y2="568.00" stroke="#000" stroke-width="0.8"/>
<line x1="91.04" y1="566.50" x2="91.04" y2="568.00" stroke="#000" stroke-width="0.8"/>
<line x1="92.98" y1="566.50" x2="92.98" y2="568.00" stroke="#000" stroke-width="0.8"/>
<line x1="94.56" y1="566.50" x2="94.56" y2="568.00" stroke="#000" stroke-width="0.8"/>
<line x1="95.90" y1="566.50" x2="95.90" y2="568.00" stroke="#000" stroke-width="0.8"/>
<line x1="97.06" y1="566.50" x2="97.06" y2="568.00" stroke="#000" stroke-width="0.8"/>
<line x1="98.08" y1="566.50" x2="98.08" y2="568.00" stroke="#000" stroke-width="0.8"/>
<line x1="104.87" y1="566.50" x2="104.87" y2="568.00" stroke="#000" stroke-width="0.8"/>
<line x1="108.30" y1="566.50" x2="108.30" y2="568.00" stroke="#000" stroke-width="0.8"/>
<line x1="110.74" y1="566.50" x2="110.74" y2="568.00" stroke="#000" stroke-width="0.8"/>
<line x1="112.63" y1="566.50" x2="112.63" y2="568.00" stroke="#000" stroke-width="0.8"/>
<line x1="114.17" y1="566.50" x2="114.17" y2="568.00" stroke="#000" stroke-width="0.8"/>
<line x1="115.48" y1="566.50" x2="115.48" y2="568.00" stroke="#000" stroke-width="0.8"/>
<line x1="116.61" y1="566.50" x2="116.61" y2="568.00" stroke="#000" stroke-width="0.8"/>
<line x1="117.61" y1="566.50" x2="117.61" y2="568.00" stroke="#000" stroke-width="0.8"/>
<line x1="69.62" y1="566.50" x2="69.62" y2="568.00" stroke="#000" stroke-width="0.8"/>
<line x1="63.62" y1="566.50" x2="63.62" y2="568.00" stroke="#000" stroke-width="0.8"/>
<line x1="72.75" y1="566.50" x2="72.75" y2="568.00" stroke="#000" stroke-width="0.8"/>
<line x1="60.75" y1="566.50" x2="60.75" y2="568.00" stroke="#000" stroke-width="0.8"/>
<line x1="75.88" y1="566.50" x2="75.88" y2="568.00" stroke="#000" stroke-width="0.8"/>
<line x1="57.88" y1="566.50" x2="57.88" y2="568.00" stroke="#000" stroke-width="0.8"/>
<line x1="55.00" y1="566.50" x2="55.00" y2="569.10" stroke="#000" stroke-width="0.8"/>
<line x1="66.50" y1="566.50" x2="66.50" y2="569.10" stroke="#000" stroke-width="0.8"/>
<line x1="79.00" y1="566.50" x2="79.00" y2="569.10" stroke="#000" stroke-width="0.8"/>
<line x1="99.00" y1="566.50" x2="99.00" y2="569.10" stroke="#000" stroke-width="0.8"/>
<line x1="118.50" y1="566.50" x2="118.50" y2="569.10" stroke="#000" stroke-width="0.8"/>
<rect x="46.30" y="547.50" width="3.20" height="2.60" fill="#000"/>
<rect x="65.00" y="566.50" width="3.00" height="2.60" fill="#000"/>
<rect x="49.50" y="490.50" width="76.30" height="76.00" fill="none" stroke="#000" stroke-width="1.3"/>
<text x="20.00" y="528.70" font-size="9.4" text-anchor="middle" textLength="20.50" lengthAdjust="spacingAndGlyphs" transform="rotate(-90 20.00 528.70) translate(20.00 528.70) scale(1 1.18) translate(-20.00 -528.70)">7AAD</text>
<text x="25.00" y="483.70" font-size="10.0" textLength="123.50" lengthAdjust="spacingAndGlyphs" transform="translate(25.00 483.70) scale(1 1.18) translate(-25.00 -483.70)">mDC + <tspan font-family="Liberation Serif" font-style="italic">α</tspan>GC + CD4<tspan dy="-3.3" font-size="5.5">+</tspan><tspan dy="3.3">iNKT</tspan></text>
<text x="55.50" y="502.80" font-size="8.2" textLength="5.00" lengthAdjust="spacingAndGlyphs" transform="translate(55.50 502.80) scale(1 1.18) translate(-55.50 -502.80)">0</text>
<text x="120.30" y="502.80" font-size="8.2" text-anchor="end" textLength="15.50" lengthAdjust="spacingAndGlyphs" transform="translate(120.30 502.80) scale(1 1.18) translate(-120.30 -502.80)">10.9</text>
<text x="54.50" y="559.60" font-size="8.2" textLength="15.50" lengthAdjust="spacingAndGlyphs" transform="translate(54.50 559.60) scale(1 1.18) translate(-54.50 -559.60)">46.4</text>
<text x="120.30" y="559.60" font-size="8.2" text-anchor="end" textLength="15.50" lengthAdjust="spacingAndGlyphs" transform="translate(120.30 559.60) scale(1 1.18) translate(-120.30 -559.60)">42.7</text>
<text x="58.00" y="599.20" font-size="9.6" textLength="58.20" lengthAdjust="spacingAndGlyphs" transform="translate(58.00 599.20) scale(1 1.18) translate(-58.00 -599.20)">APC - Annexin V</text>
<text x="43.00" y="502.90" font-size="8.2" text-anchor="end" transform="translate(43.00 502.90) scale(1 1.18) translate(-43.00 -502.90)">10<tspan dy="-3" font-size="5">5</tspan></text>
<text x="43.00" y="521.70" font-size="8.2" text-anchor="end" transform="translate(43.00 521.70) scale(1 1.18) translate(-43.00 -521.70)">10<tspan dy="-3" font-size="5">4</tspan></text>
<text x="43.00" y="541.70" font-size="8.2" text-anchor="end" transform="translate(43.00 541.70) scale(1 1.18) translate(-43.00 -541.70)">10<tspan dy="-3" font-size="5">3</tspan></text>
<text x="41.80" y="553.00" font-size="8.2" text-anchor="end" transform="translate(41.80 553.00) scale(1 1.18) translate(-41.80 -553.00)">0</text>
<text x="43.00" y="567.80" font-size="8.2" text-anchor="end" transform="translate(43.00 567.80) scale(1 1.18) translate(-43.00 -567.80)">-10<tspan dy="-3" font-size="5">3</tspan></text>
<text x="54.80" y="584.70" font-size="8.2" text-anchor="middle" transform="translate(54.80 584.70) scale(1 1.18) translate(-54.80 -584.70)">-10<tspan dy="-3" font-size="5">3</tspan></text>
<text x="66.50" y="584.70" font-size="8.2" text-anchor="middle" transform="translate(66.50 584.70) scale(1 1.18) translate(-66.50 -584.70)">0</text>
<text x="79.20" y="584.70" font-size="8.2" text-anchor="middle" transform="translate(79.20 584.70) scale(1 1.18) translate(-79.20 -584.70)">10<tspan dy="-3" font-size="5">3</tspan></text>
<text x="99.20" y="584.70" font-size="8.2" text-anchor="middle" transform="translate(99.20 584.70) scale(1 1.18) translate(-99.20 -584.70)">10<tspan dy="-3" font-size="5">4</tspan></text>
<text x="118.40" y="584.70" font-size="8.2" text-anchor="middle" transform="translate(118.40 584.70) scale(1 1.18) translate(-118.40 -584.70)">10<tspan dy="-3" font-size="5">5</tspan></text>
<g filter="url(#pb)"><path fill="#282896" d="M253.2 506.9h1.35v1.35h-1.35zM252.0 507.9h1.35v1.35h-1.35zM250.8 509.0h1.35v1.35h-1.35zM252.8 509.1h1.35v1.35h-1.35zM253.9 509.2h1.35v1.35h-1.35zM255.1 508.9h1.35v1.35h-1.35zM244.9 510.1h1.35v1.35h-1.35zM251.2 509.9h1.35v1.35h-1.35zM252.9 510.1h1.35v1.35h-1.35zM247.2 511.0h1.35v1.35h-1.35zM246.9 512.0h1.35v1.35h-1.35zM250.1 512.1h1.35v1.35h-1.35zM251.1 511.8h1.35v1.35h-1.35zM253.1 512.0h1.35v1.35h-1.35zM255.1 512.0h1.35v1.35h-1.35zM244.2 512.8h1.35v1.35h-1.35zM246.9 512.9h1.35v1.35h-1.35zM253.9 513.1h1.35v1.35h-1.35zM244.9 514.1h1.35v1.35h-1.35zM251.1 514.0h1.35v1.35h-1.35zM238.8 515.1h1.35v1.35h-1.35zM245.8 515.1h1.35v1.35h-1.35zM247.9 514.9h1.35v1.35h-1.35zM250.1 515.0h1.35v1.35h-1.35zM255.1 514.9h1.35v1.35h-1.35zM255.7 515.1h1.35v1.35h-1.35zM241.9 515.8h1.35v1.35h-1.35zM244.0 515.8h1.35v1.35h-1.35zM246.2 516.2h1.35v1.35h-1.35zM248.1 517.1h1.35v1.35h-1.35zM253.2 517.0h1.35v1.35h-1.35zM253.8 516.9h1.35v1.35h-1.35zM242.9 518.0h1.35v1.35h-1.35zM244.1 517.9h1.35v1.35h-1.35zM246.9 518.1h1.35v1.35h-1.35zM248.2 517.9h1.35v1.35h-1.35zM250.9 517.9h1.35v1.35h-1.35zM254.2 517.8h1.35v1.35h-1.35zM235.2 519.2h1.35v1.35h-1.35zM238.0 518.9h1.35v1.35h-1.35zM253.1 519.1h1.35v1.35h-1.35zM254.8 519.0h1.35v1.35h-1.35zM242.2 519.8h1.35v1.35h-1.35zM244.0 520.2h1.35v1.35h-1.35zM245.9 520.1h1.35v1.35h-1.35zM252.0 520.2h1.35v1.35h-1.35zM254.9 520.2h1.35v1.35h-1.35zM246.1 521.0h1.35v1.35h-1.35zM251.8 521.2h1.35v1.35h-1.35zM249.1 521.8h1.35v1.35h-1.35zM250.0 522.1h1.35v1.35h-1.35zM251.2 522.2h1.35v1.35h-1.35zM241.0 523.0h1.35v1.35h-1.35zM243.0 523.0h1.35v1.35h-1.35zM244.1 523.1h1.35v1.35h-1.35zM238.1 524.0h1.35v1.35h-1.35zM240.1 523.9h1.35v1.35h-1.35zM242.0 523.8h1.35v1.35h-1.35zM242.8 524.0h1.35v1.35h-1.35zM241.8 525.0h1.35v1.35h-1.35zM244.1 525.0h1.35v1.35h-1.35zM249.0 526.2h1.35v1.35h-1.35zM240.2 527.1h1.35v1.35h-1.35zM241.8 527.0h1.35v1.35h-1.35zM244.8 527.2h1.35v1.35h-1.35zM246.0 526.8h1.35v1.35h-1.35zM246.8 527.1h1.35v1.35h-1.35zM239.0 528.1h1.35v1.35h-1.35zM246.9 528.2h1.35v1.35h-1.35zM249.2 528.1h1.35v1.35h-1.35zM246.1 529.0h1.35v1.35h-1.35zM247.2 528.9h1.35v1.35h-1.35zM246.2 529.8h1.35v1.35h-1.35zM246.8 530.1h1.35v1.35h-1.35zM249.8 530.1h1.35v1.35h-1.35zM242.9 531.0h1.35v1.35h-1.35zM249.1 531.1h1.35v1.35h-1.35zM237.8 531.9h1.35v1.35h-1.35zM239.2 532.2h1.35v1.35h-1.35zM247.2 532.1h1.35v1.35h-1.35zM247.8 532.1h1.35v1.35h-1.35zM239.1 533.0h1.35v1.35h-1.35zM239.8 533.1h1.35v1.35h-1.35zM241.2 533.1h1.35v1.35h-1.35zM242.2 533.1h1.35v1.35h-1.35zM245.9 532.9h1.35v1.35h-1.35zM237.2 533.8h1.35v1.35h-1.35zM245.1 535.2h1.35v1.35h-1.35zM239.1 536.1h1.35v1.35h-1.35zM243.0 536.1h1.35v1.35h-1.35zM243.8 536.1h1.35v1.35h-1.35zM246.9 536.1h1.35v1.35h-1.35zM236.1 536.9h1.35v1.35h-1.35zM243.2 536.9h1.35v1.35h-1.35zM243.8 536.8h1.35v1.35h-1.35zM244.8 536.9h1.35v1.35h-1.35zM241.8 537.8h1.35v1.35h-1.35zM243.0 538.1h1.35v1.35h-1.35zM244.1 538.2h1.35v1.35h-1.35zM225.0 539.1h1.35v1.35h-1.35zM236.8 538.9h1.35v1.35h-1.35zM238.1 539.2h1.35v1.35h-1.35zM239.8 539.2h1.35v1.35h-1.35zM241.8 538.9h1.35v1.35h-1.35zM243.0 539.1h1.35v1.35h-1.35zM243.8 539.2h1.35v1.35h-1.35zM247.2 539.2h1.35v1.35h-1.35zM237.1 540.1h1.35v1.35h-1.35zM238.0 540.0h1.35v1.35h-1.35zM239.2 539.8h1.35v1.35h-1.35zM245.1 540.2h1.35v1.35h-1.35zM228.0 540.9h1.35v1.35h-1.35zM230.8 540.8h1.35v1.35h-1.35zM233.1 541.1h1.35v1.35h-1.35zM233.8 541.1h1.35v1.35h-1.35zM235.1 541.2h1.35v1.35h-1.35zM237.8 541.1h1.35v1.35h-1.35zM242.2 540.9h1.35v1.35h-1.35zM243.1 540.9h1.35v1.35h-1.35zM216.2 541.8h1.35v1.35h-1.35zM231.9 542.2h1.35v1.35h-1.35zM235.0 541.9h1.35v1.35h-1.35zM242.1 542.0h1.35v1.35h-1.35zM202.1 543.0h1.35v1.35h-1.35zM207.8 543.1h1.35v1.35h-1.35zM216.1 542.8h1.35v1.35h-1.35zM219.1 543.2h1.35v1.35h-1.35zM225.8 543.0h1.35v1.35h-1.35zM228.1 543.2h1.35v1.35h-1.35zM233.2 543.2h1.35v1.35h-1.35zM233.8 543.2h1.35v1.35h-1.35zM235.0 543.1h1.35v1.35h-1.35zM236.0 543.2h1.35v1.35h-1.35zM240.8 542.8h1.35v1.35h-1.35zM204.2 544.2h1.35v1.35h-1.35zM206.1 544.2h1.35v1.35h-1.35zM210.2 544.0h1.35v1.35h-1.35zM216.0 543.9h1.35v1.35h-1.35zM229.1 543.9h1.35v1.35h-1.35zM229.9 544.1h1.35v1.35h-1.35zM232.1 544.2h1.35v1.35h-1.35zM243.9 544.0h1.35v1.35h-1.35zM195.9 544.8h1.35v1.35h-1.35zM204.0 545.1h1.35v1.35h-1.35zM205.9 544.8h1.35v1.35h-1.35zM208.2 545.2h1.35v1.35h-1.35zM208.9 544.9h1.35v1.35h-1.35zM212.2 545.0h1.35v1.35h-1.35zM212.9 545.0h1.35v1.35h-1.35zM214.1 545.2h1.35v1.35h-1.35zM216.2 545.1h1.35v1.35h-1.35zM218.8 545.1h1.35v1.35h-1.35zM221.0 544.8h1.35v1.35h-1.35zM221.9 545.2h1.35v1.35h-1.35zM222.8 544.9h1.35v1.35h-1.35zM225.2 544.8h1.35v1.35h-1.35zM229.1 545.2h1.35v1.35h-1.35zM236.8 545.0h1.35v1.35h-1.35zM240.1 545.2h1.35v1.35h-1.35zM196.9 545.8h1.35v1.35h-1.35zM205.2 546.1h1.35v1.35h-1.35zM209.1 545.9h1.35v1.35h-1.35zM209.8 546.2h1.35v1.35h-1.35zM223.2 545.8h1.35v1.35h-1.35zM227.2 545.8h1.35v1.35h-1.35zM242.8 546.0h1.35v1.35h-1.35zM193.8 546.8h1.35v1.35h-1.35zM196.8 547.2h1.35v1.35h-1.35zM197.8 547.0h1.35v1.35h-1.35zM203.9 547.2h1.35v1.35h-1.35zM211.1 547.2h1.35v1.35h-1.35zM229.0 547.1h1.35v1.35h-1.35zM239.9 547.1h1.35v1.35h-1.35zM196.2 547.8h1.35v1.35h-1.35zM200.8 547.8h1.35v1.35h-1.35zM202.9 548.2h1.35v1.35h-1.35zM206.9 547.8h1.35v1.35h-1.35zM209.9 547.8h1.35v1.35h-1.35zM217.0 548.0h1.35v1.35h-1.35zM218.8 547.8h1.35v1.35h-1.35zM220.1 547.8h1.35v1.35h-1.35zM221.0 548.2h1.35v1.35h-1.35zM222.2 547.8h1.35v1.35h-1.35zM224.2 547.9h1.35v1.35h-1.35zM225.8 547.8h1.35v1.35h-1.35zM229.2 548.2h1.35v1.35h-1.35zM232.0 548.0h1.35v1.35h-1.35zM234.2 547.9h1.35v1.35h-1.35zM237.8 548.2h1.35v1.35h-1.35zM238.9 548.1h1.35v1.35h-1.35zM195.2 549.2h1.35v1.35h-1.35zM195.8 549.0h1.35v1.35h-1.35zM200.0 548.9h1.35v1.35h-1.35zM202.2 548.8h1.35v1.35h-1.35zM211.2 548.8h1.35v1.35h-1.35zM211.8 549.1h1.35v1.35h-1.35zM219.8 549.1h1.35v1.35h-1.35zM221.8 549.0h1.35v1.35h-1.35zM224.9 549.2h1.35v1.35h-1.35zM226.9 549.2h1.35v1.35h-1.35zM227.9 548.8h1.35v1.35h-1.35zM236.0 549.2h1.35v1.35h-1.35zM237.1 549.2h1.35v1.35h-1.35zM196.8 549.9h1.35v1.35h-1.35zM197.9 550.0h1.35v1.35h-1.35zM199.2 550.0h1.35v1.35h-1.35zM200.1 550.2h1.35v1.35h-1.35zM201.9 549.9h1.35v1.35h-1.35zM204.8 550.0h1.35v1.35h-1.35zM208.2 549.9h1.35v1.35h-1.35zM209.2 550.2h1.35v1.35h-1.35zM210.8 550.0h1.35v1.35h-1.35zM212.1 550.2h1.35v1.35h-1.35zM215.1 549.8h1.35v1.35h-1.35zM216.0 550.0h1.35v1.35h-1.35zM219.1 550.0h1.35v1.35h-1.35zM220.1 550.1h1.35v1.35h-1.35zM223.0 549.8h1.35v1.35h-1.35zM225.0 549.8h1.35v1.35h-1.35zM234.2 549.8h1.35v1.35h-1.35zM197.1 551.2h1.35v1.35h-1.35zM198.1 551.2h1.35v1.35h-1.35zM199.8 551.2h1.35v1.35h-1.35zM204.8 551.0h1.35v1.35h-1.35zM206.1 551.2h1.35v1.35h-1.35zM206.9 551.1h1.35v1.35h-1.35zM216.0 551.0h1.35v1.35h-1.35zM218.0 550.9h1.35v1.35h-1.35zM219.8 551.2h1.35v1.35h-1.35zM221.1 550.9h1.35v1.35h-1.35zM222.8 550.8h1.35v1.35h-1.35zM224.2 551.2h1.35v1.35h-1.35zM227.8 551.0h1.35v1.35h-1.35zM204.8 552.2h1.35v1.35h-1.35zM211.9 552.1h1.35v1.35h-1.35zM212.8 551.9h1.35v1.35h-1.35zM237.9 552.2h1.35v1.35h-1.35zM201.0 553.1h1.35v1.35h-1.35zM220.9 553.1h1.35v1.35h-1.35zM211.2 554.2h1.35v1.35h-1.35z"/><path fill="#283098" d="M254 511h1v1h-1zM230 548h1v1h-1z"/><path fill="#2830a0" d="M255 511h1v1h-1zM252 512h1v1h-1zM253 514h1v1h-1zM251 519h1v1h-1zM247 523h2v1h-2zM244 524h1v1h-1zM240 535h1v1h-1zM241 537h1v1h-1zM226 544h1v1h-1zM217 545h1v1h-1zM241 545h1v1h-1zM204 546h1v1h-1zM211 546h1v1h-1zM217 546h1v1h-1zM221 546h1v1h-1zM229 546h1v1h-1zM199 547h1v1h-1zM219 547h1v1h-1zM199 548h1v1h-1zM217 549h1v1h-1z"/><path fill="#282890" d="M249 512h1v1h-1zM255 513h1v1h-1zM249 515h1v1h-1zM252 517h1v1h-1zM246 518h1v1h-1zM239 542h1v1h-1zM241 542h1v1h-1zM210 545h1v1h-1zM208 546h1v1h-1zM198 548h1v1h-1zM235 548h1v1h-1zM218 549h1v1h-1z"/><path fill="#60b878" d="M254 512h1v1h-1zM236 544h1v1h-1z"/><path fill="#2840b0" d="M248 513h1v1h-1zM250 518h1v1h-1zM245 521h1v1h-1zM246 528h1v1h-1zM240 542h1v1h-1zM224 545h1v1h-1zM214 546h1v1h-1zM216 546h1v1h-1zM216 547h1v1h-1zM208 549h1v1h-1zM213 549h1v1h-1z"/><path fill="#282898" d="M249 513h1v1h-1zM253 513h1v1h-1zM249 514h1v1h-1zM247 515h1v1h-1zM247 516h1v1h-1zM249 520h2v1h-2zM249 521h1v1h-1zM245 531h1v1h-1zM241 535h1v1h-1zM240 536h1v1h-1zM238 538h1v1h-1zM240 538h1v1h-1zM225 544h1v1h-1zM211 545h1v1h-1zM220 545h1v1h-1zM235 545h1v1h-1zM201 546h2v1h-2zM220 546h1v1h-1zM230 547h2v1h-2zM236 547h1v1h-1zM239 547h1v1h-1zM209 548h1v1h-1zM214 548h1v1h-1zM231 548h1v1h-1zM199 549h1v1h-1zM203 550h1v1h-1z"/><path fill="#58b888" d="M250 513h1v1h-1zM252 514h1v1h-1zM244 526h1v1h-1z"/><path fill="#3878c8" d="M252 513h1v1h-1zM245 524h1v1h-1zM242 534h1v1h-1zM238 542h1v1h-1zM209 547h1v1h-1zM200 548h1v1h-1zM212 548h1v1h-1z"/><path fill="#3888d0" d="M250 514h1v1h-1zM252 516h1v1h-1zM230 545h1v1h-1zM238 545h1v1h-1zM232 546h1v1h-1zM227 548h1v1h-1z"/><path fill="#2838a8" d="M255 514h1v1h-1zM246 517h1v1h-1zM245 519h2v1h-2zM246 522h1v1h-1zM247 526h1v1h-1zM242 528h1v1h-1zM242 529h1v1h-1zM244 534h1v1h-1zM200 546h1v1h-1zM218 546h1v1h-1zM230 546h1v1h-1zM233 546h1v1h-1zM236 546h1v1h-1zM200 547h1v1h-1zM227 547h1v1h-1zM235 547h1v1h-1zM215 548h1v1h-1zM219 549h1v1h-1zM201 550h1v1h-1z"/><path fill="#40a8d0" d="M254 515h1v1h-1zM249 517h1v1h-1zM239 539h1v1h-1zM210 547h1v1h-1z"/><path fill="#80c848" d="M248 516h1v1h-1z"/><path fill="#50b098" d="M249 516h1v1h-1zM234 545h1v1h-1z"/><path fill="#a0c840" d="M250 516h1v1h-1zM248 519h1v1h-1z"/><path fill="#4090d0" d="M247 517h1v1h-1zM243 526h1v1h-1zM246 526h1v1h-1zM242 530h1v1h-1zM239 541h1v1h-1zM206 547h1v1h-1z"/><path fill="#70c048" d="M250 517h1v1h-1z"/><path fill="#90c840" d="M251 517h1v1h-1zM245 528h1v1h-1z"/><path fill="#2850b8" d="M249 518h1v1h-1zM218 547h1v1h-1z"/><path fill="#d0d838" d="M247 519h1v1h-1z"/><path fill="#e0c030" d="M247 520h1v1h-1z"/><path fill="#48a8d0" d="M248 520h1v1h-1z"/><path fill="#d8d838" d="M247 521h1v1h-1z"/><path fill="#3058c0" d="M244 522h1v1h-1zM242 531h1v1h-1zM245 532h1v1h-1zM233 545h1v1h-1zM226 546h1v1h-1zM238 546h1v1h-1z"/><path fill="#3880c8" d="M248 522h1v1h-1zM245 529h1v1h-1zM242 537h1v1h-1zM222 546h1v1h-1zM205 547h1v1h-1zM208 547h1v1h-1zM205 548h1v1h-1zM218 548h1v1h-1z"/><path fill="#58b098" d="M246 524h1v1h-1zM217 547h1v1h-1z"/><path fill="#2848b8" d="M245 525h1v1h-1zM244 528h1v1h-1zM244 533h1v1h-1zM241 534h1v1h-1zM240 541h1v1h-1zM207 546h1v1h-1zM212 546h1v1h-1zM234 546h1v1h-1zM213 547h1v1h-1z"/><path fill="#2840b8" d="M246 525h1v1h-1zM240 534h1v1h-1zM240 544h1v1h-1zM228 548h1v1h-1z"/><path fill="#48a8b8" d="M245 526h1v1h-1zM215 547h1v1h-1z"/><path fill="#4098d0" d="M243 529h1v1h-1zM212 547h1v1h-1z"/><path fill="#58b088" d="M245 530h1v1h-1z"/><path fill="#48b0b8" d="M244 531h1v1h-1z"/><path fill="#40a0d8" d="M241 532h1v1h-1zM233 544h1v1h-1zM207 547h1v1h-1z"/><path fill="#2830a8" d="M242 532h1v1h-1z"/><path fill="#50b0b0" d="M243 532h1v1h-1z"/><path fill="#3050b8" d="M244 532h1v1h-1zM241 540h1v1h-1zM213 546h1v1h-1zM225 548h1v1h-1z"/><path fill="#48a8c8" d="M243 533h1v1h-1z"/><path fill="#2838b0" d="M242 535h1v1h-1zM225 547h1v1h-1zM206 549h1v1h-1z"/><path fill="#3060c0" d="M243 535h1v1h-1zM241 544h1v1h-1zM211 548h1v1h-1z"/><path fill="#98c840" d="M241 536h1v1h-1zM222 547h1v1h-1z"/><path fill="#a8c840" d="M242 536h1v1h-1z"/><path fill="#50b0a8" d="M241 539h1v1h-1z"/><path fill="#40a8d8" d="M240 540h1v1h-1zM203 547h1v1h-1z"/><path fill="#3870c8" d="M237 542h1v1h-1zM239 544h1v1h-1zM239 545h1v1h-1zM228 546h1v1h-1zM228 547h1v1h-1z"/><path fill="#60b860" d="M237 543h1v1h-1z"/><path fill="#e02018" d="M238 543h1v1h-1z"/><path fill="#78c048" d="M240 543h1v1h-1z"/><path fill="#80c048" d="M234 544h1v1h-1zM231 545h1v1h-1z"/><path fill="#e04820" d="M237 544h1v1h-1z"/><path fill="#e8a828" d="M238 544h1v1h-1z"/><path fill="#3068c0" d="M215 546h1v1h-1zM226 547h1v1h-1z"/><path fill="#3880d0" d="M224 546h1v1h-1z"/><path fill="#3058b8" d="M206 548h1v1h-1z"/><path fill="#a8d040" d="M213 548h1v1h-1z"/></g>
<ellipse cx="199" cy="549" rx="5" ry="2.5" fill="#f2ebe0" opacity="0.85" filter="url(#bl)"/>
<ellipse cx="209.50" cy="548.00" rx="1.60" ry="1.20" fill="#e89a30" opacity="1" filter="url(#bl)"/>
<ellipse cx="249.00" cy="517.00" rx="1.30" ry="1.20" fill="#e8802e" opacity="1" filter="url(#bl)"/>
<line x1="212.50" y1="490.30" x2="212.50" y2="566.80" stroke="#555" stroke-width="0.85"/>
<line x1="181.40" y1="527.50" x2="257.30" y2="527.50" stroke="#555" stroke-width="0.85"/>
<line x1="179.90" y1="531.48" x2="181.40" y2="531.48" stroke="#000" stroke-width="0.8"/>
<line x1="179.90" y1="527.96" x2="181.40" y2="527.96" stroke="#000" stroke-width="0.8"/>
<line x1="179.90" y1="525.46" x2="181.40" y2="525.46" stroke="#000" stroke-width="0.8"/>
<line x1="179.90" y1="523.52" x2="181.40" y2="523.52" stroke="#000" stroke-width="0.8"/>
<line x1="179.90" y1="521.94" x2="181.40" y2="521.94" stroke="#000" stroke-width="0.8"/>
<line x1="179.90" y1="520.60" x2="181.40" y2="520.60" stroke="#000" stroke-width="0.8"/>
<line x1="179.90" y1="519.44" x2="181.40" y2="519.44" stroke="#000" stroke-width="0.8"/>
<line x1="179.90" y1="518.42" x2="181.40" y2="518.42" stroke="#000" stroke-width="0.8"/>
<line x1="179.90" y1="511.84" x2="181.40" y2="511.84" stroke="#000" stroke-width="0.8"/>
<line x1="179.90" y1="508.53" x2="181.40" y2="508.53" stroke="#000" stroke-width="0.8"/>
<line x1="179.90" y1="506.18" x2="181.40" y2="506.18" stroke="#000" stroke-width="0.8"/>
<line x1="179.90" y1="504.36" x2="181.40" y2="504.36" stroke="#000" stroke-width="0.8"/>
<line x1="179.90" y1="502.87" x2="181.40" y2="502.87" stroke="#000" stroke-width="0.8"/>
<line x1="179.90" y1="501.61" x2="181.40" y2="501.61" stroke="#000" stroke-width="0.8"/>
<line x1="179.90" y1="500.52" x2="181.40" y2="500.52" stroke="#000" stroke-width="0.8"/>
<line x1="179.90" y1="499.56" x2="181.40" y2="499.56" stroke="#000" stroke-width="0.8"/>
<line x1="179.90" y1="545.97" x2="181.40" y2="545.97" stroke="#000" stroke-width="0.8"/>
<line x1="179.90" y1="552.50" x2="181.40" y2="552.50" stroke="#000" stroke-width="0.8"/>
<line x1="179.90" y1="543.15" x2="181.40" y2="543.15" stroke="#000" stroke-width="0.8"/>
<line x1="179.90" y1="556.20" x2="181.40" y2="556.20" stroke="#000" stroke-width="0.8"/>
<line x1="179.90" y1="540.33" x2="181.40" y2="540.33" stroke="#000" stroke-width="0.8"/>
<line x1="179.90" y1="559.90" x2="181.40" y2="559.90" stroke="#000" stroke-width="0.8"/>
<line x1="178.80" y1="498.70" x2="181.40" y2="498.70" stroke="#000" stroke-width="0.8"/>
<line x1="178.80" y1="517.50" x2="181.40" y2="517.50" stroke="#000" stroke-width="0.8"/>
<line x1="178.80" y1="537.50" x2="181.40" y2="537.50" stroke="#000" stroke-width="0.8"/>
<line x1="178.80" y1="548.80" x2="181.40" y2="548.80" stroke="#000" stroke-width="0.8"/>
<line x1="178.80" y1="563.60" x2="181.40" y2="563.60" stroke="#000" stroke-width="0.8"/>
<line x1="216.87" y1="566.80" x2="216.87" y2="568.30" stroke="#000" stroke-width="0.8"/>
<line x1="220.30" y1="566.80" x2="220.30" y2="568.30" stroke="#000" stroke-width="0.8"/>
<line x1="222.74" y1="566.80" x2="222.74" y2="568.30" stroke="#000" stroke-width="0.8"/>
<line x1="224.63" y1="566.80" x2="224.63" y2="568.30" stroke="#000" stroke-width="0.8"/>
<line x1="226.17" y1="566.80" x2="226.17" y2="568.30" stroke="#000" stroke-width="0.8"/>
<line x1="227.48" y1="566.80" x2="227.48" y2="568.30" stroke="#000" stroke-width="0.8"/>
<line x1="228.61" y1="566.80" x2="228.61" y2="568.30" stroke="#000" stroke-width="0.8"/>
<line x1="229.61" y1="566.80" x2="229.61" y2="568.30" stroke="#000" stroke-width="0.8"/>
<line x1="236.37" y1="566.80" x2="236.37" y2="568.30" stroke="#000" stroke-width="0.8"/>
<line x1="239.80" y1="566.80" x2="239.80" y2="568.30" stroke="#000" stroke-width="0.8"/>
<line x1="242.24" y1="566.80" x2="242.24" y2="568.30" stroke="#000" stroke-width="0.8"/>
<line x1="244.13" y1="566.80" x2="244.13" y2="568.30" stroke="#000" stroke-width="0.8"/>
<line x1="245.67" y1="566.80" x2="245.67" y2="568.30" stroke="#000" stroke-width="0.8"/>
<line x1="246.98" y1="566.80" x2="246.98" y2="568.30" stroke="#000" stroke-width="0.8"/>
<line x1="248.11" y1="566.80" x2="248.11" y2="568.30" stroke="#000" stroke-width="0.8"/>
<line x1="249.11" y1="566.80" x2="249.11" y2="568.30" stroke="#000" stroke-width="0.8"/>
<line x1="201.25" y1="566.80" x2="201.25" y2="568.30" stroke="#000" stroke-width="0.8"/>
<line x1="195.25" y1="566.80" x2="195.25" y2="568.30" stroke="#000" stroke-width="0.8"/>
<line x1="204.50" y1="566.80" x2="204.50" y2="568.30" stroke="#000" stroke-width="0.8"/>
<line x1="192.50" y1="566.80" x2="192.50" y2="568.30" stroke="#000" stroke-width="0.8"/>
<line x1="207.75" y1="566.80" x2="207.75" y2="568.30" stroke="#000" stroke-width="0.8"/>
<line x1="189.75" y1="566.80" x2="189.75" y2="568.30" stroke="#000" stroke-width="0.8"/>
<line x1="187.00" y1="566.80" x2="187.00" y2="569.40" stroke="#000" stroke-width="0.8"/>
<line x1="198.00" y1="566.80" x2="198.00" y2="569.40" stroke="#000" stroke-width="0.8"/>
<line x1="211.00" y1="566.80" x2="211.00" y2="569.40" stroke="#000" stroke-width="0.8"/>
<line x1="230.50" y1="566.80" x2="230.50" y2="569.40" stroke="#000" stroke-width="0.8"/>
<line x1="250.00" y1="566.80" x2="250.00" y2="569.40" stroke="#000" stroke-width="0.8"/>
<rect x="178.20" y="547.50" width="3.20" height="2.60" fill="#000"/>
<rect x="196.50" y="566.80" width="3.00" height="2.60" fill="#000"/>
<rect x="181.40" y="490.30" width="75.90" height="76.50" fill="none" stroke="#000" stroke-width="1.3"/>
<text x="153.60" y="524.00" font-size="9.4" text-anchor="middle" textLength="20.50" lengthAdjust="spacingAndGlyphs" transform="rotate(-90 153.60 524.00) translate(153.60 524.00) scale(1 1.18) translate(-153.60 -524.00)">7AAD</text>
<text x="179.50" y="483.70" font-size="10.0" textLength="79.00" lengthAdjust="spacingAndGlyphs" transform="translate(179.50 483.70) scale(1 1.18) translate(-179.50 -483.70)">CD4<tspan dy="-3.3" font-size="5.5">-</tspan><tspan dy="3.3">CD94</tspan><tspan dy="-3.3" font-size="5.5">-</tspan><tspan dy="3.3"> iNKT</tspan></text>
<text x="188.00" y="503.50" font-size="8.2" textLength="5.00" lengthAdjust="spacingAndGlyphs" transform="translate(188.00 503.50) scale(1 1.18) translate(-188.00 -503.50)">0</text>
<text x="252.70" y="503.50" font-size="8.2" text-anchor="end" textLength="15.50" lengthAdjust="spacingAndGlyphs" transform="translate(252.70 503.50) scale(1 1.18) translate(-252.70 -503.50)">13.1</text>
<text x="187.00" y="559.60" font-size="8.2" textLength="15.50" lengthAdjust="spacingAndGlyphs" transform="translate(187.00 559.60) scale(1 1.18) translate(-187.00 -559.60)">50.4</text>
<text x="252.70" y="559.60" font-size="8.2" text-anchor="end" textLength="15.50" lengthAdjust="spacingAndGlyphs" transform="translate(252.70 559.60) scale(1 1.18) translate(-252.70 -559.60)">36.5</text>
<text x="189.70" y="599.20" font-size="9.6" textLength="60.00" lengthAdjust="spacingAndGlyphs" transform="translate(189.70 599.20) scale(1 1.18) translate(-189.70 -599.20)">APC - Annexin V</text>
<text x="174.80" y="502.90" font-size="8.2" text-anchor="end" transform="translate(174.80 502.90) scale(1 1.18) translate(-174.80 -502.90)">10<tspan dy="-3" font-size="5">5</tspan></text>
<text x="174.80" y="521.70" font-size="8.2" text-anchor="end" transform="translate(174.80 521.70) scale(1 1.18) translate(-174.80 -521.70)">10<tspan dy="-3" font-size="5">4</tspan></text>
<text x="174.80" y="541.70" font-size="8.2" text-anchor="end" transform="translate(174.80 541.70) scale(1 1.18) translate(-174.80 -541.70)">10<tspan dy="-3" font-size="5">3</tspan></text>
<text x="173.60" y="553.00" font-size="8.2" text-anchor="end" transform="translate(173.60 553.00) scale(1 1.18) translate(-173.60 -553.00)">0</text>
<text x="174.80" y="567.80" font-size="8.2" text-anchor="end" transform="translate(174.80 567.80) scale(1 1.18) translate(-174.80 -567.80)">-10<tspan dy="-3" font-size="5">3</tspan></text>
<text x="187.00" y="584.70" font-size="8.2" text-anchor="middle" transform="translate(187.00 584.70) scale(1 1.18) translate(-187.00 -584.70)">-10<tspan dy="-3" font-size="5">3</tspan></text>
<text x="211.00" y="584.70" font-size="8.2" text-anchor="middle" transform="translate(211.00 584.70) scale(1 1.18) translate(-211.00 -584.70)">10<tspan dy="-3" font-size="5">3</tspan></text>
<text x="230.30" y="584.70" font-size="8.2" text-anchor="middle" transform="translate(230.30 584.70) scale(1 1.18) translate(-230.30 -584.70)">10<tspan dy="-3" font-size="5">4</tspan></text>
<text x="250.30" y="584.70" font-size="8.2" text-anchor="middle" transform="translate(250.30 584.70) scale(1 1.18) translate(-250.30 -584.70)">10<tspan dy="-3" font-size="5">5</tspan></text>
<g filter="url(#pb)"><path fill="#282896" d="M391.9 506.9h1.35v1.35h-1.35zM391.9 508.1h1.35v1.35h-1.35zM380.2 509.0h1.35v1.35h-1.35zM384.2 509.1h1.35v1.35h-1.35zM391.2 509.1h1.35v1.35h-1.35zM389.0 510.1h1.35v1.35h-1.35zM390.1 509.9h1.35v1.35h-1.35zM390.9 509.9h1.35v1.35h-1.35zM381.0 511.2h1.35v1.35h-1.35zM385.2 511.2h1.35v1.35h-1.35zM391.2 510.9h1.35v1.35h-1.35zM381.9 511.8h1.35v1.35h-1.35zM384.1 511.8h1.35v1.35h-1.35zM385.2 511.9h1.35v1.35h-1.35zM391.9 512.2h1.35v1.35h-1.35zM381.0 513.1h1.35v1.35h-1.35zM381.9 513.0h1.35v1.35h-1.35zM385.1 513.2h1.35v1.35h-1.35zM387.9 513.0h1.35v1.35h-1.35zM391.9 513.1h1.35v1.35h-1.35zM379.8 514.1h1.35v1.35h-1.35zM382.0 514.0h1.35v1.35h-1.35zM386.1 514.2h1.35v1.35h-1.35zM382.1 515.1h1.35v1.35h-1.35zM388.1 515.0h1.35v1.35h-1.35zM389.1 514.8h1.35v1.35h-1.35zM373.0 516.0h1.35v1.35h-1.35zM378.2 516.1h1.35v1.35h-1.35zM379.9 515.8h1.35v1.35h-1.35zM380.8 516.1h1.35v1.35h-1.35zM383.0 516.2h1.35v1.35h-1.35zM390.1 516.2h1.35v1.35h-1.35zM391.0 515.9h1.35v1.35h-1.35zM380.8 517.1h1.35v1.35h-1.35zM387.9 516.9h1.35v1.35h-1.35zM389.0 516.9h1.35v1.35h-1.35zM380.9 517.8h1.35v1.35h-1.35zM386.9 517.8h1.35v1.35h-1.35zM380.1 519.2h1.35v1.35h-1.35zM387.1 518.9h1.35v1.35h-1.35zM389.1 519.0h1.35v1.35h-1.35zM387.0 519.8h1.35v1.35h-1.35zM377.1 521.0h1.35v1.35h-1.35zM378.2 521.0h1.35v1.35h-1.35zM387.8 521.1h1.35v1.35h-1.35zM381.9 522.1h1.35v1.35h-1.35zM386.1 522.2h1.35v1.35h-1.35zM378.1 523.2h1.35v1.35h-1.35zM378.9 523.0h1.35v1.35h-1.35zM380.9 522.8h1.35v1.35h-1.35zM377.8 523.9h1.35v1.35h-1.35zM386.0 524.1h1.35v1.35h-1.35zM373.0 525.2h1.35v1.35h-1.35zM377.9 525.0h1.35v1.35h-1.35zM382.9 525.1h1.35v1.35h-1.35zM383.9 524.8h1.35v1.35h-1.35zM387.1 525.0h1.35v1.35h-1.35zM385.2 526.0h1.35v1.35h-1.35zM376.2 528.2h1.35v1.35h-1.35zM378.1 527.9h1.35v1.35h-1.35zM383.8 527.9h1.35v1.35h-1.35zM375.0 529.0h1.35v1.35h-1.35zM375.8 529.1h1.35v1.35h-1.35zM381.9 529.0h1.35v1.35h-1.35zM383.1 528.9h1.35v1.35h-1.35zM378.2 530.2h1.35v1.35h-1.35zM374.0 530.9h1.35v1.35h-1.35zM375.0 531.1h1.35v1.35h-1.35zM382.9 531.2h1.35v1.35h-1.35zM384.1 531.2h1.35v1.35h-1.35zM386.2 531.1h1.35v1.35h-1.35zM381.9 532.2h1.35v1.35h-1.35zM377.0 533.0h1.35v1.35h-1.35zM379.9 533.1h1.35v1.35h-1.35zM381.1 533.2h1.35v1.35h-1.35zM374.8 533.9h1.35v1.35h-1.35zM376.8 534.0h1.35v1.35h-1.35zM380.1 534.0h1.35v1.35h-1.35zM381.1 535.2h1.35v1.35h-1.35zM373.1 535.8h1.35v1.35h-1.35zM374.2 536.0h1.35v1.35h-1.35zM376.9 536.1h1.35v1.35h-1.35zM370.8 536.8h1.35v1.35h-1.35zM371.8 536.9h1.35v1.35h-1.35zM372.9 536.9h1.35v1.35h-1.35zM375.1 536.8h1.35v1.35h-1.35zM380.0 537.2h1.35v1.35h-1.35zM373.0 538.0h1.35v1.35h-1.35zM374.2 537.9h1.35v1.35h-1.35zM372.0 539.0h1.35v1.35h-1.35zM372.9 539.1h1.35v1.35h-1.35zM370.0 540.0h1.35v1.35h-1.35zM373.9 540.1h1.35v1.35h-1.35zM379.9 539.9h1.35v1.35h-1.35zM342.9 541.0h1.35v1.35h-1.35zM364.1 540.9h1.35v1.35h-1.35zM366.0 541.2h1.35v1.35h-1.35zM371.1 541.1h1.35v1.35h-1.35zM372.0 541.0h1.35v1.35h-1.35zM373.8 541.2h1.35v1.35h-1.35zM374.8 541.2h1.35v1.35h-1.35zM375.8 540.8h1.35v1.35h-1.35zM331.9 541.9h1.35v1.35h-1.35zM368.2 542.1h1.35v1.35h-1.35zM369.8 541.8h1.35v1.35h-1.35zM378.0 541.9h1.35v1.35h-1.35zM351.0 543.2h1.35v1.35h-1.35zM354.2 542.8h1.35v1.35h-1.35zM356.1 543.0h1.35v1.35h-1.35zM364.0 543.2h1.35v1.35h-1.35zM366.9 543.0h1.35v1.35h-1.35zM368.0 542.8h1.35v1.35h-1.35zM368.9 542.9h1.35v1.35h-1.35zM369.8 542.8h1.35v1.35h-1.35zM336.0 544.0h1.35v1.35h-1.35zM339.8 544.0h1.35v1.35h-1.35zM349.1 543.9h1.35v1.35h-1.35zM352.8 544.1h1.35v1.35h-1.35zM354.0 543.9h1.35v1.35h-1.35zM360.1 544.2h1.35v1.35h-1.35zM361.1 544.1h1.35v1.35h-1.35zM372.0 544.2h1.35v1.35h-1.35zM378.2 543.8h1.35v1.35h-1.35zM327.1 544.8h1.35v1.35h-1.35zM330.8 545.1h1.35v1.35h-1.35zM331.8 545.0h1.35v1.35h-1.35zM335.9 544.9h1.35v1.35h-1.35zM337.0 544.8h1.35v1.35h-1.35zM339.0 545.1h1.35v1.35h-1.35zM342.1 545.1h1.35v1.35h-1.35zM343.1 545.0h1.35v1.35h-1.35zM347.2 545.2h1.35v1.35h-1.35zM347.8 544.8h1.35v1.35h-1.35zM349.8 545.0h1.35v1.35h-1.35zM351.0 545.1h1.35v1.35h-1.35zM365.8 545.2h1.35v1.35h-1.35zM368.0 545.2h1.35v1.35h-1.35zM374.1 544.9h1.35v1.35h-1.35zM374.9 544.8h1.35v1.35h-1.35zM376.2 545.2h1.35v1.35h-1.35zM333.1 545.9h1.35v1.35h-1.35zM334.9 546.2h1.35v1.35h-1.35zM341.2 545.8h1.35v1.35h-1.35zM348.1 545.8h1.35v1.35h-1.35zM348.8 546.2h1.35v1.35h-1.35zM351.1 546.1h1.35v1.35h-1.35zM353.2 546.1h1.35v1.35h-1.35zM354.1 545.9h1.35v1.35h-1.35zM360.2 546.0h1.35v1.35h-1.35zM372.0 546.2h1.35v1.35h-1.35zM374.2 546.2h1.35v1.35h-1.35zM374.9 546.2h1.35v1.35h-1.35zM330.8 547.1h1.35v1.35h-1.35zM332.1 547.1h1.35v1.35h-1.35zM334.2 547.2h1.35v1.35h-1.35zM337.1 546.8h1.35v1.35h-1.35zM341.8 547.2h1.35v1.35h-1.35zM347.8 546.8h1.35v1.35h-1.35zM354.0 547.1h1.35v1.35h-1.35zM357.0 547.1h1.35v1.35h-1.35zM359.2 546.9h1.35v1.35h-1.35zM364.1 546.8h1.35v1.35h-1.35zM373.1 547.2h1.35v1.35h-1.35zM330.1 548.2h1.35v1.35h-1.35zM331.1 548.2h1.35v1.35h-1.35zM332.8 548.1h1.35v1.35h-1.35zM334.9 547.8h1.35v1.35h-1.35zM340.0 548.1h1.35v1.35h-1.35zM341.0 548.2h1.35v1.35h-1.35zM343.2 547.8h1.35v1.35h-1.35zM345.0 547.8h1.35v1.35h-1.35zM347.2 548.0h1.35v1.35h-1.35zM353.1 548.2h1.35v1.35h-1.35zM354.1 548.2h1.35v1.35h-1.35zM359.0 548.1h1.35v1.35h-1.35zM360.0 548.1h1.35v1.35h-1.35zM366.8 547.8h1.35v1.35h-1.35zM331.8 549.0h1.35v1.35h-1.35zM337.8 549.0h1.35v1.35h-1.35zM339.0 549.0h1.35v1.35h-1.35zM342.2 548.9h1.35v1.35h-1.35zM348.0 548.9h1.35v1.35h-1.35zM349.1 548.8h1.35v1.35h-1.35zM355.2 548.9h1.35v1.35h-1.35zM360.0 549.1h1.35v1.35h-1.35zM363.0 549.0h1.35v1.35h-1.35zM369.1 548.8h1.35v1.35h-1.35zM330.2 550.1h1.35v1.35h-1.35zM333.0 549.9h1.35v1.35h-1.35zM334.0 549.9h1.35v1.35h-1.35zM336.1 549.8h1.35v1.35h-1.35zM337.9 550.0h1.35v1.35h-1.35zM342.2 549.8h1.35v1.35h-1.35zM346.9 549.9h1.35v1.35h-1.35zM349.2 550.2h1.35v1.35h-1.35zM349.8 550.2h1.35v1.35h-1.35zM352.0 550.1h1.35v1.35h-1.35zM354.9 549.8h1.35v1.35h-1.35zM355.9 549.8h1.35v1.35h-1.35zM360.1 550.2h1.35v1.35h-1.35zM362.0 550.1h1.35v1.35h-1.35zM331.8 551.0h1.35v1.35h-1.35zM336.9 551.2h1.35v1.35h-1.35zM341.2 551.0h1.35v1.35h-1.35zM346.8 550.8h1.35v1.35h-1.35zM349.0 550.8h1.35v1.35h-1.35zM350.8 550.8h1.35v1.35h-1.35zM363.8 551.1h1.35v1.35h-1.35zM329.1 551.8h1.35v1.35h-1.35zM336.2 552.1h1.35v1.35h-1.35zM337.2 552.2h1.35v1.35h-1.35zM345.8 552.1h1.35v1.35h-1.35zM348.9 551.9h1.35v1.35h-1.35zM332.8 552.8h1.35v1.35h-1.35zM349.2 552.9h1.35v1.35h-1.35zM354.1 552.8h1.35v1.35h-1.35zM360.1 553.1h1.35v1.35h-1.35z"/><path fill="#282890" d="M388 510h1v1h-1zM388 516h1v1h-1zM375 536h1v1h-1zM375 542h1v1h-1zM356 545h1v1h-1zM332 548h1v1h-1zM357 549h1v1h-1z"/><path fill="#88c848" d="M389 511h1v1h-1z"/><path fill="#2840b0" d="M386 512h1v1h-1zM386 516h1v1h-1zM382 521h1v1h-1zM379 525h1v1h-1zM380 529h1v1h-1zM376 532h1v1h-1zM379 533h1v1h-1zM375 538h1v1h-1zM359 545h1v1h-1zM361 545h1v1h-1zM334 546h1v1h-1zM370 546h1v1h-1zM368 548h1v1h-1zM347 549h1v1h-1z"/><path fill="#2848b8" d="M388 512h1v1h-1zM382 518h1v1h-1zM385 519h1v1h-1zM379 527h1v1h-1zM379 530h1v1h-1zM338 546h1v1h-1zM341 547h1v1h-1zM371 547h1v1h-1zM338 548h1v1h-1zM343 549h1v1h-1z"/><path fill="#68c050" d="M389 512h1v1h-1z"/><path fill="#4090d0" d="M386 513h1v1h-1zM384 518h1v1h-1zM358 547h1v1h-1z"/><path fill="#60b878" d="M387 513h1v1h-1zM377 540h1v1h-1z"/><path fill="#40a8d8" d="M389 513h1v1h-1zM365 545h1v1h-1z"/><path fill="#283098" d="M390 513h1v1h-1zM382 517h1v1h-1z"/><path fill="#3880c8" d="M383 514h1v1h-1zM384 519h1v1h-1zM383 523h1v1h-1zM350 547h1v1h-1zM340 550h1v1h-1z"/><path fill="#3888d0" d="M385 514h1v1h-1zM361 547h1v1h-1z"/><path fill="#2838a8" d="M387 514h1v1h-1zM384 516h1v1h-1zM383 517h1v1h-1zM381 521h1v1h-1zM376 534h1v1h-1zM376 539h1v1h-1zM373 543h1v1h-1zM358 545h1v1h-1zM347 546h1v1h-1zM369 547h1v1h-1zM351 548h1v1h-1zM365 548h1v1h-1z"/><path fill="#2830a0" d="M389 514h1v1h-1zM391 514h2v1h-2zM386 515h1v1h-1zM385 521h1v1h-1zM379 524h1v1h-1zM383 526h1v1h-1zM376 531h1v1h-1zM379 531h1v1h-1zM378 532h1v1h-1zM375 535h1v1h-1zM379 535h1v1h-1zM376 537h1v1h-1zM378 539h1v1h-1zM374 543h1v1h-1zM369 544h1v1h-1zM374 544h1v1h-1zM373 545h1v1h-1zM364 546h1v1h-1zM373 546h1v1h-1zM353 547h1v1h-1zM346 548h1v1h-1zM351 549h1v1h-1zM354 549h1v1h-1zM343 550h1v1h-1zM348 550h1v1h-1z"/><path fill="#3060c0" d="M383 515h1v1h-1zM387 516h1v1h-1zM382 524h1v1h-1zM378 531h1v1h-1zM359 546h1v1h-1zM355 547h1v1h-1z"/><path fill="#3058b8" d="M385 515h1v1h-1z"/><path fill="#2830a8" d="M387 515h1v1h-1z"/><path fill="#282898" d="M391 515h1v1h-1zM387 517h1v1h-1zM380 520h1v1h-1zM381 522h1v1h-1zM381 526h1v1h-1zM381 527h1v1h-1zM380 531h1v1h-1zM377 532h1v1h-1zM379 532h1v1h-1zM381 534h1v1h-1zM367 545h1v1h-1zM369 545h1v1h-1zM337 546h1v1h-1zM346 546h1v1h-1zM339 547h1v1h-1zM345 547h1v1h-1zM372 547h1v1h-1zM364 548h1v1h-1zM341 549h1v1h-1zM352 549h1v1h-1zM335 550h1v1h-1z"/><path fill="#2840b8" d="M382 516h1v1h-1zM382 526h1v1h-1zM374 539h1v1h-1zM362 545h1v1h-1z"/><path fill="#3070c0" d="M385 516h1v1h-1z"/><path fill="#3068c0" d="M384 517h1v1h-1zM385 518h1v1h-1zM382 520h1v1h-1zM381 525h2v1h-2zM378 534h1v1h-1zM340 547h1v1h-1zM362 547h1v1h-1z"/><path fill="#3058c0" d="M381 519h1v1h-1zM380 525h1v1h-1zM342 548h1v1h-1z"/><path fill="#78c048" d="M382 519h1v1h-1z"/><path fill="#90c840" d="M383 519h1v1h-1zM356 547h1v1h-1z"/><path fill="#48a8c8" d="M381 520h1v1h-1zM337 549h1v1h-1zM345 549h1v1h-1z"/><path fill="#a0c840" d="M385 520h1v1h-1z"/><path fill="#2838b0" d="M379 522h1v1h-1zM377 535h1v1h-1zM376 536h1v1h-1zM371 543h1v1h-1zM370 545h1v1h-1zM357 546h1v1h-1zM346 547h1v1h-1zM369 548h1v1h-1z"/><path fill="#e0c830" d="M381 524h1v1h-1z"/><path fill="#4098d8" d="M380 526h1v1h-1z"/><path fill="#3050b8" d="M380 527h1v1h-1zM378 536h1v1h-1z"/><path fill="#b8d038" d="M379 528h1v1h-1z"/><path fill="#60b870" d="M379 529h1v1h-1zM357 548h1v1h-1z"/><path fill="#3870c8" d="M380 532h1v1h-1zM366 546h1v1h-1z"/><path fill="#40a8d0" d="M376 533h1v1h-1z"/><path fill="#48a8d0" d="M377 537h1v1h-1z"/><path fill="#50b0a8" d="M375 539h1v1h-1z"/><path fill="#68b860" d="M376 540h1v1h-1z"/><path fill="#40a0d8" d="M372 542h1v1h-1z"/><path fill="#58b888" d="M373 542h1v1h-1z"/><path fill="#50b0b8" d="M373 544h1v1h-1z"/><path fill="#48a8b8" d="M363 545h1v1h-1zM356 546h1v1h-1zM358 546h1v1h-1z"/><path fill="#58b090" d="M371 545h1v1h-1zM352 547h1v1h-1z"/><path fill="#48a8c0" d="M342 546h1v1h-1z"/><path fill="#2850b8" d="M344 546h1v1h-1zM361 546h1v1h-1zM356 548h1v1h-1z"/><path fill="#4098d0" d="M367 546h1v1h-1z"/><path fill="#50b0b0" d="M368 547h1v1h-1z"/><path fill="#3878c8" d="M336 548h1v1h-1zM348 548h1v1h-1z"/><path fill="#d0d838" d="M349 548h1v1h-1z"/><path fill="#60b868" d="M355 548h1v1h-1z"/><path fill="#50b098" d="M340 549h1v1h-1z"/></g>
<ellipse cx="330" cy="548.5" rx="4.5" ry="2.4" fill="#dfe2f2" opacity="0.85" filter="url(#bl)"/>
<ellipse cx="343.80" cy="548.00" rx="1.50" ry="1.10" fill="#e8802e" opacity="1" filter="url(#bl)"/>
<ellipse cx="349.60" cy="547.00" rx="1.30" ry="1.00" fill="#e8802e" opacity="1" filter="url(#bl)"/>
<ellipse cx="388.00" cy="514.50" rx="2.00" ry="1.20" fill="#e8802e" opacity="1" filter="url(#bl)"/>
<ellipse cx="379.00" cy="536.00" rx="1.00" ry="1.00" fill="#e8802e" opacity="1" filter="url(#bl)"/>
<line x1="348.50" y1="489.50" x2="348.50" y2="567.40" stroke="#555" stroke-width="0.85"/>
<line x1="316.40" y1="526.50" x2="393.60" y2="526.50" stroke="#555" stroke-width="0.85"/>
<line x1="314.90" y1="531.48" x2="316.40" y2="531.48" stroke="#000" stroke-width="0.8"/>
<line x1="314.90" y1="527.96" x2="316.40" y2="527.96" stroke="#000" stroke-width="0.8"/>
<line x1="314.90" y1="525.46" x2="316.40" y2="525.46" stroke="#000" stroke-width="0.8"/>
<line x1="314.90" y1="523.52" x2="316.40" y2="523.52" stroke="#000" stroke-width="0.8"/>
<line x1="314.90" y1="521.94" x2="316.40" y2="521.94" stroke="#000" stroke-width="0.8"/>
<line x1="314.90" y1="520.60" x2="316.40" y2="520.60" stroke="#000" stroke-width="0.8"/>
<line x1="314.90" y1="519.44" x2="316.40" y2="519.44" stroke="#000" stroke-width="0.8"/>
<line x1="314.90" y1="518.42" x2="316.40" y2="518.42" stroke="#000" stroke-width="0.8"/>
<line x1="314.90" y1="511.84" x2="316.40" y2="511.84" stroke="#000" stroke-width="0.8"/>
<line x1="314.90" y1="508.53" x2="316.40" y2="508.53" stroke="#000" stroke-width="0.8"/>
<line x1="314.90" y1="506.18" x2="316.40" y2="506.18" stroke="#000" stroke-width="0.8"/>
<line x1="314.90" y1="504.36" x2="316.40" y2="504.36" stroke="#000" stroke-width="0.8"/>
<line x1="314.90" y1="502.87" x2="316.40" y2="502.87" stroke="#000" stroke-width="0.8"/>
<line x1="314.90" y1="501.61" x2="316.40" y2="501.61" stroke="#000" stroke-width="0.8"/>
<line x1="314.90" y1="500.52" x2="316.40" y2="500.52" stroke="#000" stroke-width="0.8"/>
<line x1="314.90" y1="499.56" x2="316.40" y2="499.56" stroke="#000" stroke-width="0.8"/>
<line x1="314.90" y1="545.97" x2="316.40" y2="545.97" stroke="#000" stroke-width="0.8"/>
<line x1="314.90" y1="552.50" x2="316.40" y2="552.50" stroke="#000" stroke-width="0.8"/>
<line x1="314.90" y1="543.15" x2="316.40" y2="543.15" stroke="#000" stroke-width="0.8"/>
<line x1="314.90" y1="556.20" x2="316.40" y2="556.20" stroke="#000" stroke-width="0.8"/>
<line x1="314.90" y1="540.33" x2="316.40" y2="540.33" stroke="#000" stroke-width="0.8"/>
<line x1="314.90" y1="559.90" x2="316.40" y2="559.90" stroke="#000" stroke-width="0.8"/>
<line x1="313.80" y1="498.70" x2="316.40" y2="498.70" stroke="#000" stroke-width="0.8"/>
<line x1="313.80" y1="517.50" x2="316.40" y2="517.50" stroke="#000" stroke-width="0.8"/>
<line x1="313.80" y1="537.50" x2="316.40" y2="537.50" stroke="#000" stroke-width="0.8"/>
<line x1="313.80" y1="548.80" x2="316.40" y2="548.80" stroke="#000" stroke-width="0.8"/>
<line x1="313.80" y1="563.60" x2="316.40" y2="563.60" stroke="#000" stroke-width="0.8"/>
<line x1="352.72" y1="567.40" x2="352.72" y2="568.90" stroke="#000" stroke-width="0.8"/>
<line x1="356.07" y1="567.40" x2="356.07" y2="568.90" stroke="#000" stroke-width="0.8"/>
<line x1="358.44" y1="567.40" x2="358.44" y2="568.90" stroke="#000" stroke-width="0.8"/>
<line x1="360.28" y1="567.40" x2="360.28" y2="568.90" stroke="#000" stroke-width="0.8"/>
<line x1="361.78" y1="567.40" x2="361.78" y2="568.90" stroke="#000" stroke-width="0.8"/>
<line x1="363.06" y1="567.40" x2="363.06" y2="568.90" stroke="#000" stroke-width="0.8"/>
<line x1="364.16" y1="567.40" x2="364.16" y2="568.90" stroke="#000" stroke-width="0.8"/>
<line x1="365.13" y1="567.40" x2="365.13" y2="568.90" stroke="#000" stroke-width="0.8"/>
<line x1="371.87" y1="567.40" x2="371.87" y2="568.90" stroke="#000" stroke-width="0.8"/>
<line x1="375.30" y1="567.40" x2="375.30" y2="568.90" stroke="#000" stroke-width="0.8"/>
<line x1="377.74" y1="567.40" x2="377.74" y2="568.90" stroke="#000" stroke-width="0.8"/>
<line x1="379.63" y1="567.40" x2="379.63" y2="568.90" stroke="#000" stroke-width="0.8"/>
<line x1="381.17" y1="567.40" x2="381.17" y2="568.90" stroke="#000" stroke-width="0.8"/>
<line x1="382.48" y1="567.40" x2="382.48" y2="568.90" stroke="#000" stroke-width="0.8"/>
<line x1="383.61" y1="567.40" x2="383.61" y2="568.90" stroke="#000" stroke-width="0.8"/>
<line x1="384.61" y1="567.40" x2="384.61" y2="568.90" stroke="#000" stroke-width="0.8"/>
<line x1="336.50" y1="567.40" x2="336.50" y2="568.90" stroke="#000" stroke-width="0.8"/>
<line x1="330.00" y1="567.40" x2="330.00" y2="568.90" stroke="#000" stroke-width="0.8"/>
<line x1="340.00" y1="567.40" x2="340.00" y2="568.90" stroke="#000" stroke-width="0.8"/>
<line x1="327.00" y1="567.40" x2="327.00" y2="568.90" stroke="#000" stroke-width="0.8"/>
<line x1="343.50" y1="567.40" x2="343.50" y2="568.90" stroke="#000" stroke-width="0.8"/>
<line x1="324.00" y1="567.40" x2="324.00" y2="568.90" stroke="#000" stroke-width="0.8"/>
<line x1="321.00" y1="567.40" x2="321.00" y2="570.00" stroke="#000" stroke-width="0.8"/>
<line x1="333.00" y1="567.40" x2="333.00" y2="570.00" stroke="#000" stroke-width="0.8"/>
<line x1="347.00" y1="567.40" x2="347.00" y2="570.00" stroke="#000" stroke-width="0.8"/>
<line x1="366.00" y1="567.40" x2="366.00" y2="570.00" stroke="#000" stroke-width="0.8"/>
<line x1="385.50" y1="567.40" x2="385.50" y2="570.00" stroke="#000" stroke-width="0.8"/>
<rect x="313.20" y="547.50" width="3.20" height="2.60" fill="#000"/>
<rect x="331.50" y="567.40" width="3.00" height="2.60" fill="#000"/>
<rect x="316.40" y="489.50" width="77.20" height="77.90" fill="none" stroke="#000" stroke-width="1.3"/>
<text x="288.20" y="527.60" font-size="9.4" text-anchor="middle" textLength="20.50" lengthAdjust="spacingAndGlyphs" transform="rotate(-90 288.20 527.60) translate(288.20 527.60) scale(1 1.18) translate(-288.20 -527.60)">7AAD</text>
<text x="326.50" y="483.70" font-size="10.0" textLength="55.90" lengthAdjust="spacingAndGlyphs" transform="translate(326.50 483.70) scale(1 1.18) translate(-326.50 -483.70)">CD94<tspan dy="-3.3" font-size="5.5">+</tspan><tspan dy="3.3">iNKT</tspan></text>
<text x="322.60" y="503.50" font-size="8.2" textLength="5.00" lengthAdjust="spacingAndGlyphs" transform="translate(322.60 503.50) scale(1 1.18) translate(-322.60 -503.50)">0</text>
<text x="387.70" y="503.50" font-size="8.2" text-anchor="end" textLength="15.50" lengthAdjust="spacingAndGlyphs" transform="translate(387.70 503.50) scale(1 1.18) translate(-387.70 -503.50)">18.5</text>
<text x="320.80" y="559.60" font-size="8.2" textLength="15.50" lengthAdjust="spacingAndGlyphs" transform="translate(320.80 559.60) scale(1 1.18) translate(-320.80 -559.60)">46.9</text>
<text x="387.70" y="559.60" font-size="8.2" text-anchor="end" textLength="15.50" lengthAdjust="spacingAndGlyphs" transform="translate(387.70 559.60) scale(1 1.18) translate(-387.70 -559.60)">34.6</text>
<text x="325.40" y="599.20" font-size="9.6" textLength="58.80" lengthAdjust="spacingAndGlyphs" transform="translate(325.40 599.20) scale(1 1.18) translate(-325.40 -599.20)">APC - Annexin V</text>
<text x="309.50" y="502.90" font-size="8.2" text-anchor="end" transform="translate(309.50 502.90) scale(1 1.18) translate(-309.50 -502.90)">10<tspan dy="-3" font-size="5">5</tspan></text>
<text x="309.50" y="521.70" font-size="8.2" text-anchor="end" transform="translate(309.50 521.70) scale(1 1.18) translate(-309.50 -521.70)">10<tspan dy="-3" font-size="5">4</tspan></text>
<text x="309.50" y="541.70" font-size="8.2" text-anchor="end" transform="translate(309.50 541.70) scale(1 1.18) translate(-309.50 -541.70)">10<tspan dy="-3" font-size="5">3</tspan></text>
<text x="308.30" y="553.00" font-size="8.2" text-anchor="end" transform="translate(308.30 553.00) scale(1 1.18) translate(-308.30 -553.00)">0</text>
<text x="309.50" y="567.80" font-size="8.2" text-anchor="end" transform="translate(309.50 567.80) scale(1 1.18) translate(-309.50 -567.80)">-10<tspan dy="-3" font-size="5">3</tspan></text>
<text x="320.80" y="584.70" font-size="8.2" text-anchor="middle" transform="translate(320.80 584.70) scale(1 1.18) translate(-320.80 -584.70)">-10<tspan dy="-3" font-size="5">3</tspan></text>
<text x="333.40" y="584.70" font-size="8.2" text-anchor="middle" transform="translate(333.40 584.70) scale(1 1.18) translate(-333.40 -584.70)">0</text>
<text x="346.70" y="584.70" font-size="8.2" text-anchor="middle" transform="translate(346.70 584.70) scale(1 1.18) translate(-346.70 -584.70)">10<tspan dy="-3" font-size="5">3</tspan></text>
<text x="365.80" y="584.70" font-size="8.2" text-anchor="middle" transform="translate(365.80 584.70) scale(1 1.18) translate(-365.80 -584.70)">10<tspan dy="-3" font-size="5">4</tspan></text>
<text x="385.40" y="584.70" font-size="8.2" text-anchor="middle" transform="translate(385.40 584.70) scale(1 1.18) translate(-385.40 -584.70)">10<tspan dy="-3" font-size="5">5</tspan></text>
<line x1="455.80" y1="480.40" x2="455.80" y2="567.60" stroke="#000" stroke-width="1.3"/>
<line x1="455.20" y1="567.00" x2="512.00" y2="567.00" stroke="#000" stroke-width="1.3"/>
<line x1="452.80" y1="567.00" x2="455.80" y2="567.00" stroke="#000" stroke-width="1.1"/>
<text x="448.50" y="570.10" font-size="9.0" text-anchor="end" transform="translate(448.50 570.10) scale(1 1.18) translate(-448.50 -570.10)">0</text>
<line x1="452.80" y1="545.90" x2="455.80" y2="545.90" stroke="#000" stroke-width="1.1"/>
<text x="448.50" y="549.00" font-size="9.0" text-anchor="end" transform="translate(448.50 549.00) scale(1 1.18) translate(-448.50 -549.00)">20</text>
<line x1="452.80" y1="524.80" x2="455.80" y2="524.80" stroke="#000" stroke-width="1.1"/>
<text x="448.50" y="527.90" font-size="9.0" text-anchor="end" transform="translate(448.50 527.90) scale(1 1.18) translate(-448.50 -527.90)">40</text>
<line x1="452.80" y1="503.70" x2="455.80" y2="503.70" stroke="#000" stroke-width="1.1"/>
<text x="448.50" y="506.80" font-size="9.0" text-anchor="end" transform="translate(448.50 506.80) scale(1 1.18) translate(-448.50 -506.80)">60</text>
<line x1="452.80" y1="482.60" x2="455.80" y2="482.60" stroke="#000" stroke-width="1.1"/>
<text x="448.50" y="485.70" font-size="9.0" text-anchor="end" transform="translate(448.50 485.70) scale(1 1.18) translate(-448.50 -485.70)">80</text>
<rect x="461.80" y="519.52" width="11.10" height="47.48" fill="#8e95c3"/>
<rect x="461.80" y="552.23" width="11.10" height="14.77" fill="#e0957f"/>
<line x1="467.35" y1="524.80" x2="467.35" y2="513.20" stroke="#3c5a93" stroke-width="1.1"/>
<line x1="464.75" y1="524.80" x2="469.95" y2="524.80" stroke="#3c5a93" stroke-width="1.1"/>
<line x1="464.75" y1="513.20" x2="469.95" y2="513.20" stroke="#3c5a93" stroke-width="1.1"/>
<line x1="467.35" y1="559.62" x2="467.35" y2="545.90" stroke="#c0174a" stroke-width="1.3"/>
<line x1="464.75" y1="559.62" x2="469.95" y2="559.62" stroke="#c0174a" stroke-width="1.3"/>
<line x1="464.75" y1="545.90" x2="469.95" y2="545.90" stroke="#c0174a" stroke-width="1.3"/>
<line x1="467.35" y1="567.00" x2="467.35" y2="570.00" stroke="#000" stroke-width="1"/>
<rect x="478.50" y="494.20" width="11.10" height="72.80" fill="#8e95c3"/>
<rect x="478.50" y="552.23" width="11.10" height="14.77" fill="#e0957f"/>
<line x1="484.05" y1="501.59" x2="484.05" y2="485.76" stroke="#3c5a93" stroke-width="1.1"/>
<line x1="481.45" y1="501.59" x2="486.65" y2="501.59" stroke="#3c5a93" stroke-width="1.1"/>
<line x1="481.45" y1="485.76" x2="486.65" y2="485.76" stroke="#3c5a93" stroke-width="1.1"/>
<line x1="484.05" y1="556.45" x2="484.05" y2="546.96" stroke="#c0174a" stroke-width="1.3"/>
<line x1="481.45" y1="556.45" x2="486.65" y2="556.45" stroke="#c0174a" stroke-width="1.3"/>
<line x1="481.45" y1="546.96" x2="486.65" y2="546.96" stroke="#c0174a" stroke-width="1.3"/>
<line x1="484.05" y1="567.00" x2="484.05" y2="570.00" stroke="#000" stroke-width="1"/>
<rect x="495.30" y="506.87" width="11.10" height="60.13" fill="#8e95c3"/>
<rect x="495.30" y="554.34" width="11.10" height="12.66" fill="#e0957f"/>
<line x1="500.85" y1="515.30" x2="500.85" y2="497.37" stroke="#3c5a93" stroke-width="1.1"/>
<line x1="498.25" y1="515.30" x2="503.45" y2="515.30" stroke="#3c5a93" stroke-width="1.1"/>
<line x1="498.25" y1="497.37" x2="503.45" y2="497.37" stroke="#3c5a93" stroke-width="1.1"/>
<line x1="500.85" y1="558.56" x2="500.85" y2="551.17" stroke="#c0174a" stroke-width="1.3"/>
<line x1="498.25" y1="558.56" x2="503.45" y2="558.56" stroke="#c0174a" stroke-width="1.3"/>
<line x1="498.25" y1="551.17" x2="503.45" y2="551.17" stroke="#c0174a" stroke-width="1.3"/>
<line x1="500.85" y1="567.00" x2="500.85" y2="570.00" stroke="#000" stroke-width="1"/>
<line x1="455.80" y1="567.00" x2="512.00" y2="567.00" stroke="#000" stroke-width="1.3"/>
<line x1="466.30" y1="482.50" x2="501.80" y2="482.50" stroke="#000" stroke-width="1.1"/>
<line x1="484.20" y1="482.50" x2="484.20" y2="484.00" stroke="#000" stroke-width="1"/>
<polygon points="475.40,476.50 475.87,477.65 477.11,477.74 476.16,478.55 476.46,479.76 475.40,479.10 474.34,479.76 474.64,478.55 473.69,477.74 474.93,477.65" fill="#222"/>
<polygon points="493.00,476.50 493.47,477.65 494.71,477.74 493.76,478.55 494.06,479.76 493.00,479.10 491.94,479.76 492.24,478.55 491.29,477.74 492.53,477.65" fill="#222"/>
<text x="467.00" y="581.50" font-size="9.0" text-anchor="middle" transform="translate(467.00 581.50) scale(1 1.18) translate(-467.00 -581.50)">-</text>
<text x="467.00" y="594.60" font-size="9.0" text-anchor="middle" transform="translate(467.00 594.60) scale(1 1.18) translate(-467.00 -594.60)">+</text>
<text x="484.20" y="581.50" font-size="9.0" text-anchor="middle" transform="translate(484.20 581.50) scale(1 1.18) translate(-484.20 -581.50)">+</text>
<text x="484.20" y="594.60" font-size="9.0" text-anchor="middle" transform="translate(484.20 594.60) scale(1 1.18) translate(-484.20 -594.60)">-</text>
<text x="500.80" y="581.50" font-size="9.0" text-anchor="middle" transform="translate(500.80 581.50) scale(1 1.18) translate(-500.80 -581.50)">-</text>
<text x="500.80" y="594.60" font-size="9.0" text-anchor="middle" transform="translate(500.80 594.60) scale(1 1.18) translate(-500.80 -594.60)">-</text>
<text x="425.40" y="581.50" font-size="9.4" textLength="23.60" lengthAdjust="spacingAndGlyphs" transform="translate(425.40 581.50) scale(1 1.18) translate(-425.40 -581.50)">CD94</text>
<text x="431.00" y="594.60" font-size="9.4" textLength="18.00" lengthAdjust="spacingAndGlyphs" transform="translate(431.00 594.60) scale(1 1.18) translate(-431.00 -594.60)">CD4</text>
<text x="420.80" y="523.70" font-size="9.4" text-anchor="middle" textLength="56.00" lengthAdjust="spacingAndGlyphs" transform="rotate(-90 420.80 523.70) translate(420.80 523.70) scale(1 1.18) translate(-420.80 -523.70)">iNKT-mediated</text>
<text x="431.80" y="522.70" font-size="9.4" text-anchor="middle" textLength="87.50" lengthAdjust="spacingAndGlyphs" transform="rotate(-90 431.80 522.70) translate(431.80 522.70) scale(1 1.18) translate(-431.80 -522.70)">allo-mDC cell death (%)</text>
<rect x="455.80" y="603.50" width="7.00" height="6.40" fill="#d98c80"/>
<rect x="455.80" y="618.00" width="7.00" height="6.70" fill="#8e95c3"/>
<text x="466.00" y="610.40" font-size="8.6" textLength="42.00" lengthAdjust="spacingAndGlyphs" transform="translate(466.00 610.40) scale(1 1.02) translate(-466.00 -610.40)">AnV<tspan dy="-3.3" font-size="5.2">+</tspan><tspan dy="3.3">7AAD</tspan><tspan dy="-3.3" font-size="5.2">-</tspan></text>
<text x="466.00" y="625.00" font-size="8.6" textLength="42.00" lengthAdjust="spacingAndGlyphs" transform="translate(466.00 625.00) scale(1 1.02) translate(-466.00 -625.00)">AnV<tspan dy="-3.3" font-size="5.2">+</tspan><tspan dy="3.3">7AAD</tspan><tspan dy="-3.3" font-size="5.2">+</tspan></text>
<path d="M88.0 668.5L88.0 668.5L88.4 668.5L88.8 668.5L89.1 668.5L89.5 668.5L89.9 668.5L90.3 668.5L90.6 668.5L91.0 668.5L91.4 668.5L91.8 668.4L92.2 668.4L92.5 668.3L92.9 668.3L93.3 668.2L93.7 668.0L94.0 667.9L94.4 667.7L94.8 667.6L95.2 667.4L95.6 667.2L95.9 667.0L96.3 666.8L96.7 666.6L97.1 666.4L97.4 666.3L97.8 666.1L98.2 665.9L98.6 665.7L99.0 665.4L99.3 665.1L99.7 664.8L100.1 664.4L100.5 663.9L100.8 663.5L101.2 663.1L101.6 662.7L102.0 662.3L102.4 662.1L102.7 661.9L103.1 661.8L103.5 661.8L103.9 661.9L104.2 662.1L104.6 662.2L105.0 662.3L105.4 662.4L105.8 662.3L106.1 662.1L106.5 661.7L106.9 661.1L107.3 660.3L107.6 659.4L108.0 658.4L108.4 657.4L108.8 656.4L109.2 655.5L109.5 654.9L109.9 654.4L110.3 654.3L110.7 654.6L111.0 655.1L111.4 655.9L111.8 656.9L112.2 658.2L112.6 659.5L112.9 660.8L113.3 662.1L113.7 663.3L114.1 664.4L114.4 665.3L114.8 666.1L115.2 666.7L115.6 667.2L116.0 667.6L116.3 667.9L116.7 668.1L117.1 668.2L117.5 668.3L117.8 668.4L118.2 668.4L118.6 668.5L119.0 668.5L119.4 668.5L119.7 668.5L120.1 668.5L120.5 668.5L120.9 668.5L121.2 668.5L121.6 668.5L122.0 668.5L122.0 668.5Z" fill="#d98878"/>
<line x1="49.80" y1="668.50" x2="127.00" y2="668.50" stroke="#e8c0b8" stroke-width="0.6"/>
<path d="M88.0 687.3L88.0 687.3L88.4 687.3L88.7 687.3L89.1 687.3L89.5 687.2L89.8 687.2L90.2 687.2L90.6 687.1L90.9 687.0L91.3 686.8L91.7 686.7L92.0 686.5L92.4 686.3L92.8 686.0L93.1 685.8L93.5 685.7L93.9 685.5L94.2 685.3L94.6 685.2L95.0 685.0L95.3 684.8L95.7 684.6L96.1 684.2L96.4 683.8L96.8 683.4L97.2 682.8L97.5 682.3L97.9 681.8L98.3 681.3L98.6 680.8L99.0 680.4L99.4 680.0L99.7 679.4L100.1 678.8L100.5 678.0L100.8 677.0L101.2 675.8L101.6 674.6L101.9 673.5L102.3 672.6L102.7 672.2L103.0 672.2L103.4 672.9L103.8 673.9L104.1 675.4L104.5 677.0L104.9 678.5L105.2 679.8L105.6 680.7L106.0 681.2L106.3 681.2L106.7 680.8L107.1 680.1L107.4 679.2L107.8 678.4L108.2 677.7L108.5 677.2L108.9 677.1L109.3 677.3L109.6 677.8L110.0 678.5L110.4 679.4L110.7 680.2L111.1 681.0L111.5 681.7L111.8 682.3L112.2 682.8L112.6 683.2L112.9 683.5L113.3 683.8L113.7 684.2L114.0 684.6L114.4 685.0L114.8 685.4L115.1 685.8L115.5 686.2L115.9 686.5L116.2 686.7L116.6 686.9L117.0 687.1L117.3 687.2L117.7 687.2L118.1 687.3L118.4 687.3L118.8 687.3L119.2 687.3L119.5 687.3L119.9 687.3L120.3 687.3L120.6 687.3L121.0 687.3L121.0 687.3Z" fill="#d98878"/>
<line x1="49.80" y1="687.30" x2="127.00" y2="687.30" stroke="#e8c0b8" stroke-width="0.6"/>
<path d="M83.0 707.5L83.0 707.5L83.4 707.5L83.8 707.5L84.2 707.5L84.6 707.4L84.9 707.4L85.3 707.3L85.7 707.2L86.1 707.1L86.5 706.9L86.9 706.7L87.3 706.4L87.7 706.2L88.1 705.9L88.4 705.6L88.8 705.3L89.2 705.0L89.6 704.7L90.0 704.4L90.4 704.1L90.8 703.7L91.2 703.3L91.6 703.0L91.9 702.7L92.3 702.5L92.7 702.3L93.1 702.3L93.5 702.4L93.9 702.6L94.3 702.7L94.7 702.7L95.1 702.5L95.4 701.9L95.8 700.9L96.2 699.5L96.6 697.7L97.0 695.9L97.4 694.3L97.8 693.1L98.2 692.7L98.6 693.2L98.9 694.4L99.3 696.1L99.7 698.1L100.1 699.9L100.5 701.3L100.9 702.0L101.3 701.9L101.7 701.2L102.1 699.8L102.4 698.2L102.8 696.5L103.2 695.1L103.6 694.2L104.0 694.1L104.4 694.6L104.8 695.8L105.2 697.2L105.6 698.7L105.9 700.1L106.3 701.1L106.7 701.8L107.1 702.1L107.5 702.3L107.9 702.3L108.3 702.3L108.7 702.4L109.1 702.6L109.4 703.0L109.8 703.4L110.2 703.9L110.6 704.5L111.0 705.0L111.4 705.5L111.8 706.0L112.2 706.4L112.6 706.7L112.9 706.9L113.3 707.1L113.7 707.3L114.1 707.3L114.5 707.4L114.9 707.4L115.3 707.5L115.7 707.5L116.1 707.5L116.4 707.5L116.8 707.5L117.2 707.5L117.6 707.5L118.0 707.5L118.0 707.5Z" fill="#d98878"/>
<line x1="49.80" y1="707.50" x2="127.00" y2="707.50" stroke="#e8c0b8" stroke-width="0.6"/>
<path d="M103.0 727.0L103.0 727.0L103.2 727.0L103.4 727.0L103.6 727.0L103.8 727.0L104.0 727.0L104.2 727.0L104.4 727.0L104.6 727.0L104.8 727.0L105.0 727.0L105.2 727.0L105.4 727.0L105.6 726.9L105.8 726.9L106.0 726.9L106.2 726.8L106.4 726.8L106.6 726.7L106.8 726.6L107.0 726.4L107.2 726.3L107.4 726.1L107.6 725.8L107.8 725.5L108.0 725.2L108.2 724.8L108.4 724.3L108.6 723.8L108.8 723.3L109.0 722.7L109.2 722.0L109.4 721.2L109.6 720.4L109.8 719.6L110.0 718.7L110.2 717.7L110.4 716.7L110.6 715.7L110.8 714.7L111.0 713.7L111.2 712.7L111.4 711.8L111.6 711.0L111.8 710.3L112.0 709.8L112.2 709.4L112.4 709.3L112.6 709.3L112.8 709.6L113.0 710.1L113.2 710.8L113.4 711.6L113.6 712.6L113.8 713.6L114.0 714.8L114.2 716.0L114.4 717.2L114.6 718.4L114.8 719.5L115.0 720.6L115.2 721.5L115.4 722.4L115.6 723.2L115.8 723.9L116.0 724.5L116.2 725.0L116.4 725.5L116.6 725.8L116.8 726.1L117.0 726.3L117.2 726.5L117.4 726.6L117.6 726.7L117.8 726.8L118.0 726.9L118.2 726.9L118.4 726.9L118.6 727.0L118.8 727.0L119.0 727.0L119.2 727.0L119.4 727.0L119.6 727.0L119.8 727.0L120.0 727.0L120.2 727.0L120.4 727.0L120.6 727.0L120.8 727.0L121.0 727.0L121.0 727.0Z" fill="#d98878"/>
<line x1="49.80" y1="727.00" x2="127.00" y2="727.00" stroke="#e8c0b8" stroke-width="0.6"/>
<line x1="50.40" y1="727.00" x2="50.40" y2="730.00" stroke="#000" stroke-width="0.9"/>
<line x1="56.48" y1="727.00" x2="56.48" y2="728.70" stroke="#000" stroke-width="0.7"/>
<line x1="60.04" y1="727.00" x2="60.04" y2="728.70" stroke="#000" stroke-width="0.7"/>
<line x1="62.56" y1="727.00" x2="62.56" y2="728.70" stroke="#000" stroke-width="0.7"/>
<line x1="64.52" y1="727.00" x2="64.52" y2="728.70" stroke="#000" stroke-width="0.7"/>
<line x1="66.12" y1="727.00" x2="66.12" y2="728.70" stroke="#000" stroke-width="0.7"/>
<line x1="67.47" y1="727.00" x2="67.47" y2="728.70" stroke="#000" stroke-width="0.7"/>
<line x1="68.64" y1="727.00" x2="68.64" y2="728.70" stroke="#000" stroke-width="0.7"/>
<line x1="69.68" y1="727.00" x2="69.68" y2="728.70" stroke="#000" stroke-width="0.7"/>
<line x1="70.60" y1="727.00" x2="70.60" y2="730.00" stroke="#000" stroke-width="0.9"/>
<line x1="76.68" y1="727.00" x2="76.68" y2="728.70" stroke="#000" stroke-width="0.7"/>
<line x1="80.24" y1="727.00" x2="80.24" y2="728.70" stroke="#000" stroke-width="0.7"/>
<line x1="82.76" y1="727.00" x2="82.76" y2="728.70" stroke="#000" stroke-width="0.7"/>
<line x1="84.72" y1="727.00" x2="84.72" y2="728.70" stroke="#000" stroke-width="0.7"/>
<line x1="86.32" y1="727.00" x2="86.32" y2="728.70" stroke="#000" stroke-width="0.7"/>
<line x1="87.67" y1="727.00" x2="87.67" y2="728.70" stroke="#000" stroke-width="0.7"/>
<line x1="88.84" y1="727.00" x2="88.84" y2="728.70" stroke="#000" stroke-width="0.7"/>
<line x1="89.88" y1="727.00" x2="89.88" y2="728.70" stroke="#000" stroke-width="0.7"/>
<line x1="90.80" y1="727.00" x2="90.80" y2="730.00" stroke="#000" stroke-width="0.9"/>
<line x1="96.88" y1="727.00" x2="96.88" y2="728.70" stroke="#000" stroke-width="0.7"/>
<line x1="100.44" y1="727.00" x2="100.44" y2="728.70" stroke="#000" stroke-width="0.7"/>
<line x1="102.96" y1="727.00" x2="102.96" y2="728.70" stroke="#000" stroke-width="0.7"/>
<line x1="104.92" y1="727.00" x2="104.92" y2="728.70" stroke="#000" stroke-width="0.7"/>
<line x1="106.52" y1="727.00" x2="106.52" y2="728.70" stroke="#000" stroke-width="0.7"/>
<line x1="107.87" y1="727.00" x2="107.87" y2="728.70" stroke="#000" stroke-width="0.7"/>
<line x1="109.04" y1="727.00" x2="109.04" y2="728.70" stroke="#000" stroke-width="0.7"/>
<line x1="110.08" y1="727.00" x2="110.08" y2="728.70" stroke="#000" stroke-width="0.7"/>
<line x1="111.00" y1="727.00" x2="111.00" y2="730.00" stroke="#000" stroke-width="0.9"/>
<line x1="120.80" y1="727.00" x2="120.80" y2="730.00" stroke="#000" stroke-width="0.9"/>
<rect x="49.80" y="648.80" width="77.20" height="78.20" fill="none" stroke="#000" stroke-width="1.3"/>
<text x="52.50" y="663.90" font-size="9.0" textLength="27.00" lengthAdjust="spacingAndGlyphs" transform="translate(52.50 663.90) scale(1 1.18) translate(-52.50 -663.90)">+CD94<tspan dy="-3.2" font-size="5">-</tspan></text>
<text x="52.50" y="684.60" font-size="9.0" textLength="22.50" lengthAdjust="spacingAndGlyphs" transform="translate(52.50 684.60) scale(1 1.18) translate(-52.50 -684.60)">+iNKT</text>
<text x="52.50" y="703.50" font-size="9.0" textLength="33.00" lengthAdjust="spacingAndGlyphs" transform="translate(52.50 703.50) scale(1 1.18) translate(-52.50 -703.50)">+CD3/28</text>
<text x="52.50" y="723.70" font-size="9.0" textLength="19.00" lengthAdjust="spacingAndGlyphs" transform="translate(52.50 723.70) scale(1 1.18) translate(-52.50 -723.70)">CD3<tspan dy="-3.2" font-size="5">+</tspan></text>
<text x="50.40" y="743.90" font-size="8.4" text-anchor="middle" textLength="12.00" lengthAdjust="spacingAndGlyphs" transform="translate(50.40 743.90) scale(1 1.18) translate(-50.40 -743.90)">10<tspan dy="-3" font-size="5">2</tspan></text>
<text x="72.70" y="743.90" font-size="8.4" text-anchor="middle" textLength="12.00" lengthAdjust="spacingAndGlyphs" transform="translate(72.70 743.90) scale(1 1.18) translate(-72.70 -743.90)">10<tspan dy="-3" font-size="5">3</tspan></text>
<text x="95.00" y="743.90" font-size="8.4" text-anchor="middle" textLength="12.00" lengthAdjust="spacingAndGlyphs" transform="translate(95.00 743.90) scale(1 1.18) translate(-95.00 -743.90)">10<tspan dy="-3" font-size="5">4</tspan></text>
<text x="117.30" y="743.90" font-size="8.4" text-anchor="middle" textLength="12.00" lengthAdjust="spacingAndGlyphs" transform="translate(117.30 743.90) scale(1 1.18) translate(-117.30 -743.90)">10<tspan dy="-3" font-size="5">5</tspan></text>
<text x="38.50" y="756.80" font-size="9.4" textLength="101.50" lengthAdjust="spacingAndGlyphs" transform="translate(38.50 756.80) scale(1 1.18) translate(-38.50 -756.80)">Pacific blue -celltrace violet</text>
<line x1="217.50" y1="639.20" x2="217.50" y2="726.90" stroke="#000" stroke-width="1.3"/>
<line x1="216.90" y1="726.30" x2="273.00" y2="726.30" stroke="#000" stroke-width="1.3"/>
<line x1="214.50" y1="726.30" x2="217.50" y2="726.30" stroke="#000" stroke-width="1.1"/>
<text x="212.30" y="729.40" font-size="9.0" text-anchor="end" textLength="12.00" lengthAdjust="spacingAndGlyphs" transform="translate(212.30 729.40) scale(1 1.18) translate(-212.30 -729.40)">0.0</text>
<line x1="214.50" y1="698.60" x2="217.50" y2="698.60" stroke="#000" stroke-width="1.1"/>
<text x="212.30" y="701.70" font-size="9.0" text-anchor="end" textLength="12.00" lengthAdjust="spacingAndGlyphs" transform="translate(212.30 701.70) scale(1 1.18) translate(-212.30 -701.70)">0.5</text>
<line x1="214.50" y1="670.90" x2="217.50" y2="670.90" stroke="#000" stroke-width="1.1"/>
<text x="212.30" y="674.00" font-size="9.0" text-anchor="end" textLength="12.00" lengthAdjust="spacingAndGlyphs" transform="translate(212.30 674.00) scale(1 1.18) translate(-212.30 -674.00)">1.0</text>
<line x1="214.50" y1="643.20" x2="217.50" y2="643.20" stroke="#000" stroke-width="1.1"/>
<text x="212.30" y="646.30" font-size="9.0" text-anchor="end" textLength="12.00" lengthAdjust="spacingAndGlyphs" transform="translate(212.30 646.30) scale(1 1.18) translate(-212.30 -646.30)">1.5</text>
<line x1="217.50" y1="670.50" x2="273.80" y2="670.50" stroke="#000" stroke-width="0.9" stroke-dasharray="1.2 1.2"/>
<path d="M229.2 694.6L245.5 687.8L262.5 670.6" stroke="#b5123e" stroke-width="1.15" fill="none"/>
<line x1="229.20" y1="703.20" x2="229.20" y2="686.30" stroke="#b5123e" stroke-width="1.0"/>
<line x1="226.90" y1="703.20" x2="231.50" y2="703.20" stroke="#b5123e" stroke-width="1.0"/>
<line x1="226.90" y1="686.30" x2="231.50" y2="686.30" stroke="#b5123e" stroke-width="1.0"/>
<circle cx="229.2" cy="694.6" r="1.4" fill="#b5123e"/>
<line x1="229.20" y1="726.30" x2="229.20" y2="729.50" stroke="#000" stroke-width="1"/>
<line x1="245.50" y1="695.50" x2="245.50" y2="681.40" stroke="#b5123e" stroke-width="1.0"/>
<line x1="243.20" y1="695.50" x2="247.80" y2="695.50" stroke="#b5123e" stroke-width="1.0"/>
<line x1="243.20" y1="681.40" x2="247.80" y2="681.40" stroke="#b5123e" stroke-width="1.0"/>
<circle cx="245.5" cy="687.8" r="1.4" fill="#b5123e"/>
<line x1="245.50" y1="726.30" x2="245.50" y2="729.50" stroke="#000" stroke-width="1"/>
<line x1="262.50" y1="685.40" x2="262.50" y2="657.70" stroke="#b5123e" stroke-width="1.0"/>
<line x1="260.20" y1="685.40" x2="264.80" y2="685.40" stroke="#b5123e" stroke-width="1.0"/>
<line x1="260.20" y1="657.70" x2="264.80" y2="657.70" stroke="#b5123e" stroke-width="1.0"/>
<circle cx="262.5" cy="670.6" r="1.4" fill="#b5123e"/>
<line x1="262.50" y1="726.30" x2="262.50" y2="729.50" stroke="#000" stroke-width="1"/>
<polygon points="229.20,680.60 229.64,681.69 230.82,681.77 229.91,682.53 230.20,683.68 229.20,683.05 228.20,683.68 228.49,682.53 227.58,681.77 228.76,681.69" fill="#222"/>
<text x="229.20" y="740.00" font-size="9.0" text-anchor="middle" textLength="11.50" lengthAdjust="spacingAndGlyphs" transform="translate(229.20 740.00) scale(1 1.18) translate(-229.20 -740.00)">1:1</text>
<text x="245.50" y="740.00" font-size="9.0" text-anchor="middle" textLength="11.50" lengthAdjust="spacingAndGlyphs" transform="translate(245.50 740.00) scale(1 1.18) translate(-245.50 -740.00)">1:2</text>
<text x="262.50" y="740.00" font-size="9.0" text-anchor="middle" textLength="11.50" lengthAdjust="spacingAndGlyphs" transform="translate(262.50 740.00) scale(1 1.18) translate(-262.50 -740.00)">1:4</text>
<text x="211.40" y="758.60" font-size="9.4" textLength="68.60" lengthAdjust="spacingAndGlyphs" transform="translate(211.40 758.60) scale(1 1.18) translate(-211.40 -758.60)">CD94<tspan dy="-3.2" font-size="5">-</tspan><tspan dy="3.2"> : CD3</tspan><tspan dy="-3.2" font-size="5">+</tspan><tspan dy="3.2"> ratio</tspan></text>
<text x="166.00" y="681.50" font-size="9.4" text-anchor="middle" textLength="81.50" lengthAdjust="spacingAndGlyphs" transform="rotate(-90 166.00 681.50) translate(166.00 681.50) scale(1 1.18) translate(-166.00 -681.50)">T cell suppression by</text>
<text x="179.00" y="681.50" font-size="9.4" text-anchor="middle" textLength="75.00" lengthAdjust="spacingAndGlyphs" transform="rotate(-90 179.00 681.50) translate(179.00 681.50) scale(1 1.18) translate(-179.00 -681.50)">CD94-depleted iNKT</text>
<text x="191.00" y="681.50" font-size="9.4" text-anchor="middle" textLength="101.00" lengthAdjust="spacingAndGlyphs" transform="rotate(-90 191.00 681.50) translate(191.00 681.50) scale(1 1.18) translate(-191.00 -681.50)">(normalized division index)</text>
</svg></body></html>
